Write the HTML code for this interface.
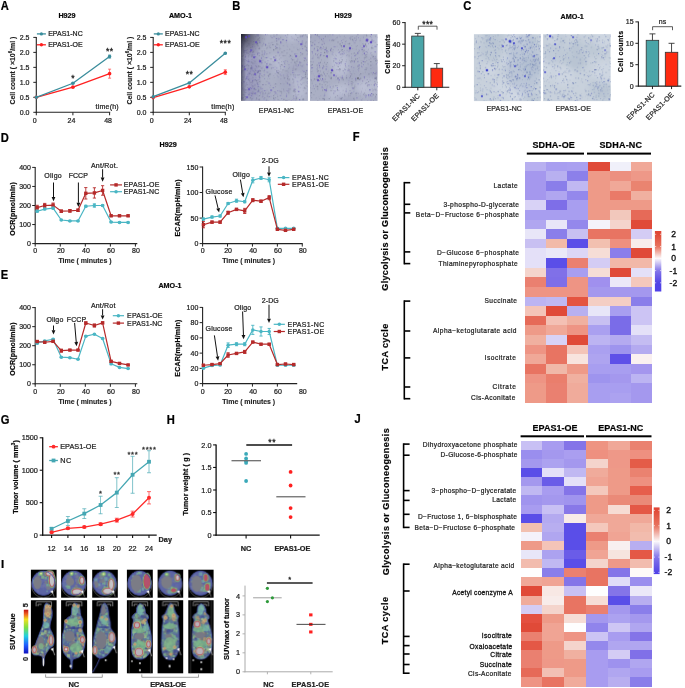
<!DOCTYPE html>
<html><head><meta charset="utf-8"><style>
html,body{margin:0;padding:0;background:#fff;}
body{width:685px;height:688px;overflow:hidden;}
svg{display:block;font-family:"Liberation Sans", sans-serif;will-change:transform;}
</style></head><body>
<svg width="685" height="688" viewBox="0 0 685 688">
<rect width="685" height="688" fill="#fff"/>
<text x="0.80" y="9.80" font-size="12.0" text-anchor="start" font-weight="bold" fill="#000" stroke="#000" stroke-width="0.22" textLength="8.06" lengthAdjust="spacingAndGlyphs">A</text>
<text x="67.00" y="18.20" font-size="7.2" text-anchor="middle" font-weight="bold" stroke="#1a1a1a" stroke-width="0.22">H929</text>
<line x1="36.30" y1="36.90" x2="36.30" y2="112.90" stroke="#222" stroke-width="1.1"/>
<line x1="35.80" y1="112.30" x2="110.20" y2="112.30" stroke="#222" stroke-width="1.1"/>
<line x1="33.30" y1="112.30" x2="36.30" y2="112.30" stroke="#222" stroke-width="1"/>
<text x="29.50" y="114.80" font-size="7" text-anchor="end" fill="#222" stroke="#222" stroke-width="0.22">0.0</text>
<line x1="33.30" y1="97.32" x2="36.30" y2="97.32" stroke="#222" stroke-width="1"/>
<text x="29.50" y="99.82" font-size="7" text-anchor="end" fill="#222" stroke="#222" stroke-width="0.22">0.5</text>
<line x1="33.30" y1="82.34" x2="36.30" y2="82.34" stroke="#222" stroke-width="1"/>
<text x="29.50" y="84.84" font-size="7" text-anchor="end" fill="#222" stroke="#222" stroke-width="0.22">1.0</text>
<line x1="33.30" y1="67.36" x2="36.30" y2="67.36" stroke="#222" stroke-width="1"/>
<text x="29.50" y="69.86" font-size="7" text-anchor="end" fill="#222" stroke="#222" stroke-width="0.22">1.5</text>
<line x1="33.30" y1="52.38" x2="36.30" y2="52.38" stroke="#222" stroke-width="1"/>
<text x="29.50" y="54.88" font-size="7" text-anchor="end" fill="#222" stroke="#222" stroke-width="0.22">2.0</text>
<line x1="33.30" y1="37.40" x2="36.30" y2="37.40" stroke="#222" stroke-width="1"/>
<text x="29.50" y="39.90" font-size="7" text-anchor="end" fill="#222" stroke="#222" stroke-width="0.22">2.5</text>
<line x1="36.30" y1="112.30" x2="36.30" y2="115.30" stroke="#222" stroke-width="1"/>
<text x="34.80" y="123.20" font-size="7" text-anchor="middle" fill="#222" stroke="#222" stroke-width="0.22">0</text>
<line x1="72.90" y1="112.30" x2="72.90" y2="115.30" stroke="#222" stroke-width="1"/>
<text x="71.40" y="123.20" font-size="7" text-anchor="middle" fill="#222" stroke="#222" stroke-width="0.22">24</text>
<line x1="109.60" y1="112.30" x2="109.60" y2="115.30" stroke="#222" stroke-width="1"/>
<text x="108.10" y="123.20" font-size="7" text-anchor="middle" fill="#222" stroke="#222" stroke-width="0.22">48</text>
<text x="118.60" y="108.70" font-size="7" text-anchor="end" fill="#222" stroke="#222" stroke-width="0.22" textLength="23.00" lengthAdjust="spacing">time(h)</text>
<text x="14.90" y="70.60" font-size="7" font-weight="bold" text-anchor="middle" fill="#1a1a1a" stroke="#1a1a1a" stroke-width="0.15" transform="rotate(-90 14.90 70.60)" textLength="68" lengthAdjust="spacing">Cell count ( ×10<tspan dy="-3" font-size="4.5">6</tspan><tspan dy="3">/ml )</tspan></text>
<polyline points="36.30,97.32 72.90,87.13 109.60,73.65" fill="none" stroke="#ff2020" stroke-width="1.3" stroke-linejoin="round"/>
<circle cx="36.30" cy="97.32" r="1.8" fill="#ff2020"/>
<line x1="72.90" y1="87.73" x2="72.90" y2="86.53" stroke="#ff5050" stroke-width="0.8"/>
<line x1="71.40" y1="86.53" x2="74.40" y2="86.53" stroke="#ff5050" stroke-width="0.8"/>
<line x1="71.40" y1="87.73" x2="74.40" y2="87.73" stroke="#ff5050" stroke-width="0.8"/>
<circle cx="72.90" cy="87.13" r="1.8" fill="#ff2020"/>
<line x1="109.60" y1="78.15" x2="109.60" y2="69.16" stroke="#ff5050" stroke-width="0.8"/>
<line x1="108.10" y1="69.16" x2="111.10" y2="69.16" stroke="#ff5050" stroke-width="0.8"/>
<line x1="108.10" y1="78.15" x2="111.10" y2="78.15" stroke="#ff5050" stroke-width="0.8"/>
<circle cx="109.60" cy="73.65" r="1.8" fill="#ff2020"/>
<polyline points="36.30,97.32 72.90,83.24 109.60,56.57" fill="none" stroke="#3a8d9c" stroke-width="1.3" stroke-linejoin="round"/>
<circle cx="36.30" cy="97.32" r="1.7" fill="#3a8d9c"/>
<line x1="72.90" y1="83.84" x2="72.90" y2="82.64" stroke="#3a8d9c" stroke-width="0.8"/>
<line x1="71.40" y1="82.64" x2="74.40" y2="82.64" stroke="#3a8d9c" stroke-width="0.8"/>
<line x1="71.40" y1="83.84" x2="74.40" y2="83.84" stroke="#3a8d9c" stroke-width="0.8"/>
<circle cx="72.90" cy="83.24" r="1.7" fill="#3a8d9c"/>
<line x1="109.60" y1="58.07" x2="109.60" y2="55.08" stroke="#3a8d9c" stroke-width="0.8"/>
<line x1="108.10" y1="55.08" x2="111.10" y2="55.08" stroke="#3a8d9c" stroke-width="0.8"/>
<line x1="108.10" y1="58.07" x2="111.10" y2="58.07" stroke="#3a8d9c" stroke-width="0.8"/>
<circle cx="109.60" cy="56.57" r="1.7" fill="#3a8d9c"/>
<text x="72.90" y="81.22" font-size="8.6" text-anchor="middle" fill="#222" stroke="#222" stroke-width="0.3">*</text>
<text x="107.65" y="53.72" font-size="8.6" text-anchor="middle" fill="#222" stroke="#222" stroke-width="0.3">*</text>
<text x="111.55" y="53.72" font-size="8.6" text-anchor="middle" fill="#222" stroke="#222" stroke-width="0.3">*</text>
<line x1="36.90" y1="33.90" x2="45.90" y2="33.90" stroke="#3a8d9c" stroke-width="1.3"/>
<circle cx="41.40" cy="33.90" r="1.6" fill="#3a8d9c"/>
<text x="48.20" y="36.40" font-size="7" text-anchor="start" fill="#222" stroke="#222" stroke-width="0.22" textLength="34.50" lengthAdjust="spacing">EPAS1-NC</text>
<line x1="36.90" y1="44.80" x2="45.90" y2="44.80" stroke="#ff2020" stroke-width="1.3"/>
<circle cx="41.40" cy="44.80" r="1.7" fill="#ff2020"/>
<text x="48.20" y="47.30" font-size="7" text-anchor="start" fill="#222" stroke="#222" stroke-width="0.22" textLength="34.50" lengthAdjust="spacing">EPAS1-OE</text>
<text x="180.50" y="18.20" font-size="7.2" text-anchor="middle" font-weight="bold" stroke="#1a1a1a" stroke-width="0.22">AMO-1</text>
<line x1="153.20" y1="36.90" x2="153.20" y2="112.90" stroke="#222" stroke-width="1.1"/>
<line x1="152.70" y1="112.30" x2="225.90" y2="112.30" stroke="#222" stroke-width="1.1"/>
<line x1="150.20" y1="112.30" x2="153.20" y2="112.30" stroke="#222" stroke-width="1"/>
<text x="146.40" y="114.80" font-size="7" text-anchor="end" fill="#222" stroke="#222" stroke-width="0.22">0.0</text>
<line x1="150.20" y1="97.32" x2="153.20" y2="97.32" stroke="#222" stroke-width="1"/>
<text x="146.40" y="99.82" font-size="7" text-anchor="end" fill="#222" stroke="#222" stroke-width="0.22">0.5</text>
<line x1="150.20" y1="82.34" x2="153.20" y2="82.34" stroke="#222" stroke-width="1"/>
<text x="146.40" y="84.84" font-size="7" text-anchor="end" fill="#222" stroke="#222" stroke-width="0.22">1.0</text>
<line x1="150.20" y1="67.36" x2="153.20" y2="67.36" stroke="#222" stroke-width="1"/>
<text x="146.40" y="69.86" font-size="7" text-anchor="end" fill="#222" stroke="#222" stroke-width="0.22">1.5</text>
<line x1="150.20" y1="52.38" x2="153.20" y2="52.38" stroke="#222" stroke-width="1"/>
<text x="146.40" y="54.88" font-size="7" text-anchor="end" fill="#222" stroke="#222" stroke-width="0.22">2.0</text>
<line x1="150.20" y1="37.40" x2="153.20" y2="37.40" stroke="#222" stroke-width="1"/>
<text x="146.40" y="39.90" font-size="7" text-anchor="end" fill="#222" stroke="#222" stroke-width="0.22">2.5</text>
<line x1="153.20" y1="112.30" x2="153.20" y2="115.30" stroke="#222" stroke-width="1"/>
<text x="151.70" y="123.20" font-size="7" text-anchor="middle" fill="#222" stroke="#222" stroke-width="0.22">0</text>
<line x1="189.30" y1="112.30" x2="189.30" y2="115.30" stroke="#222" stroke-width="1"/>
<text x="187.80" y="123.20" font-size="7" text-anchor="middle" fill="#222" stroke="#222" stroke-width="0.22">24</text>
<line x1="225.30" y1="112.30" x2="225.30" y2="115.30" stroke="#222" stroke-width="1"/>
<text x="223.80" y="123.20" font-size="7" text-anchor="middle" fill="#222" stroke="#222" stroke-width="0.22">48</text>
<text x="234.30" y="108.70" font-size="7" text-anchor="end" fill="#222" stroke="#222" stroke-width="0.22" textLength="23.00" lengthAdjust="spacing">time(h)</text>
<text x="131.80" y="70.60" font-size="7" font-weight="bold" text-anchor="middle" fill="#1a1a1a" stroke="#1a1a1a" stroke-width="0.15" transform="rotate(-90 131.80 70.60)" textLength="68" lengthAdjust="spacing">Cell count ( ×10<tspan dy="-3" font-size="4.5">6</tspan><tspan dy="3">/ml )</tspan></text>
<polyline points="153.20,97.62 189.30,86.83 225.30,72.15" fill="none" stroke="#ff2020" stroke-width="1.3" stroke-linejoin="round"/>
<circle cx="153.20" cy="97.62" r="1.8" fill="#ff2020"/>
<line x1="189.30" y1="87.43" x2="189.30" y2="86.23" stroke="#ff5050" stroke-width="0.8"/>
<line x1="187.80" y1="86.23" x2="190.80" y2="86.23" stroke="#ff5050" stroke-width="0.8"/>
<line x1="187.80" y1="87.43" x2="190.80" y2="87.43" stroke="#ff5050" stroke-width="0.8"/>
<circle cx="189.30" cy="86.83" r="1.8" fill="#ff2020"/>
<line x1="225.30" y1="74.55" x2="225.30" y2="69.76" stroke="#ff5050" stroke-width="0.8"/>
<line x1="223.80" y1="69.76" x2="226.80" y2="69.76" stroke="#ff5050" stroke-width="0.8"/>
<line x1="223.80" y1="74.55" x2="226.80" y2="74.55" stroke="#ff5050" stroke-width="0.8"/>
<circle cx="225.30" cy="72.15" r="1.8" fill="#ff2020"/>
<polyline points="153.20,96.72 189.30,82.94 225.30,53.28" fill="none" stroke="#3a8d9c" stroke-width="1.3" stroke-linejoin="round"/>
<circle cx="153.20" cy="96.72" r="1.7" fill="#3a8d9c"/>
<line x1="189.30" y1="83.54" x2="189.30" y2="82.34" stroke="#3a8d9c" stroke-width="0.8"/>
<line x1="187.80" y1="82.34" x2="190.80" y2="82.34" stroke="#3a8d9c" stroke-width="0.8"/>
<line x1="187.80" y1="83.54" x2="190.80" y2="83.54" stroke="#3a8d9c" stroke-width="0.8"/>
<circle cx="189.30" cy="82.94" r="1.7" fill="#3a8d9c"/>
<line x1="225.30" y1="53.88" x2="225.30" y2="52.68" stroke="#3a8d9c" stroke-width="0.8"/>
<line x1="223.80" y1="52.68" x2="226.80" y2="52.68" stroke="#3a8d9c" stroke-width="0.8"/>
<line x1="223.80" y1="53.88" x2="226.80" y2="53.88" stroke="#3a8d9c" stroke-width="0.8"/>
<circle cx="225.30" cy="53.28" r="1.7" fill="#3a8d9c"/>
<text x="187.35" y="76.52" font-size="8.6" text-anchor="middle" fill="#222" stroke="#222" stroke-width="0.3">*</text>
<text x="191.25" y="76.52" font-size="8.6" text-anchor="middle" fill="#222" stroke="#222" stroke-width="0.3">*</text>
<text x="221.40" y="46.42" font-size="8.6" text-anchor="middle" fill="#222" stroke="#222" stroke-width="0.3">*</text>
<text x="225.30" y="46.42" font-size="8.6" text-anchor="middle" fill="#222" stroke="#222" stroke-width="0.3">*</text>
<text x="229.20" y="46.42" font-size="8.6" text-anchor="middle" fill="#222" stroke="#222" stroke-width="0.3">*</text>
<line x1="153.80" y1="33.90" x2="162.80" y2="33.90" stroke="#3a8d9c" stroke-width="1.3"/>
<circle cx="158.30" cy="33.90" r="1.6" fill="#3a8d9c"/>
<text x="165.10" y="36.40" font-size="7" text-anchor="start" fill="#222" stroke="#222" stroke-width="0.22" textLength="34.50" lengthAdjust="spacing">EPAS1-NC</text>
<line x1="153.80" y1="44.80" x2="162.80" y2="44.80" stroke="#ff2020" stroke-width="1.3"/>
<circle cx="158.30" cy="44.80" r="1.7" fill="#ff2020"/>
<text x="165.10" y="47.30" font-size="7" text-anchor="start" fill="#222" stroke="#222" stroke-width="0.22" textLength="34.50" lengthAdjust="spacing">EPAS1-OE</text>
<text x="232.20" y="9.80" font-size="12.0" text-anchor="start" font-weight="bold" fill="#000" stroke="#000" stroke-width="0.22" textLength="8.06" lengthAdjust="spacingAndGlyphs">B</text>
<text x="463.30" y="9.80" font-size="12.0" text-anchor="start" font-weight="bold" fill="#000" stroke="#000" stroke-width="0.22" textLength="8.06" lengthAdjust="spacingAndGlyphs">C</text>
<defs><filter id="mb" x="-10%" y="-10%" width="120%" height="120%"><feGaussianBlur stdDeviation="2.5"/></filter></defs>
<g><rect x="241.1" y="34.2" width="66.8" height="66.7" fill="#aaafc4"/><svg x="241.1" y="34.2" width="66.8" height="66.7" overflow="hidden"><g transform="translate(-241.1,-34.2)"><g filter="url(#mb)"><circle cx="250.1" cy="90.7" r="10.1" fill="#9ea2bc" opacity="0.45"/><circle cx="274.2" cy="64.2" r="9.2" fill="#c8cce0" opacity="0.45"/><circle cx="247.4" cy="36.1" r="10.7" fill="#9ea2bc" opacity="0.45"/><circle cx="292.0" cy="34.3" r="7.6" fill="#c8cce0" opacity="0.45"/><circle cx="256.4" cy="97.2" r="11.2" fill="#9ea2bc" opacity="0.45"/><circle cx="242.8" cy="70.3" r="11.5" fill="#9ea2bc" opacity="0.45"/><circle cx="255.6" cy="62.4" r="4.2" fill="#9ea2bc" opacity="0.45"/><circle cx="270.4" cy="67.3" r="5.9" fill="#9ea2bc" opacity="0.45"/><circle cx="255.7" cy="64.9" r="6.3" fill="#9ea2bc" opacity="0.45"/><circle cx="297.1" cy="71.3" r="9.1" fill="#9ea2bc" opacity="0.45"/><circle cx="307.4" cy="91.6" r="5.0" fill="#9ea2bc" opacity="0.45"/><circle cx="289.3" cy="81.6" r="11.5" fill="#9ea2bc" opacity="0.45"/><circle cx="296.5" cy="78.9" r="6.4" fill="#c8cce0" opacity="0.45"/><circle cx="300.0" cy="90.6" r="8.0" fill="#c8cce0" opacity="0.45"/><ellipse cx="250.1" cy="69.7" rx="9.0" ry="30.5" fill="#8a84b4" opacity="0.35"/></g><path d="M243.4,50.4h1.0v1.0h-1.0zM252.7,70.8h0.9v0.9h-0.9zM293.4,88.9h1.0v1.0h-1.0zM300.3,83.6h0.7v0.7h-0.7zM282.0,64.8h0.9v0.9h-0.9zM286.1,39.8h0.9v0.9h-0.9zM248.4,75.9h1.1v1.1h-1.1zM269.2,46.7h1.1v1.1h-1.1zM290.8,62.0h0.9v0.9h-0.9zM260.9,67.5h1.2v1.2h-1.2zM262.8,92.3h0.8v0.8h-0.8zM303.4,57.1h0.7v0.7h-0.7zM293.7,89.5h1.0v1.0h-1.0zM301.8,53.8h1.0v1.0h-1.0zM294.8,94.7h0.6v0.6h-0.6zM270.0,44.7h0.7v0.7h-0.7zM264.8,43.4h0.9v0.9h-0.9zM287.4,90.8h0.8v0.8h-0.8zM306.0,59.7h1.1v1.1h-1.1zM291.9,99.1h0.8v0.8h-0.8zM276.4,34.3h1.1v1.1h-1.1zM270.6,64.2h1.1v1.1h-1.1zM293.4,79.8h0.8v0.8h-0.8zM296.7,66.5h0.8v0.8h-0.8zM272.3,37.2h0.7v0.7h-0.7zM287.1,74.6h1.1v1.1h-1.1zM255.1,48.1h0.9v0.9h-0.9zM288.3,90.5h1.1v1.1h-1.1zM274.2,59.4h0.8v0.8h-0.8zM295.9,65.1h0.8v0.8h-0.8zM288.9,56.2h0.8v0.8h-0.8zM257.9,99.3h1.0v1.0h-1.0zM270.7,42.8h0.7v0.7h-0.7zM267.5,81.4h0.8v0.8h-0.8zM276.1,40.2h1.2v1.2h-1.2zM251.6,58.9h1.0v1.0h-1.0zM244.0,88.6h1.1v1.1h-1.1zM268.0,65.2h0.8v0.8h-0.8zM246.3,39.1h1.0v1.0h-1.0zM260.1,93.6h0.9v0.9h-0.9zM300.9,78.9h1.1v1.1h-1.1zM301.1,95.9h0.7v0.7h-0.7zM242.3,45.7h0.7v0.7h-0.7zM293.0,66.6h1.0v1.0h-1.0zM247.2,42.8h0.7v0.7h-0.7zM242.8,51.1h0.7v0.7h-0.7zM296.8,40.1h0.8v0.8h-0.8zM260.8,68.1h0.9v0.9h-0.9zM266.9,94.6h1.1v1.1h-1.1zM268.9,93.4h0.8v0.8h-0.8zM274.0,93.9h0.9v0.9h-0.9zM286.6,99.9h1.2v1.2h-1.2zM243.2,43.5h1.1v1.1h-1.1zM299.2,61.2h1.2v1.2h-1.2zM277.6,50.9h0.8v0.8h-0.8zM272.7,61.1h0.8v0.8h-0.8zM289.4,79.9h0.7v0.7h-0.7zM275.0,58.0h0.9v0.9h-0.9zM257.5,88.1h0.6v0.6h-0.6zM293.5,65.0h0.8v0.8h-0.8zM292.7,82.4h1.1v1.1h-1.1zM251.5,99.0h0.8v0.8h-0.8zM287.9,80.3h0.6v0.6h-0.6zM249.1,77.1h0.6v0.6h-0.6zM293.2,75.7h1.1v1.1h-1.1zM279.7,71.1h0.8v0.8h-0.8zM274.7,91.2h1.2v1.2h-1.2zM271.4,37.2h1.1v1.1h-1.1zM286.4,37.0h1.0v1.0h-1.0zM307.3,89.9h0.6v0.6h-0.6zM251.8,55.9h0.9v0.9h-0.9zM299.5,99.3h0.9v0.9h-0.9zM296.0,39.2h1.0v1.0h-1.0zM262.2,95.9h1.2v1.2h-1.2zM258.9,47.3h1.1v1.1h-1.1zM257.8,81.7h1.1v1.1h-1.1zM256.8,51.9h1.0v1.0h-1.0zM246.6,69.6h0.8v0.8h-0.8zM241.3,58.2h1.1v1.1h-1.1zM256.4,43.2h1.2v1.2h-1.2zM241.4,50.5h0.6v0.6h-0.6zM245.6,51.1h0.6v0.6h-0.6zM241.4,47.0h0.7v0.7h-0.7zM255.2,77.4h0.7v0.7h-0.7zM243.6,53.1h0.6v0.6h-0.6zM246.7,90.1h0.6v0.6h-0.6zM247.5,79.1h1.1v1.1h-1.1zM245.6,84.4h1.2v1.2h-1.2zM251.4,81.9h1.2v1.2h-1.2zM251.2,69.5h0.9v0.9h-0.9zM241.3,72.9h0.8v0.8h-0.8z" fill="#8a86b0" opacity="0.7"/><path d="M294.4,61.8h1.1v1.1h-1.1zM267.5,72.6h0.7v0.7h-0.7zM288.1,68.1h0.7v0.7h-0.7zM300.0,80.0h0.6v0.6h-0.6zM256.8,82.6h1.1v1.1h-1.1zM246.6,52.0h1.0v1.0h-1.0zM258.0,38.5h0.8v0.8h-0.8zM296.5,60.7h1.0v1.0h-1.0zM273.1,49.2h1.2v1.2h-1.2zM260.1,70.4h1.0v1.0h-1.0zM250.2,67.6h0.6v0.6h-0.6zM282.5,69.6h0.9v0.9h-0.9zM281.6,51.7h0.9v0.9h-0.9zM302.1,35.2h0.8v0.8h-0.8zM247.2,36.0h1.0v1.0h-1.0zM290.0,55.1h1.1v1.1h-1.1zM257.5,71.4h1.2v1.2h-1.2zM303.1,98.9h0.9v0.9h-0.9zM293.5,81.1h0.7v0.7h-0.7zM300.7,62.6h0.7v0.7h-0.7zM287.3,34.6h0.9v0.9h-0.9zM276.2,70.4h1.0v1.0h-1.0zM295.8,97.8h0.8v0.8h-0.8zM273.1,97.7h1.2v1.2h-1.2zM307.2,78.0h1.0v1.0h-1.0zM297.4,49.4h0.8v0.8h-0.8zM259.4,81.3h1.0v1.0h-1.0zM254.1,71.6h0.8v0.8h-0.8zM265.7,65.6h0.8v0.8h-0.8zM246.3,82.6h0.9v0.9h-0.9zM259.1,37.5h0.9v0.9h-0.9zM267.8,96.5h0.6v0.6h-0.6zM275.5,55.7h0.8v0.8h-0.8zM297.4,74.6h0.9v0.9h-0.9zM302.5,77.1h1.1v1.1h-1.1zM241.1,37.0h1.2v1.2h-1.2zM257.1,71.7h0.6v0.6h-0.6zM287.8,76.5h0.8v0.8h-0.8zM277.3,72.3h1.0v1.0h-1.0zM292.3,78.7h1.1v1.1h-1.1zM272.3,44.1h1.2v1.2h-1.2zM245.0,89.5h0.9v0.9h-0.9zM292.1,59.4h1.0v1.0h-1.0zM305.0,73.9h1.1v1.1h-1.1zM294.3,90.4h0.9v0.9h-0.9zM283.2,88.9h0.8v0.8h-0.8zM277.9,72.5h1.1v1.1h-1.1zM258.7,48.2h1.0v1.0h-1.0zM270.6,58.5h1.0v1.0h-1.0zM289.4,48.9h0.8v0.8h-0.8zM258.0,71.0h1.2v1.2h-1.2zM258.2,90.0h0.7v0.7h-0.7zM250.1,68.3h0.8v0.8h-0.8zM252.4,62.6h1.0v1.0h-1.0zM247.5,87.1h0.8v0.8h-0.8zM246.4,64.8h0.8v0.8h-0.8zM250.6,67.3h1.0v1.0h-1.0zM244.7,96.4h0.9v0.9h-0.9zM254.6,84.9h0.7v0.7h-0.7zM246.3,60.2h0.7v0.7h-0.7zM256.8,82.6h0.8v0.8h-0.8zM241.7,55.7h1.2v1.2h-1.2zM256.2,80.1h1.0v1.0h-1.0zM246.8,84.4h0.9v0.9h-0.9zM252.0,93.5h0.9v0.9h-0.9zM251.4,68.5h0.7v0.7h-0.7zM248.6,43.6h0.7v0.7h-0.7zM241.8,70.1h0.8v0.8h-0.8zM256.9,42.8h1.2v1.2h-1.2zM249.3,72.9h1.2v1.2h-1.2z" fill="#656a88" opacity="0.7"/><path d="M288.1,79.2h0.7v0.7h-0.7zM278.6,62.6h1.1v1.1h-1.1zM279.2,47.5h1.0v1.0h-1.0zM264.1,38.8h0.9v0.9h-0.9zM251.8,69.4h1.1v1.1h-1.1zM281.6,88.7h0.6v0.6h-0.6zM286.4,70.5h0.9v0.9h-0.9zM262.6,76.3h0.9v0.9h-0.9zM299.8,36.7h0.8v0.8h-0.8zM270.0,47.1h1.1v1.1h-1.1zM307.0,86.4h0.6v0.6h-0.6zM263.8,48.4h0.6v0.6h-0.6zM296.4,35.0h0.8v0.8h-0.8zM262.0,38.4h0.9v0.9h-0.9zM263.4,70.5h1.1v1.1h-1.1zM293.0,99.9h0.7v0.7h-0.7zM305.5,88.1h0.9v0.9h-0.9zM298.3,94.0h1.0v1.0h-1.0zM286.6,82.0h1.2v1.2h-1.2zM264.3,68.6h0.8v0.8h-0.8zM252.1,82.9h0.7v0.7h-0.7zM295.1,76.1h0.6v0.6h-0.6zM296.5,68.3h0.7v0.7h-0.7zM267.1,62.6h0.7v0.7h-0.7zM275.0,97.3h0.8v0.8h-0.8zM299.0,56.2h0.6v0.6h-0.6zM243.1,94.2h1.1v1.1h-1.1zM280.8,94.9h0.8v0.8h-0.8zM262.4,59.8h1.1v1.1h-1.1zM291.8,44.4h0.8v0.8h-0.8zM283.7,83.9h0.6v0.6h-0.6zM280.5,57.5h1.0v1.0h-1.0zM275.9,40.7h0.9v0.9h-0.9zM287.0,71.7h0.7v0.7h-0.7zM297.9,77.1h0.7v0.7h-0.7zM286.2,70.5h0.9v0.9h-0.9zM289.6,88.5h1.2v1.2h-1.2zM287.3,63.1h0.6v0.6h-0.6zM267.1,78.8h0.7v0.7h-0.7zM254.5,68.9h1.0v1.0h-1.0zM307.4,53.4h0.7v0.7h-0.7zM259.0,70.3h0.9v0.9h-0.9zM254.4,72.1h1.2v1.2h-1.2zM241.4,35.5h1.0v1.0h-1.0zM275.7,35.7h0.7v0.7h-0.7zM257.9,85.6h1.2v1.2h-1.2zM286.6,36.9h0.6v0.6h-0.6zM248.0,55.3h1.1v1.1h-1.1zM286.5,52.5h1.1v1.1h-1.1zM286.5,75.6h0.9v0.9h-0.9zM277.8,37.8h1.1v1.1h-1.1zM248.0,59.1h1.0v1.0h-1.0zM259.2,99.8h0.8v0.8h-0.8zM242.5,94.1h0.7v0.7h-0.7zM305.9,78.0h0.9v0.9h-0.9zM303.0,90.2h0.8v0.8h-0.8zM264.0,50.2h1.0v1.0h-1.0zM280.2,68.4h1.1v1.1h-1.1zM303.6,82.5h0.8v0.8h-0.8zM269.0,45.4h0.8v0.8h-0.8zM267.2,47.3h0.7v0.7h-0.7zM286.7,73.6h0.8v0.8h-0.8zM301.7,53.2h1.0v1.0h-1.0zM267.6,100.4h1.1v1.1h-1.1zM260.0,82.6h0.7v0.7h-0.7zM259.6,66.2h1.0v1.0h-1.0zM249.9,61.9h0.6v0.6h-0.6zM249.0,78.4h0.9v0.9h-0.9zM241.2,85.0h0.7v0.7h-0.7zM245.3,97.9h1.2v1.2h-1.2zM251.4,61.5h1.0v1.0h-1.0zM242.7,69.2h0.9v0.9h-0.9zM247.1,64.0h1.2v1.2h-1.2zM242.8,47.5h1.1v1.1h-1.1zM251.6,68.2h0.6v0.6h-0.6zM242.2,79.4h1.1v1.1h-1.1zM257.6,87.7h0.6v0.6h-0.6zM251.2,84.5h0.8v0.8h-0.8zM244.1,75.1h0.7v0.7h-0.7zM258.9,59.3h1.2v1.2h-1.2z" fill="#656a88" opacity="0.3"/><path d="M266.1,63.5h0.9v0.9h-0.9zM258.0,34.8h0.9v0.9h-0.9zM297.3,58.8h1.0v1.0h-1.0zM246.0,92.0h0.9v0.9h-0.9zM302.9,64.7h0.7v0.7h-0.7zM259.6,86.7h0.9v0.9h-0.9zM261.6,56.0h0.7v0.7h-0.7zM262.3,90.7h0.7v0.7h-0.7zM274.0,91.7h0.7v0.7h-0.7zM287.2,46.1h0.7v0.7h-0.7zM277.8,70.3h0.9v0.9h-0.9zM279.2,38.4h1.0v1.0h-1.0zM259.5,77.3h1.0v1.0h-1.0zM251.8,85.3h1.1v1.1h-1.1zM270.8,95.9h0.7v0.7h-0.7zM249.5,94.8h0.6v0.6h-0.6zM257.7,84.2h1.0v1.0h-1.0zM283.0,74.6h1.0v1.0h-1.0zM296.9,48.0h0.6v0.6h-0.6zM306.1,70.6h0.7v0.7h-0.7zM273.9,91.3h0.8v0.8h-0.8zM290.8,100.1h1.0v1.0h-1.0zM283.2,61.3h1.0v1.0h-1.0zM287.2,61.0h0.9v0.9h-0.9zM256.6,71.6h0.9v0.9h-0.9zM256.0,98.5h0.8v0.8h-0.8zM306.1,63.8h0.9v0.9h-0.9zM288.1,88.6h0.9v0.9h-0.9zM252.4,49.7h1.1v1.1h-1.1zM287.0,90.6h0.8v0.8h-0.8zM244.6,40.3h1.1v1.1h-1.1zM265.8,99.9h1.2v1.2h-1.2zM293.4,98.0h1.1v1.1h-1.1zM307.1,82.2h0.6v0.6h-0.6zM276.9,94.0h0.8v0.8h-0.8zM262.8,84.1h1.1v1.1h-1.1zM291.0,58.3h1.0v1.0h-1.0zM297.7,81.6h0.8v0.8h-0.8zM253.8,54.2h1.0v1.0h-1.0zM300.4,84.0h0.8v0.8h-0.8zM258.5,91.4h0.8v0.8h-0.8zM306.0,82.0h0.8v0.8h-0.8zM301.6,41.9h1.2v1.2h-1.2zM270.5,84.9h0.7v0.7h-0.7zM281.1,98.2h1.1v1.1h-1.1zM263.1,43.5h0.8v0.8h-0.8zM263.5,93.5h0.9v0.9h-0.9zM266.5,71.7h0.9v0.9h-0.9zM301.8,77.9h1.0v1.0h-1.0zM286.1,93.7h1.0v1.0h-1.0zM272.6,67.1h1.2v1.2h-1.2zM248.4,35.9h1.1v1.1h-1.1zM294.8,99.7h1.0v1.0h-1.0zM261.9,52.7h1.1v1.1h-1.1zM267.5,60.2h1.1v1.1h-1.1zM279.0,90.6h1.0v1.0h-1.0zM293.6,38.0h0.7v0.7h-0.7zM247.0,89.4h0.7v0.7h-0.7zM255.1,65.1h0.9v0.9h-0.9zM260.5,88.2h1.2v1.2h-1.2zM258.1,34.4h1.0v1.0h-1.0zM301.8,40.5h1.2v1.2h-1.2zM245.4,94.6h0.7v0.7h-0.7zM259.7,91.9h1.2v1.2h-1.2zM244.8,98.4h1.1v1.1h-1.1zM263.5,98.5h1.1v1.1h-1.1zM241.7,71.4h1.1v1.1h-1.1zM244.9,56.8h0.8v0.8h-0.8zM242.4,64.8h0.8v0.8h-0.8zM246.7,76.1h1.2v1.2h-1.2zM241.4,59.8h0.9v0.9h-0.9zM252.4,54.1h1.0v1.0h-1.0zM248.2,52.0h0.7v0.7h-0.7zM241.1,82.2h1.2v1.2h-1.2zM245.3,52.1h0.9v0.9h-0.9zM243.7,90.0h1.0v1.0h-1.0zM251.7,66.2h0.8v0.8h-0.8zM250.3,60.9h0.6v0.6h-0.6zM247.3,74.3h1.1v1.1h-1.1zM251.3,92.5h1.1v1.1h-1.1zM241.3,53.5h0.7v0.7h-0.7zM244.2,76.8h0.7v0.7h-0.7z" fill="#5a4ab0" opacity="0.3"/><path d="M275.1,86.1h0.8v0.8h-0.8zM305.0,34.6h0.9v0.9h-0.9zM295.2,68.8h1.2v1.2h-1.2zM244.8,92.2h1.0v1.0h-1.0zM255.8,99.3h0.7v0.7h-0.7zM245.0,54.1h0.7v0.7h-0.7zM295.8,98.4h1.1v1.1h-1.1zM266.4,98.9h0.9v0.9h-0.9zM247.8,77.7h0.6v0.6h-0.6zM243.7,34.9h1.2v1.2h-1.2zM302.1,98.9h1.1v1.1h-1.1zM302.5,53.8h0.7v0.7h-0.7zM258.3,35.8h0.7v0.7h-0.7zM305.2,72.3h1.2v1.2h-1.2zM259.0,95.1h1.1v1.1h-1.1zM252.1,55.9h0.9v0.9h-0.9zM266.7,53.1h0.6v0.6h-0.6zM266.3,47.8h1.0v1.0h-1.0zM301.1,84.1h0.8v0.8h-0.8zM283.9,77.5h1.1v1.1h-1.1zM295.6,74.6h0.8v0.8h-0.8zM259.1,74.9h1.0v1.0h-1.0zM252.6,86.9h0.7v0.7h-0.7zM282.7,55.3h1.0v1.0h-1.0zM276.3,43.4h1.2v1.2h-1.2zM289.1,54.6h0.6v0.6h-0.6zM249.0,80.4h1.0v1.0h-1.0zM267.8,92.9h1.0v1.0h-1.0zM296.7,53.6h0.7v0.7h-0.7zM284.6,55.1h0.9v0.9h-0.9zM273.1,95.1h1.0v1.0h-1.0zM250.1,69.1h0.7v0.7h-0.7zM301.7,46.5h0.8v0.8h-0.8zM244.4,40.8h1.1v1.1h-1.1zM305.9,70.4h1.0v1.0h-1.0zM261.7,54.3h1.1v1.1h-1.1zM278.9,58.8h0.8v0.8h-0.8zM272.1,87.3h0.6v0.6h-0.6zM275.4,83.5h0.8v0.8h-0.8zM268.6,42.9h0.8v0.8h-0.8zM246.7,49.2h1.0v1.0h-1.0zM259.2,69.6h0.7v0.7h-0.7zM299.8,48.6h0.6v0.6h-0.6zM300.1,64.9h0.7v0.7h-0.7zM265.0,44.8h1.2v1.2h-1.2zM262.1,92.9h0.9v0.9h-0.9zM295.6,63.6h1.0v1.0h-1.0zM254.0,63.6h0.6v0.6h-0.6zM296.3,97.4h0.9v0.9h-0.9zM249.8,51.1h0.9v0.9h-0.9zM280.7,75.2h0.8v0.8h-0.8zM249.8,71.5h0.7v0.7h-0.7zM265.1,92.7h1.1v1.1h-1.1zM269.6,73.5h1.2v1.2h-1.2zM280.0,66.5h1.0v1.0h-1.0zM295.2,34.4h0.9v0.9h-0.9zM258.8,98.8h1.1v1.1h-1.1zM306.1,47.4h1.0v1.0h-1.0zM303.4,34.8h0.8v0.8h-0.8zM248.2,79.1h1.2v1.2h-1.2zM257.9,65.2h0.6v0.6h-0.6zM252.4,79.7h0.7v0.7h-0.7zM253.3,74.3h1.1v1.1h-1.1zM252.0,55.0h0.8v0.8h-0.8zM243.8,99.6h0.7v0.7h-0.7zM258.9,55.3h0.9v0.9h-0.9zM257.1,53.8h1.0v1.0h-1.0zM251.1,66.8h1.0v1.0h-1.0zM248.1,65.2h1.1v1.1h-1.1zM254.7,61.8h0.7v0.7h-0.7zM245.3,78.5h1.1v1.1h-1.1zM243.3,97.1h0.8v0.8h-0.8zM248.4,61.1h1.2v1.2h-1.2zM257.4,72.3h0.7v0.7h-0.7zM248.9,92.4h0.7v0.7h-0.7zM252.1,80.6h1.0v1.0h-1.0zM252.7,51.2h1.2v1.2h-1.2zM246.8,68.5h0.9v0.9h-0.9zM256.6,40.4h0.9v0.9h-0.9zM257.8,52.5h0.8v0.8h-0.8zM255.9,65.9h1.0v1.0h-1.0zM256.1,97.4h1.0v1.0h-1.0zM243.9,39.6h1.0v1.0h-1.0z" fill="#656a88" opacity="0.5"/><path d="M275.9,60.4h0.9v0.9h-0.9zM244.0,81.1h0.8v0.8h-0.8zM279.7,64.8h1.2v1.2h-1.2zM259.1,70.8h0.9v0.9h-0.9zM291.6,50.8h0.9v0.9h-0.9zM294.4,68.7h0.9v0.9h-0.9zM301.2,35.4h1.0v1.0h-1.0zM254.5,56.1h0.9v0.9h-0.9zM286.2,90.1h1.1v1.1h-1.1zM273.5,99.9h0.8v0.8h-0.8zM293.3,59.4h1.1v1.1h-1.1zM307.1,62.3h0.7v0.7h-0.7zM248.0,94.9h0.8v0.8h-0.8zM258.0,66.0h1.1v1.1h-1.1zM305.9,41.6h1.0v1.0h-1.0zM258.4,70.3h0.6v0.6h-0.6zM257.5,35.6h1.0v1.0h-1.0zM294.2,39.3h0.8v0.8h-0.8zM248.2,68.5h1.1v1.1h-1.1zM297.3,84.0h0.9v0.9h-0.9zM298.0,64.4h0.9v0.9h-0.9zM291.7,37.7h1.1v1.1h-1.1zM285.2,80.9h0.7v0.7h-0.7zM249.0,84.0h0.9v0.9h-0.9zM277.5,98.6h0.7v0.7h-0.7zM296.9,61.5h0.6v0.6h-0.6zM261.5,45.6h1.2v1.2h-1.2zM268.2,91.6h0.9v0.9h-0.9zM274.0,83.9h0.8v0.8h-0.8zM293.6,46.9h0.8v0.8h-0.8zM282.9,45.2h0.9v0.9h-0.9zM250.3,81.9h1.2v1.2h-1.2zM265.2,84.3h0.9v0.9h-0.9zM279.8,48.3h1.0v1.0h-1.0zM250.8,78.5h1.0v1.0h-1.0zM297.2,94.6h0.9v0.9h-0.9zM285.4,60.2h1.0v1.0h-1.0zM295.4,65.5h0.7v0.7h-0.7zM243.4,59.8h0.9v0.9h-0.9zM295.0,91.3h0.8v0.8h-0.8zM263.2,56.8h0.7v0.7h-0.7zM304.0,77.1h1.0v1.0h-1.0zM283.3,69.3h0.7v0.7h-0.7zM307.8,51.3h0.9v0.9h-0.9zM254.6,84.0h1.2v1.2h-1.2zM279.3,71.0h0.7v0.7h-0.7zM276.7,74.8h0.8v0.8h-0.8zM287.2,77.2h1.1v1.1h-1.1zM295.3,93.7h1.1v1.1h-1.1zM263.1,42.7h1.1v1.1h-1.1zM300.2,62.4h0.7v0.7h-0.7zM301.1,76.4h1.0v1.0h-1.0zM297.3,90.8h0.9v0.9h-0.9zM249.0,74.3h0.9v0.9h-0.9zM294.5,74.5h1.2v1.2h-1.2zM268.4,74.6h0.8v0.8h-0.8zM266.2,53.8h0.8v0.8h-0.8zM252.6,77.1h1.2v1.2h-1.2zM266.7,89.8h0.8v0.8h-0.8zM267.0,71.5h0.7v0.7h-0.7zM289.9,56.6h0.6v0.6h-0.6zM250.6,51.2h0.9v0.9h-0.9zM249.7,70.1h1.0v1.0h-1.0zM264.9,90.1h1.1v1.1h-1.1zM256.1,81.5h1.0v1.0h-1.0zM291.5,51.2h1.0v1.0h-1.0zM255.0,68.1h1.1v1.1h-1.1zM266.7,95.8h1.1v1.1h-1.1zM273.3,75.1h0.9v0.9h-0.9zM269.2,52.3h1.2v1.2h-1.2zM306.7,86.0h0.7v0.7h-0.7zM252.9,44.1h0.6v0.6h-0.6zM293.7,85.9h0.8v0.8h-0.8zM283.5,90.7h1.1v1.1h-1.1zM255.4,94.0h0.9v0.9h-0.9zM252.5,96.6h0.8v0.8h-0.8zM298.5,43.1h0.8v0.8h-0.8zM280.4,78.5h1.0v1.0h-1.0zM248.8,42.9h0.7v0.7h-0.7zM242.6,89.0h1.1v1.1h-1.1zM253.8,60.2h0.7v0.7h-0.7zM241.9,67.1h1.2v1.2h-1.2zM249.1,81.9h0.7v0.7h-0.7zM251.7,87.2h0.9v0.9h-0.9zM242.6,46.5h0.6v0.6h-0.6zM252.0,76.9h0.9v0.9h-0.9zM254.5,92.8h1.0v1.0h-1.0zM251.6,57.0h0.6v0.6h-0.6zM250.1,92.3h0.7v0.7h-0.7zM257.7,98.9h0.6v0.6h-0.6zM241.3,52.1h0.6v0.6h-0.6zM245.0,50.0h1.0v1.0h-1.0zM254.5,46.3h0.9v0.9h-0.9zM245.6,65.0h1.0v1.0h-1.0zM247.4,66.9h0.9v0.9h-0.9zM256.9,94.8h0.8v0.8h-0.8zM257.0,71.7h1.1v1.1h-1.1zM257.7,96.0h0.9v0.9h-0.9zM258.8,83.5h0.9v0.9h-0.9zM252.2,98.1h1.0v1.0h-1.0zM244.9,54.3h0.9v0.9h-0.9zM256.4,59.2h0.6v0.6h-0.6zM253.7,39.6h0.7v0.7h-0.7zM247.7,93.5h0.9v0.9h-0.9zM244.0,61.3h1.0v1.0h-1.0zM242.0,61.2h0.8v0.8h-0.8zM251.3,100.0h0.7v0.7h-0.7zM244.3,59.2h0.9v0.9h-0.9zM246.9,60.7h0.9v0.9h-0.9zM248.2,71.1h0.8v0.8h-0.8zM246.6,44.6h1.0v1.0h-1.0zM258.9,99.8h0.7v0.7h-0.7zM252.2,58.0h0.6v0.6h-0.6z" fill="#8a86b0" opacity="0.5"/><path d="M273.8,36.2h0.7v0.7h-0.7zM274.6,99.7h0.6v0.6h-0.6zM292.6,70.2h0.7v0.7h-0.7zM299.1,99.2h0.9v0.9h-0.9zM266.3,57.3h1.0v1.0h-1.0zM302.0,48.4h0.9v0.9h-0.9zM285.9,40.3h0.9v0.9h-0.9zM306.6,70.4h0.7v0.7h-0.7zM246.5,52.9h0.8v0.8h-0.8zM306.8,64.1h0.8v0.8h-0.8zM279.8,74.0h0.8v0.8h-0.8zM277.9,38.9h0.8v0.8h-0.8zM251.4,67.6h1.2v1.2h-1.2zM256.7,34.7h1.0v1.0h-1.0zM257.9,79.8h0.7v0.7h-0.7zM292.5,72.3h0.9v0.9h-0.9zM261.5,60.8h0.6v0.6h-0.6zM265.1,34.4h0.8v0.8h-0.8zM285.0,35.5h0.7v0.7h-0.7zM300.3,52.1h0.9v0.9h-0.9zM246.1,89.6h0.6v0.6h-0.6zM264.0,90.1h0.9v0.9h-0.9zM279.9,95.5h0.7v0.7h-0.7zM244.9,59.5h0.6v0.6h-0.6zM259.4,42.0h1.0v1.0h-1.0zM245.1,96.6h0.8v0.8h-0.8zM276.0,38.3h1.0v1.0h-1.0zM254.4,92.9h1.0v1.0h-1.0zM289.3,84.4h1.1v1.1h-1.1zM298.2,91.0h1.2v1.2h-1.2zM249.8,87.2h1.0v1.0h-1.0zM261.4,62.5h1.0v1.0h-1.0zM296.9,81.0h0.6v0.6h-0.6zM261.0,57.7h1.1v1.1h-1.1zM251.0,95.2h0.6v0.6h-0.6zM277.6,51.9h1.1v1.1h-1.1zM298.0,64.8h0.9v0.9h-0.9zM273.3,56.6h1.0v1.0h-1.0zM258.8,52.8h0.8v0.8h-0.8zM273.1,87.1h0.9v0.9h-0.9zM298.4,86.7h0.8v0.8h-0.8zM298.1,41.3h0.6v0.6h-0.6zM245.0,55.9h1.0v1.0h-1.0zM250.5,51.3h0.7v0.7h-0.7zM263.9,74.3h0.7v0.7h-0.7zM304.5,57.7h1.2v1.2h-1.2zM277.5,90.5h0.7v0.7h-0.7zM266.6,63.5h0.9v0.9h-0.9zM241.6,97.7h1.0v1.0h-1.0zM269.3,96.5h0.7v0.7h-0.7zM244.7,65.6h0.8v0.8h-0.8zM294.7,88.9h1.0v1.0h-1.0zM283.9,66.1h1.0v1.0h-1.0zM277.0,47.4h0.7v0.7h-0.7zM282.9,39.3h0.7v0.7h-0.7zM246.1,50.3h0.6v0.6h-0.6zM264.3,69.9h0.7v0.7h-0.7zM262.2,88.4h0.6v0.6h-0.6zM259.0,76.8h1.0v1.0h-1.0zM286.0,95.7h1.1v1.1h-1.1zM280.3,42.4h1.1v1.1h-1.1zM241.5,45.6h0.8v0.8h-0.8zM253.7,88.3h1.1v1.1h-1.1zM255.4,92.8h0.7v0.7h-0.7zM252.0,46.1h0.9v0.9h-0.9zM257.6,90.7h1.1v1.1h-1.1zM257.3,72.1h0.9v0.9h-0.9zM246.4,77.9h1.1v1.1h-1.1zM242.0,65.5h1.1v1.1h-1.1zM252.1,80.4h0.8v0.8h-0.8zM244.0,66.2h1.0v1.0h-1.0zM252.9,70.3h0.6v0.6h-0.6zM243.3,55.2h0.6v0.6h-0.6zM255.3,56.4h0.8v0.8h-0.8z" fill="#5a4ab0" opacity="0.7"/><path d="M306.8,73.8h1.1v1.1h-1.1zM267.4,45.6h1.1v1.1h-1.1zM242.7,60.0h0.8v0.8h-0.8zM250.9,82.1h0.9v0.9h-0.9zM251.8,81.2h1.1v1.1h-1.1zM256.0,77.5h0.7v0.7h-0.7zM261.8,96.9h0.7v0.7h-0.7zM279.2,45.6h0.8v0.8h-0.8zM304.8,93.4h0.9v0.9h-0.9zM300.6,71.8h0.7v0.7h-0.7zM300.8,54.4h0.7v0.7h-0.7zM262.2,94.4h1.1v1.1h-1.1zM265.9,81.0h1.1v1.1h-1.1zM305.2,43.5h1.0v1.0h-1.0zM305.2,42.1h0.9v0.9h-0.9zM281.1,93.0h0.9v0.9h-0.9zM283.1,76.5h0.6v0.6h-0.6zM277.5,44.3h0.9v0.9h-0.9zM269.3,57.9h0.8v0.8h-0.8zM275.3,83.3h0.9v0.9h-0.9zM252.4,77.8h0.9v0.9h-0.9zM288.8,88.6h1.1v1.1h-1.1zM257.2,82.1h0.8v0.8h-0.8zM249.8,65.1h0.7v0.7h-0.7zM281.5,71.6h1.0v1.0h-1.0zM274.6,69.3h0.9v0.9h-0.9zM279.6,100.4h0.8v0.8h-0.8zM248.2,51.7h0.7v0.7h-0.7zM281.1,91.9h1.1v1.1h-1.1zM252.0,76.7h0.8v0.8h-0.8zM268.0,96.7h0.8v0.8h-0.8zM266.0,84.2h0.8v0.8h-0.8zM271.6,42.0h1.2v1.2h-1.2zM264.8,61.9h1.0v1.0h-1.0zM282.0,100.6h0.8v0.8h-0.8zM277.8,69.9h0.7v0.7h-0.7zM305.9,41.1h0.8v0.8h-0.8zM277.5,48.5h0.9v0.9h-0.9zM287.5,69.9h0.8v0.8h-0.8zM276.9,60.5h0.9v0.9h-0.9zM284.8,70.5h1.1v1.1h-1.1zM307.6,85.7h1.0v1.0h-1.0zM275.8,37.9h1.2v1.2h-1.2zM288.6,99.2h1.0v1.0h-1.0zM251.1,59.3h0.7v0.7h-0.7zM305.2,45.9h1.0v1.0h-1.0zM284.8,70.0h0.7v0.7h-0.7zM262.4,69.9h0.7v0.7h-0.7zM254.5,88.7h1.2v1.2h-1.2zM291.0,59.7h0.8v0.8h-0.8zM250.0,82.0h1.0v1.0h-1.0zM253.8,68.2h0.7v0.7h-0.7zM262.3,44.2h1.2v1.2h-1.2zM293.9,72.6h0.9v0.9h-0.9zM270.9,67.6h1.2v1.2h-1.2zM251.0,41.4h0.6v0.6h-0.6zM296.0,100.6h0.6v0.6h-0.6zM298.0,74.8h1.0v1.0h-1.0zM249.6,40.6h1.1v1.1h-1.1zM253.3,71.2h0.8v0.8h-0.8zM258.9,78.6h1.1v1.1h-1.1zM258.4,76.3h1.1v1.1h-1.1zM247.8,73.0h1.2v1.2h-1.2zM246.8,76.0h1.0v1.0h-1.0zM245.5,89.8h1.1v1.1h-1.1zM248.2,68.0h0.9v0.9h-0.9zM246.7,65.3h1.0v1.0h-1.0zM253.4,43.4h0.8v0.8h-0.8zM244.5,71.8h0.8v0.8h-0.8zM244.5,60.9h0.9v0.9h-0.9zM256.8,91.5h1.2v1.2h-1.2zM253.1,60.1h0.7v0.7h-0.7zM242.0,96.7h1.0v1.0h-1.0zM248.9,43.7h1.0v1.0h-1.0zM248.2,66.6h0.7v0.7h-0.7zM256.1,98.4h1.0v1.0h-1.0zM242.0,83.5h0.8v0.8h-0.8zM258.8,46.5h0.6v0.6h-0.6z" fill="#767a94" opacity="0.3"/><path d="M298.6,49.7h0.8v0.8h-0.8zM277.1,75.8h0.6v0.6h-0.6zM252.9,73.2h0.7v0.7h-0.7zM258.2,90.3h1.2v1.2h-1.2zM242.5,35.4h0.7v0.7h-0.7zM246.8,45.5h1.1v1.1h-1.1zM279.2,49.1h0.7v0.7h-0.7zM248.8,93.2h1.0v1.0h-1.0zM248.8,45.4h0.9v0.9h-0.9zM260.5,87.0h0.9v0.9h-0.9zM284.3,62.0h1.0v1.0h-1.0zM300.1,55.0h0.8v0.8h-0.8zM281.2,61.4h0.8v0.8h-0.8zM249.0,53.9h0.8v0.8h-0.8zM270.4,35.6h1.0v1.0h-1.0zM248.3,88.1h0.8v0.8h-0.8zM274.7,58.0h0.6v0.6h-0.6zM280.1,83.1h1.1v1.1h-1.1zM253.6,37.9h0.6v0.6h-0.6zM307.5,37.3h0.6v0.6h-0.6zM243.5,38.3h1.0v1.0h-1.0zM297.3,37.1h1.1v1.1h-1.1zM245.7,99.5h0.8v0.8h-0.8zM292.6,68.5h1.1v1.1h-1.1zM273.6,61.1h1.0v1.0h-1.0zM280.2,36.9h1.0v1.0h-1.0zM249.1,54.4h0.8v0.8h-0.8zM274.9,73.3h0.7v0.7h-0.7zM307.5,83.3h0.8v0.8h-0.8zM264.3,97.3h1.0v1.0h-1.0zM291.8,56.7h0.7v0.7h-0.7zM251.0,61.8h1.1v1.1h-1.1zM258.9,48.5h0.9v0.9h-0.9zM247.0,70.1h0.9v0.9h-0.9zM261.5,75.2h0.9v0.9h-0.9zM243.1,54.8h1.0v1.0h-1.0zM293.0,95.3h1.2v1.2h-1.2zM246.1,46.4h0.8v0.8h-0.8zM242.4,60.6h0.8v0.8h-0.8zM269.7,87.2h0.7v0.7h-0.7zM306.4,50.2h1.1v1.1h-1.1zM241.9,97.9h0.9v0.9h-0.9zM271.1,67.7h1.0v1.0h-1.0zM285.3,100.0h1.2v1.2h-1.2zM305.7,85.5h0.7v0.7h-0.7zM247.6,89.6h1.0v1.0h-1.0zM277.1,95.9h1.1v1.1h-1.1zM247.1,40.3h0.9v0.9h-0.9zM251.0,54.5h1.2v1.2h-1.2zM257.4,45.2h1.2v1.2h-1.2zM243.8,41.8h0.9v0.9h-0.9zM243.2,51.5h1.2v1.2h-1.2zM258.2,88.7h1.2v1.2h-1.2zM245.6,41.2h1.2v1.2h-1.2zM243.8,67.1h0.8v0.8h-0.8zM242.5,76.5h1.1v1.1h-1.1zM244.2,91.4h1.1v1.1h-1.1zM244.8,85.7h1.0v1.0h-1.0zM251.3,74.3h1.1v1.1h-1.1zM251.3,98.4h1.2v1.2h-1.2zM244.2,69.1h0.8v0.8h-0.8z" fill="#767a94" opacity="0.5"/><path d="M275.4,97.7h0.6v0.6h-0.6zM252.3,52.4h0.9v0.9h-0.9zM288.6,64.5h0.8v0.8h-0.8zM248.4,94.2h1.0v1.0h-1.0zM254.8,79.2h1.1v1.1h-1.1zM248.1,78.6h0.8v0.8h-0.8zM263.8,53.6h1.2v1.2h-1.2zM299.0,74.5h0.7v0.7h-0.7zM250.1,71.0h0.6v0.6h-0.6zM243.8,50.2h1.1v1.1h-1.1zM257.2,83.8h0.9v0.9h-0.9zM306.7,53.9h0.8v0.8h-0.8zM246.1,76.6h1.0v1.0h-1.0zM296.0,55.5h0.6v0.6h-0.6zM301.9,36.3h0.8v0.8h-0.8zM249.5,51.5h1.1v1.1h-1.1zM276.4,67.6h0.9v0.9h-0.9zM284.4,63.4h0.7v0.7h-0.7zM287.0,83.0h1.0v1.0h-1.0zM275.3,92.7h1.1v1.1h-1.1zM243.8,99.6h0.8v0.8h-0.8zM259.4,73.3h1.2v1.2h-1.2zM279.3,55.0h0.7v0.7h-0.7zM264.4,51.8h1.0v1.0h-1.0zM276.0,58.8h0.6v0.6h-0.6zM248.2,60.7h1.0v1.0h-1.0zM255.6,36.5h0.6v0.6h-0.6zM247.5,60.9h1.1v1.1h-1.1zM264.7,61.7h0.8v0.8h-0.8zM251.2,95.5h0.8v0.8h-0.8zM280.1,41.2h1.2v1.2h-1.2zM295.6,95.9h1.1v1.1h-1.1zM268.6,82.8h1.1v1.1h-1.1zM268.4,76.2h0.8v0.8h-0.8zM288.9,67.0h0.8v0.8h-0.8zM305.7,49.5h1.1v1.1h-1.1zM278.0,62.2h0.7v0.7h-0.7zM286.3,40.0h0.7v0.7h-0.7zM253.2,92.9h0.7v0.7h-0.7zM294.8,77.0h0.9v0.9h-0.9zM276.4,71.8h1.0v1.0h-1.0zM275.1,45.9h1.1v1.1h-1.1zM302.1,43.7h1.0v1.0h-1.0zM264.2,78.1h0.8v0.8h-0.8zM273.7,56.9h1.1v1.1h-1.1zM294.4,53.4h1.2v1.2h-1.2zM302.1,70.1h0.7v0.7h-0.7zM267.2,34.6h0.6v0.6h-0.6zM257.7,86.2h1.1v1.1h-1.1zM265.1,44.3h1.0v1.0h-1.0zM269.8,92.4h0.7v0.7h-0.7zM303.5,71.0h1.1v1.1h-1.1zM301.9,66.0h0.8v0.8h-0.8zM248.7,72.5h0.9v0.9h-0.9zM277.9,76.7h0.7v0.7h-0.7zM282.4,39.2h0.9v0.9h-0.9zM299.4,62.5h1.0v1.0h-1.0zM244.6,50.3h1.0v1.0h-1.0zM256.5,66.7h0.7v0.7h-0.7zM251.2,88.3h0.9v0.9h-0.9zM257.2,53.4h1.0v1.0h-1.0zM254.5,57.9h0.6v0.6h-0.6zM243.4,81.3h1.1v1.1h-1.1zM256.7,43.7h1.0v1.0h-1.0zM256.8,70.5h0.8v0.8h-0.8zM242.9,70.6h0.7v0.7h-0.7zM241.3,72.0h0.7v0.7h-0.7zM242.4,87.8h0.9v0.9h-0.9zM251.0,93.3h0.7v0.7h-0.7zM258.4,70.2h1.1v1.1h-1.1zM243.5,51.9h1.1v1.1h-1.1zM258.8,40.3h0.8v0.8h-0.8zM241.8,42.4h0.9v0.9h-0.9zM244.3,94.8h0.7v0.7h-0.7z" fill="#5a4ab0" opacity="0.5"/><path d="M274.8,66.5h0.9v0.9h-0.9zM298.6,87.5h0.9v0.9h-0.9zM294.3,88.7h0.9v0.9h-0.9zM262.6,65.8h1.1v1.1h-1.1zM248.1,36.8h0.9v0.9h-0.9zM263.9,75.2h1.1v1.1h-1.1zM284.7,77.1h1.0v1.0h-1.0zM300.8,43.7h0.9v0.9h-0.9zM267.5,56.8h1.0v1.0h-1.0zM257.0,67.2h0.9v0.9h-0.9zM268.6,71.6h0.9v0.9h-0.9zM301.7,95.4h0.8v0.8h-0.8zM244.3,39.0h0.8v0.8h-0.8zM294.7,63.1h1.0v1.0h-1.0zM241.4,46.9h0.7v0.7h-0.7zM293.9,88.1h1.1v1.1h-1.1zM307.0,65.0h0.6v0.6h-0.6zM303.7,86.4h1.2v1.2h-1.2zM297.6,85.4h1.0v1.0h-1.0zM275.2,83.9h1.2v1.2h-1.2zM269.9,85.0h1.1v1.1h-1.1zM302.1,82.8h1.1v1.1h-1.1zM274.0,40.9h0.8v0.8h-0.8zM281.0,93.5h0.7v0.7h-0.7zM305.5,75.1h0.6v0.6h-0.6zM294.6,39.9h0.8v0.8h-0.8zM284.7,64.1h1.1v1.1h-1.1zM264.2,72.5h0.8v0.8h-0.8zM302.7,87.7h1.2v1.2h-1.2zM306.5,69.7h0.8v0.8h-0.8zM300.1,87.3h1.0v1.0h-1.0zM297.6,59.8h0.7v0.7h-0.7zM280.5,53.4h0.7v0.7h-0.7zM267.8,82.5h1.1v1.1h-1.1zM263.7,74.6h0.6v0.6h-0.6zM262.2,67.1h1.0v1.0h-1.0zM288.1,71.8h1.1v1.1h-1.1zM286.8,49.3h0.9v0.9h-0.9zM283.7,50.3h0.7v0.7h-0.7zM255.5,63.2h1.0v1.0h-1.0zM286.7,44.6h1.0v1.0h-1.0zM251.8,90.8h1.2v1.2h-1.2zM259.1,78.7h1.2v1.2h-1.2zM243.6,81.2h0.7v0.7h-0.7zM252.8,82.0h0.8v0.8h-0.8zM283.4,83.3h1.2v1.2h-1.2zM301.7,78.4h1.2v1.2h-1.2zM292.9,96.6h1.0v1.0h-1.0zM264.4,52.8h0.9v0.9h-0.9zM266.6,53.3h1.0v1.0h-1.0zM248.0,91.2h1.0v1.0h-1.0zM283.4,50.6h1.0v1.0h-1.0zM249.2,94.6h0.7v0.7h-0.7zM288.4,88.8h0.8v0.8h-0.8zM249.2,47.6h0.9v0.9h-0.9zM271.7,89.8h0.8v0.8h-0.8zM284.3,60.5h1.2v1.2h-1.2zM268.8,100.8h0.8v0.8h-0.8zM242.1,94.4h1.1v1.1h-1.1zM263.6,58.8h0.7v0.7h-0.7zM262.3,68.1h1.1v1.1h-1.1zM259.0,39.8h1.1v1.1h-1.1zM290.4,54.3h0.7v0.7h-0.7zM291.0,36.1h1.2v1.2h-1.2zM300.3,36.9h0.7v0.7h-0.7zM241.3,85.8h0.8v0.8h-0.8zM251.2,72.8h0.6v0.6h-0.6zM253.7,50.4h0.8v0.8h-0.8zM242.2,83.8h0.9v0.9h-0.9zM245.1,56.7h1.1v1.1h-1.1zM256.8,79.4h1.1v1.1h-1.1zM252.2,91.9h1.1v1.1h-1.1zM249.3,60.7h0.7v0.7h-0.7zM244.1,73.8h1.1v1.1h-1.1zM252.4,47.4h0.7v0.7h-0.7zM256.7,44.5h0.8v0.8h-0.8zM247.7,73.3h1.1v1.1h-1.1zM243.5,43.4h0.6v0.6h-0.6zM245.6,57.9h1.0v1.0h-1.0zM245.5,83.8h0.7v0.7h-0.7zM258.3,75.3h0.9v0.9h-0.9z" fill="#8a86b0" opacity="0.3"/><path d="M264.9,57.3h0.8v0.8h-0.8zM243.0,49.5h0.9v0.9h-0.9zM242.2,35.2h0.9v0.9h-0.9zM275.2,48.1h1.1v1.1h-1.1zM305.8,92.6h1.1v1.1h-1.1zM261.6,91.5h0.7v0.7h-0.7zM291.8,74.2h0.6v0.6h-0.6zM281.0,64.2h1.1v1.1h-1.1zM255.5,75.4h0.8v0.8h-0.8zM287.1,78.3h1.1v1.1h-1.1zM261.6,50.6h1.2v1.2h-1.2zM303.9,60.2h1.1v1.1h-1.1zM257.4,39.0h1.1v1.1h-1.1zM304.5,45.8h1.1v1.1h-1.1zM288.9,78.7h1.0v1.0h-1.0zM267.9,75.1h1.1v1.1h-1.1zM290.3,73.9h0.7v0.7h-0.7zM252.9,50.9h0.8v0.8h-0.8zM255.6,72.2h0.6v0.6h-0.6zM292.9,90.4h1.2v1.2h-1.2zM274.0,77.4h0.6v0.6h-0.6zM241.4,52.7h0.6v0.6h-0.6zM288.4,92.5h0.9v0.9h-0.9zM294.4,91.4h1.1v1.1h-1.1zM283.3,98.9h1.2v1.2h-1.2zM284.0,50.4h0.8v0.8h-0.8zM269.4,78.4h0.6v0.6h-0.6zM288.8,83.8h1.1v1.1h-1.1zM243.8,69.6h1.0v1.0h-1.0zM300.0,35.8h1.0v1.0h-1.0zM262.8,56.0h0.8v0.8h-0.8zM252.3,44.1h0.9v0.9h-0.9zM252.7,91.7h0.8v0.8h-0.8zM242.6,58.8h1.1v1.1h-1.1zM304.2,87.4h1.2v1.2h-1.2zM277.8,99.3h0.8v0.8h-0.8zM307.7,51.4h1.0v1.0h-1.0zM286.0,42.1h0.7v0.7h-0.7zM273.6,34.8h0.8v0.8h-0.8zM302.9,98.8h1.0v1.0h-1.0zM259.8,80.6h0.7v0.7h-0.7zM293.2,74.1h0.8v0.8h-0.8zM248.5,43.5h1.0v1.0h-1.0zM244.8,63.2h0.6v0.6h-0.6zM247.8,56.6h0.9v0.9h-0.9zM268.9,73.9h1.0v1.0h-1.0zM307.0,81.4h0.7v0.7h-0.7zM254.2,87.7h0.9v0.9h-0.9zM305.0,76.2h1.2v1.2h-1.2zM255.4,89.1h1.0v1.0h-1.0zM269.3,63.7h1.2v1.2h-1.2zM276.0,47.3h1.1v1.1h-1.1zM244.0,67.6h1.0v1.0h-1.0zM301.6,65.6h0.8v0.8h-0.8zM280.5,91.0h1.1v1.1h-1.1zM243.6,38.4h0.7v0.7h-0.7zM262.2,84.2h1.1v1.1h-1.1zM306.7,36.4h1.1v1.1h-1.1zM253.4,57.3h0.8v0.8h-0.8zM258.2,65.6h1.2v1.2h-1.2zM249.6,90.0h0.7v0.7h-0.7zM254.9,70.0h1.1v1.1h-1.1zM253.3,41.1h1.1v1.1h-1.1zM251.0,56.0h0.9v0.9h-0.9zM247.8,53.3h1.0v1.0h-1.0zM250.3,47.1h1.1v1.1h-1.1zM242.3,39.4h0.7v0.7h-0.7zM244.7,57.2h0.6v0.6h-0.6zM252.6,85.7h1.1v1.1h-1.1zM255.4,79.8h0.8v0.8h-0.8zM246.7,70.4h0.9v0.9h-0.9zM249.9,97.2h1.2v1.2h-1.2zM253.5,79.6h1.1v1.1h-1.1zM254.7,61.0h0.8v0.8h-0.8zM251.1,65.3h0.8v0.8h-0.8z" fill="#767a94" opacity="0.7"/><defs><radialGradient id="dc1" cx="241.1" cy="34.2" r="26" gradientUnits="userSpaceOnUse"><stop offset="0" stop-color="#15151f" stop-opacity="0.95"/><stop offset="0.35" stop-color="#30303f" stop-opacity="0.55"/><stop offset="1" stop-color="#606078" stop-opacity="0"/></radialGradient><linearGradient id="dd1" x1="0" y1="0" x2="1" y2="0"><stop offset="0" stop-color="#202030" stop-opacity="0.6"/><stop offset="1" stop-color="#404058" stop-opacity="0"/></linearGradient></defs><rect x="241.1" y="34.2" width="66.8" height="66.7" fill="url(#dc1)"/><rect x="241.1" y="34.2" width="5" height="66.7" fill="url(#dd1)"/><circle cx="246.1" cy="37.2" r="1.2" fill="#5a44c0" opacity="0.9"/><circle cx="249.1" cy="36.2" r="1" fill="#5a44c0" opacity="0.9"/><circle cx="256.1" cy="42.2" r="1.1" fill="#5a44c0" opacity="0.9"/><circle cx="251.1" cy="50.2" r="0.9" fill="#5a44c0" opacity="0.9"/><circle cx="260.1" cy="61.2" r="1.2" fill="#5a44c0" opacity="0.9"/><circle cx="267.1" cy="67.2" r="1.3" fill="#5a44c0" opacity="0.9"/><circle cx="275.1" cy="60.2" r="1.0" fill="#5a44c0" opacity="0.9"/><circle cx="255.1" cy="74.2" r="0.9" fill="#5a44c0" opacity="0.9"/><circle cx="245.1" cy="69.2" r="1.0" fill="#5a44c0" opacity="0.9"/><circle cx="249.1" cy="89.2" r="1.0" fill="#5a44c0" opacity="0.9"/><circle cx="247.1" cy="97.2" r="0.9" fill="#5a44c0" opacity="0.9"/><circle cx="301.1" cy="44.2" r="1.0" fill="#5a44c0" opacity="0.9"/><circle cx="296.1" cy="56.2" r="0.9" fill="#5a44c0" opacity="0.9"/><circle cx="271.1" cy="90.2" r="0.8" fill="#5a44c0" opacity="0.9"/><circle cx="254.1" cy="57.2" r="1.0" fill="#5a44c0" opacity="0.9"/></g></svg></g>
<g><rect x="310.0" y="34.2" width="67.4" height="66.7" fill="#aaafc4"/><svg x="310.0" y="34.2" width="67.4" height="66.7" overflow="hidden"><g transform="translate(-310.0,-34.2)"><g filter="url(#mb)"><circle cx="374.4" cy="97.4" r="4.5" fill="#9ea2bc" opacity="0.45"/><circle cx="366.3" cy="83.3" r="9.4" fill="#9ea2bc" opacity="0.45"/><circle cx="350.8" cy="74.7" r="8.6" fill="#9ea2bc" opacity="0.45"/><circle cx="339.0" cy="60.4" r="9.8" fill="#c8cce0" opacity="0.45"/><circle cx="374.0" cy="70.5" r="7.6" fill="#9ea2bc" opacity="0.45"/><circle cx="312.4" cy="36.0" r="7.7" fill="#9ea2bc" opacity="0.45"/><circle cx="335.6" cy="93.7" r="8.2" fill="#c8cce0" opacity="0.45"/><circle cx="325.9" cy="35.8" r="6.6" fill="#9ea2bc" opacity="0.45"/><circle cx="344.4" cy="100.8" r="9.4" fill="#9ea2bc" opacity="0.45"/><circle cx="370.2" cy="87.3" r="9.9" fill="#c8cce0" opacity="0.45"/><circle cx="361.4" cy="86.9" r="6.8" fill="#c8cce0" opacity="0.45"/><circle cx="374.8" cy="45.0" r="10.0" fill="#c8cce0" opacity="0.45"/><circle cx="341.1" cy="69.6" r="7.9" fill="#c8cce0" opacity="0.45"/><circle cx="343.8" cy="89.7" r="6.8" fill="#c8cce0" opacity="0.45"/></g><path d="M370.6,64.9h0.9v0.9h-0.9zM338.5,82.0h0.7v0.7h-0.7zM376.7,44.3h0.8v0.8h-0.8zM312.1,64.1h0.9v0.9h-0.9zM341.9,49.2h0.9v0.9h-0.9zM330.9,77.0h0.8v0.8h-0.8zM337.7,66.6h0.7v0.7h-0.7zM354.4,86.0h0.7v0.7h-0.7zM319.9,62.0h1.0v1.0h-1.0zM355.2,79.6h1.2v1.2h-1.2zM323.8,98.7h1.2v1.2h-1.2zM340.8,45.3h1.1v1.1h-1.1zM372.7,56.0h1.1v1.1h-1.1zM355.2,58.7h0.9v0.9h-0.9zM322.6,98.3h1.0v1.0h-1.0zM326.9,57.1h0.8v0.8h-0.8zM351.1,60.5h0.8v0.8h-0.8zM317.1,57.6h0.7v0.7h-0.7zM310.9,92.3h1.0v1.0h-1.0zM314.2,78.6h1.0v1.0h-1.0zM357.7,61.0h0.7v0.7h-0.7zM315.8,78.9h0.9v0.9h-0.9zM377.3,81.9h0.8v0.8h-0.8zM370.3,61.1h1.1v1.1h-1.1zM318.6,57.6h0.8v0.8h-0.8zM360.9,62.2h0.8v0.8h-0.8zM344.1,94.1h0.8v0.8h-0.8zM350.3,75.8h0.7v0.7h-0.7zM340.6,98.4h1.0v1.0h-1.0zM350.4,61.0h0.9v0.9h-0.9zM326.3,90.6h0.8v0.8h-0.8zM330.5,72.3h1.2v1.2h-1.2zM332.6,40.2h0.9v0.9h-0.9zM343.9,50.1h0.7v0.7h-0.7zM348.7,55.7h0.7v0.7h-0.7zM364.9,83.2h0.7v0.7h-0.7zM321.0,38.9h1.1v1.1h-1.1zM364.9,43.6h1.2v1.2h-1.2zM355.5,92.9h1.1v1.1h-1.1zM319.1,80.5h0.8v0.8h-0.8zM375.8,77.7h0.8v0.8h-0.8zM316.9,34.7h1.0v1.0h-1.0zM374.4,73.1h1.1v1.1h-1.1zM310.4,41.2h0.8v0.8h-0.8zM358.9,78.7h0.8v0.8h-0.8zM324.1,52.0h1.1v1.1h-1.1zM318.4,46.7h0.6v0.6h-0.6zM364.6,57.0h1.0v1.0h-1.0zM375.4,78.1h1.0v1.0h-1.0z" fill="#656a88" opacity="0.7"/><path d="M348.3,95.6h0.8v0.8h-0.8zM371.2,52.1h0.7v0.7h-0.7zM371.2,47.0h1.1v1.1h-1.1zM311.7,82.9h0.9v0.9h-0.9zM361.6,83.6h0.7v0.7h-0.7zM370.8,84.6h0.7v0.7h-0.7zM368.1,81.2h1.0v1.0h-1.0zM337.5,41.6h1.0v1.0h-1.0zM339.2,68.3h1.2v1.2h-1.2zM311.3,79.9h0.8v0.8h-0.8zM330.0,49.6h1.0v1.0h-1.0zM339.6,69.2h1.0v1.0h-1.0zM317.6,70.3h1.1v1.1h-1.1zM370.3,64.9h0.7v0.7h-0.7zM350.1,93.0h1.1v1.1h-1.1zM357.5,65.7h0.9v0.9h-0.9zM325.2,75.6h0.9v0.9h-0.9zM360.2,73.3h1.1v1.1h-1.1zM375.2,58.6h0.8v0.8h-0.8zM330.8,77.5h1.1v1.1h-1.1zM353.6,87.3h0.9v0.9h-0.9zM354.0,60.4h1.1v1.1h-1.1zM328.7,98.1h1.1v1.1h-1.1zM337.0,89.1h1.0v1.0h-1.0zM362.5,43.1h0.8v0.8h-0.8zM377.2,60.4h1.0v1.0h-1.0zM317.3,100.6h1.0v1.0h-1.0zM355.8,95.2h0.6v0.6h-0.6zM365.5,89.9h0.6v0.6h-0.6zM375.9,94.2h1.1v1.1h-1.1zM341.9,51.2h0.7v0.7h-0.7zM358.8,57.1h0.7v0.7h-0.7zM349.1,43.0h1.1v1.1h-1.1zM320.1,74.7h1.0v1.0h-1.0zM342.0,59.5h0.9v0.9h-0.9zM345.9,88.7h0.7v0.7h-0.7zM375.2,35.9h0.9v0.9h-0.9zM325.7,46.9h1.1v1.1h-1.1zM337.2,95.2h0.8v0.8h-0.8zM341.1,97.7h1.0v1.0h-1.0zM360.3,77.8h0.9v0.9h-0.9zM322.0,89.8h0.9v0.9h-0.9zM323.3,46.5h0.6v0.6h-0.6zM364.3,92.8h0.8v0.8h-0.8zM340.6,98.2h1.0v1.0h-1.0zM311.9,42.1h0.9v0.9h-0.9zM317.0,85.9h1.2v1.2h-1.2zM344.0,95.7h0.6v0.6h-0.6zM362.5,49.5h0.6v0.6h-0.6zM374.4,78.0h1.2v1.2h-1.2zM340.7,61.3h1.1v1.1h-1.1zM372.8,89.6h0.8v0.8h-0.8zM317.0,54.2h0.8v0.8h-0.8zM314.9,34.7h0.6v0.6h-0.6zM344.7,83.4h0.9v0.9h-0.9zM355.8,48.9h0.8v0.8h-0.8zM338.2,49.3h0.6v0.6h-0.6zM323.8,82.3h0.6v0.6h-0.6zM330.9,40.2h0.8v0.8h-0.8zM354.0,99.8h0.6v0.6h-0.6zM328.4,75.7h0.7v0.7h-0.7zM342.8,78.0h0.8v0.8h-0.8zM364.5,61.4h1.1v1.1h-1.1zM333.5,39.8h1.0v1.0h-1.0zM374.4,81.1h0.7v0.7h-0.7z" fill="#767a94" opacity="0.7"/><path d="M358.8,66.7h0.8v0.8h-0.8zM325.0,55.9h0.7v0.7h-0.7zM353.9,73.4h0.8v0.8h-0.8zM349.4,60.4h0.8v0.8h-0.8zM336.4,65.1h0.7v0.7h-0.7zM356.7,35.8h0.7v0.7h-0.7zM322.2,68.2h0.9v0.9h-0.9zM357.9,96.7h0.6v0.6h-0.6zM375.9,76.5h1.0v1.0h-1.0zM355.5,86.7h0.8v0.8h-0.8zM366.7,40.4h1.0v1.0h-1.0zM371.8,93.1h1.2v1.2h-1.2zM329.2,76.7h1.0v1.0h-1.0zM367.3,62.9h0.9v0.9h-0.9zM346.3,99.9h1.1v1.1h-1.1zM340.6,61.7h1.1v1.1h-1.1zM313.4,94.1h1.0v1.0h-1.0zM352.2,83.7h0.8v0.8h-0.8zM351.5,78.1h1.1v1.1h-1.1zM331.5,51.3h1.0v1.0h-1.0zM335.3,38.5h0.9v0.9h-0.9zM344.7,40.9h0.9v0.9h-0.9zM362.7,72.9h0.9v0.9h-0.9zM334.5,97.4h0.9v0.9h-0.9zM346.4,74.9h0.8v0.8h-0.8zM341.0,59.1h0.9v0.9h-0.9zM320.9,73.9h1.2v1.2h-1.2zM324.8,84.3h1.2v1.2h-1.2zM374.2,89.0h1.2v1.2h-1.2zM351.9,36.1h1.2v1.2h-1.2zM374.6,42.0h0.7v0.7h-0.7zM351.5,85.3h0.8v0.8h-0.8zM363.8,57.5h0.9v0.9h-0.9zM316.4,35.4h0.9v0.9h-0.9zM351.3,45.3h0.8v0.8h-0.8zM330.4,89.6h0.7v0.7h-0.7zM337.3,65.7h1.1v1.1h-1.1zM319.0,48.2h0.7v0.7h-0.7zM336.7,90.0h1.1v1.1h-1.1zM323.2,71.1h1.0v1.0h-1.0zM368.0,84.4h0.8v0.8h-0.8zM342.4,53.9h1.2v1.2h-1.2zM312.9,79.9h0.9v0.9h-0.9zM328.1,70.2h0.6v0.6h-0.6zM321.6,44.3h1.0v1.0h-1.0zM335.6,55.1h1.1v1.1h-1.1zM372.5,93.3h1.1v1.1h-1.1zM351.8,60.9h1.0v1.0h-1.0zM373.4,94.7h0.9v0.9h-0.9zM365.2,71.9h0.7v0.7h-0.7zM351.0,57.8h1.1v1.1h-1.1zM332.8,54.8h0.9v0.9h-0.9zM360.1,45.7h0.7v0.7h-0.7zM346.2,52.1h0.6v0.6h-0.6zM355.9,36.2h1.0v1.0h-1.0zM375.4,88.8h1.1v1.1h-1.1zM319.2,76.9h0.7v0.7h-0.7zM327.1,85.2h1.1v1.1h-1.1zM329.4,34.5h1.0v1.0h-1.0zM374.7,97.6h1.0v1.0h-1.0zM359.8,95.6h0.9v0.9h-0.9zM371.8,88.5h0.9v0.9h-0.9zM345.9,76.3h0.6v0.6h-0.6z" fill="#767a94" opacity="0.3"/><path d="M357.2,45.3h0.8v0.8h-0.8zM324.2,92.9h0.8v0.8h-0.8zM315.6,97.9h0.7v0.7h-0.7zM369.0,42.7h0.6v0.6h-0.6zM311.2,71.4h0.7v0.7h-0.7zM312.3,44.9h0.8v0.8h-0.8zM326.9,73.6h0.7v0.7h-0.7zM357.8,51.3h0.8v0.8h-0.8zM325.6,48.7h0.7v0.7h-0.7zM351.1,53.5h1.0v1.0h-1.0zM311.1,64.3h1.1v1.1h-1.1zM323.0,72.3h1.1v1.1h-1.1zM360.8,60.5h0.7v0.7h-0.7zM318.2,42.3h0.8v0.8h-0.8zM345.5,66.1h0.8v0.8h-0.8zM371.9,73.3h0.6v0.6h-0.6zM358.2,51.4h1.1v1.1h-1.1zM342.7,90.0h0.9v0.9h-0.9zM371.7,39.3h1.1v1.1h-1.1zM370.3,95.7h1.1v1.1h-1.1zM374.5,57.8h1.1v1.1h-1.1zM361.3,63.3h0.9v0.9h-0.9zM345.2,90.6h1.2v1.2h-1.2zM363.8,34.8h0.6v0.6h-0.6zM313.6,48.6h1.1v1.1h-1.1zM358.4,68.0h1.1v1.1h-1.1zM371.8,45.1h0.8v0.8h-0.8zM357.1,78.1h1.0v1.0h-1.0zM370.8,72.1h0.8v0.8h-0.8zM340.6,57.3h0.8v0.8h-0.8zM348.6,54.8h0.7v0.7h-0.7zM321.5,74.6h0.9v0.9h-0.9zM368.9,73.6h0.8v0.8h-0.8zM357.3,69.1h0.7v0.7h-0.7zM319.3,75.7h1.0v1.0h-1.0zM341.9,97.2h1.1v1.1h-1.1zM370.4,68.2h1.0v1.0h-1.0zM310.6,79.1h1.1v1.1h-1.1zM326.7,81.7h1.2v1.2h-1.2zM375.2,60.3h0.8v0.8h-0.8zM370.5,98.9h0.9v0.9h-0.9zM376.1,46.3h0.7v0.7h-0.7zM310.7,92.7h0.8v0.8h-0.8zM324.0,62.0h1.1v1.1h-1.1zM311.4,35.4h0.7v0.7h-0.7zM365.3,94.1h1.2v1.2h-1.2zM351.9,81.5h1.1v1.1h-1.1zM332.8,49.3h0.8v0.8h-0.8zM310.1,87.2h0.8v0.8h-0.8zM327.9,51.3h0.8v0.8h-0.8zM346.8,54.4h1.0v1.0h-1.0zM313.2,58.7h0.6v0.6h-0.6zM311.4,58.6h0.7v0.7h-0.7zM367.1,85.5h1.1v1.1h-1.1zM355.8,45.9h1.0v1.0h-1.0zM354.0,53.7h0.6v0.6h-0.6zM335.3,77.7h0.6v0.6h-0.6zM319.3,73.5h0.7v0.7h-0.7zM361.9,54.3h0.7v0.7h-0.7zM367.7,63.7h1.1v1.1h-1.1zM331.5,88.4h1.0v1.0h-1.0zM332.5,86.4h1.2v1.2h-1.2zM341.4,86.6h0.7v0.7h-0.7zM362.1,51.8h0.7v0.7h-0.7zM349.6,71.3h1.1v1.1h-1.1z" fill="#656a88" opacity="0.3"/><path d="M371.4,54.8h1.0v1.0h-1.0zM317.2,69.0h0.8v0.8h-0.8zM364.8,44.7h1.2v1.2h-1.2zM351.5,83.7h1.0v1.0h-1.0zM344.7,43.8h0.8v0.8h-0.8zM360.3,78.1h0.8v0.8h-0.8zM353.8,88.6h0.8v0.8h-0.8zM311.2,97.1h0.9v0.9h-0.9zM359.2,74.6h0.8v0.8h-0.8zM342.7,79.2h1.2v1.2h-1.2zM321.7,84.2h0.9v0.9h-0.9zM346.3,59.7h0.7v0.7h-0.7zM352.7,60.3h0.7v0.7h-0.7zM317.5,88.8h0.8v0.8h-0.8zM363.6,49.8h1.1v1.1h-1.1zM331.4,90.1h0.8v0.8h-0.8zM325.4,81.1h1.0v1.0h-1.0zM350.3,36.7h1.1v1.1h-1.1zM341.3,53.7h0.7v0.7h-0.7zM332.5,70.1h1.1v1.1h-1.1zM322.9,65.5h1.0v1.0h-1.0zM330.7,48.0h1.2v1.2h-1.2zM344.4,68.9h0.7v0.7h-0.7zM330.9,78.3h0.8v0.8h-0.8zM372.2,74.6h0.7v0.7h-0.7zM363.3,45.0h0.7v0.7h-0.7zM326.6,86.8h0.8v0.8h-0.8zM310.4,61.2h1.1v1.1h-1.1zM353.9,37.7h1.1v1.1h-1.1zM330.4,90.2h1.0v1.0h-1.0zM337.3,77.3h1.2v1.2h-1.2zM326.3,88.3h0.8v0.8h-0.8zM368.2,73.4h1.2v1.2h-1.2zM314.2,44.1h1.1v1.1h-1.1zM319.2,83.4h1.2v1.2h-1.2zM314.3,75.9h0.6v0.6h-0.6zM319.4,98.2h0.7v0.7h-0.7zM338.5,80.2h0.6v0.6h-0.6zM375.5,93.5h0.6v0.6h-0.6zM347.9,94.1h0.6v0.6h-0.6zM341.5,46.5h0.7v0.7h-0.7zM375.7,63.8h0.9v0.9h-0.9zM313.2,55.6h0.7v0.7h-0.7zM330.0,78.0h0.9v0.9h-0.9zM351.3,73.5h0.9v0.9h-0.9zM353.5,53.0h1.0v1.0h-1.0zM350.0,76.0h1.0v1.0h-1.0zM316.6,65.0h1.0v1.0h-1.0zM366.0,45.6h1.1v1.1h-1.1zM326.8,73.3h0.8v0.8h-0.8zM324.3,73.9h0.8v0.8h-0.8zM350.8,81.2h1.0v1.0h-1.0zM358.6,79.5h0.8v0.8h-0.8zM343.0,70.9h0.6v0.6h-0.6zM348.2,68.8h0.9v0.9h-0.9zM339.1,60.0h0.9v0.9h-0.9zM365.8,34.8h1.0v1.0h-1.0z" fill="#767a94" opacity="0.5"/><path d="M374.5,81.3h0.7v0.7h-0.7zM312.1,58.4h0.9v0.9h-0.9zM317.6,56.7h1.1v1.1h-1.1zM344.3,99.8h1.0v1.0h-1.0zM358.8,50.3h0.9v0.9h-0.9zM349.2,37.6h1.2v1.2h-1.2zM364.1,58.6h0.9v0.9h-0.9zM324.0,73.5h0.9v0.9h-0.9zM315.2,84.6h0.8v0.8h-0.8zM363.8,52.1h1.1v1.1h-1.1zM342.9,51.5h0.9v0.9h-0.9zM370.4,100.1h1.1v1.1h-1.1zM316.5,68.7h0.9v0.9h-0.9zM339.7,36.2h0.8v0.8h-0.8zM319.3,75.0h0.7v0.7h-0.7zM348.2,65.4h1.1v1.1h-1.1zM332.6,52.0h0.9v0.9h-0.9zM315.4,84.5h0.9v0.9h-0.9zM363.8,76.1h1.2v1.2h-1.2zM360.8,99.5h0.9v0.9h-0.9zM346.6,50.0h1.0v1.0h-1.0zM351.2,56.6h0.7v0.7h-0.7zM314.2,43.8h1.0v1.0h-1.0zM355.1,40.3h0.9v0.9h-0.9zM326.3,66.3h1.0v1.0h-1.0zM318.9,42.0h0.7v0.7h-0.7zM335.4,54.0h0.8v0.8h-0.8zM369.6,79.7h1.0v1.0h-1.0zM357.5,83.2h1.2v1.2h-1.2zM316.9,71.4h0.9v0.9h-0.9zM371.0,36.9h0.8v0.8h-0.8zM375.6,72.3h1.1v1.1h-1.1zM348.4,50.9h1.0v1.0h-1.0zM319.9,78.5h1.1v1.1h-1.1zM373.5,58.4h1.0v1.0h-1.0zM371.9,63.9h0.6v0.6h-0.6zM312.0,67.1h1.1v1.1h-1.1zM348.3,82.6h0.7v0.7h-0.7zM343.9,72.4h1.0v1.0h-1.0zM364.4,69.3h0.8v0.8h-0.8zM318.5,73.3h0.7v0.7h-0.7zM352.8,87.9h0.9v0.9h-0.9zM353.5,90.9h0.9v0.9h-0.9zM375.7,97.7h0.6v0.6h-0.6zM353.1,82.2h0.6v0.6h-0.6zM320.5,54.3h0.8v0.8h-0.8zM372.7,72.3h1.2v1.2h-1.2zM346.2,55.1h0.8v0.8h-0.8zM366.2,46.9h0.6v0.6h-0.6zM320.4,52.1h1.2v1.2h-1.2zM376.3,63.1h0.8v0.8h-0.8zM331.8,53.7h1.0v1.0h-1.0zM374.5,77.3h1.1v1.1h-1.1zM335.8,79.7h0.6v0.6h-0.6zM337.7,50.0h0.6v0.6h-0.6zM329.1,39.8h0.9v0.9h-0.9zM323.9,90.2h0.7v0.7h-0.7zM373.9,84.4h1.1v1.1h-1.1zM371.4,95.5h1.1v1.1h-1.1zM332.4,39.0h0.9v0.9h-0.9zM370.2,52.8h0.8v0.8h-0.8zM338.5,90.5h0.8v0.8h-0.8zM367.4,100.4h0.7v0.7h-0.7zM341.0,62.9h0.9v0.9h-0.9zM360.5,93.2h0.6v0.6h-0.6zM321.1,80.2h0.8v0.8h-0.8zM336.3,63.1h1.2v1.2h-1.2zM359.3,79.3h1.0v1.0h-1.0zM352.3,60.7h1.0v1.0h-1.0zM375.8,73.9h0.9v0.9h-0.9zM362.1,66.6h0.9v0.9h-0.9zM332.3,34.4h1.1v1.1h-1.1zM337.5,62.6h1.0v1.0h-1.0z" fill="#5a4ab0" opacity="0.3"/><path d="M344.0,68.7h0.7v0.7h-0.7zM354.0,52.4h0.8v0.8h-0.8zM336.0,37.1h0.8v0.8h-0.8zM345.1,65.2h0.9v0.9h-0.9zM338.2,69.2h0.8v0.8h-0.8zM345.0,95.7h0.6v0.6h-0.6zM316.8,54.6h1.1v1.1h-1.1zM366.7,79.1h1.0v1.0h-1.0zM315.0,53.2h1.1v1.1h-1.1zM374.3,87.9h0.6v0.6h-0.6zM353.7,42.8h0.7v0.7h-0.7zM361.3,91.0h0.6v0.6h-0.6zM358.0,93.1h0.7v0.7h-0.7zM342.6,70.1h1.1v1.1h-1.1zM330.8,49.7h0.7v0.7h-0.7zM339.8,53.7h1.2v1.2h-1.2zM333.1,92.8h1.2v1.2h-1.2zM368.6,96.6h0.9v0.9h-0.9zM333.6,58.2h0.9v0.9h-0.9zM350.3,73.4h0.8v0.8h-0.8zM317.1,88.7h0.7v0.7h-0.7zM352.3,48.2h0.7v0.7h-0.7zM312.1,71.0h0.7v0.7h-0.7zM349.1,77.2h1.2v1.2h-1.2zM357.4,65.9h1.1v1.1h-1.1zM337.8,61.9h0.8v0.8h-0.8zM336.4,69.2h1.1v1.1h-1.1zM362.0,80.4h1.2v1.2h-1.2zM339.7,62.2h0.9v0.9h-0.9zM323.7,81.1h0.9v0.9h-0.9zM336.4,63.3h0.6v0.6h-0.6zM355.5,37.8h1.1v1.1h-1.1zM332.9,90.1h0.7v0.7h-0.7zM339.4,62.2h0.9v0.9h-0.9zM339.5,97.6h1.0v1.0h-1.0zM343.6,100.1h0.8v0.8h-0.8zM364.5,61.3h0.7v0.7h-0.7zM362.8,94.0h0.6v0.6h-0.6zM350.8,83.1h1.0v1.0h-1.0zM332.2,66.1h1.1v1.1h-1.1zM348.8,49.1h0.7v0.7h-0.7zM358.7,49.2h0.7v0.7h-0.7zM323.4,80.9h1.1v1.1h-1.1zM357.4,34.3h1.0v1.0h-1.0zM341.9,42.3h1.0v1.0h-1.0zM362.8,44.5h0.7v0.7h-0.7zM320.5,95.7h0.6v0.6h-0.6zM374.5,83.1h1.2v1.2h-1.2zM366.2,82.3h1.2v1.2h-1.2zM348.0,84.0h1.2v1.2h-1.2zM364.3,53.8h0.6v0.6h-0.6zM348.9,69.4h1.2v1.2h-1.2zM327.2,52.8h0.6v0.6h-0.6zM327.6,35.9h0.8v0.8h-0.8zM369.8,36.2h1.1v1.1h-1.1zM317.2,78.5h1.0v1.0h-1.0zM358.3,70.5h0.9v0.9h-0.9zM324.6,78.8h1.2v1.2h-1.2zM356.6,92.7h0.8v0.8h-0.8zM323.8,43.0h1.2v1.2h-1.2zM317.1,67.0h1.0v1.0h-1.0zM377.4,37.0h0.7v0.7h-0.7zM350.9,66.2h1.2v1.2h-1.2zM359.6,40.0h0.9v0.9h-0.9zM341.5,77.2h1.0v1.0h-1.0zM349.5,90.3h0.9v0.9h-0.9zM321.3,47.1h0.8v0.8h-0.8zM349.6,49.2h0.6v0.6h-0.6zM324.5,66.4h0.8v0.8h-0.8zM312.6,61.4h1.1v1.1h-1.1zM321.7,75.3h1.2v1.2h-1.2zM319.8,70.6h1.1v1.1h-1.1zM313.7,88.1h1.2v1.2h-1.2zM370.3,57.8h1.1v1.1h-1.1zM317.5,79.2h1.1v1.1h-1.1zM336.6,100.5h0.6v0.6h-0.6zM345.2,41.3h1.0v1.0h-1.0zM367.0,52.0h0.9v0.9h-0.9zM362.4,60.7h1.1v1.1h-1.1z" fill="#8a86b0" opacity="0.7"/><path d="M331.0,48.1h1.0v1.0h-1.0zM367.6,50.5h0.6v0.6h-0.6zM316.9,64.1h1.1v1.1h-1.1zM350.8,62.2h0.8v0.8h-0.8zM374.9,82.8h1.2v1.2h-1.2zM358.8,67.4h0.9v0.9h-0.9zM372.8,90.0h0.7v0.7h-0.7zM348.6,43.9h1.1v1.1h-1.1zM316.8,88.6h0.7v0.7h-0.7zM322.9,87.8h1.0v1.0h-1.0zM354.4,84.5h1.1v1.1h-1.1zM341.3,53.9h1.0v1.0h-1.0zM331.5,39.4h0.9v0.9h-0.9zM372.4,67.7h0.7v0.7h-0.7zM360.0,84.3h0.7v0.7h-0.7zM336.6,45.9h1.0v1.0h-1.0zM342.1,93.8h0.8v0.8h-0.8zM332.8,85.4h1.2v1.2h-1.2zM376.7,90.3h0.8v0.8h-0.8zM318.6,96.7h0.7v0.7h-0.7zM343.8,38.2h0.7v0.7h-0.7zM356.0,92.6h0.7v0.7h-0.7zM323.2,41.4h1.2v1.2h-1.2zM352.9,70.5h1.0v1.0h-1.0zM364.0,95.3h0.9v0.9h-0.9zM316.1,97.3h0.7v0.7h-0.7zM346.2,75.3h0.8v0.8h-0.8zM317.2,86.5h0.7v0.7h-0.7zM313.0,73.8h0.7v0.7h-0.7zM311.6,81.2h0.9v0.9h-0.9zM375.9,76.7h0.8v0.8h-0.8zM348.3,80.0h1.1v1.1h-1.1zM355.2,78.7h1.1v1.1h-1.1zM340.6,41.8h0.7v0.7h-0.7zM369.0,76.8h1.0v1.0h-1.0zM341.4,52.8h0.9v0.9h-0.9zM372.3,90.5h1.1v1.1h-1.1zM351.5,87.0h1.0v1.0h-1.0zM311.8,93.6h0.7v0.7h-0.7zM341.3,47.4h0.9v0.9h-0.9zM325.4,75.5h0.8v0.8h-0.8zM351.4,57.6h0.6v0.6h-0.6zM374.8,41.9h1.1v1.1h-1.1zM372.4,77.8h0.8v0.8h-0.8zM327.5,71.2h1.0v1.0h-1.0zM338.7,34.7h1.0v1.0h-1.0zM376.4,45.8h0.9v0.9h-0.9zM344.2,93.7h0.7v0.7h-0.7zM377.2,82.7h0.7v0.7h-0.7zM371.4,37.6h1.0v1.0h-1.0zM362.8,47.2h1.1v1.1h-1.1zM338.3,89.7h0.9v0.9h-0.9zM311.2,73.3h1.0v1.0h-1.0zM362.2,98.3h0.9v0.9h-0.9zM325.7,75.8h0.9v0.9h-0.9zM339.2,47.6h0.7v0.7h-0.7zM341.7,55.9h1.0v1.0h-1.0zM310.1,95.2h1.2v1.2h-1.2zM312.2,41.7h0.7v0.7h-0.7zM362.1,88.0h0.9v0.9h-0.9zM357.8,92.6h1.1v1.1h-1.1zM328.6,80.9h1.0v1.0h-1.0zM339.2,71.0h1.0v1.0h-1.0zM345.3,66.9h1.1v1.1h-1.1zM345.6,77.6h1.1v1.1h-1.1zM345.7,88.9h0.9v0.9h-0.9zM350.0,62.0h1.2v1.2h-1.2zM328.9,84.8h0.8v0.8h-0.8zM374.5,51.2h0.8v0.8h-0.8zM353.5,48.6h0.8v0.8h-0.8zM373.9,40.3h0.8v0.8h-0.8zM372.0,56.8h1.1v1.1h-1.1zM337.9,64.3h1.0v1.0h-1.0zM369.8,47.7h0.8v0.8h-0.8zM311.8,88.4h0.9v0.9h-0.9z" fill="#8a86b0" opacity="0.3"/><path d="M344.5,96.5h0.8v0.8h-0.8zM365.3,82.6h0.9v0.9h-0.9zM360.2,38.1h0.7v0.7h-0.7zM325.3,92.6h0.6v0.6h-0.6zM321.6,79.1h0.9v0.9h-0.9zM311.4,51.3h1.0v1.0h-1.0zM322.4,80.3h0.6v0.6h-0.6zM312.4,57.2h0.9v0.9h-0.9zM338.5,69.3h1.1v1.1h-1.1zM322.2,40.5h1.2v1.2h-1.2zM376.3,59.0h1.1v1.1h-1.1zM334.1,64.7h1.0v1.0h-1.0zM365.1,40.6h1.0v1.0h-1.0zM334.0,100.7h1.1v1.1h-1.1zM314.5,39.9h1.1v1.1h-1.1zM342.5,61.2h0.6v0.6h-0.6zM310.7,71.4h0.7v0.7h-0.7zM339.8,92.3h0.6v0.6h-0.6zM316.7,50.1h1.1v1.1h-1.1zM322.8,79.5h1.0v1.0h-1.0zM329.7,75.7h0.8v0.8h-0.8zM366.2,60.2h1.0v1.0h-1.0zM345.4,37.3h0.7v0.7h-0.7zM323.5,95.5h1.2v1.2h-1.2zM364.7,71.7h0.7v0.7h-0.7zM323.6,47.2h0.7v0.7h-0.7zM322.6,98.0h0.7v0.7h-0.7zM354.4,42.3h1.2v1.2h-1.2zM366.4,54.2h1.0v1.0h-1.0zM349.6,95.2h1.1v1.1h-1.1zM342.3,42.8h0.7v0.7h-0.7zM352.9,87.9h1.2v1.2h-1.2zM368.1,39.3h0.8v0.8h-0.8zM375.1,89.4h1.2v1.2h-1.2zM339.8,65.2h0.7v0.7h-0.7zM375.6,70.7h1.1v1.1h-1.1zM341.1,78.4h1.0v1.0h-1.0zM371.4,72.2h0.6v0.6h-0.6zM344.4,45.0h0.6v0.6h-0.6zM342.6,39.2h0.9v0.9h-0.9zM312.6,56.7h0.9v0.9h-0.9zM333.7,90.6h0.8v0.8h-0.8zM348.2,92.9h1.0v1.0h-1.0zM346.1,40.2h0.7v0.7h-0.7zM322.6,63.4h0.6v0.6h-0.6zM333.2,46.5h0.8v0.8h-0.8zM364.8,54.8h1.1v1.1h-1.1zM366.8,85.3h0.8v0.8h-0.8zM366.5,67.7h1.1v1.1h-1.1zM320.6,48.8h1.2v1.2h-1.2zM375.2,73.0h1.0v1.0h-1.0zM363.1,50.8h1.1v1.1h-1.1zM374.9,75.8h0.8v0.8h-0.8zM313.1,41.9h0.9v0.9h-0.9zM317.5,71.8h0.6v0.6h-0.6zM365.8,39.6h0.8v0.8h-0.8zM361.1,91.9h0.7v0.7h-0.7zM353.4,91.8h0.6v0.6h-0.6zM313.8,78.2h1.0v1.0h-1.0zM345.6,61.1h1.0v1.0h-1.0zM318.0,53.4h0.7v0.7h-0.7zM351.2,74.8h0.9v0.9h-0.9zM367.2,84.2h1.0v1.0h-1.0zM330.2,96.9h0.8v0.8h-0.8zM365.5,51.3h1.0v1.0h-1.0z" fill="#8a86b0" opacity="0.5"/><path d="M352.0,39.2h1.2v1.2h-1.2zM373.0,100.5h0.9v0.9h-0.9zM325.7,63.9h1.0v1.0h-1.0zM310.3,36.6h1.1v1.1h-1.1zM316.7,46.3h0.9v0.9h-0.9zM335.1,96.6h0.8v0.8h-0.8zM315.4,90.9h0.6v0.6h-0.6zM353.2,98.2h1.2v1.2h-1.2zM337.1,78.7h0.8v0.8h-0.8zM339.3,51.1h1.0v1.0h-1.0zM343.9,36.0h0.8v0.8h-0.8zM321.0,59.7h0.7v0.7h-0.7zM365.6,54.5h0.9v0.9h-0.9zM340.8,49.7h1.1v1.1h-1.1zM339.8,76.9h0.9v0.9h-0.9zM320.1,55.3h0.8v0.8h-0.8zM319.6,47.8h0.9v0.9h-0.9zM326.9,62.2h0.9v0.9h-0.9zM335.1,85.4h0.8v0.8h-0.8zM375.5,77.5h1.2v1.2h-1.2zM347.7,43.4h0.9v0.9h-0.9zM365.4,69.1h1.2v1.2h-1.2zM317.3,48.3h0.7v0.7h-0.7zM361.6,100.0h0.7v0.7h-0.7zM371.4,48.5h0.7v0.7h-0.7zM372.3,47.6h1.1v1.1h-1.1zM368.0,49.0h0.8v0.8h-0.8zM323.3,55.1h1.2v1.2h-1.2zM366.2,35.4h1.0v1.0h-1.0zM375.0,96.0h0.9v0.9h-0.9zM325.8,48.4h1.0v1.0h-1.0zM375.4,60.3h1.1v1.1h-1.1zM324.9,35.9h1.1v1.1h-1.1zM353.6,97.1h0.7v0.7h-0.7zM339.5,43.5h1.2v1.2h-1.2zM355.4,53.9h1.1v1.1h-1.1zM371.3,41.6h1.0v1.0h-1.0zM350.2,38.7h1.1v1.1h-1.1zM337.0,36.9h0.9v0.9h-0.9zM331.9,39.6h0.7v0.7h-0.7zM349.5,50.1h0.7v0.7h-0.7zM315.7,86.1h0.8v0.8h-0.8zM376.1,79.3h0.7v0.7h-0.7zM366.2,56.5h1.0v1.0h-1.0zM333.2,60.5h1.1v1.1h-1.1zM338.1,66.5h0.8v0.8h-0.8zM363.3,94.0h1.0v1.0h-1.0zM365.6,67.7h1.0v1.0h-1.0zM372.7,94.2h1.1v1.1h-1.1zM342.0,78.1h0.8v0.8h-0.8zM346.1,77.3h1.1v1.1h-1.1zM373.1,84.8h0.7v0.7h-0.7zM368.8,59.3h0.6v0.6h-0.6zM352.4,38.7h0.7v0.7h-0.7zM336.5,85.3h0.9v0.9h-0.9zM356.0,39.6h0.8v0.8h-0.8z" fill="#656a88" opacity="0.5"/><path d="M354.5,55.3h0.9v0.9h-0.9zM374.7,51.5h0.9v0.9h-0.9zM338.8,79.5h1.0v1.0h-1.0zM374.8,56.3h0.7v0.7h-0.7zM371.0,93.2h1.1v1.1h-1.1zM314.9,34.4h0.8v0.8h-0.8zM345.8,91.0h0.8v0.8h-0.8zM335.6,58.5h0.9v0.9h-0.9zM356.5,97.5h0.9v0.9h-0.9zM318.6,36.1h0.8v0.8h-0.8zM315.2,54.6h0.6v0.6h-0.6zM319.4,67.0h0.8v0.8h-0.8zM367.9,94.5h1.2v1.2h-1.2zM336.8,87.4h1.0v1.0h-1.0zM341.9,53.2h0.8v0.8h-0.8zM324.1,89.2h1.0v1.0h-1.0zM358.6,64.6h1.1v1.1h-1.1zM357.3,52.4h0.6v0.6h-0.6zM324.5,49.1h1.2v1.2h-1.2zM343.7,52.9h0.9v0.9h-0.9zM344.9,69.4h0.7v0.7h-0.7zM318.5,62.7h0.9v0.9h-0.9zM344.8,63.5h0.9v0.9h-0.9zM358.1,37.6h0.7v0.7h-0.7zM374.6,45.9h1.1v1.1h-1.1zM363.8,53.3h1.0v1.0h-1.0zM337.7,78.0h1.0v1.0h-1.0zM335.5,62.3h0.8v0.8h-0.8zM361.6,49.1h1.0v1.0h-1.0zM371.0,39.9h0.8v0.8h-0.8zM322.0,78.3h1.1v1.1h-1.1zM317.2,49.7h1.2v1.2h-1.2zM325.7,68.7h1.0v1.0h-1.0zM321.7,86.8h0.9v0.9h-0.9zM361.1,66.0h0.8v0.8h-0.8zM369.7,94.5h1.1v1.1h-1.1zM370.8,34.2h1.0v1.0h-1.0zM377.2,62.6h0.7v0.7h-0.7zM320.2,46.9h1.0v1.0h-1.0zM329.8,86.8h0.8v0.8h-0.8zM376.5,84.5h0.8v0.8h-0.8zM369.3,89.3h1.2v1.2h-1.2zM322.3,67.4h1.0v1.0h-1.0zM367.4,41.1h0.7v0.7h-0.7zM331.7,69.6h1.0v1.0h-1.0zM326.6,51.7h0.8v0.8h-0.8zM311.3,67.4h1.0v1.0h-1.0zM366.2,51.7h0.6v0.6h-0.6z" fill="#5a4ab0" opacity="0.7"/><path d="M319.5,38.0h0.7v0.7h-0.7zM316.5,76.6h0.9v0.9h-0.9zM352.1,87.6h1.1v1.1h-1.1zM324.3,94.7h0.9v0.9h-0.9zM330.0,49.7h1.1v1.1h-1.1zM374.0,84.6h1.0v1.0h-1.0zM357.4,61.2h0.8v0.8h-0.8zM377.1,86.4h0.9v0.9h-0.9zM310.8,65.2h0.7v0.7h-0.7zM361.7,47.5h0.9v0.9h-0.9zM362.9,61.2h1.0v1.0h-1.0zM368.2,43.2h0.8v0.8h-0.8zM335.2,58.0h0.7v0.7h-0.7zM364.5,76.4h0.6v0.6h-0.6zM372.4,40.5h1.1v1.1h-1.1zM326.6,50.2h1.0v1.0h-1.0zM341.9,75.5h0.6v0.6h-0.6zM321.7,44.0h0.9v0.9h-0.9zM335.6,75.7h1.1v1.1h-1.1zM339.0,62.7h1.2v1.2h-1.2zM313.2,85.7h0.8v0.8h-0.8zM357.2,52.7h1.2v1.2h-1.2zM363.0,64.1h0.9v0.9h-0.9zM322.9,66.0h0.8v0.8h-0.8zM353.5,67.3h0.7v0.7h-0.7zM320.2,54.2h1.1v1.1h-1.1zM319.6,55.7h0.7v0.7h-0.7zM333.9,56.9h0.6v0.6h-0.6zM363.9,77.4h1.1v1.1h-1.1zM338.5,52.2h1.1v1.1h-1.1zM334.6,90.7h1.0v1.0h-1.0zM347.5,69.9h1.1v1.1h-1.1zM356.9,58.4h0.9v0.9h-0.9zM353.8,61.4h1.1v1.1h-1.1zM334.4,46.2h1.0v1.0h-1.0zM341.0,40.2h0.8v0.8h-0.8zM341.7,76.8h1.2v1.2h-1.2zM363.0,37.0h0.8v0.8h-0.8zM373.0,72.5h0.7v0.7h-0.7zM311.9,51.2h0.8v0.8h-0.8zM355.2,78.0h1.1v1.1h-1.1zM312.2,52.7h0.8v0.8h-0.8zM326.1,50.4h1.0v1.0h-1.0zM322.6,48.4h0.7v0.7h-0.7zM353.5,40.8h0.7v0.7h-0.7zM318.9,65.0h1.1v1.1h-1.1zM358.1,68.8h0.7v0.7h-0.7zM368.6,84.4h1.1v1.1h-1.1zM314.0,48.0h0.9v0.9h-0.9zM365.6,95.1h1.0v1.0h-1.0zM365.3,96.8h1.0v1.0h-1.0zM322.9,38.3h0.9v0.9h-0.9zM351.3,92.4h1.0v1.0h-1.0zM311.2,45.0h1.1v1.1h-1.1z" fill="#5a4ab0" opacity="0.5"/><circle cx="367.0" cy="40.2" r="1.4" fill="#5a44c0" opacity="0.9"/><circle cx="364.0" cy="46.2" r="1.0" fill="#5a44c0" opacity="0.9"/><circle cx="371.0" cy="42.2" r="1.2" fill="#5a44c0" opacity="0.9"/><circle cx="350.0" cy="48.2" r="1.2" fill="#5a44c0" opacity="0.9"/><circle cx="344.0" cy="46.2" r="1.0" fill="#5a44c0" opacity="0.9"/><circle cx="327.0" cy="56.2" r="1.0" fill="#5a44c0" opacity="0.9"/><circle cx="319.0" cy="76.2" r="1.3" fill="#5a44c0" opacity="0.9"/><circle cx="318.0" cy="80.2" r="1.0" fill="#5a44c0" opacity="0.9"/><circle cx="332.0" cy="70.2" r="1.2" fill="#5a44c0" opacity="0.9"/><circle cx="334.0" cy="75.2" r="0.9" fill="#5a44c0" opacity="0.9"/><circle cx="326.0" cy="90.2" r="0.8" fill="#5a44c0" opacity="0.9"/><circle cx="358.0" cy="78.2" r="0.8" fill="#333" opacity="0.9"/></g></svg></g>
<g><rect x="473.9" y="34.2" width="66.9" height="66.9" fill="#c8d1dc"/><svg x="473.9" y="34.2" width="66.9" height="66.9" overflow="hidden"><g transform="translate(-473.9,-34.2)"><g filter="url(#mb)"><circle cx="489.8" cy="70.6" r="7.0" fill="#d4dce6" opacity="0.45"/><circle cx="515.8" cy="38.6" r="4.1" fill="#d4dce6" opacity="0.45"/><circle cx="491.3" cy="49.9" r="12.0" fill="#b2bece" opacity="0.45"/><circle cx="529.9" cy="66.1" r="9.1" fill="#b2bece" opacity="0.45"/><circle cx="516.4" cy="92.3" r="8.2" fill="#d4dce6" opacity="0.45"/><circle cx="518.8" cy="38.5" r="10.1" fill="#d4dce6" opacity="0.45"/><circle cx="494.1" cy="36.3" r="10.9" fill="#b2bece" opacity="0.45"/><circle cx="522.0" cy="93.0" r="9.7" fill="#d4dce6" opacity="0.45"/><circle cx="500.3" cy="87.8" r="7.6" fill="#d4dce6" opacity="0.45"/><circle cx="532.7" cy="40.7" r="5.1" fill="#b2bece" opacity="0.45"/><circle cx="538.5" cy="63.4" r="9.0" fill="#b2bece" opacity="0.45"/><circle cx="507.8" cy="60.0" r="6.8" fill="#d4dce6" opacity="0.45"/><circle cx="513.0" cy="94.7" r="9.5" fill="#d4dce6" opacity="0.45"/><circle cx="531.2" cy="100.5" r="9.4" fill="#b2bece" opacity="0.45"/><ellipse cx="523.4" cy="64.2" rx="17.5" ry="30.0" fill="#a0b0cc" opacity="0.35"/></g><path d="M531.5,98.7h1.2v1.2h-1.2zM531.0,100.4h1.2v1.2h-1.2zM532.3,37.2h1.0v1.0h-1.0zM532.8,99.8h0.6v0.6h-0.6zM494.9,98.3h0.8v0.8h-0.8zM498.2,55.1h1.0v1.0h-1.0zM496.4,77.7h0.8v0.8h-0.8zM533.1,64.4h1.0v1.0h-1.0zM505.8,86.5h1.1v1.1h-1.1zM486.7,56.2h0.8v0.8h-0.8zM511.8,46.4h1.1v1.1h-1.1zM528.5,84.3h1.1v1.1h-1.1zM537.4,59.8h0.7v0.7h-0.7zM477.3,58.3h1.0v1.0h-1.0zM489.5,39.4h1.2v1.2h-1.2zM481.2,37.1h1.0v1.0h-1.0zM475.7,98.8h0.6v0.6h-0.6zM529.8,71.2h0.8v0.8h-0.8zM535.7,58.5h0.9v0.9h-0.9zM533.9,83.2h1.1v1.1h-1.1zM496.2,59.0h1.1v1.1h-1.1zM537.4,66.6h0.8v0.8h-0.8zM493.4,96.7h1.1v1.1h-1.1zM522.2,53.9h1.0v1.0h-1.0zM520.8,99.5h0.9v0.9h-0.9zM490.4,87.9h0.9v0.9h-0.9zM498.7,68.6h1.0v1.0h-1.0zM517.0,47.3h0.9v0.9h-0.9zM509.1,83.9h0.6v0.6h-0.6zM483.4,37.9h0.7v0.7h-0.7zM492.7,43.0h1.1v1.1h-1.1zM504.2,66.2h1.1v1.1h-1.1zM535.0,63.7h0.9v0.9h-0.9zM529.0,74.3h0.6v0.6h-0.6zM529.6,46.5h0.8v0.8h-0.8zM522.7,59.5h0.6v0.6h-0.6zM517.8,40.9h1.2v1.2h-1.2zM530.4,47.1h1.1v1.1h-1.1zM533.4,85.8h0.6v0.6h-0.6zM523.1,68.9h1.1v1.1h-1.1zM531.0,54.5h0.7v0.7h-0.7zM509.7,65.9h1.1v1.1h-1.1zM536.9,66.7h1.1v1.1h-1.1zM506.3,74.9h1.1v1.1h-1.1zM540.4,81.6h1.2v1.2h-1.2zM515.3,64.7h1.2v1.2h-1.2zM531.8,63.3h0.7v0.7h-0.7zM524.2,59.8h1.1v1.1h-1.1zM512.6,39.2h1.2v1.2h-1.2zM528.4,77.9h0.7v0.7h-0.7zM537.4,41.5h0.7v0.7h-0.7zM516.9,60.8h0.7v0.7h-0.7zM506.5,91.2h1.1v1.1h-1.1zM540.1,51.1h0.8v0.8h-0.8z" fill="#7286b0" opacity="0.5"/><path d="M534.4,72.3h0.9v0.9h-0.9zM489.8,54.3h1.1v1.1h-1.1zM529.7,63.5h1.1v1.1h-1.1zM532.8,100.2h1.2v1.2h-1.2zM514.9,57.0h1.2v1.2h-1.2zM490.8,91.8h0.8v0.8h-0.8zM502.2,65.8h0.6v0.6h-0.6zM539.1,91.4h1.0v1.0h-1.0zM479.7,67.8h1.2v1.2h-1.2zM482.2,71.4h1.1v1.1h-1.1zM502.4,93.0h0.7v0.7h-0.7zM526.9,78.9h0.9v0.9h-0.9zM478.0,55.9h1.0v1.0h-1.0zM490.6,75.4h0.7v0.7h-0.7zM487.2,73.4h1.0v1.0h-1.0zM493.7,81.4h1.2v1.2h-1.2zM510.3,42.2h1.0v1.0h-1.0zM513.9,71.3h0.6v0.6h-0.6zM523.4,58.2h1.0v1.0h-1.0zM501.8,83.9h0.8v0.8h-0.8zM509.2,72.2h0.8v0.8h-0.8zM517.1,63.9h1.0v1.0h-1.0zM535.9,82.1h1.0v1.0h-1.0zM502.1,77.6h0.9v0.9h-0.9zM486.0,94.4h0.8v0.8h-0.8zM485.2,67.0h0.9v0.9h-0.9zM505.6,45.2h1.1v1.1h-1.1zM526.6,65.3h0.7v0.7h-0.7zM505.1,84.9h0.7v0.7h-0.7zM479.6,65.3h1.1v1.1h-1.1zM503.7,41.6h1.1v1.1h-1.1zM525.6,61.4h0.9v0.9h-0.9zM508.7,77.0h0.7v0.7h-0.7zM477.3,70.7h1.2v1.2h-1.2zM490.4,43.3h1.1v1.1h-1.1zM507.9,89.8h1.0v1.0h-1.0zM528.4,74.5h1.0v1.0h-1.0zM510.5,61.5h1.2v1.2h-1.2zM487.3,39.5h1.0v1.0h-1.0zM483.6,42.7h0.7v0.7h-0.7zM510.1,63.7h0.7v0.7h-0.7zM498.4,48.6h0.9v0.9h-0.9zM500.6,59.1h0.9v0.9h-0.9zM509.9,95.8h0.8v0.8h-0.8zM493.1,46.9h0.7v0.7h-0.7zM508.1,63.1h1.0v1.0h-1.0zM521.2,40.0h1.2v1.2h-1.2zM513.0,57.7h1.0v1.0h-1.0zM513.3,45.4h0.7v0.7h-0.7zM512.1,79.3h0.7v0.7h-0.7zM513.0,64.5h1.0v1.0h-1.0zM524.9,74.3h0.8v0.8h-0.8zM506.8,35.8h0.7v0.7h-0.7zM507.4,92.0h0.8v0.8h-0.8zM532.8,64.7h1.0v1.0h-1.0zM516.6,78.5h0.9v0.9h-0.9zM510.7,80.8h1.1v1.1h-1.1z" fill="#7286b0" opacity="0.7"/><path d="M521.7,48.3h0.9v0.9h-0.9zM501.4,44.3h1.1v1.1h-1.1zM514.0,36.3h0.9v0.9h-0.9zM515.9,65.4h1.0v1.0h-1.0zM475.4,38.3h0.6v0.6h-0.6zM497.1,62.1h1.1v1.1h-1.1zM534.4,80.6h1.1v1.1h-1.1zM535.7,94.2h1.1v1.1h-1.1zM529.0,34.7h0.9v0.9h-0.9zM477.2,52.4h1.0v1.0h-1.0zM502.0,80.6h1.2v1.2h-1.2zM505.2,49.6h1.0v1.0h-1.0zM491.0,92.1h0.8v0.8h-0.8zM522.7,39.9h1.1v1.1h-1.1zM503.1,66.7h0.8v0.8h-0.8zM497.5,90.9h1.2v1.2h-1.2zM510.0,96.4h0.9v0.9h-0.9zM531.3,74.4h1.0v1.0h-1.0zM479.1,47.6h0.6v0.6h-0.6zM498.7,69.6h0.7v0.7h-0.7zM513.8,49.2h0.9v0.9h-0.9zM503.9,61.5h0.7v0.7h-0.7zM519.6,99.0h0.9v0.9h-0.9zM477.5,78.0h0.9v0.9h-0.9zM506.5,44.5h1.1v1.1h-1.1zM479.3,77.6h1.0v1.0h-1.0zM529.8,74.0h1.0v1.0h-1.0zM536.2,82.8h0.8v0.8h-0.8zM532.4,100.2h1.2v1.2h-1.2zM509.7,62.2h1.1v1.1h-1.1zM539.4,92.8h1.0v1.0h-1.0zM539.4,86.8h1.1v1.1h-1.1zM534.5,65.5h0.8v0.8h-0.8zM519.6,100.6h0.9v0.9h-0.9zM501.5,91.1h0.9v0.9h-0.9zM510.4,37.4h1.0v1.0h-1.0zM486.6,89.2h0.7v0.7h-0.7zM497.0,84.3h0.7v0.7h-0.7zM538.4,90.4h1.1v1.1h-1.1zM531.6,90.1h0.9v0.9h-0.9zM532.8,59.5h1.0v1.0h-1.0zM516.0,78.3h1.0v1.0h-1.0zM517.5,59.3h1.1v1.1h-1.1zM506.8,90.3h0.9v0.9h-0.9zM540.3,73.9h0.9v0.9h-0.9zM537.9,58.0h1.0v1.0h-1.0zM526.8,71.9h1.0v1.0h-1.0zM521.4,37.6h0.6v0.6h-0.6zM529.9,47.5h1.0v1.0h-1.0zM535.7,62.9h0.8v0.8h-0.8zM532.5,67.4h0.8v0.8h-0.8zM514.6,76.1h1.1v1.1h-1.1zM511.9,57.9h0.9v0.9h-0.9zM530.0,59.9h0.9v0.9h-0.9zM510.7,71.7h0.9v0.9h-0.9zM511.9,36.2h1.0v1.0h-1.0zM533.7,64.2h0.8v0.8h-0.8zM509.0,92.1h0.9v0.9h-0.9zM532.0,66.1h0.9v0.9h-0.9zM528.0,39.2h1.2v1.2h-1.2zM508.3,74.8h0.7v0.7h-0.7zM507.9,48.6h0.8v0.8h-0.8zM526.4,70.9h0.8v0.8h-0.8zM509.3,44.9h0.8v0.8h-0.8zM536.8,68.1h0.6v0.6h-0.6zM513.6,47.9h1.1v1.1h-1.1zM522.6,56.9h0.6v0.6h-0.6zM526.7,91.0h1.1v1.1h-1.1zM538.6,79.4h1.1v1.1h-1.1z" fill="#5468a8" opacity="0.5"/><path d="M529.5,72.6h1.1v1.1h-1.1zM504.7,69.0h0.8v0.8h-0.8zM502.7,82.4h1.1v1.1h-1.1zM501.7,73.0h0.6v0.6h-0.6zM521.2,83.6h0.7v0.7h-0.7zM490.7,64.7h0.9v0.9h-0.9zM513.5,55.6h1.1v1.1h-1.1zM534.0,87.1h0.7v0.7h-0.7zM491.4,65.3h1.1v1.1h-1.1zM490.1,46.2h0.6v0.6h-0.6zM523.9,44.9h0.6v0.6h-0.6zM506.3,77.2h0.8v0.8h-0.8zM512.7,79.4h1.0v1.0h-1.0zM488.0,73.3h1.1v1.1h-1.1zM486.8,69.6h0.7v0.7h-0.7zM511.8,98.4h1.2v1.2h-1.2zM524.5,66.6h0.9v0.9h-0.9zM475.7,41.6h1.2v1.2h-1.2zM490.6,52.0h1.1v1.1h-1.1zM537.2,40.1h0.6v0.6h-0.6zM536.0,45.9h0.9v0.9h-0.9zM491.9,45.6h0.9v0.9h-0.9zM524.8,92.5h0.8v0.8h-0.8zM497.1,66.6h0.9v0.9h-0.9zM488.2,57.7h0.8v0.8h-0.8zM540.5,56.6h0.8v0.8h-0.8zM488.5,45.3h0.8v0.8h-0.8zM486.2,40.6h1.0v1.0h-1.0zM476.6,84.1h1.1v1.1h-1.1zM497.0,83.8h0.7v0.7h-0.7zM510.8,52.9h0.8v0.8h-0.8zM529.3,96.5h0.8v0.8h-0.8zM533.8,98.4h0.8v0.8h-0.8zM492.8,43.0h0.7v0.7h-0.7zM519.0,77.5h1.2v1.2h-1.2zM499.5,41.4h0.7v0.7h-0.7zM479.0,47.0h0.9v0.9h-0.9zM532.3,41.9h0.8v0.8h-0.8zM502.7,92.2h1.0v1.0h-1.0zM517.5,92.7h1.0v1.0h-1.0zM507.2,64.1h0.7v0.7h-0.7zM519.9,57.6h1.0v1.0h-1.0zM519.7,66.6h0.9v0.9h-0.9zM532.1,51.7h1.1v1.1h-1.1zM519.8,38.2h1.1v1.1h-1.1zM511.4,93.0h1.1v1.1h-1.1zM527.0,43.9h0.9v0.9h-0.9zM533.9,54.9h1.2v1.2h-1.2zM509.3,53.1h1.1v1.1h-1.1zM516.7,38.0h1.1v1.1h-1.1zM506.1,76.7h0.6v0.6h-0.6z" fill="#5468a8" opacity="0.7"/><path d="M493.0,38.4h0.8v0.8h-0.8zM507.7,101.0h0.9v0.9h-0.9zM533.9,59.5h0.8v0.8h-0.8zM486.4,63.3h0.8v0.8h-0.8zM527.8,57.3h1.1v1.1h-1.1zM535.5,44.6h0.7v0.7h-0.7zM513.3,53.4h0.9v0.9h-0.9zM485.4,54.3h1.1v1.1h-1.1zM497.4,47.4h0.8v0.8h-0.8zM497.4,77.5h0.7v0.7h-0.7zM513.1,58.3h0.6v0.6h-0.6zM504.7,50.6h1.1v1.1h-1.1zM509.7,80.7h0.7v0.7h-0.7zM519.0,90.1h1.1v1.1h-1.1zM520.1,84.8h1.1v1.1h-1.1zM501.5,91.3h0.7v0.7h-0.7zM486.6,51.5h1.0v1.0h-1.0zM480.1,90.0h1.0v1.0h-1.0zM537.8,60.4h0.7v0.7h-0.7zM481.4,93.6h1.1v1.1h-1.1zM536.2,43.7h1.1v1.1h-1.1zM532.3,37.0h1.1v1.1h-1.1zM507.7,50.7h0.6v0.6h-0.6zM525.3,57.9h0.6v0.6h-0.6zM480.6,41.7h0.9v0.9h-0.9zM474.1,85.7h0.9v0.9h-0.9zM518.2,67.1h0.7v0.7h-0.7zM476.4,67.7h0.7v0.7h-0.7zM520.4,43.2h0.9v0.9h-0.9zM527.9,96.5h0.7v0.7h-0.7zM524.5,61.1h0.9v0.9h-0.9zM500.9,60.7h1.2v1.2h-1.2zM522.6,52.6h0.8v0.8h-0.8zM526.0,66.4h0.7v0.7h-0.7zM522.1,74.7h1.0v1.0h-1.0zM516.9,93.0h0.8v0.8h-0.8zM532.3,64.3h0.9v0.9h-0.9zM478.7,60.9h0.7v0.7h-0.7zM537.3,94.6h0.8v0.8h-0.8zM498.0,91.2h0.8v0.8h-0.8zM493.8,50.4h0.9v0.9h-0.9zM486.3,35.1h1.1v1.1h-1.1zM480.2,55.0h1.0v1.0h-1.0zM497.4,64.6h1.1v1.1h-1.1zM538.1,44.6h1.1v1.1h-1.1zM506.5,52.9h0.7v0.7h-0.7zM478.5,52.1h0.9v0.9h-0.9zM538.2,70.0h1.0v1.0h-1.0zM526.2,72.3h1.1v1.1h-1.1zM503.5,70.0h0.7v0.7h-0.7zM513.7,96.6h1.0v1.0h-1.0zM495.5,68.1h0.9v0.9h-0.9zM498.9,55.5h1.1v1.1h-1.1zM509.5,92.7h0.8v0.8h-0.8zM477.9,91.4h1.1v1.1h-1.1zM510.6,66.1h0.7v0.7h-0.7zM532.8,88.8h0.8v0.8h-0.8zM538.7,41.4h0.7v0.7h-0.7zM535.1,37.6h0.8v0.8h-0.8zM521.5,63.8h1.0v1.0h-1.0zM522.7,68.2h0.7v0.7h-0.7zM539.6,45.4h1.2v1.2h-1.2zM532.2,47.7h0.7v0.7h-0.7zM511.7,74.2h0.6v0.6h-0.6zM524.0,53.9h1.0v1.0h-1.0zM529.3,53.8h0.9v0.9h-0.9zM513.9,59.2h1.0v1.0h-1.0zM526.8,51.6h1.0v1.0h-1.0zM510.2,64.2h1.1v1.1h-1.1zM538.3,59.1h0.6v0.6h-0.6zM507.6,74.7h1.1v1.1h-1.1zM539.4,62.8h0.8v0.8h-0.8zM513.0,54.4h1.1v1.1h-1.1zM507.3,78.2h0.9v0.9h-0.9zM512.8,70.6h1.2v1.2h-1.2zM537.6,60.3h0.9v0.9h-0.9zM519.8,64.6h1.0v1.0h-1.0z" fill="#8898b8" opacity="0.7"/><path d="M479.8,87.8h1.0v1.0h-1.0zM522.0,56.3h1.0v1.0h-1.0zM539.3,69.1h0.6v0.6h-0.6zM498.6,74.0h1.0v1.0h-1.0zM494.6,49.1h0.9v0.9h-0.9zM495.4,56.5h1.1v1.1h-1.1zM531.1,45.5h0.8v0.8h-0.8zM486.2,52.8h1.2v1.2h-1.2zM535.9,49.1h1.0v1.0h-1.0zM518.3,68.9h1.0v1.0h-1.0zM493.2,57.0h0.7v0.7h-0.7zM482.2,38.8h1.0v1.0h-1.0zM527.5,75.9h0.8v0.8h-0.8zM536.6,59.2h0.7v0.7h-0.7zM518.2,93.6h1.0v1.0h-1.0zM482.0,90.7h1.1v1.1h-1.1zM524.0,96.7h1.1v1.1h-1.1zM511.6,89.6h0.6v0.6h-0.6zM531.2,61.0h1.1v1.1h-1.1zM496.2,61.2h0.8v0.8h-0.8zM516.3,99.6h0.9v0.9h-0.9zM495.5,92.4h0.9v0.9h-0.9zM520.7,70.2h1.1v1.1h-1.1zM522.0,58.7h1.1v1.1h-1.1zM504.7,47.3h0.7v0.7h-0.7zM477.9,35.7h1.0v1.0h-1.0zM534.1,47.6h0.9v0.9h-0.9zM539.1,66.1h0.6v0.6h-0.6zM496.3,79.7h0.9v0.9h-0.9zM537.8,41.2h1.1v1.1h-1.1zM502.0,86.5h0.9v0.9h-0.9zM487.2,94.0h1.1v1.1h-1.1zM502.7,39.8h1.2v1.2h-1.2zM480.8,54.2h0.7v0.7h-0.7zM477.3,47.8h1.2v1.2h-1.2zM495.0,69.1h1.0v1.0h-1.0zM530.0,76.4h1.2v1.2h-1.2zM506.2,52.1h0.9v0.9h-0.9zM494.9,35.6h0.8v0.8h-0.8zM519.8,69.3h0.8v0.8h-0.8zM539.5,96.8h1.1v1.1h-1.1zM493.1,99.5h0.9v0.9h-0.9zM492.8,36.2h1.0v1.0h-1.0zM479.6,36.1h0.7v0.7h-0.7zM532.3,93.7h0.6v0.6h-0.6zM535.9,78.5h0.9v0.9h-0.9zM518.0,93.9h0.9v0.9h-0.9zM526.3,83.6h0.8v0.8h-0.8zM540.5,84.4h0.8v0.8h-0.8zM526.1,40.6h1.0v1.0h-1.0zM524.7,89.6h1.0v1.0h-1.0zM515.6,53.1h1.1v1.1h-1.1zM521.9,92.7h0.8v0.8h-0.8zM518.9,36.8h0.8v0.8h-0.8zM534.0,57.5h0.7v0.7h-0.7zM536.3,88.5h0.7v0.7h-0.7zM538.3,59.5h0.8v0.8h-0.8zM517.8,60.1h0.9v0.9h-0.9zM512.9,57.9h0.9v0.9h-0.9zM538.4,49.4h1.0v1.0h-1.0zM517.0,57.3h0.7v0.7h-0.7zM534.6,38.4h1.1v1.1h-1.1z" fill="#8898b8" opacity="0.5"/><path d="M493.6,85.6h0.8v0.8h-0.8zM517.0,74.0h0.9v0.9h-0.9zM527.7,50.2h0.9v0.9h-0.9zM527.9,77.1h1.0v1.0h-1.0zM482.6,53.7h0.7v0.7h-0.7zM502.0,61.6h0.7v0.7h-0.7zM503.0,97.8h0.9v0.9h-0.9zM489.1,38.8h0.9v0.9h-0.9zM518.2,69.3h0.9v0.9h-0.9zM491.9,69.5h1.1v1.1h-1.1zM502.8,59.1h0.9v0.9h-0.9zM478.7,62.6h1.1v1.1h-1.1zM480.8,73.5h0.8v0.8h-0.8zM525.2,68.4h0.7v0.7h-0.7zM533.9,44.2h1.0v1.0h-1.0zM486.4,81.3h0.6v0.6h-0.6zM531.3,94.4h1.1v1.1h-1.1zM474.4,56.6h0.9v0.9h-0.9zM493.7,79.4h1.1v1.1h-1.1zM517.7,88.1h0.9v0.9h-0.9zM491.7,84.7h0.8v0.8h-0.8zM506.9,57.8h0.9v0.9h-0.9zM485.9,93.7h0.9v0.9h-0.9zM526.0,82.9h0.8v0.8h-0.8zM487.4,50.9h0.6v0.6h-0.6zM527.6,93.8h1.1v1.1h-1.1zM487.9,45.6h0.6v0.6h-0.6zM521.0,37.6h0.9v0.9h-0.9zM536.3,54.3h0.9v0.9h-0.9zM528.4,76.3h0.8v0.8h-0.8zM493.5,91.1h0.9v0.9h-0.9zM481.6,60.3h1.0v1.0h-1.0zM519.2,40.7h1.1v1.1h-1.1zM490.0,37.5h1.1v1.1h-1.1zM514.3,87.0h1.2v1.2h-1.2zM478.7,71.2h1.1v1.1h-1.1zM517.3,74.7h0.9v0.9h-0.9zM514.9,96.5h0.7v0.7h-0.7zM492.4,63.1h1.0v1.0h-1.0zM527.9,34.9h1.0v1.0h-1.0zM539.4,36.5h1.0v1.0h-1.0zM534.9,88.3h1.1v1.1h-1.1zM527.6,64.5h0.8v0.8h-0.8zM535.5,46.3h0.7v0.7h-0.7zM537.4,97.3h0.7v0.7h-0.7zM532.4,37.5h1.0v1.0h-1.0zM497.6,97.8h0.7v0.7h-0.7zM497.9,74.4h1.0v1.0h-1.0zM507.4,83.2h1.1v1.1h-1.1zM503.4,75.5h1.1v1.1h-1.1zM530.6,86.2h1.0v1.0h-1.0zM494.0,68.0h1.2v1.2h-1.2zM513.0,44.0h0.7v0.7h-0.7zM479.4,55.7h0.6v0.6h-0.6zM529.3,90.2h0.9v0.9h-0.9zM526.3,87.2h1.0v1.0h-1.0zM524.8,51.3h1.1v1.1h-1.1zM524.4,46.3h1.2v1.2h-1.2zM515.1,75.8h1.0v1.0h-1.0zM513.6,60.7h1.2v1.2h-1.2zM525.7,48.9h0.9v0.9h-0.9zM517.1,77.7h1.0v1.0h-1.0zM521.1,49.9h0.8v0.8h-0.8zM524.9,69.3h0.9v0.9h-0.9zM521.9,93.8h1.0v1.0h-1.0zM517.8,46.0h0.7v0.7h-0.7zM509.4,89.8h1.1v1.1h-1.1zM518.7,94.2h0.6v0.6h-0.6zM522.7,49.1h0.9v0.9h-0.9zM506.3,62.6h0.8v0.8h-0.8zM510.5,71.7h0.7v0.7h-0.7zM530.8,67.8h0.7v0.7h-0.7zM527.0,35.9h1.0v1.0h-1.0zM514.4,45.1h0.9v0.9h-0.9zM509.5,80.2h0.9v0.9h-0.9zM530.9,93.0h0.9v0.9h-0.9zM516.2,85.5h0.6v0.6h-0.6zM511.0,47.1h0.7v0.7h-0.7z" fill="#4858b0" opacity="0.7"/><path d="M515.0,37.2h0.7v0.7h-0.7zM514.7,44.6h0.8v0.8h-0.8zM510.6,35.0h1.1v1.1h-1.1zM519.3,57.8h1.1v1.1h-1.1zM494.0,59.4h1.0v1.0h-1.0zM525.6,36.0h1.1v1.1h-1.1zM523.8,90.2h0.8v0.8h-0.8zM501.6,97.0h1.1v1.1h-1.1zM526.3,59.6h1.1v1.1h-1.1zM521.7,41.3h1.0v1.0h-1.0zM524.3,60.5h0.8v0.8h-0.8zM498.5,60.7h0.8v0.8h-0.8zM503.5,82.3h1.0v1.0h-1.0zM506.0,74.3h0.9v0.9h-0.9zM489.6,82.2h1.2v1.2h-1.2zM536.9,59.2h0.7v0.7h-0.7zM496.1,82.4h1.0v1.0h-1.0zM510.1,85.8h0.8v0.8h-0.8zM481.4,52.3h0.7v0.7h-0.7zM513.5,44.0h0.6v0.6h-0.6zM500.6,47.2h1.1v1.1h-1.1zM519.8,54.2h0.9v0.9h-0.9zM514.1,82.8h0.9v0.9h-0.9zM508.9,65.0h0.7v0.7h-0.7zM474.1,48.2h0.9v0.9h-0.9zM500.9,45.5h1.0v1.0h-1.0zM488.5,40.5h0.7v0.7h-0.7zM475.9,40.3h0.9v0.9h-0.9zM523.4,83.3h1.0v1.0h-1.0zM488.6,71.8h0.7v0.7h-0.7zM485.8,39.5h0.8v0.8h-0.8zM522.6,39.4h1.0v1.0h-1.0zM523.1,62.5h1.0v1.0h-1.0zM540.6,95.8h0.9v0.9h-0.9zM498.8,45.0h0.8v0.8h-0.8zM494.8,65.2h0.9v0.9h-0.9zM509.7,45.3h0.7v0.7h-0.7zM502.8,56.8h1.1v1.1h-1.1zM515.9,79.4h1.0v1.0h-1.0zM485.2,35.3h0.8v0.8h-0.8zM518.4,96.3h0.6v0.6h-0.6zM485.3,46.4h0.8v0.8h-0.8zM490.6,99.8h1.2v1.2h-1.2zM492.8,98.5h1.1v1.1h-1.1zM483.5,94.8h0.7v0.7h-0.7zM483.7,74.4h1.2v1.2h-1.2zM491.9,42.4h1.0v1.0h-1.0zM496.7,77.4h0.7v0.7h-0.7zM509.6,83.5h0.7v0.7h-0.7zM508.2,34.8h1.1v1.1h-1.1zM509.0,72.7h1.0v1.0h-1.0zM524.2,68.6h1.0v1.0h-1.0zM513.0,37.8h0.7v0.7h-0.7zM513.5,83.6h1.1v1.1h-1.1zM512.1,49.2h0.8v0.8h-0.8zM512.8,58.7h1.1v1.1h-1.1zM519.5,37.0h1.1v1.1h-1.1zM525.4,78.9h0.6v0.6h-0.6zM506.1,39.2h1.1v1.1h-1.1zM526.3,71.6h1.1v1.1h-1.1zM529.5,64.9h0.8v0.8h-0.8zM519.6,62.1h1.1v1.1h-1.1zM523.4,49.5h0.9v0.9h-0.9zM508.9,87.5h1.1v1.1h-1.1z" fill="#5468a8" opacity="0.3"/><path d="M494.6,39.3h0.9v0.9h-0.9zM476.7,92.3h0.8v0.8h-0.8zM516.2,38.2h1.0v1.0h-1.0zM489.0,42.3h1.2v1.2h-1.2zM509.7,88.8h1.0v1.0h-1.0zM495.0,55.2h1.0v1.0h-1.0zM479.2,46.1h1.2v1.2h-1.2zM535.2,68.8h0.8v0.8h-0.8zM523.0,98.4h0.6v0.6h-0.6zM492.3,78.7h1.2v1.2h-1.2zM525.6,84.9h1.0v1.0h-1.0zM521.9,79.6h0.7v0.7h-0.7zM517.7,42.4h0.6v0.6h-0.6zM517.2,64.8h0.9v0.9h-0.9zM494.8,46.0h1.1v1.1h-1.1zM524.4,70.5h0.7v0.7h-0.7zM526.3,43.8h0.8v0.8h-0.8zM513.5,34.4h0.8v0.8h-0.8zM527.7,95.6h1.1v1.1h-1.1zM501.6,49.5h0.8v0.8h-0.8zM489.8,90.6h1.1v1.1h-1.1zM484.1,77.3h0.8v0.8h-0.8zM513.1,35.0h0.6v0.6h-0.6zM529.1,41.7h1.2v1.2h-1.2zM497.1,74.5h1.0v1.0h-1.0zM528.4,48.0h0.7v0.7h-0.7zM523.9,53.4h1.0v1.0h-1.0zM484.1,85.2h0.7v0.7h-0.7zM493.0,65.2h1.0v1.0h-1.0zM495.1,52.3h1.1v1.1h-1.1zM528.6,34.6h1.2v1.2h-1.2zM489.7,98.3h1.1v1.1h-1.1zM500.0,100.3h1.1v1.1h-1.1zM536.7,100.9h1.0v1.0h-1.0zM504.9,70.2h0.9v0.9h-0.9zM529.6,47.6h1.0v1.0h-1.0zM525.1,40.4h0.9v0.9h-0.9zM510.6,93.3h0.7v0.7h-0.7zM522.3,85.6h1.0v1.0h-1.0zM516.3,88.2h0.6v0.6h-0.6zM524.8,86.0h0.6v0.6h-0.6zM507.8,63.1h0.7v0.7h-0.7zM511.8,40.2h0.7v0.7h-0.7zM539.1,62.8h0.8v0.8h-0.8zM509.3,76.4h0.9v0.9h-0.9zM532.0,64.4h0.8v0.8h-0.8zM534.1,60.9h1.1v1.1h-1.1zM525.8,50.1h1.1v1.1h-1.1zM516.4,52.5h1.0v1.0h-1.0zM532.2,56.0h1.0v1.0h-1.0zM523.5,60.2h0.8v0.8h-0.8zM528.5,77.1h0.8v0.8h-0.8zM534.9,59.5h1.1v1.1h-1.1zM514.4,47.5h1.1v1.1h-1.1zM538.7,48.0h1.1v1.1h-1.1z" fill="#4858b0" opacity="0.5"/><path d="M487.1,61.5h0.9v0.9h-0.9zM511.3,75.7h1.0v1.0h-1.0zM475.2,75.4h0.7v0.7h-0.7zM512.0,83.4h1.0v1.0h-1.0zM509.3,47.0h1.2v1.2h-1.2zM485.4,87.2h0.9v0.9h-0.9zM535.6,88.1h1.2v1.2h-1.2zM525.8,34.3h1.2v1.2h-1.2zM521.8,59.6h1.1v1.1h-1.1zM498.9,74.6h0.7v0.7h-0.7zM507.1,81.2h1.0v1.0h-1.0zM482.1,88.6h1.2v1.2h-1.2zM525.7,37.2h0.7v0.7h-0.7zM532.8,46.2h0.9v0.9h-0.9zM475.5,90.5h1.0v1.0h-1.0zM537.6,72.9h0.9v0.9h-0.9zM497.3,62.2h1.1v1.1h-1.1zM539.0,61.8h0.7v0.7h-0.7zM495.0,49.7h1.1v1.1h-1.1zM513.0,52.1h0.8v0.8h-0.8zM488.5,35.7h0.9v0.9h-0.9zM483.5,100.5h1.0v1.0h-1.0zM528.9,71.5h1.1v1.1h-1.1zM493.4,58.1h0.8v0.8h-0.8zM517.1,76.4h1.1v1.1h-1.1zM486.3,46.9h0.8v0.8h-0.8zM523.4,57.2h0.9v0.9h-0.9zM515.5,57.4h0.9v0.9h-0.9zM482.2,37.7h0.7v0.7h-0.7zM494.3,74.8h0.9v0.9h-0.9zM521.4,60.1h0.7v0.7h-0.7zM512.0,41.6h0.6v0.6h-0.6zM475.5,98.9h1.0v1.0h-1.0zM510.0,65.3h1.1v1.1h-1.1zM501.4,39.4h1.0v1.0h-1.0zM509.1,70.5h0.8v0.8h-0.8zM533.2,88.2h0.8v0.8h-0.8zM524.6,87.0h0.6v0.6h-0.6zM501.6,68.9h1.2v1.2h-1.2zM521.4,95.2h1.2v1.2h-1.2zM499.5,89.6h0.9v0.9h-0.9zM479.2,49.6h0.7v0.7h-0.7zM524.7,46.0h1.1v1.1h-1.1zM497.5,95.4h0.9v0.9h-0.9zM485.1,52.0h0.7v0.7h-0.7zM519.6,42.3h1.0v1.0h-1.0zM540.2,75.7h1.0v1.0h-1.0zM508.8,60.7h1.1v1.1h-1.1zM521.0,52.9h0.6v0.6h-0.6zM522.8,44.9h1.0v1.0h-1.0zM531.5,69.2h1.0v1.0h-1.0zM513.0,39.8h0.9v0.9h-0.9zM538.9,41.2h0.7v0.7h-0.7zM512.9,47.6h1.0v1.0h-1.0zM538.1,46.4h0.7v0.7h-0.7zM530.4,34.3h0.8v0.8h-0.8zM515.8,76.1h1.0v1.0h-1.0zM539.6,34.6h0.6v0.6h-0.6zM537.1,82.2h0.9v0.9h-0.9z" fill="#4858b0" opacity="0.3"/><path d="M536.8,68.1h1.2v1.2h-1.2zM520.6,41.0h0.9v0.9h-0.9zM528.1,37.2h0.7v0.7h-0.7zM534.1,72.8h0.9v0.9h-0.9zM474.2,43.8h1.0v1.0h-1.0zM527.3,36.6h1.0v1.0h-1.0zM519.0,68.8h0.9v0.9h-0.9zM480.3,84.3h0.7v0.7h-0.7zM520.1,98.0h1.1v1.1h-1.1zM506.0,59.8h0.8v0.8h-0.8zM485.4,58.3h1.0v1.0h-1.0zM505.2,90.0h0.6v0.6h-0.6zM506.1,82.4h0.8v0.8h-0.8zM534.7,40.7h1.0v1.0h-1.0zM478.5,82.1h0.8v0.8h-0.8zM526.2,36.2h0.8v0.8h-0.8zM533.6,43.3h0.8v0.8h-0.8zM494.3,65.3h0.8v0.8h-0.8zM521.4,35.7h1.1v1.1h-1.1zM488.8,89.7h0.9v0.9h-0.9zM515.1,77.1h1.2v1.2h-1.2zM514.9,36.2h0.8v0.8h-0.8zM512.3,71.0h0.7v0.7h-0.7zM485.8,100.6h0.8v0.8h-0.8zM539.5,50.7h1.2v1.2h-1.2zM506.4,81.3h0.8v0.8h-0.8zM487.4,37.7h1.0v1.0h-1.0zM474.8,92.4h1.2v1.2h-1.2zM527.0,100.5h1.1v1.1h-1.1zM499.6,99.8h1.0v1.0h-1.0zM515.0,43.5h0.6v0.6h-0.6zM505.7,93.8h0.8v0.8h-0.8zM497.4,34.7h1.2v1.2h-1.2zM492.2,60.2h1.0v1.0h-1.0zM527.6,55.5h1.2v1.2h-1.2zM512.7,86.5h0.7v0.7h-0.7zM519.4,85.3h0.7v0.7h-0.7zM529.4,70.8h0.7v0.7h-0.7zM515.3,88.1h0.9v0.9h-0.9zM525.6,57.3h1.2v1.2h-1.2zM509.7,67.4h1.0v1.0h-1.0zM536.3,65.1h0.8v0.8h-0.8zM531.6,88.4h0.6v0.6h-0.6zM517.3,79.9h0.9v0.9h-0.9zM534.0,49.6h0.9v0.9h-0.9zM523.6,91.4h0.9v0.9h-0.9zM536.9,42.5h0.8v0.8h-0.8zM533.4,57.6h0.6v0.6h-0.6zM513.8,61.3h0.7v0.7h-0.7zM525.9,66.9h0.7v0.7h-0.7zM521.3,41.8h0.9v0.9h-0.9zM514.9,62.6h0.7v0.7h-0.7zM514.9,55.7h0.6v0.6h-0.6zM528.7,78.8h1.1v1.1h-1.1zM537.9,45.9h1.0v1.0h-1.0zM537.4,54.2h1.1v1.1h-1.1zM516.3,84.5h1.1v1.1h-1.1zM514.7,46.4h1.2v1.2h-1.2z" fill="#7286b0" opacity="0.3"/><path d="M519.1,98.6h1.1v1.1h-1.1zM527.9,90.3h1.0v1.0h-1.0zM527.0,52.3h1.1v1.1h-1.1zM474.2,97.3h1.2v1.2h-1.2zM474.8,84.1h0.7v0.7h-0.7zM516.0,91.9h0.6v0.6h-0.6zM477.6,42.7h0.9v0.9h-0.9zM523.0,71.9h1.1v1.1h-1.1zM480.0,40.8h1.2v1.2h-1.2zM479.5,67.7h0.8v0.8h-0.8zM486.4,52.1h1.0v1.0h-1.0zM495.4,86.0h0.7v0.7h-0.7zM519.1,98.3h0.6v0.6h-0.6zM531.0,50.4h0.6v0.6h-0.6zM494.9,62.5h1.0v1.0h-1.0zM538.2,79.2h1.0v1.0h-1.0zM509.8,41.8h0.6v0.6h-0.6zM491.7,59.8h1.0v1.0h-1.0zM510.9,73.2h1.1v1.1h-1.1zM531.4,66.6h0.8v0.8h-0.8zM526.9,75.9h0.6v0.6h-0.6zM531.5,63.4h0.9v0.9h-0.9zM484.7,67.5h1.1v1.1h-1.1zM497.0,40.5h0.8v0.8h-0.8zM485.3,36.6h1.1v1.1h-1.1zM536.8,36.5h1.1v1.1h-1.1zM489.3,98.9h1.1v1.1h-1.1zM509.7,46.8h1.1v1.1h-1.1zM482.7,69.7h0.6v0.6h-0.6zM525.4,65.4h0.9v0.9h-0.9zM501.9,51.6h1.1v1.1h-1.1zM476.8,62.9h0.9v0.9h-0.9zM516.9,94.2h0.9v0.9h-0.9zM480.8,78.9h0.9v0.9h-0.9zM495.1,60.5h1.2v1.2h-1.2zM530.7,46.2h1.0v1.0h-1.0zM539.4,61.6h1.1v1.1h-1.1zM492.8,98.9h0.7v0.7h-0.7zM539.9,69.6h0.8v0.8h-0.8zM478.5,62.7h0.9v0.9h-0.9zM521.5,58.4h1.0v1.0h-1.0zM488.6,59.0h1.1v1.1h-1.1zM537.2,83.8h1.0v1.0h-1.0zM508.9,48.1h1.0v1.0h-1.0zM534.5,93.4h0.9v0.9h-0.9zM516.5,87.7h1.1v1.1h-1.1zM531.6,55.2h0.9v0.9h-0.9zM525.9,64.8h0.7v0.7h-0.7zM518.9,86.4h1.0v1.0h-1.0zM511.8,72.6h1.1v1.1h-1.1zM513.3,79.7h1.0v1.0h-1.0zM535.6,77.8h0.9v0.9h-0.9zM531.7,43.2h0.6v0.6h-0.6zM527.3,50.0h0.8v0.8h-0.8zM539.9,40.3h0.7v0.7h-0.7zM532.6,70.3h0.9v0.9h-0.9zM529.1,78.3h1.1v1.1h-1.1zM540.9,44.3h1.1v1.1h-1.1zM516.6,62.6h0.8v0.8h-0.8zM531.3,50.5h1.1v1.1h-1.1zM516.5,47.1h1.1v1.1h-1.1zM524.9,67.8h1.0v1.0h-1.0z" fill="#8898b8" opacity="0.3"/><circle cx="509.9" cy="41.2" r="1.5" fill="#2a30c8" opacity="0.9"/><circle cx="513.9" cy="43.2" r="1.1" fill="#2a30c8" opacity="0.9"/><circle cx="521.9" cy="48.2" r="1.0" fill="#2a30c8" opacity="0.9"/><circle cx="505.9" cy="39.2" r="0.8" fill="#2a30c8" opacity="0.9"/><circle cx="502.9" cy="46.2" r="0.9" fill="#2a30c8" opacity="0.9"/><circle cx="486.9" cy="70.2" r="1.3" fill="#2a30c8" opacity="0.9"/><circle cx="514.9" cy="66.2" r="0.9" fill="#2a30c8" opacity="0.9"/><circle cx="524.9" cy="76.2" r="0.9" fill="#2a30c8" opacity="0.9"/><circle cx="481.9" cy="96.2" r="1.0" fill="#2a30c8" opacity="0.9"/><circle cx="499.9" cy="95.2" r="0.8" fill="#2a30c8" opacity="0.9"/><circle cx="533.9" cy="56.2" r="0.8" fill="#2a30c8" opacity="0.9"/></g></svg></g>
<g><rect x="543.1" y="34.2" width="67.4" height="66.9" fill="#c8d1dc"/><svg x="543.1" y="34.2" width="67.4" height="66.9" overflow="hidden"><g transform="translate(-543.1,-34.2)"><g filter="url(#mb)"><circle cx="559.0" cy="41.1" r="7.2" fill="#b2bece" opacity="0.45"/><circle cx="547.6" cy="61.1" r="11.3" fill="#d4dce6" opacity="0.45"/><circle cx="594.7" cy="49.0" r="8.3" fill="#b2bece" opacity="0.45"/><circle cx="554.7" cy="41.3" r="5.7" fill="#d4dce6" opacity="0.45"/><circle cx="599.0" cy="88.2" r="10.4" fill="#b2bece" opacity="0.45"/><circle cx="564.0" cy="76.1" r="9.9" fill="#d4dce6" opacity="0.45"/><circle cx="602.4" cy="40.0" r="8.8" fill="#d4dce6" opacity="0.45"/><circle cx="577.2" cy="46.1" r="7.8" fill="#b2bece" opacity="0.45"/><circle cx="606.1" cy="92.1" r="8.4" fill="#b2bece" opacity="0.45"/><circle cx="604.4" cy="72.5" r="11.1" fill="#d4dce6" opacity="0.45"/><circle cx="577.4" cy="61.9" r="8.8" fill="#b2bece" opacity="0.45"/><circle cx="554.0" cy="54.6" r="10.5" fill="#b2bece" opacity="0.45"/><circle cx="546.2" cy="76.1" r="6.2" fill="#d4dce6" opacity="0.45"/><circle cx="574.9" cy="57.1" r="12.0" fill="#b2bece" opacity="0.45"/></g><path d="M570.9,47.8h1.1v1.1h-1.1zM547.3,49.5h1.2v1.2h-1.2zM546.0,80.8h0.8v0.8h-0.8zM562.9,47.0h1.1v1.1h-1.1zM545.6,62.4h1.0v1.0h-1.0zM603.7,96.1h1.0v1.0h-1.0zM581.9,57.6h0.7v0.7h-0.7zM570.1,61.0h1.2v1.2h-1.2zM589.0,70.8h1.2v1.2h-1.2zM547.7,45.4h1.0v1.0h-1.0zM558.7,71.2h0.8v0.8h-0.8zM550.3,75.6h0.9v0.9h-0.9zM583.9,69.5h0.9v0.9h-0.9zM548.6,81.9h0.9v0.9h-0.9zM596.3,81.3h1.1v1.1h-1.1zM587.6,94.9h1.0v1.0h-1.0zM545.4,55.9h0.9v0.9h-0.9zM567.5,84.0h1.1v1.1h-1.1zM585.2,57.2h1.2v1.2h-1.2zM592.4,97.0h0.9v0.9h-0.9zM563.7,82.3h1.0v1.0h-1.0zM602.0,39.6h1.2v1.2h-1.2zM551.1,77.1h1.0v1.0h-1.0zM610.1,63.2h1.1v1.1h-1.1zM594.6,65.6h0.6v0.6h-0.6zM546.1,89.0h0.6v0.6h-0.6zM598.2,90.3h1.0v1.0h-1.0zM560.0,40.6h0.7v0.7h-0.7zM569.2,38.9h0.9v0.9h-0.9zM597.8,44.7h1.0v1.0h-1.0zM563.7,39.6h0.8v0.8h-0.8zM551.7,45.7h0.8v0.8h-0.8zM597.4,66.6h0.7v0.7h-0.7zM603.9,95.7h0.9v0.9h-0.9zM608.1,39.9h1.0v1.0h-1.0zM555.2,55.6h1.0v1.0h-1.0zM551.6,37.6h1.1v1.1h-1.1zM592.6,82.1h1.0v1.0h-1.0zM577.8,53.3h1.0v1.0h-1.0zM566.7,52.8h1.0v1.0h-1.0zM566.5,48.9h0.6v0.6h-0.6z" fill="#8898b8" opacity="0.5"/><path d="M585.7,52.7h0.8v0.8h-0.8zM604.1,41.0h0.7v0.7h-0.7zM555.1,64.9h0.6v0.6h-0.6zM544.3,53.5h0.8v0.8h-0.8zM608.2,86.1h0.9v0.9h-0.9zM545.9,67.0h1.1v1.1h-1.1zM545.2,51.2h0.8v0.8h-0.8zM605.6,72.0h1.0v1.0h-1.0zM602.3,71.0h0.8v0.8h-0.8zM591.0,34.6h0.9v0.9h-0.9zM610.3,94.3h0.9v0.9h-0.9zM567.7,97.8h1.2v1.2h-1.2zM609.7,95.7h0.9v0.9h-0.9zM600.0,66.6h0.7v0.7h-0.7zM544.4,98.4h0.7v0.7h-0.7zM599.3,93.8h0.6v0.6h-0.6zM609.7,57.8h1.0v1.0h-1.0zM575.3,43.9h0.8v0.8h-0.8zM570.9,99.4h0.7v0.7h-0.7zM548.9,100.2h1.2v1.2h-1.2zM559.6,90.6h1.2v1.2h-1.2zM550.8,99.2h1.1v1.1h-1.1zM567.6,81.6h0.8v0.8h-0.8zM595.9,83.2h0.7v0.7h-0.7zM608.7,69.5h0.9v0.9h-0.9zM572.4,55.2h0.6v0.6h-0.6zM579.8,58.7h1.0v1.0h-1.0zM591.0,74.1h0.7v0.7h-0.7zM598.3,47.7h1.2v1.2h-1.2zM543.3,53.7h0.6v0.6h-0.6zM550.1,85.2h0.9v0.9h-0.9zM565.2,90.0h0.9v0.9h-0.9zM545.5,92.9h1.0v1.0h-1.0zM551.5,92.1h0.8v0.8h-0.8zM608.9,85.9h1.1v1.1h-1.1zM600.4,77.0h1.2v1.2h-1.2zM590.5,62.8h0.9v0.9h-0.9zM586.2,52.3h0.6v0.6h-0.6zM595.6,96.8h1.1v1.1h-1.1zM574.2,40.5h0.9v0.9h-0.9zM578.8,52.8h1.0v1.0h-1.0zM554.1,67.1h0.7v0.7h-0.7zM565.2,95.3h1.0v1.0h-1.0zM554.4,65.6h0.8v0.8h-0.8zM576.3,51.4h1.1v1.1h-1.1zM549.9,72.6h0.9v0.9h-0.9zM585.7,63.7h1.0v1.0h-1.0z" fill="#8898b8" opacity="0.7"/><path d="M567.1,84.2h1.0v1.0h-1.0zM573.0,43.3h1.2v1.2h-1.2zM595.9,58.5h0.6v0.6h-0.6zM562.7,40.7h1.1v1.1h-1.1zM559.9,100.9h0.6v0.6h-0.6zM595.3,61.6h1.2v1.2h-1.2zM576.4,40.4h1.0v1.0h-1.0zM597.0,77.2h0.9v0.9h-0.9zM608.4,78.8h1.1v1.1h-1.1zM601.4,74.9h1.2v1.2h-1.2zM608.2,40.6h0.7v0.7h-0.7zM579.6,94.7h1.2v1.2h-1.2zM559.6,90.9h1.0v1.0h-1.0zM564.2,95.3h0.8v0.8h-0.8zM597.6,46.1h1.0v1.0h-1.0zM584.9,40.5h1.0v1.0h-1.0zM583.8,55.1h1.0v1.0h-1.0zM547.2,100.6h0.6v0.6h-0.6zM562.6,93.8h0.9v0.9h-0.9zM545.0,92.8h0.9v0.9h-0.9zM600.3,89.3h1.0v1.0h-1.0zM583.4,50.9h0.7v0.7h-0.7zM556.6,39.0h1.1v1.1h-1.1zM595.8,95.0h0.8v0.8h-0.8zM585.4,90.5h1.1v1.1h-1.1zM545.1,51.8h1.0v1.0h-1.0zM557.4,96.6h0.8v0.8h-0.8zM588.2,93.8h1.1v1.1h-1.1zM576.7,41.8h1.1v1.1h-1.1zM566.0,64.7h0.8v0.8h-0.8zM544.9,85.5h1.0v1.0h-1.0zM575.1,92.1h0.6v0.6h-0.6zM548.5,62.6h1.2v1.2h-1.2zM561.8,73.5h1.1v1.1h-1.1zM592.0,98.1h1.2v1.2h-1.2zM592.8,71.5h0.6v0.6h-0.6zM544.9,53.3h0.9v0.9h-0.9zM592.8,84.9h1.1v1.1h-1.1zM602.6,55.5h0.7v0.7h-0.7zM602.5,99.8h0.8v0.8h-0.8zM586.7,46.0h0.8v0.8h-0.8zM596.7,48.9h1.2v1.2h-1.2zM566.6,72.6h0.6v0.6h-0.6zM598.3,95.6h1.0v1.0h-1.0zM601.4,69.4h0.9v0.9h-0.9zM604.5,34.6h0.7v0.7h-0.7zM590.9,46.9h0.7v0.7h-0.7zM560.6,41.7h0.8v0.8h-0.8zM598.7,36.5h1.0v1.0h-1.0zM592.3,62.2h1.0v1.0h-1.0zM589.2,52.9h0.9v0.9h-0.9zM571.9,51.9h0.7v0.7h-0.7zM563.0,78.7h0.9v0.9h-0.9z" fill="#7286b0" opacity="0.7"/><path d="M564.7,71.6h1.1v1.1h-1.1zM594.7,75.4h0.7v0.7h-0.7zM557.1,38.2h1.0v1.0h-1.0zM557.3,92.7h0.9v0.9h-0.9zM588.1,37.2h0.9v0.9h-0.9zM602.3,47.7h0.7v0.7h-0.7zM603.2,86.0h0.8v0.8h-0.8zM574.9,69.4h0.9v0.9h-0.9zM572.3,91.6h0.8v0.8h-0.8zM567.1,85.5h0.8v0.8h-0.8zM588.7,75.0h0.7v0.7h-0.7zM574.6,95.2h1.0v1.0h-1.0zM548.7,43.8h1.0v1.0h-1.0zM555.2,78.0h0.8v0.8h-0.8zM597.1,88.2h1.2v1.2h-1.2zM607.4,44.8h0.9v0.9h-0.9zM565.1,76.1h1.2v1.2h-1.2zM553.4,44.7h0.6v0.6h-0.6zM590.1,42.0h0.7v0.7h-0.7zM564.7,75.7h0.7v0.7h-0.7zM609.1,38.0h0.6v0.6h-0.6zM557.4,36.0h1.1v1.1h-1.1zM571.3,41.9h0.8v0.8h-0.8zM555.3,75.3h1.2v1.2h-1.2zM591.9,35.7h1.1v1.1h-1.1zM555.4,53.3h0.8v0.8h-0.8zM547.8,98.1h1.0v1.0h-1.0zM573.5,56.5h0.9v0.9h-0.9zM562.8,58.9h1.2v1.2h-1.2zM608.8,57.2h0.7v0.7h-0.7zM575.4,92.9h1.1v1.1h-1.1zM567.0,62.4h0.8v0.8h-0.8zM593.1,53.0h0.8v0.8h-0.8zM605.7,83.8h1.2v1.2h-1.2zM566.5,68.2h0.9v0.9h-0.9zM544.3,98.1h0.8v0.8h-0.8zM584.5,45.8h0.7v0.7h-0.7zM543.5,47.2h0.9v0.9h-0.9zM592.0,89.3h0.9v0.9h-0.9zM569.4,70.6h1.0v1.0h-1.0zM603.1,47.0h1.1v1.1h-1.1zM547.3,79.1h0.9v0.9h-0.9zM598.8,36.8h1.0v1.0h-1.0zM552.3,61.5h1.0v1.0h-1.0zM605.6,45.6h1.0v1.0h-1.0z" fill="#7286b0" opacity="0.5"/><path d="M559.1,56.3h0.7v0.7h-0.7zM570.8,97.3h0.9v0.9h-0.9zM568.8,98.5h1.1v1.1h-1.1zM558.7,92.4h0.8v0.8h-0.8zM609.9,61.2h0.6v0.6h-0.6zM597.7,86.6h1.1v1.1h-1.1zM594.8,69.2h1.1v1.1h-1.1zM575.7,39.3h0.8v0.8h-0.8zM570.2,96.8h0.6v0.6h-0.6zM565.1,54.3h0.7v0.7h-0.7zM582.5,67.3h0.8v0.8h-0.8zM588.6,84.1h0.8v0.8h-0.8zM563.5,96.3h1.2v1.2h-1.2zM603.5,81.3h0.9v0.9h-0.9zM598.2,53.2h0.9v0.9h-0.9zM570.8,35.1h1.2v1.2h-1.2zM549.3,51.5h0.8v0.8h-0.8zM600.9,78.5h0.9v0.9h-0.9zM544.3,93.5h0.8v0.8h-0.8zM594.0,61.4h0.9v0.9h-0.9zM576.6,37.0h0.8v0.8h-0.8zM566.4,79.4h0.8v0.8h-0.8zM579.8,98.3h0.8v0.8h-0.8zM609.7,43.8h0.7v0.7h-0.7zM607.8,93.6h0.6v0.6h-0.6zM600.6,90.7h0.7v0.7h-0.7zM579.3,50.8h0.6v0.6h-0.6zM575.6,77.8h0.7v0.7h-0.7zM607.6,79.9h1.2v1.2h-1.2zM543.5,92.2h1.1v1.1h-1.1zM546.8,34.5h1.0v1.0h-1.0zM559.1,46.5h1.1v1.1h-1.1zM571.3,90.7h1.1v1.1h-1.1zM561.0,82.2h0.6v0.6h-0.6zM603.8,83.9h0.7v0.7h-0.7zM601.7,54.6h0.6v0.6h-0.6zM591.0,92.9h1.0v1.0h-1.0zM569.0,48.0h0.9v0.9h-0.9zM555.7,88.5h1.1v1.1h-1.1zM608.8,98.7h1.2v1.2h-1.2zM569.3,42.8h1.0v1.0h-1.0zM574.9,100.3h0.9v0.9h-0.9zM576.8,99.8h0.8v0.8h-0.8zM580.6,95.8h0.7v0.7h-0.7zM585.9,51.5h0.8v0.8h-0.8zM549.8,91.8h1.0v1.0h-1.0zM573.3,93.1h0.8v0.8h-0.8z" fill="#4858b0" opacity="0.7"/><path d="M603.5,98.1h1.0v1.0h-1.0zM565.4,34.8h0.7v0.7h-0.7zM559.4,61.7h1.0v1.0h-1.0zM603.7,42.7h0.9v0.9h-0.9zM547.2,45.4h0.8v0.8h-0.8zM598.9,39.9h1.2v1.2h-1.2zM596.2,55.0h0.7v0.7h-0.7zM609.5,76.1h0.8v0.8h-0.8zM595.1,58.4h1.1v1.1h-1.1zM551.0,77.8h0.8v0.8h-0.8zM558.1,96.3h1.1v1.1h-1.1zM603.3,86.2h1.1v1.1h-1.1zM549.6,36.3h0.9v0.9h-0.9zM602.1,51.3h0.9v0.9h-0.9zM601.2,56.2h1.1v1.1h-1.1zM605.2,96.9h0.6v0.6h-0.6zM583.5,36.7h1.1v1.1h-1.1zM585.2,56.9h0.8v0.8h-0.8zM587.5,80.9h0.8v0.8h-0.8zM577.4,34.3h1.1v1.1h-1.1zM585.0,35.4h1.0v1.0h-1.0zM563.2,80.4h1.1v1.1h-1.1zM555.2,82.3h1.0v1.0h-1.0zM609.8,45.7h1.0v1.0h-1.0zM566.6,99.9h1.1v1.1h-1.1zM583.5,74.3h1.0v1.0h-1.0zM572.6,87.7h1.0v1.0h-1.0zM585.9,45.6h1.0v1.0h-1.0zM560.8,38.0h1.1v1.1h-1.1zM563.6,55.4h0.7v0.7h-0.7zM587.8,55.3h1.0v1.0h-1.0zM566.7,79.8h1.0v1.0h-1.0zM569.2,48.3h0.9v0.9h-0.9zM543.9,81.0h1.0v1.0h-1.0zM594.0,86.8h1.1v1.1h-1.1zM585.0,46.7h0.7v0.7h-0.7zM579.5,39.0h1.0v1.0h-1.0zM587.4,84.3h0.7v0.7h-0.7zM583.7,75.1h1.0v1.0h-1.0zM553.8,68.2h0.9v0.9h-0.9zM567.8,72.8h0.8v0.8h-0.8zM577.7,85.8h0.6v0.6h-0.6zM544.6,57.0h1.1v1.1h-1.1zM547.1,75.0h0.7v0.7h-0.7zM561.8,94.3h1.1v1.1h-1.1zM565.1,75.7h1.2v1.2h-1.2zM568.3,90.9h0.8v0.8h-0.8z" fill="#7286b0" opacity="0.3"/><path d="M592.6,98.4h0.8v0.8h-0.8zM593.4,96.2h0.8v0.8h-0.8zM602.8,68.5h0.8v0.8h-0.8zM554.4,92.7h0.9v0.9h-0.9zM555.0,44.2h0.9v0.9h-0.9zM572.9,43.6h0.6v0.6h-0.6zM570.5,74.3h1.1v1.1h-1.1zM564.4,42.3h0.8v0.8h-0.8zM577.0,44.5h1.1v1.1h-1.1zM568.7,90.9h1.1v1.1h-1.1zM599.3,73.5h1.2v1.2h-1.2zM604.6,54.6h0.8v0.8h-0.8zM586.7,94.2h0.7v0.7h-0.7zM592.5,36.5h0.8v0.8h-0.8zM567.4,93.8h1.1v1.1h-1.1zM554.3,40.4h0.9v0.9h-0.9zM557.6,98.2h1.1v1.1h-1.1zM607.2,80.0h0.7v0.7h-0.7zM581.8,47.2h0.6v0.6h-0.6zM583.8,70.6h0.8v0.8h-0.8zM572.5,43.3h0.6v0.6h-0.6zM579.8,62.6h1.1v1.1h-1.1zM594.3,72.5h1.0v1.0h-1.0zM576.1,96.9h1.2v1.2h-1.2zM588.2,93.7h0.9v0.9h-0.9zM596.5,99.1h0.9v0.9h-0.9zM596.9,38.4h1.2v1.2h-1.2zM604.8,56.8h0.7v0.7h-0.7zM559.8,66.9h1.0v1.0h-1.0zM574.5,69.6h1.0v1.0h-1.0zM598.4,64.3h0.8v0.8h-0.8zM568.4,70.7h0.9v0.9h-0.9zM588.3,54.4h0.8v0.8h-0.8zM561.4,63.4h0.8v0.8h-0.8zM605.4,36.1h1.0v1.0h-1.0zM560.3,60.1h0.8v0.8h-0.8zM578.0,77.6h1.1v1.1h-1.1zM594.1,56.6h0.8v0.8h-0.8zM584.2,74.2h0.9v0.9h-0.9z" fill="#5468a8" opacity="0.5"/><path d="M584.9,88.9h0.7v0.7h-0.7zM546.1,45.5h1.0v1.0h-1.0zM561.2,95.9h0.7v0.7h-0.7zM605.3,35.1h0.6v0.6h-0.6zM588.4,56.3h1.0v1.0h-1.0zM583.2,66.9h0.9v0.9h-0.9zM595.4,38.7h0.8v0.8h-0.8zM563.7,92.2h0.7v0.7h-0.7zM587.7,43.1h1.0v1.0h-1.0zM603.9,59.1h0.9v0.9h-0.9zM594.3,99.0h1.0v1.0h-1.0zM564.0,49.6h1.2v1.2h-1.2zM555.5,70.3h1.0v1.0h-1.0zM607.8,51.8h0.7v0.7h-0.7zM555.6,89.4h1.1v1.1h-1.1zM563.8,94.1h0.9v0.9h-0.9zM603.3,93.3h1.1v1.1h-1.1zM600.0,75.9h1.1v1.1h-1.1zM583.9,36.5h1.0v1.0h-1.0zM572.6,45.9h1.0v1.0h-1.0zM548.2,90.9h0.9v0.9h-0.9zM555.3,48.0h1.2v1.2h-1.2zM556.0,89.4h0.7v0.7h-0.7zM552.4,37.1h0.9v0.9h-0.9zM606.2,51.5h1.1v1.1h-1.1zM610.2,36.4h0.9v0.9h-0.9zM569.6,50.4h0.9v0.9h-0.9zM543.1,58.5h0.7v0.7h-0.7zM599.1,81.8h1.1v1.1h-1.1zM562.4,96.2h1.1v1.1h-1.1zM598.9,85.6h0.8v0.8h-0.8zM557.3,83.0h1.1v1.1h-1.1zM589.6,84.8h0.9v0.9h-0.9zM590.0,36.6h0.9v0.9h-0.9zM594.8,82.3h1.2v1.2h-1.2zM597.3,87.0h0.8v0.8h-0.8z" fill="#4858b0" opacity="0.3"/><path d="M609.3,62.6h0.9v0.9h-0.9zM588.7,44.2h0.9v0.9h-0.9zM551.3,69.6h0.6v0.6h-0.6zM559.4,48.1h0.9v0.9h-0.9zM565.8,78.1h1.2v1.2h-1.2zM598.0,69.5h1.1v1.1h-1.1zM585.9,72.3h0.8v0.8h-0.8zM544.9,36.5h1.2v1.2h-1.2zM558.9,66.8h0.6v0.6h-0.6zM571.6,87.6h0.7v0.7h-0.7zM564.1,70.7h0.9v0.9h-0.9zM607.1,89.7h1.1v1.1h-1.1zM581.8,96.9h0.9v0.9h-0.9zM584.7,89.8h0.6v0.6h-0.6zM585.1,44.6h0.9v0.9h-0.9zM563.3,97.6h1.1v1.1h-1.1zM587.3,97.9h0.9v0.9h-0.9zM580.8,80.6h0.9v0.9h-0.9zM569.5,79.8h1.1v1.1h-1.1zM609.1,89.5h0.7v0.7h-0.7zM563.2,60.2h0.9v0.9h-0.9zM565.2,100.0h1.0v1.0h-1.0zM579.9,70.4h0.7v0.7h-0.7zM545.7,44.4h1.2v1.2h-1.2zM569.6,43.5h0.9v0.9h-0.9zM568.4,65.2h0.7v0.7h-0.7zM567.1,64.1h1.1v1.1h-1.1zM563.0,71.5h0.6v0.6h-0.6zM565.7,70.2h0.9v0.9h-0.9zM605.0,95.9h0.7v0.7h-0.7zM589.6,38.5h1.0v1.0h-1.0zM585.2,45.6h1.1v1.1h-1.1zM559.6,98.9h0.6v0.6h-0.6zM572.3,83.1h0.6v0.6h-0.6zM569.5,40.0h0.7v0.7h-0.7zM585.0,96.0h0.6v0.6h-0.6zM581.1,78.4h1.2v1.2h-1.2zM581.8,52.5h0.7v0.7h-0.7zM572.8,82.5h0.9v0.9h-0.9zM550.3,43.9h0.8v0.8h-0.8zM581.2,50.7h0.8v0.8h-0.8zM581.1,93.1h0.6v0.6h-0.6zM555.8,93.4h1.0v1.0h-1.0zM570.0,74.3h0.9v0.9h-0.9zM567.7,68.6h0.9v0.9h-0.9z" fill="#8898b8" opacity="0.3"/><path d="M546.8,45.5h0.8v0.8h-0.8zM609.7,66.2h0.9v0.9h-0.9zM579.7,59.7h0.9v0.9h-0.9zM602.5,47.3h0.7v0.7h-0.7zM575.9,82.1h0.6v0.6h-0.6zM596.1,75.2h0.7v0.7h-0.7zM544.7,35.5h1.1v1.1h-1.1zM589.8,75.3h0.9v0.9h-0.9zM578.4,44.7h0.7v0.7h-0.7zM593.5,88.8h1.1v1.1h-1.1zM605.9,52.7h0.9v0.9h-0.9zM560.4,68.4h1.1v1.1h-1.1zM584.0,58.6h1.0v1.0h-1.0zM604.0,81.3h1.0v1.0h-1.0zM588.1,90.6h1.1v1.1h-1.1zM603.4,66.4h0.6v0.6h-0.6zM601.2,47.4h1.2v1.2h-1.2zM606.6,86.7h0.7v0.7h-0.7zM562.5,62.1h1.0v1.0h-1.0zM600.1,98.1h1.0v1.0h-1.0zM578.0,62.6h1.0v1.0h-1.0zM549.3,77.0h1.0v1.0h-1.0zM577.5,70.9h0.8v0.8h-0.8zM565.0,56.9h0.9v0.9h-0.9zM553.7,85.6h1.0v1.0h-1.0zM557.2,66.6h0.8v0.8h-0.8zM555.0,40.6h0.6v0.6h-0.6zM551.6,64.7h0.8v0.8h-0.8zM569.8,95.3h0.7v0.7h-0.7zM562.3,56.6h0.9v0.9h-0.9zM552.6,58.3h0.7v0.7h-0.7zM588.2,51.2h1.1v1.1h-1.1zM586.1,49.2h0.7v0.7h-0.7zM582.0,81.6h1.0v1.0h-1.0zM600.7,58.7h0.7v0.7h-0.7zM565.6,36.3h0.8v0.8h-0.8zM555.0,59.9h0.7v0.7h-0.7zM605.6,63.9h1.1v1.1h-1.1zM550.0,85.5h1.1v1.1h-1.1zM593.3,99.7h0.6v0.6h-0.6zM601.0,80.9h0.9v0.9h-0.9zM569.1,69.8h0.7v0.7h-0.7z" fill="#5468a8" opacity="0.3"/><path d="M559.9,93.7h0.7v0.7h-0.7zM603.8,78.0h0.9v0.9h-0.9zM596.4,84.0h0.9v0.9h-0.9zM587.2,80.1h1.0v1.0h-1.0zM557.8,34.4h0.9v0.9h-0.9zM602.2,42.0h1.0v1.0h-1.0zM550.8,75.7h1.2v1.2h-1.2zM563.5,90.2h1.1v1.1h-1.1zM576.4,56.9h0.9v0.9h-0.9zM591.9,71.2h1.0v1.0h-1.0zM585.7,51.3h0.6v0.6h-0.6zM593.9,91.9h0.9v0.9h-0.9zM562.5,95.4h0.7v0.7h-0.7zM552.0,84.9h0.9v0.9h-0.9zM550.1,47.6h1.0v1.0h-1.0zM552.4,66.2h1.0v1.0h-1.0zM557.9,50.1h0.9v0.9h-0.9zM606.7,47.0h0.8v0.8h-0.8zM552.3,36.2h0.9v0.9h-0.9zM574.9,42.2h0.9v0.9h-0.9zM602.6,74.1h0.7v0.7h-0.7zM543.3,69.6h1.1v1.1h-1.1zM548.0,63.2h0.6v0.6h-0.6zM610.4,34.9h0.9v0.9h-0.9zM579.8,73.0h1.1v1.1h-1.1zM601.3,87.6h1.0v1.0h-1.0zM543.3,78.0h0.8v0.8h-0.8zM580.6,49.1h1.2v1.2h-1.2zM602.3,72.7h0.7v0.7h-0.7zM585.5,79.2h0.8v0.8h-0.8zM595.1,44.6h0.8v0.8h-0.8zM546.9,38.4h1.2v1.2h-1.2zM585.9,42.1h0.9v0.9h-0.9zM601.2,56.8h0.9v0.9h-0.9zM543.6,60.8h1.0v1.0h-1.0zM607.9,80.5h1.0v1.0h-1.0zM587.0,75.2h0.7v0.7h-0.7zM582.3,52.3h1.0v1.0h-1.0zM577.0,66.9h0.7v0.7h-0.7zM595.4,85.8h1.2v1.2h-1.2zM568.2,57.5h0.9v0.9h-0.9zM567.5,87.2h1.0v1.0h-1.0zM553.1,75.9h0.7v0.7h-0.7zM543.3,61.4h0.8v0.8h-0.8zM551.5,60.3h0.7v0.7h-0.7zM589.8,95.0h1.1v1.1h-1.1z" fill="#4858b0" opacity="0.5"/><path d="M599.1,67.6h0.8v0.8h-0.8zM552.7,37.6h0.8v0.8h-0.8zM607.6,39.2h1.0v1.0h-1.0zM608.6,98.5h0.9v0.9h-0.9zM552.5,58.5h1.0v1.0h-1.0zM543.8,90.2h1.0v1.0h-1.0zM547.7,99.3h1.1v1.1h-1.1zM553.1,50.1h1.0v1.0h-1.0zM554.1,87.1h0.8v0.8h-0.8zM590.4,83.1h0.6v0.6h-0.6zM602.3,82.3h0.7v0.7h-0.7zM569.2,62.5h1.0v1.0h-1.0zM575.2,82.3h0.7v0.7h-0.7zM610.3,81.5h0.7v0.7h-0.7zM576.7,70.7h1.0v1.0h-1.0zM609.8,45.3h1.1v1.1h-1.1zM563.1,72.1h0.7v0.7h-0.7zM599.6,84.9h0.8v0.8h-0.8zM546.6,89.1h1.2v1.2h-1.2zM557.2,65.8h1.0v1.0h-1.0zM562.1,80.4h0.9v0.9h-0.9zM604.6,53.2h1.0v1.0h-1.0zM588.1,76.4h0.9v0.9h-0.9zM563.6,58.2h0.8v0.8h-0.8zM594.2,69.3h1.1v1.1h-1.1zM581.5,47.2h0.8v0.8h-0.8zM563.3,55.3h0.6v0.6h-0.6zM572.9,83.2h1.0v1.0h-1.0zM562.7,40.2h1.0v1.0h-1.0zM596.4,40.6h1.2v1.2h-1.2zM550.0,95.8h0.8v0.8h-0.8zM572.4,82.2h1.1v1.1h-1.1zM544.0,66.5h0.7v0.7h-0.7zM601.9,90.8h0.7v0.7h-0.7zM554.5,64.7h0.6v0.6h-0.6zM602.7,57.2h1.2v1.2h-1.2zM554.2,85.4h1.0v1.0h-1.0zM585.4,60.9h1.2v1.2h-1.2zM588.5,37.9h0.9v0.9h-0.9zM598.4,92.9h0.9v0.9h-0.9zM595.6,69.1h1.0v1.0h-1.0zM554.2,91.1h0.6v0.6h-0.6z" fill="#5468a8" opacity="0.7"/><circle cx="550.1" cy="36.2" r="1.2" fill="#2a30c8" opacity="0.9"/><circle cx="555.1" cy="44.2" r="0.9" fill="#2a30c8" opacity="0.9"/><circle cx="573.1" cy="37.2" r="0.9" fill="#2a30c8" opacity="0.9"/><circle cx="591.1" cy="40.2" r="0.8" fill="#2a30c8" opacity="0.9"/><circle cx="554.1" cy="58.2" r="1.0" fill="#2a30c8" opacity="0.9"/><circle cx="545.1" cy="72.2" r="0.9" fill="#2a30c8" opacity="0.9"/><circle cx="559.1" cy="74.2" r="0.8" fill="#2a30c8" opacity="0.9"/><circle cx="605.1" cy="50.2" r="0.8" fill="#2a30c8" opacity="0.9"/></g></svg></g>
<text x="276.50" y="112.60" font-size="7" text-anchor="middle" fill="#222" stroke="#222" stroke-width="0.22" textLength="35.30" lengthAdjust="spacing">EPAS1-NC</text>
<text x="345.40" y="112.60" font-size="7" text-anchor="middle" fill="#222" stroke="#222" stroke-width="0.22" textLength="35.30" lengthAdjust="spacing">EPAS1-OE</text>
<text x="504.20" y="111.30" font-size="7" text-anchor="middle" fill="#222" stroke="#222" stroke-width="0.22" textLength="35.40" lengthAdjust="spacing">EPAS1-NC</text>
<text x="573.10" y="111.30" font-size="7" text-anchor="middle" fill="#222" stroke="#222" stroke-width="0.22" textLength="35.40" lengthAdjust="spacing">EPAS1-OE</text>
<text x="343.20" y="18.00" font-size="7.2" text-anchor="middle" font-weight="bold" stroke="#1a1a1a" stroke-width="0.22">H929</text>
<text x="572.20" y="18.50" font-size="7.2" text-anchor="middle" font-weight="bold" stroke="#1a1a1a" stroke-width="0.22">AMO-1</text>
<line x1="405.10" y1="22.10" x2="405.10" y2="87.80" stroke="#222" stroke-width="1.1"/>
<line x1="404.60" y1="87.30" x2="449.30" y2="87.30" stroke="#222" stroke-width="1.1"/>
<line x1="402.10" y1="87.30" x2="405.10" y2="87.30" stroke="#222" stroke-width="1"/>
<text x="400.30" y="89.80" font-size="7" text-anchor="end" fill="#222" stroke="#222" stroke-width="0.22">0</text>
<line x1="402.10" y1="65.73" x2="405.10" y2="65.73" stroke="#222" stroke-width="1"/>
<text x="400.30" y="68.23" font-size="7" text-anchor="end" fill="#222" stroke="#222" stroke-width="0.22">20</text>
<line x1="402.10" y1="44.17" x2="405.10" y2="44.17" stroke="#222" stroke-width="1"/>
<text x="400.30" y="46.67" font-size="7" text-anchor="end" fill="#222" stroke="#222" stroke-width="0.22">40</text>
<line x1="402.10" y1="22.60" x2="405.10" y2="22.60" stroke="#222" stroke-width="1"/>
<text x="400.30" y="25.10" font-size="7" text-anchor="end" fill="#222" stroke="#222" stroke-width="0.22">60</text>
<rect x="411.70" y="36.08" width="12.20" height="51.22" fill="#4aa5a8" stroke="#333" stroke-width="0.8"/>
<line x1="417.80" y1="36.08" x2="417.80" y2="33.38" stroke="#333" stroke-width="0.9"/>
<line x1="414.80" y1="33.38" x2="420.80" y2="33.38" stroke="#333" stroke-width="0.9"/>
<line x1="417.80" y1="87.30" x2="417.80" y2="90.30" stroke="#222" stroke-width="1"/>
<rect x="430.90" y="68.21" width="11.80" height="19.09" fill="#ff2a10" stroke="#333" stroke-width="0.8"/>
<line x1="436.80" y1="68.21" x2="436.80" y2="63.58" stroke="#333" stroke-width="0.9"/>
<line x1="433.80" y1="63.58" x2="439.80" y2="63.58" stroke="#333" stroke-width="0.9"/>
<line x1="436.80" y1="87.30" x2="436.80" y2="90.30" stroke="#222" stroke-width="1"/>
<line x1="418.30" y1="29.70" x2="418.30" y2="26.20" stroke="#333" stroke-width="0.8"/>
<line x1="418.30" y1="26.20" x2="437.00" y2="26.20" stroke="#333" stroke-width="0.8"/>
<line x1="437.00" y1="26.20" x2="437.00" y2="29.70" stroke="#333" stroke-width="0.8"/>
<text x="424.05" y="27.42" font-size="8.6" text-anchor="middle" fill="#222" stroke="#222" stroke-width="0.3">*</text>
<text x="427.65" y="27.42" font-size="8.6" text-anchor="middle" fill="#222" stroke="#222" stroke-width="0.3">*</text>
<text x="431.25" y="27.42" font-size="8.6" text-anchor="middle" fill="#222" stroke="#222" stroke-width="0.3">*</text>
<text x="389.80" y="54.00" font-size="7" text-anchor="middle" font-weight="bold" stroke="#1a1a1a" stroke-width="0.22" transform="rotate(-90 389.80 54.00)" textLength="39.50" lengthAdjust="spacing">Cell counts</text>
<text x="420.40" y="96.30" font-size="7" text-anchor="end" fill="#222" stroke="#222" stroke-width="0.22" transform="rotate(-45 420.40 96.30)" textLength="36.00" lengthAdjust="spacing">EPAS1-NC</text>
<text x="439.40" y="96.30" font-size="7" text-anchor="end" fill="#222" stroke="#222" stroke-width="0.22" transform="rotate(-45 439.40 96.30)" textLength="36.00" lengthAdjust="spacing">EPAS1-OE</text>
<line x1="638.40" y1="21.40" x2="638.40" y2="86.60" stroke="#222" stroke-width="1.1"/>
<line x1="637.90" y1="86.10" x2="681.30" y2="86.10" stroke="#222" stroke-width="1.1"/>
<line x1="635.40" y1="86.10" x2="638.40" y2="86.10" stroke="#222" stroke-width="1"/>
<text x="633.60" y="88.60" font-size="7" text-anchor="end" fill="#222" stroke="#222" stroke-width="0.22">0</text>
<line x1="635.40" y1="64.70" x2="638.40" y2="64.70" stroke="#222" stroke-width="1"/>
<text x="633.60" y="67.20" font-size="7" text-anchor="end" fill="#222" stroke="#222" stroke-width="0.22">5</text>
<line x1="635.40" y1="43.30" x2="638.40" y2="43.30" stroke="#222" stroke-width="1"/>
<text x="633.60" y="45.80" font-size="7" text-anchor="end" fill="#222" stroke="#222" stroke-width="0.22">10</text>
<line x1="635.40" y1="21.90" x2="638.40" y2="21.90" stroke="#222" stroke-width="1"/>
<text x="633.60" y="24.40" font-size="7" text-anchor="end" fill="#222" stroke="#222" stroke-width="0.22">15</text>
<rect x="646.20" y="40.30" width="12.50" height="45.80" fill="#4aa5a8" stroke="#333" stroke-width="0.8"/>
<line x1="652.45" y1="40.30" x2="652.45" y2="33.88" stroke="#333" stroke-width="0.9"/>
<line x1="649.45" y1="33.88" x2="655.45" y2="33.88" stroke="#333" stroke-width="0.9"/>
<line x1="652.45" y1="86.10" x2="652.45" y2="89.10" stroke="#222" stroke-width="1"/>
<rect x="665.30" y="52.29" width="12.50" height="33.81" fill="#ff2a10" stroke="#333" stroke-width="0.8"/>
<line x1="671.55" y1="52.29" x2="671.55" y2="43.30" stroke="#333" stroke-width="0.9"/>
<line x1="668.55" y1="43.30" x2="674.55" y2="43.30" stroke="#333" stroke-width="0.9"/>
<line x1="671.55" y1="86.10" x2="671.55" y2="89.10" stroke="#222" stroke-width="1"/>
<line x1="652.60" y1="30.20" x2="652.60" y2="26.70" stroke="#333" stroke-width="0.8"/>
<line x1="652.60" y1="26.70" x2="672.50" y2="26.70" stroke="#333" stroke-width="0.8"/>
<line x1="672.50" y1="26.70" x2="672.50" y2="30.20" stroke="#333" stroke-width="0.8"/>
<text x="662.55" y="24.10" font-size="7" text-anchor="middle" fill="#222" stroke="#222" stroke-width="0.22">ns</text>
<text x="622.80" y="51.50" font-size="7" text-anchor="middle" font-weight="bold" stroke="#1a1a1a" stroke-width="0.22" transform="rotate(-90 622.80 51.50)" textLength="41.50" lengthAdjust="spacing">Cell counts</text>
<text x="655.05" y="95.10" font-size="7" text-anchor="end" fill="#222" stroke="#222" stroke-width="0.22" transform="rotate(-45 655.05 95.10)" textLength="36.00" lengthAdjust="spacing">EPAS1-NC</text>
<text x="674.15" y="95.10" font-size="7" text-anchor="end" fill="#222" stroke="#222" stroke-width="0.22" transform="rotate(-45 674.15 95.10)" textLength="36.00" lengthAdjust="spacing">EPAS1-OE</text>
<text x="0.80" y="141.50" font-size="12.0" text-anchor="start" font-weight="bold" fill="#000" stroke="#000" stroke-width="0.22" textLength="8.06" lengthAdjust="spacingAndGlyphs">D</text>
<text x="0.80" y="278.80" font-size="12.0" text-anchor="start" font-weight="bold" fill="#000" stroke="#000" stroke-width="0.22" textLength="7.44" lengthAdjust="spacingAndGlyphs">E</text>
<text x="168.10" y="146.50" font-size="7.2" text-anchor="middle" font-weight="bold" stroke="#1a1a1a" stroke-width="0.22">H929</text>
<text x="170.00" y="288.40" font-size="7.2" text-anchor="middle" font-weight="bold" stroke="#1a1a1a" stroke-width="0.22">AMO-1</text>
<line x1="35.20" y1="166.90" x2="35.20" y2="244.10" stroke="#222" stroke-width="1.1"/>
<line x1="34.70" y1="243.60" x2="137.30" y2="243.60" stroke="#222" stroke-width="1.1"/>
<line x1="32.20" y1="243.60" x2="35.20" y2="243.60" stroke="#222" stroke-width="1"/>
<text x="30.90" y="246.10" font-size="7" text-anchor="end" fill="#222" stroke="#222" stroke-width="0.22">0</text>
<line x1="32.20" y1="224.55" x2="35.20" y2="224.55" stroke="#222" stroke-width="1"/>
<text x="30.90" y="227.05" font-size="7" text-anchor="end" fill="#222" stroke="#222" stroke-width="0.22">100</text>
<line x1="32.20" y1="205.50" x2="35.20" y2="205.50" stroke="#222" stroke-width="1"/>
<text x="30.90" y="208.00" font-size="7" text-anchor="end" fill="#222" stroke="#222" stroke-width="0.22">200</text>
<line x1="32.20" y1="186.45" x2="35.20" y2="186.45" stroke="#222" stroke-width="1"/>
<text x="30.90" y="188.95" font-size="7" text-anchor="end" fill="#222" stroke="#222" stroke-width="0.22">300</text>
<line x1="32.20" y1="167.40" x2="35.20" y2="167.40" stroke="#222" stroke-width="1"/>
<text x="30.90" y="169.90" font-size="7" text-anchor="end" fill="#222" stroke="#222" stroke-width="0.22">400</text>
<line x1="35.20" y1="243.60" x2="35.20" y2="246.60" stroke="#222" stroke-width="1"/>
<text x="35.20" y="252.90" font-size="7" text-anchor="middle" fill="#222" stroke="#222" stroke-width="0.22">0</text>
<line x1="60.25" y1="243.60" x2="60.25" y2="246.60" stroke="#222" stroke-width="1"/>
<text x="60.85" y="252.90" font-size="7" text-anchor="middle" fill="#222" stroke="#222" stroke-width="0.22">20</text>
<line x1="85.30" y1="243.60" x2="85.30" y2="246.60" stroke="#222" stroke-width="1"/>
<text x="85.90" y="252.90" font-size="7" text-anchor="middle" fill="#222" stroke="#222" stroke-width="0.22">40</text>
<line x1="110.35" y1="243.60" x2="110.35" y2="246.60" stroke="#222" stroke-width="1"/>
<text x="110.95" y="252.90" font-size="7" text-anchor="middle" fill="#222" stroke="#222" stroke-width="0.22">60</text>
<line x1="135.40" y1="243.60" x2="135.40" y2="246.60" stroke="#222" stroke-width="1"/>
<text x="136.00" y="252.90" font-size="7" text-anchor="middle" fill="#222" stroke="#222" stroke-width="0.22">80</text>
<text x="85.00" y="262.80" font-size="7" text-anchor="middle" font-weight="bold" fill="#222" stroke="#222" stroke-width="0.1" textLength="53.00" lengthAdjust="spacing">Time ( minutes )</text>
<text x="14.60" y="208.90" font-size="7" text-anchor="middle" font-weight="bold" stroke="#1a1a1a" stroke-width="0.22" transform="rotate(-90 14.60 208.90)" textLength="53.50" lengthAdjust="spacing">OCR(pmol/min)</text>
<polyline points="37.20,207.60 44.70,205.50 53.10,205.12 61.30,211.22 69.90,210.83 78.00,210.26 85.80,193.31 94.40,192.93 102.60,190.45 111.10,215.79 119.50,215.79 128.10,215.79" fill="none" stroke="#b52a2a" stroke-width="1.2" stroke-linejoin="round"/>
<line x1="37.20" y1="209.88" x2="37.20" y2="205.31" stroke="#b52a2a" stroke-width="0.9"/>
<line x1="35.60" y1="205.31" x2="38.80" y2="205.31" stroke="#b52a2a" stroke-width="0.9"/>
<line x1="35.60" y1="209.88" x2="38.80" y2="209.88" stroke="#b52a2a" stroke-width="0.9"/>
<rect x="35.50" y="205.90" width="3.40" height="3.40" fill="#b52a2a"/>
<line x1="44.70" y1="207.60" x2="44.70" y2="203.40" stroke="#b52a2a" stroke-width="0.9"/>
<line x1="43.10" y1="203.40" x2="46.30" y2="203.40" stroke="#b52a2a" stroke-width="0.9"/>
<line x1="43.10" y1="207.60" x2="46.30" y2="207.60" stroke="#b52a2a" stroke-width="0.9"/>
<rect x="43.00" y="203.80" width="3.40" height="3.40" fill="#b52a2a"/>
<line x1="53.10" y1="207.21" x2="53.10" y2="203.02" stroke="#b52a2a" stroke-width="0.9"/>
<line x1="51.50" y1="203.02" x2="54.70" y2="203.02" stroke="#b52a2a" stroke-width="0.9"/>
<line x1="51.50" y1="207.21" x2="54.70" y2="207.21" stroke="#b52a2a" stroke-width="0.9"/>
<rect x="51.40" y="203.42" width="3.40" height="3.40" fill="#b52a2a"/>
<line x1="61.30" y1="212.36" x2="61.30" y2="210.07" stroke="#b52a2a" stroke-width="0.9"/>
<line x1="59.70" y1="210.07" x2="62.90" y2="210.07" stroke="#b52a2a" stroke-width="0.9"/>
<line x1="59.70" y1="212.36" x2="62.90" y2="212.36" stroke="#b52a2a" stroke-width="0.9"/>
<rect x="59.60" y="209.52" width="3.40" height="3.40" fill="#b52a2a"/>
<line x1="69.90" y1="212.17" x2="69.90" y2="209.50" stroke="#b52a2a" stroke-width="0.9"/>
<line x1="68.30" y1="209.50" x2="71.50" y2="209.50" stroke="#b52a2a" stroke-width="0.9"/>
<line x1="68.30" y1="212.17" x2="71.50" y2="212.17" stroke="#b52a2a" stroke-width="0.9"/>
<rect x="68.20" y="209.13" width="3.40" height="3.40" fill="#b52a2a"/>
<line x1="78.00" y1="211.41" x2="78.00" y2="209.12" stroke="#b52a2a" stroke-width="0.9"/>
<line x1="76.40" y1="209.12" x2="79.60" y2="209.12" stroke="#b52a2a" stroke-width="0.9"/>
<line x1="76.40" y1="211.41" x2="79.60" y2="211.41" stroke="#b52a2a" stroke-width="0.9"/>
<rect x="76.30" y="208.56" width="3.40" height="3.40" fill="#b52a2a"/>
<line x1="85.80" y1="199.02" x2="85.80" y2="187.59" stroke="#b52a2a" stroke-width="0.9"/>
<line x1="84.20" y1="187.59" x2="87.40" y2="187.59" stroke="#b52a2a" stroke-width="0.9"/>
<line x1="84.20" y1="199.02" x2="87.40" y2="199.02" stroke="#b52a2a" stroke-width="0.9"/>
<rect x="84.10" y="191.61" width="3.40" height="3.40" fill="#b52a2a"/>
<line x1="94.40" y1="198.07" x2="94.40" y2="187.78" stroke="#b52a2a" stroke-width="0.9"/>
<line x1="92.80" y1="187.78" x2="96.00" y2="187.78" stroke="#b52a2a" stroke-width="0.9"/>
<line x1="92.80" y1="198.07" x2="96.00" y2="198.07" stroke="#b52a2a" stroke-width="0.9"/>
<rect x="92.70" y="191.23" width="3.40" height="3.40" fill="#b52a2a"/>
<line x1="102.60" y1="195.21" x2="102.60" y2="185.69" stroke="#b52a2a" stroke-width="0.9"/>
<line x1="101.00" y1="185.69" x2="104.20" y2="185.69" stroke="#b52a2a" stroke-width="0.9"/>
<line x1="101.00" y1="195.21" x2="104.20" y2="195.21" stroke="#b52a2a" stroke-width="0.9"/>
<rect x="100.90" y="188.75" width="3.40" height="3.40" fill="#b52a2a"/>
<line x1="111.10" y1="216.55" x2="111.10" y2="215.03" stroke="#b52a2a" stroke-width="0.9"/>
<line x1="109.50" y1="215.03" x2="112.70" y2="215.03" stroke="#b52a2a" stroke-width="0.9"/>
<line x1="109.50" y1="216.55" x2="112.70" y2="216.55" stroke="#b52a2a" stroke-width="0.9"/>
<rect x="109.40" y="214.09" width="3.40" height="3.40" fill="#b52a2a"/>
<line x1="119.50" y1="216.55" x2="119.50" y2="215.03" stroke="#b52a2a" stroke-width="0.9"/>
<line x1="117.90" y1="215.03" x2="121.10" y2="215.03" stroke="#b52a2a" stroke-width="0.9"/>
<line x1="117.90" y1="216.55" x2="121.10" y2="216.55" stroke="#b52a2a" stroke-width="0.9"/>
<rect x="117.80" y="214.09" width="3.40" height="3.40" fill="#b52a2a"/>
<line x1="128.10" y1="216.55" x2="128.10" y2="215.03" stroke="#b52a2a" stroke-width="0.9"/>
<line x1="126.50" y1="215.03" x2="129.70" y2="215.03" stroke="#b52a2a" stroke-width="0.9"/>
<line x1="126.50" y1="216.55" x2="129.70" y2="216.55" stroke="#b52a2a" stroke-width="0.9"/>
<rect x="126.40" y="214.09" width="3.40" height="3.40" fill="#b52a2a"/>
<polyline points="37.20,211.22 44.70,209.12 53.10,208.17 61.30,219.98 69.90,220.93 78.00,220.93 85.80,206.26 94.40,205.50 102.60,205.50 111.10,222.07 119.50,222.45 128.10,222.45" fill="none" stroke="#4ab6c4" stroke-width="1.2" stroke-linejoin="round"/>
<line x1="37.20" y1="212.17" x2="37.20" y2="210.26" stroke="#4ab6c4" stroke-width="0.9"/>
<line x1="35.60" y1="210.26" x2="38.80" y2="210.26" stroke="#4ab6c4" stroke-width="0.9"/>
<line x1="35.60" y1="212.17" x2="38.80" y2="212.17" stroke="#4ab6c4" stroke-width="0.9"/>
<circle cx="37.20" cy="211.22" r="1.75" fill="#4ab6c4"/>
<line x1="44.70" y1="209.88" x2="44.70" y2="208.36" stroke="#4ab6c4" stroke-width="0.9"/>
<line x1="43.10" y1="208.36" x2="46.30" y2="208.36" stroke="#4ab6c4" stroke-width="0.9"/>
<line x1="43.10" y1="209.88" x2="46.30" y2="209.88" stroke="#4ab6c4" stroke-width="0.9"/>
<circle cx="44.70" cy="209.12" r="1.75" fill="#4ab6c4"/>
<line x1="53.10" y1="209.12" x2="53.10" y2="207.21" stroke="#4ab6c4" stroke-width="0.9"/>
<line x1="51.50" y1="207.21" x2="54.70" y2="207.21" stroke="#4ab6c4" stroke-width="0.9"/>
<line x1="51.50" y1="209.12" x2="54.70" y2="209.12" stroke="#4ab6c4" stroke-width="0.9"/>
<circle cx="53.10" cy="208.17" r="1.75" fill="#4ab6c4"/>
<line x1="61.30" y1="220.55" x2="61.30" y2="219.41" stroke="#4ab6c4" stroke-width="0.9"/>
<line x1="59.70" y1="219.41" x2="62.90" y2="219.41" stroke="#4ab6c4" stroke-width="0.9"/>
<line x1="59.70" y1="220.55" x2="62.90" y2="220.55" stroke="#4ab6c4" stroke-width="0.9"/>
<circle cx="61.30" cy="219.98" r="1.75" fill="#4ab6c4"/>
<line x1="69.90" y1="221.50" x2="69.90" y2="220.36" stroke="#4ab6c4" stroke-width="0.9"/>
<line x1="68.30" y1="220.36" x2="71.50" y2="220.36" stroke="#4ab6c4" stroke-width="0.9"/>
<line x1="68.30" y1="221.50" x2="71.50" y2="221.50" stroke="#4ab6c4" stroke-width="0.9"/>
<circle cx="69.90" cy="220.93" r="1.75" fill="#4ab6c4"/>
<line x1="78.00" y1="221.50" x2="78.00" y2="220.36" stroke="#4ab6c4" stroke-width="0.9"/>
<line x1="76.40" y1="220.36" x2="79.60" y2="220.36" stroke="#4ab6c4" stroke-width="0.9"/>
<line x1="76.40" y1="221.50" x2="79.60" y2="221.50" stroke="#4ab6c4" stroke-width="0.9"/>
<circle cx="78.00" cy="220.93" r="1.75" fill="#4ab6c4"/>
<line x1="85.80" y1="207.21" x2="85.80" y2="205.31" stroke="#4ab6c4" stroke-width="0.9"/>
<line x1="84.20" y1="205.31" x2="87.40" y2="205.31" stroke="#4ab6c4" stroke-width="0.9"/>
<line x1="84.20" y1="207.21" x2="87.40" y2="207.21" stroke="#4ab6c4" stroke-width="0.9"/>
<circle cx="85.80" cy="206.26" r="1.75" fill="#4ab6c4"/>
<line x1="94.40" y1="207.21" x2="94.40" y2="203.79" stroke="#4ab6c4" stroke-width="0.9"/>
<line x1="92.80" y1="203.79" x2="96.00" y2="203.79" stroke="#4ab6c4" stroke-width="0.9"/>
<line x1="92.80" y1="207.21" x2="96.00" y2="207.21" stroke="#4ab6c4" stroke-width="0.9"/>
<circle cx="94.40" cy="205.50" r="1.75" fill="#4ab6c4"/>
<line x1="102.60" y1="206.26" x2="102.60" y2="204.74" stroke="#4ab6c4" stroke-width="0.9"/>
<line x1="101.00" y1="204.74" x2="104.20" y2="204.74" stroke="#4ab6c4" stroke-width="0.9"/>
<line x1="101.00" y1="206.26" x2="104.20" y2="206.26" stroke="#4ab6c4" stroke-width="0.9"/>
<circle cx="102.60" cy="205.50" r="1.75" fill="#4ab6c4"/>
<line x1="111.10" y1="222.65" x2="111.10" y2="221.50" stroke="#4ab6c4" stroke-width="0.9"/>
<line x1="109.50" y1="221.50" x2="112.70" y2="221.50" stroke="#4ab6c4" stroke-width="0.9"/>
<line x1="109.50" y1="222.65" x2="112.70" y2="222.65" stroke="#4ab6c4" stroke-width="0.9"/>
<circle cx="111.10" cy="222.07" r="1.75" fill="#4ab6c4"/>
<line x1="119.50" y1="223.03" x2="119.50" y2="221.88" stroke="#4ab6c4" stroke-width="0.9"/>
<line x1="117.90" y1="221.88" x2="121.10" y2="221.88" stroke="#4ab6c4" stroke-width="0.9"/>
<line x1="117.90" y1="223.03" x2="121.10" y2="223.03" stroke="#4ab6c4" stroke-width="0.9"/>
<circle cx="119.50" cy="222.45" r="1.75" fill="#4ab6c4"/>
<line x1="128.10" y1="223.03" x2="128.10" y2="221.88" stroke="#4ab6c4" stroke-width="0.9"/>
<line x1="126.50" y1="221.88" x2="129.70" y2="221.88" stroke="#4ab6c4" stroke-width="0.9"/>
<line x1="126.50" y1="223.03" x2="129.70" y2="223.03" stroke="#4ab6c4" stroke-width="0.9"/>
<circle cx="128.10" cy="222.45" r="1.75" fill="#4ab6c4"/>
<line x1="110.10" y1="184.90" x2="122.00" y2="184.90" stroke="#b52a2a" stroke-width="1.2"/>
<rect x="114.35" y="183.20" width="3.40" height="3.40" fill="#b52a2a"/>
<text x="123.80" y="187.40" font-size="7" text-anchor="start" fill="#222" stroke="#222" stroke-width="0.22" textLength="35.50" lengthAdjust="spacing">EPAS1-OE</text>
<line x1="110.10" y1="191.70" x2="122.00" y2="191.70" stroke="#4ab6c4" stroke-width="1.2"/>
<circle cx="116.05" cy="191.70" r="1.75" fill="#4ab6c4"/>
<text x="123.80" y="194.20" font-size="7" text-anchor="start" fill="#222" stroke="#222" stroke-width="0.22" textLength="35.50" lengthAdjust="spacing">EPAS1-NC</text>
<text x="53.00" y="178.40" font-size="7" text-anchor="middle" fill="#222" stroke="#222" stroke-width="0.22" textLength="17.40" lengthAdjust="spacing">Oligo</text>
<line x1="53.50" y1="182.50" x2="53.50" y2="197.10" stroke="#111" stroke-width="1.0"/>
<polygon points="53.50,201.30 51.60,197.10 55.40,197.10" fill="#111"/>
<text x="78.30" y="178.40" font-size="7" text-anchor="middle" fill="#222" stroke="#222" stroke-width="0.22" textLength="19.00" lengthAdjust="spacing">FCCP</text>
<line x1="78.40" y1="182.50" x2="78.40" y2="202.80" stroke="#111" stroke-width="1.0"/>
<polygon points="78.40,207.00 76.50,202.80 80.30,202.80" fill="#111"/>
<text x="104.40" y="168.20" font-size="7" text-anchor="middle" fill="#222" stroke="#222" stroke-width="0.22" textLength="27.00" lengthAdjust="spacing">Ant/Rot.</text>
<line x1="102.60" y1="169.20" x2="102.60" y2="177.60" stroke="#111" stroke-width="1.0"/>
<polygon points="102.60,181.80 100.70,177.60 104.50,177.60" fill="#111"/>
<line x1="202.60" y1="166.50" x2="202.60" y2="244.10" stroke="#222" stroke-width="1.1"/>
<line x1="202.10" y1="243.60" x2="302.70" y2="243.60" stroke="#222" stroke-width="1.1"/>
<line x1="199.60" y1="243.60" x2="202.60" y2="243.60" stroke="#222" stroke-width="1"/>
<text x="198.30" y="246.10" font-size="7" text-anchor="end" fill="#222" stroke="#222" stroke-width="0.22">0</text>
<line x1="199.60" y1="218.07" x2="202.60" y2="218.07" stroke="#222" stroke-width="1"/>
<text x="198.30" y="220.57" font-size="7" text-anchor="end" fill="#222" stroke="#222" stroke-width="0.22">50</text>
<line x1="199.60" y1="192.53" x2="202.60" y2="192.53" stroke="#222" stroke-width="1"/>
<text x="198.30" y="195.03" font-size="7" text-anchor="end" fill="#222" stroke="#222" stroke-width="0.22">100</text>
<line x1="199.60" y1="167.00" x2="202.60" y2="167.00" stroke="#222" stroke-width="1"/>
<text x="198.30" y="169.50" font-size="7" text-anchor="end" fill="#222" stroke="#222" stroke-width="0.22">150</text>
<line x1="202.60" y1="243.60" x2="202.60" y2="246.60" stroke="#222" stroke-width="1"/>
<text x="202.60" y="252.90" font-size="7" text-anchor="middle" fill="#222" stroke="#222" stroke-width="0.22">0</text>
<line x1="227.52" y1="243.60" x2="227.52" y2="246.60" stroke="#222" stroke-width="1"/>
<text x="228.12" y="252.90" font-size="7" text-anchor="middle" fill="#222" stroke="#222" stroke-width="0.22">20</text>
<line x1="252.44" y1="243.60" x2="252.44" y2="246.60" stroke="#222" stroke-width="1"/>
<text x="253.04" y="252.90" font-size="7" text-anchor="middle" fill="#222" stroke="#222" stroke-width="0.22">40</text>
<line x1="277.36" y1="243.60" x2="277.36" y2="246.60" stroke="#222" stroke-width="1"/>
<text x="277.96" y="252.90" font-size="7" text-anchor="middle" fill="#222" stroke="#222" stroke-width="0.22">60</text>
<line x1="302.28" y1="243.60" x2="302.28" y2="246.60" stroke="#222" stroke-width="1"/>
<text x="302.88" y="252.90" font-size="7" text-anchor="middle" fill="#222" stroke="#222" stroke-width="0.22">80</text>
<text x="248.70" y="262.80" font-size="7" text-anchor="middle" font-weight="bold" fill="#222" stroke="#222" stroke-width="0.1" textLength="53.00" lengthAdjust="spacing">Time ( minutes )</text>
<text x="179.80" y="208.00" font-size="7" text-anchor="middle" font-weight="bold" stroke="#1a1a1a" stroke-width="0.22" transform="rotate(-90 179.80 208.00)" textLength="57.00" lengthAdjust="spacing">ECAR(mpH/min)</text>
<polyline points="203.40,219.09 212.00,217.05 220.10,216.02 228.10,203.51 236.50,200.70 244.70,201.73 252.80,180.28 261.00,177.98 269.20,179.77 277.40,228.28 285.50,228.28 293.70,228.28" fill="none" stroke="#4ab6c4" stroke-width="1.2" stroke-linejoin="round"/>
<line x1="203.40" y1="220.11" x2="203.40" y2="218.07" stroke="#4ab6c4" stroke-width="0.9"/>
<line x1="201.80" y1="218.07" x2="205.00" y2="218.07" stroke="#4ab6c4" stroke-width="0.9"/>
<line x1="201.80" y1="220.11" x2="205.00" y2="220.11" stroke="#4ab6c4" stroke-width="0.9"/>
<circle cx="203.40" cy="219.09" r="1.75" fill="#4ab6c4"/>
<line x1="212.00" y1="218.07" x2="212.00" y2="216.02" stroke="#4ab6c4" stroke-width="0.9"/>
<line x1="210.40" y1="216.02" x2="213.60" y2="216.02" stroke="#4ab6c4" stroke-width="0.9"/>
<line x1="210.40" y1="218.07" x2="213.60" y2="218.07" stroke="#4ab6c4" stroke-width="0.9"/>
<circle cx="212.00" cy="217.05" r="1.75" fill="#4ab6c4"/>
<line x1="220.10" y1="217.05" x2="220.10" y2="215.00" stroke="#4ab6c4" stroke-width="0.9"/>
<line x1="218.50" y1="215.00" x2="221.70" y2="215.00" stroke="#4ab6c4" stroke-width="0.9"/>
<line x1="218.50" y1="217.05" x2="221.70" y2="217.05" stroke="#4ab6c4" stroke-width="0.9"/>
<circle cx="220.10" cy="216.02" r="1.75" fill="#4ab6c4"/>
<line x1="228.10" y1="204.53" x2="228.10" y2="202.49" stroke="#4ab6c4" stroke-width="0.9"/>
<line x1="226.50" y1="202.49" x2="229.70" y2="202.49" stroke="#4ab6c4" stroke-width="0.9"/>
<line x1="226.50" y1="204.53" x2="229.70" y2="204.53" stroke="#4ab6c4" stroke-width="0.9"/>
<circle cx="228.10" cy="203.51" r="1.75" fill="#4ab6c4"/>
<line x1="236.50" y1="202.24" x2="236.50" y2="199.17" stroke="#4ab6c4" stroke-width="0.9"/>
<line x1="234.90" y1="199.17" x2="238.10" y2="199.17" stroke="#4ab6c4" stroke-width="0.9"/>
<line x1="234.90" y1="202.24" x2="238.10" y2="202.24" stroke="#4ab6c4" stroke-width="0.9"/>
<circle cx="236.50" cy="200.70" r="1.75" fill="#4ab6c4"/>
<line x1="244.70" y1="202.75" x2="244.70" y2="200.70" stroke="#4ab6c4" stroke-width="0.9"/>
<line x1="243.10" y1="200.70" x2="246.30" y2="200.70" stroke="#4ab6c4" stroke-width="0.9"/>
<line x1="243.10" y1="202.75" x2="246.30" y2="202.75" stroke="#4ab6c4" stroke-width="0.9"/>
<circle cx="244.70" cy="201.73" r="1.75" fill="#4ab6c4"/>
<line x1="252.80" y1="182.83" x2="252.80" y2="177.72" stroke="#4ab6c4" stroke-width="0.9"/>
<line x1="251.20" y1="177.72" x2="254.40" y2="177.72" stroke="#4ab6c4" stroke-width="0.9"/>
<line x1="251.20" y1="182.83" x2="254.40" y2="182.83" stroke="#4ab6c4" stroke-width="0.9"/>
<circle cx="252.80" cy="180.28" r="1.75" fill="#4ab6c4"/>
<line x1="261.00" y1="179.51" x2="261.00" y2="176.45" stroke="#4ab6c4" stroke-width="0.9"/>
<line x1="259.40" y1="176.45" x2="262.60" y2="176.45" stroke="#4ab6c4" stroke-width="0.9"/>
<line x1="259.40" y1="179.51" x2="262.60" y2="179.51" stroke="#4ab6c4" stroke-width="0.9"/>
<circle cx="261.00" cy="177.98" r="1.75" fill="#4ab6c4"/>
<line x1="269.20" y1="181.81" x2="269.20" y2="177.72" stroke="#4ab6c4" stroke-width="0.9"/>
<line x1="267.60" y1="177.72" x2="270.80" y2="177.72" stroke="#4ab6c4" stroke-width="0.9"/>
<line x1="267.60" y1="181.81" x2="270.80" y2="181.81" stroke="#4ab6c4" stroke-width="0.9"/>
<circle cx="269.20" cy="179.77" r="1.75" fill="#4ab6c4"/>
<line x1="277.40" y1="228.79" x2="277.40" y2="227.77" stroke="#4ab6c4" stroke-width="0.9"/>
<line x1="275.80" y1="227.77" x2="279.00" y2="227.77" stroke="#4ab6c4" stroke-width="0.9"/>
<line x1="275.80" y1="228.79" x2="279.00" y2="228.79" stroke="#4ab6c4" stroke-width="0.9"/>
<circle cx="277.40" cy="228.28" r="1.75" fill="#4ab6c4"/>
<line x1="285.50" y1="228.79" x2="285.50" y2="227.77" stroke="#4ab6c4" stroke-width="0.9"/>
<line x1="283.90" y1="227.77" x2="287.10" y2="227.77" stroke="#4ab6c4" stroke-width="0.9"/>
<line x1="283.90" y1="228.79" x2="287.10" y2="228.79" stroke="#4ab6c4" stroke-width="0.9"/>
<circle cx="285.50" cy="228.28" r="1.75" fill="#4ab6c4"/>
<line x1="293.70" y1="228.79" x2="293.70" y2="227.77" stroke="#4ab6c4" stroke-width="0.9"/>
<line x1="292.10" y1="227.77" x2="295.30" y2="227.77" stroke="#4ab6c4" stroke-width="0.9"/>
<line x1="292.10" y1="228.79" x2="295.30" y2="228.79" stroke="#4ab6c4" stroke-width="0.9"/>
<circle cx="293.70" cy="228.28" r="1.75" fill="#4ab6c4"/>
<polyline points="203.40,224.71 212.00,222.15 220.10,222.15 228.10,212.70 236.50,209.39 244.70,210.92 252.80,200.19 261.00,201.21 269.20,197.64 277.40,229.30 285.50,230.32 293.70,229.30" fill="none" stroke="#b52a2a" stroke-width="1.2" stroke-linejoin="round"/>
<line x1="203.40" y1="227.77" x2="203.40" y2="221.64" stroke="#b52a2a" stroke-width="0.9"/>
<line x1="201.80" y1="221.64" x2="205.00" y2="221.64" stroke="#b52a2a" stroke-width="0.9"/>
<line x1="201.80" y1="227.77" x2="205.00" y2="227.77" stroke="#b52a2a" stroke-width="0.9"/>
<rect x="201.70" y="223.01" width="3.40" height="3.40" fill="#b52a2a"/>
<line x1="212.00" y1="223.17" x2="212.00" y2="221.13" stroke="#b52a2a" stroke-width="0.9"/>
<line x1="210.40" y1="221.13" x2="213.60" y2="221.13" stroke="#b52a2a" stroke-width="0.9"/>
<line x1="210.40" y1="223.17" x2="213.60" y2="223.17" stroke="#b52a2a" stroke-width="0.9"/>
<rect x="210.30" y="220.45" width="3.40" height="3.40" fill="#b52a2a"/>
<line x1="220.10" y1="223.17" x2="220.10" y2="221.13" stroke="#b52a2a" stroke-width="0.9"/>
<line x1="218.50" y1="221.13" x2="221.70" y2="221.13" stroke="#b52a2a" stroke-width="0.9"/>
<line x1="218.50" y1="223.17" x2="221.70" y2="223.17" stroke="#b52a2a" stroke-width="0.9"/>
<rect x="218.40" y="220.45" width="3.40" height="3.40" fill="#b52a2a"/>
<line x1="228.10" y1="214.24" x2="228.10" y2="211.17" stroke="#b52a2a" stroke-width="0.9"/>
<line x1="226.50" y1="211.17" x2="229.70" y2="211.17" stroke="#b52a2a" stroke-width="0.9"/>
<line x1="226.50" y1="214.24" x2="229.70" y2="214.24" stroke="#b52a2a" stroke-width="0.9"/>
<rect x="226.40" y="211.00" width="3.40" height="3.40" fill="#b52a2a"/>
<line x1="236.50" y1="210.41" x2="236.50" y2="208.36" stroke="#b52a2a" stroke-width="0.9"/>
<line x1="234.90" y1="208.36" x2="238.10" y2="208.36" stroke="#b52a2a" stroke-width="0.9"/>
<line x1="234.90" y1="210.41" x2="238.10" y2="210.41" stroke="#b52a2a" stroke-width="0.9"/>
<rect x="234.80" y="207.69" width="3.40" height="3.40" fill="#b52a2a"/>
<line x1="244.70" y1="213.47" x2="244.70" y2="208.36" stroke="#b52a2a" stroke-width="0.9"/>
<line x1="243.10" y1="208.36" x2="246.30" y2="208.36" stroke="#b52a2a" stroke-width="0.9"/>
<line x1="243.10" y1="213.47" x2="246.30" y2="213.47" stroke="#b52a2a" stroke-width="0.9"/>
<rect x="243.00" y="209.22" width="3.40" height="3.40" fill="#b52a2a"/>
<line x1="252.80" y1="201.73" x2="252.80" y2="198.66" stroke="#b52a2a" stroke-width="0.9"/>
<line x1="251.20" y1="198.66" x2="254.40" y2="198.66" stroke="#b52a2a" stroke-width="0.9"/>
<line x1="251.20" y1="201.73" x2="254.40" y2="201.73" stroke="#b52a2a" stroke-width="0.9"/>
<rect x="251.10" y="198.49" width="3.40" height="3.40" fill="#b52a2a"/>
<line x1="261.00" y1="202.24" x2="261.00" y2="200.19" stroke="#b52a2a" stroke-width="0.9"/>
<line x1="259.40" y1="200.19" x2="262.60" y2="200.19" stroke="#b52a2a" stroke-width="0.9"/>
<line x1="259.40" y1="202.24" x2="262.60" y2="202.24" stroke="#b52a2a" stroke-width="0.9"/>
<rect x="259.30" y="199.51" width="3.40" height="3.40" fill="#b52a2a"/>
<line x1="269.20" y1="199.68" x2="269.20" y2="195.60" stroke="#b52a2a" stroke-width="0.9"/>
<line x1="267.60" y1="195.60" x2="270.80" y2="195.60" stroke="#b52a2a" stroke-width="0.9"/>
<line x1="267.60" y1="199.68" x2="270.80" y2="199.68" stroke="#b52a2a" stroke-width="0.9"/>
<rect x="267.50" y="195.94" width="3.40" height="3.40" fill="#b52a2a"/>
<line x1="277.40" y1="229.81" x2="277.40" y2="228.79" stroke="#b52a2a" stroke-width="0.9"/>
<line x1="275.80" y1="228.79" x2="279.00" y2="228.79" stroke="#b52a2a" stroke-width="0.9"/>
<line x1="275.80" y1="229.81" x2="279.00" y2="229.81" stroke="#b52a2a" stroke-width="0.9"/>
<rect x="275.70" y="227.60" width="3.40" height="3.40" fill="#b52a2a"/>
<line x1="285.50" y1="230.83" x2="285.50" y2="229.81" stroke="#b52a2a" stroke-width="0.9"/>
<line x1="283.90" y1="229.81" x2="287.10" y2="229.81" stroke="#b52a2a" stroke-width="0.9"/>
<line x1="283.90" y1="230.83" x2="287.10" y2="230.83" stroke="#b52a2a" stroke-width="0.9"/>
<rect x="283.80" y="228.62" width="3.40" height="3.40" fill="#b52a2a"/>
<line x1="293.70" y1="229.81" x2="293.70" y2="228.79" stroke="#b52a2a" stroke-width="0.9"/>
<line x1="292.10" y1="228.79" x2="295.30" y2="228.79" stroke="#b52a2a" stroke-width="0.9"/>
<line x1="292.10" y1="229.81" x2="295.30" y2="229.81" stroke="#b52a2a" stroke-width="0.9"/>
<rect x="292.00" y="227.60" width="3.40" height="3.40" fill="#b52a2a"/>
<line x1="277.80" y1="177.60" x2="289.40" y2="177.60" stroke="#4ab6c4" stroke-width="1.2"/>
<circle cx="283.60" cy="177.60" r="1.75" fill="#4ab6c4"/>
<text x="292.10" y="180.10" font-size="7" text-anchor="start" fill="#222" stroke="#222" stroke-width="0.22" textLength="36.80" lengthAdjust="spacing">EPAS1-NC</text>
<line x1="277.80" y1="184.30" x2="289.40" y2="184.30" stroke="#b52a2a" stroke-width="1.2"/>
<rect x="281.90" y="182.60" width="3.40" height="3.40" fill="#b52a2a"/>
<text x="292.10" y="186.80" font-size="7" text-anchor="start" fill="#222" stroke="#222" stroke-width="0.22" textLength="36.80" lengthAdjust="spacing">EPAS1-OE</text>
<text x="219.00" y="194.00" font-size="7" text-anchor="middle" fill="#222" stroke="#222" stroke-width="0.22" textLength="26.80" lengthAdjust="spacing">Glucose</text>
<line x1="215.00" y1="195.40" x2="218.12" y2="208.42" stroke="#111" stroke-width="1.0"/>
<polygon points="219.10,212.50 216.27,208.86 219.97,207.97" fill="#111"/>
<text x="241.10" y="177.00" font-size="7" text-anchor="middle" fill="#222" stroke="#222" stroke-width="0.22" textLength="17.40" lengthAdjust="spacing">Oligo</text>
<line x1="240.40" y1="179.60" x2="242.69" y2="193.06" stroke="#111" stroke-width="1.0"/>
<polygon points="243.40,197.20 240.82,193.38 244.57,192.74" fill="#111"/>
<text x="270.30" y="163.10" font-size="7" text-anchor="middle" fill="#222" stroke="#222" stroke-width="0.22" textLength="17.00" lengthAdjust="spacing">2-DG</text>
<line x1="269.00" y1="166.30" x2="269.00" y2="172.60" stroke="#111" stroke-width="1.0"/>
<polygon points="269.00,176.80 267.10,172.60 270.90,172.60" fill="#111"/>
<line x1="35.20" y1="307.10" x2="35.20" y2="384.30" stroke="#222" stroke-width="1.1"/>
<line x1="34.70" y1="383.80" x2="137.30" y2="383.80" stroke="#222" stroke-width="1.1"/>
<line x1="32.20" y1="383.80" x2="35.20" y2="383.80" stroke="#222" stroke-width="1"/>
<text x="30.90" y="386.30" font-size="7" text-anchor="end" fill="#222" stroke="#222" stroke-width="0.22">0</text>
<line x1="32.20" y1="364.75" x2="35.20" y2="364.75" stroke="#222" stroke-width="1"/>
<text x="30.90" y="367.25" font-size="7" text-anchor="end" fill="#222" stroke="#222" stroke-width="0.22">100</text>
<line x1="32.20" y1="345.70" x2="35.20" y2="345.70" stroke="#222" stroke-width="1"/>
<text x="30.90" y="348.20" font-size="7" text-anchor="end" fill="#222" stroke="#222" stroke-width="0.22">200</text>
<line x1="32.20" y1="326.65" x2="35.20" y2="326.65" stroke="#222" stroke-width="1"/>
<text x="30.90" y="329.15" font-size="7" text-anchor="end" fill="#222" stroke="#222" stroke-width="0.22">300</text>
<line x1="32.20" y1="307.60" x2="35.20" y2="307.60" stroke="#222" stroke-width="1"/>
<text x="30.90" y="310.10" font-size="7" text-anchor="end" fill="#222" stroke="#222" stroke-width="0.22">400</text>
<line x1="35.20" y1="383.80" x2="35.20" y2="386.80" stroke="#222" stroke-width="1"/>
<text x="35.20" y="393.90" font-size="7" text-anchor="middle" fill="#222" stroke="#222" stroke-width="0.22">0</text>
<line x1="60.25" y1="383.80" x2="60.25" y2="386.80" stroke="#222" stroke-width="1"/>
<text x="60.85" y="393.90" font-size="7" text-anchor="middle" fill="#222" stroke="#222" stroke-width="0.22">20</text>
<line x1="85.30" y1="383.80" x2="85.30" y2="386.80" stroke="#222" stroke-width="1"/>
<text x="85.90" y="393.90" font-size="7" text-anchor="middle" fill="#222" stroke="#222" stroke-width="0.22">40</text>
<line x1="110.35" y1="383.80" x2="110.35" y2="386.80" stroke="#222" stroke-width="1"/>
<text x="110.95" y="393.90" font-size="7" text-anchor="middle" fill="#222" stroke="#222" stroke-width="0.22">60</text>
<line x1="135.40" y1="383.80" x2="135.40" y2="386.80" stroke="#222" stroke-width="1"/>
<text x="136.00" y="393.90" font-size="7" text-anchor="middle" fill="#222" stroke="#222" stroke-width="0.22">80</text>
<text x="85.00" y="403.80" font-size="7" text-anchor="middle" font-weight="bold" fill="#222" stroke="#222" stroke-width="0.1" textLength="53.00" lengthAdjust="spacing">Time ( minutes )</text>
<text x="14.60" y="349.10" font-size="7" text-anchor="middle" font-weight="bold" stroke="#1a1a1a" stroke-width="0.22" transform="rotate(-90 14.60 349.10)" textLength="53.50" lengthAdjust="spacing">OCR(pmol/min)</text>
<polyline points="37.20,343.22 44.70,340.94 53.10,339.22 61.30,357.13 69.90,357.70 78.00,359.23 85.80,336.18 94.40,334.27 102.60,338.46 111.10,363.80 119.50,367.42 128.10,368.56" fill="none" stroke="#4ab6c4" stroke-width="1.2" stroke-linejoin="round"/>
<line x1="37.20" y1="343.99" x2="37.20" y2="342.46" stroke="#4ab6c4" stroke-width="0.9"/>
<line x1="35.60" y1="342.46" x2="38.80" y2="342.46" stroke="#4ab6c4" stroke-width="0.9"/>
<line x1="35.60" y1="343.99" x2="38.80" y2="343.99" stroke="#4ab6c4" stroke-width="0.9"/>
<circle cx="37.20" cy="343.22" r="1.75" fill="#4ab6c4"/>
<line x1="44.70" y1="341.51" x2="44.70" y2="340.37" stroke="#4ab6c4" stroke-width="0.9"/>
<line x1="43.10" y1="340.37" x2="46.30" y2="340.37" stroke="#4ab6c4" stroke-width="0.9"/>
<line x1="43.10" y1="341.51" x2="46.30" y2="341.51" stroke="#4ab6c4" stroke-width="0.9"/>
<circle cx="44.70" cy="340.94" r="1.75" fill="#4ab6c4"/>
<line x1="53.10" y1="339.99" x2="53.10" y2="338.46" stroke="#4ab6c4" stroke-width="0.9"/>
<line x1="51.50" y1="338.46" x2="54.70" y2="338.46" stroke="#4ab6c4" stroke-width="0.9"/>
<line x1="51.50" y1="339.99" x2="54.70" y2="339.99" stroke="#4ab6c4" stroke-width="0.9"/>
<circle cx="53.10" cy="339.22" r="1.75" fill="#4ab6c4"/>
<line x1="61.30" y1="357.70" x2="61.30" y2="356.56" stroke="#4ab6c4" stroke-width="0.9"/>
<line x1="59.70" y1="356.56" x2="62.90" y2="356.56" stroke="#4ab6c4" stroke-width="0.9"/>
<line x1="59.70" y1="357.70" x2="62.90" y2="357.70" stroke="#4ab6c4" stroke-width="0.9"/>
<circle cx="61.30" cy="357.13" r="1.75" fill="#4ab6c4"/>
<line x1="69.90" y1="358.08" x2="69.90" y2="357.32" stroke="#4ab6c4" stroke-width="0.9"/>
<line x1="68.30" y1="357.32" x2="71.50" y2="357.32" stroke="#4ab6c4" stroke-width="0.9"/>
<line x1="68.30" y1="358.08" x2="71.50" y2="358.08" stroke="#4ab6c4" stroke-width="0.9"/>
<circle cx="69.90" cy="357.70" r="1.75" fill="#4ab6c4"/>
<line x1="78.00" y1="359.61" x2="78.00" y2="358.84" stroke="#4ab6c4" stroke-width="0.9"/>
<line x1="76.40" y1="358.84" x2="79.60" y2="358.84" stroke="#4ab6c4" stroke-width="0.9"/>
<line x1="76.40" y1="359.61" x2="79.60" y2="359.61" stroke="#4ab6c4" stroke-width="0.9"/>
<circle cx="78.00" cy="359.23" r="1.75" fill="#4ab6c4"/>
<line x1="85.80" y1="336.75" x2="85.80" y2="335.60" stroke="#4ab6c4" stroke-width="0.9"/>
<line x1="84.20" y1="335.60" x2="87.40" y2="335.60" stroke="#4ab6c4" stroke-width="0.9"/>
<line x1="84.20" y1="336.75" x2="87.40" y2="336.75" stroke="#4ab6c4" stroke-width="0.9"/>
<circle cx="85.80" cy="336.18" r="1.75" fill="#4ab6c4"/>
<line x1="94.40" y1="334.65" x2="94.40" y2="333.89" stroke="#4ab6c4" stroke-width="0.9"/>
<line x1="92.80" y1="333.89" x2="96.00" y2="333.89" stroke="#4ab6c4" stroke-width="0.9"/>
<line x1="92.80" y1="334.65" x2="96.00" y2="334.65" stroke="#4ab6c4" stroke-width="0.9"/>
<circle cx="94.40" cy="334.27" r="1.75" fill="#4ab6c4"/>
<line x1="102.60" y1="339.03" x2="102.60" y2="337.89" stroke="#4ab6c4" stroke-width="0.9"/>
<line x1="101.00" y1="337.89" x2="104.20" y2="337.89" stroke="#4ab6c4" stroke-width="0.9"/>
<line x1="101.00" y1="339.03" x2="104.20" y2="339.03" stroke="#4ab6c4" stroke-width="0.9"/>
<circle cx="102.60" cy="338.46" r="1.75" fill="#4ab6c4"/>
<line x1="111.10" y1="364.75" x2="111.10" y2="362.85" stroke="#4ab6c4" stroke-width="0.9"/>
<line x1="109.50" y1="362.85" x2="112.70" y2="362.85" stroke="#4ab6c4" stroke-width="0.9"/>
<line x1="109.50" y1="364.75" x2="112.70" y2="364.75" stroke="#4ab6c4" stroke-width="0.9"/>
<circle cx="111.10" cy="363.80" r="1.75" fill="#4ab6c4"/>
<line x1="119.50" y1="367.80" x2="119.50" y2="367.04" stroke="#4ab6c4" stroke-width="0.9"/>
<line x1="117.90" y1="367.04" x2="121.10" y2="367.04" stroke="#4ab6c4" stroke-width="0.9"/>
<line x1="117.90" y1="367.80" x2="121.10" y2="367.80" stroke="#4ab6c4" stroke-width="0.9"/>
<circle cx="119.50" cy="367.42" r="1.75" fill="#4ab6c4"/>
<line x1="128.10" y1="368.94" x2="128.10" y2="368.18" stroke="#4ab6c4" stroke-width="0.9"/>
<line x1="126.50" y1="368.18" x2="129.70" y2="368.18" stroke="#4ab6c4" stroke-width="0.9"/>
<line x1="126.50" y1="368.94" x2="129.70" y2="368.94" stroke="#4ab6c4" stroke-width="0.9"/>
<circle cx="128.10" cy="368.56" r="1.75" fill="#4ab6c4"/>
<polyline points="37.20,341.51 44.70,342.27 53.10,341.32 61.30,350.65 69.90,350.08 78.00,350.08 85.80,323.03 94.40,325.51 102.60,322.84 111.10,361.32 119.50,363.42 128.10,364.94" fill="none" stroke="#b52a2a" stroke-width="1.2" stroke-linejoin="round"/>
<line x1="37.20" y1="342.46" x2="37.20" y2="340.56" stroke="#b52a2a" stroke-width="0.9"/>
<line x1="35.60" y1="340.56" x2="38.80" y2="340.56" stroke="#b52a2a" stroke-width="0.9"/>
<line x1="35.60" y1="342.46" x2="38.80" y2="342.46" stroke="#b52a2a" stroke-width="0.9"/>
<rect x="35.50" y="339.81" width="3.40" height="3.40" fill="#b52a2a"/>
<line x1="44.70" y1="343.03" x2="44.70" y2="341.51" stroke="#b52a2a" stroke-width="0.9"/>
<line x1="43.10" y1="341.51" x2="46.30" y2="341.51" stroke="#b52a2a" stroke-width="0.9"/>
<line x1="43.10" y1="343.03" x2="46.30" y2="343.03" stroke="#b52a2a" stroke-width="0.9"/>
<rect x="43.00" y="340.57" width="3.40" height="3.40" fill="#b52a2a"/>
<line x1="53.10" y1="342.08" x2="53.10" y2="340.56" stroke="#b52a2a" stroke-width="0.9"/>
<line x1="51.50" y1="340.56" x2="54.70" y2="340.56" stroke="#b52a2a" stroke-width="0.9"/>
<line x1="51.50" y1="342.08" x2="54.70" y2="342.08" stroke="#b52a2a" stroke-width="0.9"/>
<rect x="51.40" y="339.62" width="3.40" height="3.40" fill="#b52a2a"/>
<line x1="61.30" y1="352.18" x2="61.30" y2="349.13" stroke="#b52a2a" stroke-width="0.9"/>
<line x1="59.70" y1="349.13" x2="62.90" y2="349.13" stroke="#b52a2a" stroke-width="0.9"/>
<line x1="59.70" y1="352.18" x2="62.90" y2="352.18" stroke="#b52a2a" stroke-width="0.9"/>
<rect x="59.60" y="348.95" width="3.40" height="3.40" fill="#b52a2a"/>
<line x1="69.90" y1="350.65" x2="69.90" y2="349.51" stroke="#b52a2a" stroke-width="0.9"/>
<line x1="68.30" y1="349.51" x2="71.50" y2="349.51" stroke="#b52a2a" stroke-width="0.9"/>
<line x1="68.30" y1="350.65" x2="71.50" y2="350.65" stroke="#b52a2a" stroke-width="0.9"/>
<rect x="68.20" y="348.38" width="3.40" height="3.40" fill="#b52a2a"/>
<line x1="78.00" y1="350.65" x2="78.00" y2="349.51" stroke="#b52a2a" stroke-width="0.9"/>
<line x1="76.40" y1="349.51" x2="79.60" y2="349.51" stroke="#b52a2a" stroke-width="0.9"/>
<line x1="76.40" y1="350.65" x2="79.60" y2="350.65" stroke="#b52a2a" stroke-width="0.9"/>
<rect x="76.30" y="348.38" width="3.40" height="3.40" fill="#b52a2a"/>
<line x1="85.80" y1="324.17" x2="85.80" y2="321.89" stroke="#b52a2a" stroke-width="0.9"/>
<line x1="84.20" y1="321.89" x2="87.40" y2="321.89" stroke="#b52a2a" stroke-width="0.9"/>
<line x1="84.20" y1="324.17" x2="87.40" y2="324.17" stroke="#b52a2a" stroke-width="0.9"/>
<rect x="84.10" y="321.33" width="3.40" height="3.40" fill="#b52a2a"/>
<line x1="94.40" y1="327.03" x2="94.40" y2="323.98" stroke="#b52a2a" stroke-width="0.9"/>
<line x1="92.80" y1="323.98" x2="96.00" y2="323.98" stroke="#b52a2a" stroke-width="0.9"/>
<line x1="92.80" y1="327.03" x2="96.00" y2="327.03" stroke="#b52a2a" stroke-width="0.9"/>
<rect x="92.70" y="323.81" width="3.40" height="3.40" fill="#b52a2a"/>
<line x1="102.60" y1="323.79" x2="102.60" y2="321.89" stroke="#b52a2a" stroke-width="0.9"/>
<line x1="101.00" y1="321.89" x2="104.20" y2="321.89" stroke="#b52a2a" stroke-width="0.9"/>
<line x1="101.00" y1="323.79" x2="104.20" y2="323.79" stroke="#b52a2a" stroke-width="0.9"/>
<rect x="100.90" y="321.14" width="3.40" height="3.40" fill="#b52a2a"/>
<line x1="111.10" y1="362.08" x2="111.10" y2="360.56" stroke="#b52a2a" stroke-width="0.9"/>
<line x1="109.50" y1="360.56" x2="112.70" y2="360.56" stroke="#b52a2a" stroke-width="0.9"/>
<line x1="109.50" y1="362.08" x2="112.70" y2="362.08" stroke="#b52a2a" stroke-width="0.9"/>
<rect x="109.40" y="359.62" width="3.40" height="3.40" fill="#b52a2a"/>
<line x1="119.50" y1="363.99" x2="119.50" y2="362.85" stroke="#b52a2a" stroke-width="0.9"/>
<line x1="117.90" y1="362.85" x2="121.10" y2="362.85" stroke="#b52a2a" stroke-width="0.9"/>
<line x1="117.90" y1="363.99" x2="121.10" y2="363.99" stroke="#b52a2a" stroke-width="0.9"/>
<rect x="117.80" y="361.72" width="3.40" height="3.40" fill="#b52a2a"/>
<line x1="128.10" y1="365.51" x2="128.10" y2="364.37" stroke="#b52a2a" stroke-width="0.9"/>
<line x1="126.50" y1="364.37" x2="129.70" y2="364.37" stroke="#b52a2a" stroke-width="0.9"/>
<line x1="126.50" y1="365.51" x2="129.70" y2="365.51" stroke="#b52a2a" stroke-width="0.9"/>
<rect x="126.40" y="363.24" width="3.40" height="3.40" fill="#b52a2a"/>
<line x1="112.80" y1="315.70" x2="124.00" y2="315.70" stroke="#4ab6c4" stroke-width="1.2"/>
<circle cx="118.40" cy="315.70" r="1.75" fill="#4ab6c4"/>
<text x="127.10" y="318.20" font-size="7" text-anchor="start" fill="#222" stroke="#222" stroke-width="0.22" textLength="35.30" lengthAdjust="spacing">EPAS1-OE</text>
<line x1="112.80" y1="323.10" x2="124.00" y2="323.10" stroke="#b52a2a" stroke-width="1.2"/>
<rect x="116.70" y="321.40" width="3.40" height="3.40" fill="#b52a2a"/>
<text x="127.10" y="325.60" font-size="7" text-anchor="start" fill="#222" stroke="#222" stroke-width="0.22" textLength="35.30" lengthAdjust="spacing">EPAS1-NC</text>
<text x="54.85" y="322.30" font-size="7" text-anchor="middle" fill="#222" stroke="#222" stroke-width="0.22" textLength="16.90" lengthAdjust="spacing">Oligo</text>
<line x1="53.50" y1="325.50" x2="53.50" y2="330.30" stroke="#111" stroke-width="1.0"/>
<polygon points="53.50,334.50 51.60,330.30 55.40,330.30" fill="#111"/>
<text x="76.50" y="322.30" font-size="7" text-anchor="middle" fill="#222" stroke="#222" stroke-width="0.22" textLength="19.40" lengthAdjust="spacing">FCCP</text>
<line x1="74.60" y1="322.90" x2="76.24" y2="342.02" stroke="#111" stroke-width="1.0"/>
<polygon points="76.60,346.20 74.35,342.18 78.13,341.85" fill="#111"/>
<text x="103.15" y="308.20" font-size="7" text-anchor="middle" fill="#222" stroke="#222" stroke-width="0.22" textLength="24.50" lengthAdjust="spacing">Ant/Rot</text>
<line x1="102.60" y1="309.20" x2="102.60" y2="315.40" stroke="#111" stroke-width="1.0"/>
<polygon points="102.60,319.60 100.70,315.40 104.50,315.40" fill="#111"/>
<line x1="202.60" y1="306.90" x2="202.60" y2="384.10" stroke="#222" stroke-width="1.1"/>
<line x1="202.10" y1="383.60" x2="297.20" y2="383.60" stroke="#222" stroke-width="1.1"/>
<line x1="199.60" y1="383.60" x2="202.60" y2="383.60" stroke="#222" stroke-width="1"/>
<text x="198.30" y="386.10" font-size="7" text-anchor="end" fill="#222" stroke="#222" stroke-width="0.22">0</text>
<line x1="199.60" y1="368.36" x2="202.60" y2="368.36" stroke="#222" stroke-width="1"/>
<text x="198.30" y="370.86" font-size="7" text-anchor="end" fill="#222" stroke="#222" stroke-width="0.22">20</text>
<line x1="199.60" y1="353.12" x2="202.60" y2="353.12" stroke="#222" stroke-width="1"/>
<text x="198.30" y="355.62" font-size="7" text-anchor="end" fill="#222" stroke="#222" stroke-width="0.22">40</text>
<line x1="199.60" y1="337.88" x2="202.60" y2="337.88" stroke="#222" stroke-width="1"/>
<text x="198.30" y="340.38" font-size="7" text-anchor="end" fill="#222" stroke="#222" stroke-width="0.22">60</text>
<line x1="199.60" y1="322.64" x2="202.60" y2="322.64" stroke="#222" stroke-width="1"/>
<text x="198.30" y="325.14" font-size="7" text-anchor="end" fill="#222" stroke="#222" stroke-width="0.22">80</text>
<line x1="199.60" y1="307.40" x2="202.60" y2="307.40" stroke="#222" stroke-width="1"/>
<text x="198.30" y="309.90" font-size="7" text-anchor="end" fill="#222" stroke="#222" stroke-width="0.22">100</text>
<line x1="202.60" y1="383.60" x2="202.60" y2="386.60" stroke="#222" stroke-width="1"/>
<text x="202.60" y="393.60" font-size="7" text-anchor="middle" fill="#222" stroke="#222" stroke-width="0.22">0</text>
<line x1="227.52" y1="383.60" x2="227.52" y2="386.60" stroke="#222" stroke-width="1"/>
<text x="228.12" y="393.60" font-size="7" text-anchor="middle" fill="#222" stroke="#222" stroke-width="0.22">20</text>
<line x1="252.44" y1="383.60" x2="252.44" y2="386.60" stroke="#222" stroke-width="1"/>
<text x="253.04" y="393.60" font-size="7" text-anchor="middle" fill="#222" stroke="#222" stroke-width="0.22">40</text>
<line x1="277.36" y1="383.60" x2="277.36" y2="386.60" stroke="#222" stroke-width="1"/>
<text x="277.96" y="393.60" font-size="7" text-anchor="middle" fill="#222" stroke="#222" stroke-width="0.22">60</text>
<text x="302.88" y="393.60" font-size="7" text-anchor="middle" fill="#222" stroke="#222" stroke-width="0.22">80</text>
<text x="248.70" y="403.80" font-size="7" text-anchor="middle" font-weight="bold" fill="#222" stroke="#222" stroke-width="0.1" textLength="53.00" lengthAdjust="spacing">Time ( minutes )</text>
<text x="179.80" y="348.20" font-size="7" text-anchor="middle" font-weight="bold" stroke="#1a1a1a" stroke-width="0.22" transform="rotate(-90 179.80 348.20)" textLength="57.00" lengthAdjust="spacing">ECAR(mpH/min)</text>
<polyline points="203.40,368.13 212.00,365.62 220.10,365.01 228.10,345.20 236.50,344.20 244.70,344.20 252.80,329.88 261.00,331.48 269.20,331.48 277.40,365.24 285.50,365.24 293.70,365.24" fill="none" stroke="#4ab6c4" stroke-width="1.2" stroke-linejoin="round"/>
<line x1="203.40" y1="368.89" x2="203.40" y2="367.37" stroke="#4ab6c4" stroke-width="0.9"/>
<line x1="201.80" y1="367.37" x2="205.00" y2="367.37" stroke="#4ab6c4" stroke-width="0.9"/>
<line x1="201.80" y1="368.89" x2="205.00" y2="368.89" stroke="#4ab6c4" stroke-width="0.9"/>
<circle cx="203.40" cy="368.13" r="1.75" fill="#4ab6c4"/>
<line x1="212.00" y1="366.38" x2="212.00" y2="364.85" stroke="#4ab6c4" stroke-width="0.9"/>
<line x1="210.40" y1="364.85" x2="213.60" y2="364.85" stroke="#4ab6c4" stroke-width="0.9"/>
<line x1="210.40" y1="366.38" x2="213.60" y2="366.38" stroke="#4ab6c4" stroke-width="0.9"/>
<circle cx="212.00" cy="365.62" r="1.75" fill="#4ab6c4"/>
<line x1="220.10" y1="365.77" x2="220.10" y2="364.25" stroke="#4ab6c4" stroke-width="0.9"/>
<line x1="218.50" y1="364.25" x2="221.70" y2="364.25" stroke="#4ab6c4" stroke-width="0.9"/>
<line x1="218.50" y1="365.77" x2="221.70" y2="365.77" stroke="#4ab6c4" stroke-width="0.9"/>
<circle cx="220.10" cy="365.01" r="1.75" fill="#4ab6c4"/>
<line x1="228.10" y1="347.48" x2="228.10" y2="342.91" stroke="#4ab6c4" stroke-width="0.9"/>
<line x1="226.50" y1="342.91" x2="229.70" y2="342.91" stroke="#4ab6c4" stroke-width="0.9"/>
<line x1="226.50" y1="347.48" x2="229.70" y2="347.48" stroke="#4ab6c4" stroke-width="0.9"/>
<circle cx="228.10" cy="345.20" r="1.75" fill="#4ab6c4"/>
<line x1="236.50" y1="345.73" x2="236.50" y2="342.68" stroke="#4ab6c4" stroke-width="0.9"/>
<line x1="234.90" y1="342.68" x2="238.10" y2="342.68" stroke="#4ab6c4" stroke-width="0.9"/>
<line x1="234.90" y1="345.73" x2="238.10" y2="345.73" stroke="#4ab6c4" stroke-width="0.9"/>
<circle cx="236.50" cy="344.20" r="1.75" fill="#4ab6c4"/>
<line x1="244.70" y1="345.73" x2="244.70" y2="342.68" stroke="#4ab6c4" stroke-width="0.9"/>
<line x1="243.10" y1="342.68" x2="246.30" y2="342.68" stroke="#4ab6c4" stroke-width="0.9"/>
<line x1="243.10" y1="345.73" x2="246.30" y2="345.73" stroke="#4ab6c4" stroke-width="0.9"/>
<circle cx="244.70" cy="344.20" r="1.75" fill="#4ab6c4"/>
<line x1="252.80" y1="334.45" x2="252.80" y2="325.31" stroke="#4ab6c4" stroke-width="0.9"/>
<line x1="251.20" y1="325.31" x2="254.40" y2="325.31" stroke="#4ab6c4" stroke-width="0.9"/>
<line x1="251.20" y1="334.45" x2="254.40" y2="334.45" stroke="#4ab6c4" stroke-width="0.9"/>
<circle cx="252.80" cy="329.88" r="1.75" fill="#4ab6c4"/>
<line x1="261.00" y1="336.05" x2="261.00" y2="326.91" stroke="#4ab6c4" stroke-width="0.9"/>
<line x1="259.40" y1="326.91" x2="262.60" y2="326.91" stroke="#4ab6c4" stroke-width="0.9"/>
<line x1="259.40" y1="336.05" x2="262.60" y2="336.05" stroke="#4ab6c4" stroke-width="0.9"/>
<circle cx="261.00" cy="331.48" r="1.75" fill="#4ab6c4"/>
<line x1="269.20" y1="334.53" x2="269.20" y2="328.43" stroke="#4ab6c4" stroke-width="0.9"/>
<line x1="267.60" y1="328.43" x2="270.80" y2="328.43" stroke="#4ab6c4" stroke-width="0.9"/>
<line x1="267.60" y1="334.53" x2="270.80" y2="334.53" stroke="#4ab6c4" stroke-width="0.9"/>
<circle cx="269.20" cy="331.48" r="1.75" fill="#4ab6c4"/>
<line x1="277.40" y1="366.00" x2="277.40" y2="364.47" stroke="#4ab6c4" stroke-width="0.9"/>
<line x1="275.80" y1="364.47" x2="279.00" y2="364.47" stroke="#4ab6c4" stroke-width="0.9"/>
<line x1="275.80" y1="366.00" x2="279.00" y2="366.00" stroke="#4ab6c4" stroke-width="0.9"/>
<circle cx="277.40" cy="365.24" r="1.75" fill="#4ab6c4"/>
<line x1="285.50" y1="366.00" x2="285.50" y2="364.47" stroke="#4ab6c4" stroke-width="0.9"/>
<line x1="283.90" y1="364.47" x2="287.10" y2="364.47" stroke="#4ab6c4" stroke-width="0.9"/>
<line x1="283.90" y1="366.00" x2="287.10" y2="366.00" stroke="#4ab6c4" stroke-width="0.9"/>
<circle cx="285.50" cy="365.24" r="1.75" fill="#4ab6c4"/>
<line x1="293.70" y1="366.00" x2="293.70" y2="364.47" stroke="#4ab6c4" stroke-width="0.9"/>
<line x1="292.10" y1="364.47" x2="295.30" y2="364.47" stroke="#4ab6c4" stroke-width="0.9"/>
<line x1="292.10" y1="366.00" x2="295.30" y2="366.00" stroke="#4ab6c4" stroke-width="0.9"/>
<circle cx="293.70" cy="365.24" r="1.75" fill="#4ab6c4"/>
<polyline points="203.40,365.24 212.00,364.55 220.10,363.64 228.10,355.02 236.50,353.42 244.70,351.90 252.80,342.07 261.00,344.20 269.20,344.20 277.40,364.55 285.50,364.02 293.70,364.55" fill="none" stroke="#b52a2a" stroke-width="1.2" stroke-linejoin="round"/>
<line x1="203.40" y1="366.00" x2="203.40" y2="364.47" stroke="#b52a2a" stroke-width="0.9"/>
<line x1="201.80" y1="364.47" x2="205.00" y2="364.47" stroke="#b52a2a" stroke-width="0.9"/>
<line x1="201.80" y1="366.00" x2="205.00" y2="366.00" stroke="#b52a2a" stroke-width="0.9"/>
<rect x="201.70" y="363.54" width="3.40" height="3.40" fill="#b52a2a"/>
<line x1="212.00" y1="365.31" x2="212.00" y2="363.79" stroke="#b52a2a" stroke-width="0.9"/>
<line x1="210.40" y1="363.79" x2="213.60" y2="363.79" stroke="#b52a2a" stroke-width="0.9"/>
<line x1="210.40" y1="365.31" x2="213.60" y2="365.31" stroke="#b52a2a" stroke-width="0.9"/>
<rect x="210.30" y="362.85" width="3.40" height="3.40" fill="#b52a2a"/>
<line x1="220.10" y1="364.40" x2="220.10" y2="362.87" stroke="#b52a2a" stroke-width="0.9"/>
<line x1="218.50" y1="362.87" x2="221.70" y2="362.87" stroke="#b52a2a" stroke-width="0.9"/>
<line x1="218.50" y1="364.40" x2="221.70" y2="364.40" stroke="#b52a2a" stroke-width="0.9"/>
<rect x="218.40" y="361.94" width="3.40" height="3.40" fill="#b52a2a"/>
<line x1="228.10" y1="357.31" x2="228.10" y2="352.74" stroke="#b52a2a" stroke-width="0.9"/>
<line x1="226.50" y1="352.74" x2="229.70" y2="352.74" stroke="#b52a2a" stroke-width="0.9"/>
<line x1="226.50" y1="357.31" x2="229.70" y2="357.31" stroke="#b52a2a" stroke-width="0.9"/>
<rect x="226.40" y="353.32" width="3.40" height="3.40" fill="#b52a2a"/>
<line x1="236.50" y1="354.19" x2="236.50" y2="352.66" stroke="#b52a2a" stroke-width="0.9"/>
<line x1="234.90" y1="352.66" x2="238.10" y2="352.66" stroke="#b52a2a" stroke-width="0.9"/>
<line x1="234.90" y1="354.19" x2="238.10" y2="354.19" stroke="#b52a2a" stroke-width="0.9"/>
<rect x="234.80" y="351.72" width="3.40" height="3.40" fill="#b52a2a"/>
<line x1="244.70" y1="353.42" x2="244.70" y2="350.38" stroke="#b52a2a" stroke-width="0.9"/>
<line x1="243.10" y1="350.38" x2="246.30" y2="350.38" stroke="#b52a2a" stroke-width="0.9"/>
<line x1="243.10" y1="353.42" x2="246.30" y2="353.42" stroke="#b52a2a" stroke-width="0.9"/>
<rect x="243.00" y="350.20" width="3.40" height="3.40" fill="#b52a2a"/>
<line x1="252.80" y1="342.83" x2="252.80" y2="341.31" stroke="#b52a2a" stroke-width="0.9"/>
<line x1="251.20" y1="341.31" x2="254.40" y2="341.31" stroke="#b52a2a" stroke-width="0.9"/>
<line x1="251.20" y1="342.83" x2="254.40" y2="342.83" stroke="#b52a2a" stroke-width="0.9"/>
<rect x="251.10" y="340.37" width="3.40" height="3.40" fill="#b52a2a"/>
<line x1="261.00" y1="344.97" x2="261.00" y2="343.44" stroke="#b52a2a" stroke-width="0.9"/>
<line x1="259.40" y1="343.44" x2="262.60" y2="343.44" stroke="#b52a2a" stroke-width="0.9"/>
<line x1="259.40" y1="344.97" x2="262.60" y2="344.97" stroke="#b52a2a" stroke-width="0.9"/>
<rect x="259.30" y="342.50" width="3.40" height="3.40" fill="#b52a2a"/>
<line x1="269.20" y1="344.97" x2="269.20" y2="343.44" stroke="#b52a2a" stroke-width="0.9"/>
<line x1="267.60" y1="343.44" x2="270.80" y2="343.44" stroke="#b52a2a" stroke-width="0.9"/>
<line x1="267.60" y1="344.97" x2="270.80" y2="344.97" stroke="#b52a2a" stroke-width="0.9"/>
<rect x="267.50" y="342.50" width="3.40" height="3.40" fill="#b52a2a"/>
<line x1="277.40" y1="365.31" x2="277.40" y2="363.79" stroke="#b52a2a" stroke-width="0.9"/>
<line x1="275.80" y1="363.79" x2="279.00" y2="363.79" stroke="#b52a2a" stroke-width="0.9"/>
<line x1="275.80" y1="365.31" x2="279.00" y2="365.31" stroke="#b52a2a" stroke-width="0.9"/>
<rect x="275.70" y="362.85" width="3.40" height="3.40" fill="#b52a2a"/>
<line x1="285.50" y1="364.78" x2="285.50" y2="363.25" stroke="#b52a2a" stroke-width="0.9"/>
<line x1="283.90" y1="363.25" x2="287.10" y2="363.25" stroke="#b52a2a" stroke-width="0.9"/>
<line x1="283.90" y1="364.78" x2="287.10" y2="364.78" stroke="#b52a2a" stroke-width="0.9"/>
<rect x="283.80" y="362.32" width="3.40" height="3.40" fill="#b52a2a"/>
<line x1="293.70" y1="365.31" x2="293.70" y2="363.79" stroke="#b52a2a" stroke-width="0.9"/>
<line x1="292.10" y1="363.79" x2="295.30" y2="363.79" stroke="#b52a2a" stroke-width="0.9"/>
<line x1="292.10" y1="365.31" x2="295.30" y2="365.31" stroke="#b52a2a" stroke-width="0.9"/>
<rect x="292.00" y="362.85" width="3.40" height="3.40" fill="#b52a2a"/>
<line x1="273.70" y1="324.30" x2="284.90" y2="324.30" stroke="#4ab6c4" stroke-width="1.2"/>
<circle cx="279.30" cy="324.30" r="1.75" fill="#4ab6c4"/>
<text x="287.40" y="326.80" font-size="7" text-anchor="start" fill="#222" stroke="#222" stroke-width="0.22" textLength="36.80" lengthAdjust="spacing">EPAS1-NC</text>
<line x1="273.70" y1="331.50" x2="284.90" y2="331.50" stroke="#b52a2a" stroke-width="1.2"/>
<rect x="277.60" y="329.80" width="3.40" height="3.40" fill="#b52a2a"/>
<text x="287.40" y="334.00" font-size="7" text-anchor="start" fill="#222" stroke="#222" stroke-width="0.22" textLength="36.80" lengthAdjust="spacing">EPAS1-OE</text>
<text x="219.00" y="331.30" font-size="7" text-anchor="middle" fill="#222" stroke="#222" stroke-width="0.22" textLength="26.80" lengthAdjust="spacing">Glucose</text>
<line x1="214.40" y1="335.40" x2="217.49" y2="356.54" stroke="#111" stroke-width="1.0"/>
<polygon points="218.10,360.70 215.61,356.82 219.37,356.27" fill="#111"/>
<text x="242.70" y="309.90" font-size="7" text-anchor="middle" fill="#222" stroke="#222" stroke-width="0.22" textLength="17.00" lengthAdjust="spacing">Oligo</text>
<line x1="242.60" y1="311.50" x2="243.45" y2="335.00" stroke="#111" stroke-width="1.0"/>
<polygon points="243.60,339.20 241.55,335.07 245.35,334.93" fill="#111"/>
<text x="270.30" y="302.70" font-size="7" text-anchor="middle" fill="#222" stroke="#222" stroke-width="0.22" textLength="17.00" lengthAdjust="spacing">2-DG</text>
<line x1="269.00" y1="304.70" x2="269.00" y2="318.70" stroke="#111" stroke-width="1.0"/>
<polygon points="269.00,322.90 267.10,318.70 270.90,318.70" fill="#111"/>
<text x="352.80" y="141.20" font-size="12.0" text-anchor="start" font-weight="bold" fill="#000" stroke="#000" stroke-width="0.22" textLength="6.82" lengthAdjust="spacingAndGlyphs">F</text>
<g shape-rendering="crispEdges"><rect x="524.50" y="161.80" width="21.55" height="9.93" fill="#b8b0f0"/><rect x="545.75" y="161.80" width="21.55" height="9.93" fill="#a89ef0"/><rect x="567.00" y="161.80" width="21.55" height="9.93" fill="#aaa0f0"/><rect x="588.25" y="161.80" width="21.55" height="9.93" fill="#e04a38"/><rect x="609.50" y="161.80" width="21.55" height="9.93" fill="#f0f0fa"/><rect x="630.75" y="161.80" width="21.55" height="9.93" fill="#f0a898"/><rect x="524.50" y="171.43" width="21.55" height="9.93" fill="#a598ee"/><rect x="545.75" y="171.43" width="21.55" height="9.93" fill="#b8b0f0"/><rect x="567.00" y="171.43" width="21.55" height="9.93" fill="#8c80ea"/><rect x="588.25" y="171.43" width="21.55" height="9.93" fill="#ee9a88"/><rect x="609.50" y="171.43" width="21.55" height="9.93" fill="#ec9080"/><rect x="630.75" y="171.43" width="21.55" height="9.93" fill="#ee9888"/><rect x="524.50" y="181.06" width="21.55" height="9.93" fill="#a598ee"/><rect x="545.75" y="181.06" width="21.55" height="9.93" fill="#8a7eea"/><rect x="567.00" y="181.06" width="21.55" height="9.93" fill="#c0b8f2"/><rect x="588.25" y="181.06" width="21.55" height="9.93" fill="#ee9a88"/><rect x="609.50" y="181.06" width="21.55" height="9.93" fill="#f0a898"/><rect x="630.75" y="181.06" width="21.55" height="9.93" fill="#ea8470"/><rect x="524.50" y="190.68" width="21.55" height="9.93" fill="#a598ee"/><rect x="545.75" y="190.68" width="21.55" height="9.93" fill="#b0a6f0"/><rect x="567.00" y="190.68" width="21.55" height="9.93" fill="#9488ec"/><rect x="588.25" y="190.68" width="21.55" height="9.93" fill="#ee9a88"/><rect x="609.50" y="190.68" width="21.55" height="9.93" fill="#ea7a68"/><rect x="630.75" y="190.68" width="21.55" height="9.93" fill="#f0b0a0"/><rect x="524.50" y="200.31" width="21.55" height="9.93" fill="#d8d2f6"/><rect x="545.75" y="200.31" width="21.55" height="9.93" fill="#7e6ee8"/><rect x="567.00" y="200.31" width="21.55" height="9.93" fill="#a89ef0"/><rect x="588.25" y="200.31" width="21.55" height="9.93" fill="#ee9a88"/><rect x="609.50" y="200.31" width="21.55" height="9.93" fill="#ee9a88"/><rect x="630.75" y="200.31" width="21.55" height="9.93" fill="#ee9a88"/><rect x="524.50" y="209.94" width="21.55" height="9.93" fill="#a89ef0"/><rect x="545.75" y="209.94" width="21.55" height="9.93" fill="#a89ef0"/><rect x="567.00" y="209.94" width="21.55" height="9.93" fill="#a89ef0"/><rect x="588.25" y="209.94" width="21.55" height="9.93" fill="#ee9a88"/><rect x="609.50" y="209.94" width="21.55" height="9.93" fill="#f2c8bc"/><rect x="630.75" y="209.94" width="21.55" height="9.93" fill="#e66a58"/><rect x="524.50" y="219.57" width="21.55" height="9.93" fill="#b0a6f0"/><rect x="545.75" y="219.57" width="21.55" height="9.93" fill="#e8e6f8"/><rect x="567.00" y="219.57" width="21.55" height="9.93" fill="#9488ec"/><rect x="588.25" y="219.57" width="21.55" height="9.93" fill="#f4f2fa"/><rect x="609.50" y="219.57" width="21.55" height="9.93" fill="#f4d4cc"/><rect x="630.75" y="219.57" width="21.55" height="9.93" fill="#e04a38"/><rect x="524.50" y="229.20" width="21.55" height="9.93" fill="#e8e6f8"/><rect x="545.75" y="229.20" width="21.55" height="9.93" fill="#8a7eea"/><rect x="567.00" y="229.20" width="21.55" height="9.93" fill="#c8c0f2"/><rect x="588.25" y="229.20" width="21.55" height="9.93" fill="#e87462"/><rect x="609.50" y="229.20" width="21.55" height="9.93" fill="#e87462"/><rect x="630.75" y="229.20" width="21.55" height="9.93" fill="#d4ccf4"/><rect x="524.50" y="238.82" width="21.55" height="9.93" fill="#c8c0f2"/><rect x="545.75" y="238.82" width="21.55" height="9.93" fill="#f2baa8"/><rect x="567.00" y="238.82" width="21.55" height="9.93" fill="#5a4ee8"/><rect x="588.25" y="238.82" width="21.55" height="9.93" fill="#f2c0b0"/><rect x="609.50" y="238.82" width="21.55" height="9.93" fill="#ee9080"/><rect x="630.75" y="238.82" width="21.55" height="9.93" fill="#f8ecec"/><rect x="524.50" y="248.45" width="21.55" height="9.93" fill="#e4e0f8"/><rect x="545.75" y="248.45" width="21.55" height="9.93" fill="#eae8f8"/><rect x="567.00" y="248.45" width="21.55" height="9.93" fill="#dcd6f6"/><rect x="588.25" y="248.45" width="21.55" height="9.93" fill="#f6ddd6"/><rect x="609.50" y="248.45" width="21.55" height="9.93" fill="#8a7eea"/><rect x="630.75" y="248.45" width="21.55" height="9.93" fill="#e04a38"/><rect x="524.50" y="258.08" width="21.55" height="9.93" fill="#e4e0f8"/><rect x="545.75" y="258.08" width="21.55" height="9.93" fill="#5a4ee8"/><rect x="567.00" y="258.08" width="21.55" height="9.93" fill="#ea8070"/><rect x="588.25" y="258.08" width="21.55" height="9.93" fill="#d4ccf4"/><rect x="609.50" y="258.08" width="21.55" height="9.93" fill="#f2b8a8"/><rect x="630.75" y="258.08" width="21.55" height="9.93" fill="#f2b8a8"/><rect x="524.50" y="267.71" width="21.55" height="9.93" fill="#f4d4cc"/><rect x="545.75" y="267.71" width="21.55" height="9.93" fill="#8070e8"/><rect x="567.00" y="267.71" width="21.55" height="9.93" fill="#a89ef0"/><rect x="588.25" y="267.71" width="21.55" height="9.93" fill="#f6ddd6"/><rect x="609.50" y="267.71" width="21.55" height="9.93" fill="#e04a38"/><rect x="630.75" y="267.71" width="21.55" height="9.93" fill="#e4e0f8"/><rect x="524.50" y="277.34" width="21.55" height="9.93" fill="#ea8070"/><rect x="545.75" y="277.34" width="21.55" height="9.93" fill="#7e6ee8"/><rect x="567.00" y="277.34" width="21.55" height="9.93" fill="#ee9484"/><rect x="588.25" y="277.34" width="21.55" height="9.93" fill="#a090ee"/><rect x="609.50" y="277.34" width="21.55" height="9.93" fill="#ebe8f8"/><rect x="630.75" y="277.34" width="21.55" height="9.93" fill="#f4c8bc"/><rect x="524.50" y="286.96" width="21.55" height="9.93" fill="#ee9484"/><rect x="545.75" y="286.96" width="21.55" height="9.93" fill="#ee9484"/><rect x="567.00" y="286.96" width="21.55" height="9.93" fill="#ee9484"/><rect x="588.25" y="286.96" width="21.55" height="9.93" fill="#a498ee"/><rect x="609.50" y="286.96" width="21.55" height="9.93" fill="#a498ee"/><rect x="630.75" y="286.96" width="21.55" height="9.93" fill="#a498ee"/><rect x="524.50" y="296.59" width="21.55" height="9.93" fill="#bcb4f2"/><rect x="545.75" y="296.59" width="21.55" height="9.93" fill="#c0b8f2"/><rect x="567.00" y="296.59" width="21.55" height="9.93" fill="#e45440"/><rect x="588.25" y="296.59" width="21.55" height="9.93" fill="#f4cec4"/><rect x="609.50" y="296.59" width="21.55" height="9.93" fill="#f4cec4"/><rect x="630.75" y="296.59" width="21.55" height="9.93" fill="#8a7eea"/><rect x="524.50" y="306.22" width="21.55" height="9.93" fill="#f4c4b8"/><rect x="545.75" y="306.22" width="21.55" height="9.93" fill="#e04a38"/><rect x="567.00" y="306.22" width="21.55" height="9.93" fill="#b8b0f0"/><rect x="588.25" y="306.22" width="21.55" height="9.93" fill="#e8e6f8"/><rect x="609.50" y="306.22" width="21.55" height="9.93" fill="#a89ef0"/><rect x="630.75" y="306.22" width="21.55" height="9.93" fill="#ccc4f4"/><rect x="524.50" y="315.85" width="21.55" height="9.93" fill="#e66a58"/><rect x="545.75" y="315.85" width="21.55" height="9.93" fill="#f4c0b4"/><rect x="567.00" y="315.85" width="21.55" height="9.93" fill="#f0b0a0"/><rect x="588.25" y="315.85" width="21.55" height="9.93" fill="#c8c0f2"/><rect x="609.50" y="315.85" width="21.55" height="9.93" fill="#7a6ce8"/><rect x="630.75" y="315.85" width="21.55" height="9.93" fill="#ccc4f4"/><rect x="524.50" y="325.48" width="21.55" height="9.93" fill="#ee9a88"/><rect x="545.75" y="325.48" width="21.55" height="9.93" fill="#f0a898"/><rect x="567.00" y="325.48" width="21.55" height="9.93" fill="#ee9484"/><rect x="588.25" y="325.48" width="21.55" height="9.93" fill="#aaa0f0"/><rect x="609.50" y="325.48" width="21.55" height="9.93" fill="#7a6ce8"/><rect x="630.75" y="325.48" width="21.55" height="9.93" fill="#e4e0f8"/><rect x="524.50" y="335.10" width="21.55" height="9.93" fill="#f0b0a0"/><rect x="545.75" y="335.10" width="21.55" height="9.93" fill="#d8d2f6"/><rect x="567.00" y="335.10" width="21.55" height="9.93" fill="#e04a38"/><rect x="588.25" y="335.10" width="21.55" height="9.93" fill="#bcb4f2"/><rect x="609.50" y="335.10" width="21.55" height="9.93" fill="#b4aaf0"/><rect x="630.75" y="335.10" width="21.55" height="9.93" fill="#c4bcf2"/><rect x="524.50" y="344.73" width="21.55" height="9.93" fill="#ee9484"/><rect x="545.75" y="344.73" width="21.55" height="9.93" fill="#e87462"/><rect x="567.00" y="344.73" width="21.55" height="9.93" fill="#f4c4b8"/><rect x="588.25" y="344.73" width="21.55" height="9.93" fill="#aaa0f0"/><rect x="609.50" y="344.73" width="21.55" height="9.93" fill="#9e94ee"/><rect x="630.75" y="344.73" width="21.55" height="9.93" fill="#b4aaf0"/><rect x="524.50" y="354.36" width="21.55" height="9.93" fill="#f0a898"/><rect x="545.75" y="354.36" width="21.55" height="9.93" fill="#e87462"/><rect x="567.00" y="354.36" width="21.55" height="9.93" fill="#f8e4de"/><rect x="588.25" y="354.36" width="21.55" height="9.93" fill="#aea4f0"/><rect x="609.50" y="354.36" width="21.55" height="9.93" fill="#5e50e8"/><rect x="630.75" y="354.36" width="21.55" height="9.93" fill="#faf0f0"/><rect x="524.50" y="363.99" width="21.55" height="9.93" fill="#e87462"/><rect x="545.75" y="363.99" width="21.55" height="9.93" fill="#f0b8a8"/><rect x="567.00" y="363.99" width="21.55" height="9.93" fill="#ee9a88"/><rect x="588.25" y="363.99" width="21.55" height="9.93" fill="#a89ef0"/><rect x="609.50" y="363.99" width="21.55" height="9.93" fill="#a89ef0"/><rect x="630.75" y="363.99" width="21.55" height="9.93" fill="#a496ee"/><rect x="524.50" y="373.62" width="21.55" height="9.93" fill="#ee9484"/><rect x="545.75" y="373.62" width="21.55" height="9.93" fill="#ea7e6c"/><rect x="567.00" y="373.62" width="21.55" height="9.93" fill="#f0b0a0"/><rect x="588.25" y="373.62" width="21.55" height="9.93" fill="#9e94ee"/><rect x="609.50" y="373.62" width="21.55" height="9.93" fill="#a498ee"/><rect x="630.75" y="373.62" width="21.55" height="9.93" fill="#bcb4f2"/><rect x="524.50" y="383.24" width="21.55" height="9.93" fill="#ee9a88"/><rect x="545.75" y="383.24" width="21.55" height="9.93" fill="#ea8070"/><rect x="567.00" y="383.24" width="21.55" height="9.93" fill="#f0ab9b"/><rect x="588.25" y="383.24" width="21.55" height="9.93" fill="#a89ef0"/><rect x="609.50" y="383.24" width="21.55" height="9.93" fill="#a89ef0"/><rect x="630.75" y="383.24" width="21.55" height="9.93" fill="#a498ee"/><rect x="524.50" y="392.87" width="21.55" height="9.93" fill="#ee9a88"/><rect x="545.75" y="392.87" width="21.55" height="9.93" fill="#ea8070"/><rect x="567.00" y="392.87" width="21.55" height="9.93" fill="#f0ab9b"/><rect x="588.25" y="392.87" width="21.55" height="9.93" fill="#a89ef0"/><rect x="609.50" y="392.87" width="21.55" height="9.93" fill="#aca2f0"/><rect x="630.75" y="392.87" width="21.55" height="9.93" fill="#a498ee"/></g>
<text x="553.60" y="148.40" font-size="9" text-anchor="middle" font-weight="bold" stroke="#1a1a1a" stroke-width="0.22" textLength="42.40" lengthAdjust="spacing">SDHA-OE</text>
<text x="620.70" y="148.40" font-size="9" text-anchor="middle" font-weight="bold" stroke="#1a1a1a" stroke-width="0.22" textLength="42.60" lengthAdjust="spacing">SDHA-NC</text>
<rect x="526.80" y="152.60" width="57.20" height="2.00" fill="#000"/>
<rect x="587.00" y="152.60" width="64.00" height="2.00" fill="#000"/>
<defs><linearGradient id="cbF" x1="0" y1="0" x2="0" y2="1"><stop offset="0" stop-color="#e04535"/><stop offset="0.055" stop-color="#e04a38"/><stop offset="0.256" stop-color="#e8735f"/><stop offset="0.453" stop-color="#fbf8fa"/><stop offset="0.655" stop-color="#8476ea"/><stop offset="0.856" stop-color="#5244e6"/><stop offset="1" stop-color="#5040e8"/></linearGradient></defs>
<rect x="654.9" y="231.0" width="6.40" height="60.50" fill="url(#cbF)"/>
<line x1="654.90" y1="234.30" x2="656.20" y2="234.30" stroke="#fff" stroke-width="0.6"/>
<line x1="660.00" y1="234.30" x2="661.30" y2="234.30" stroke="#fff" stroke-width="0.6"/>
<text x="671.20" y="237.30" font-size="8.6" text-anchor="start" fill="#111" stroke="#111" stroke-width="0.35">2</text>
<line x1="654.90" y1="246.50" x2="656.20" y2="246.50" stroke="#fff" stroke-width="0.6"/>
<line x1="660.00" y1="246.50" x2="661.30" y2="246.50" stroke="#fff" stroke-width="0.6"/>
<text x="671.20" y="249.50" font-size="8.6" text-anchor="start" fill="#111" stroke="#111" stroke-width="0.35">1</text>
<line x1="654.90" y1="258.40" x2="656.20" y2="258.40" stroke="#fff" stroke-width="0.6"/>
<line x1="660.00" y1="258.40" x2="661.30" y2="258.40" stroke="#fff" stroke-width="0.6"/>
<text x="671.20" y="261.40" font-size="8.6" text-anchor="start" fill="#111" stroke="#111" stroke-width="0.35">0</text>
<line x1="654.90" y1="270.60" x2="656.20" y2="270.60" stroke="#fff" stroke-width="0.6"/>
<line x1="660.00" y1="270.60" x2="661.30" y2="270.60" stroke="#fff" stroke-width="0.6"/>
<text x="669.60" y="273.60" font-size="8.6" text-anchor="start" fill="#111" stroke="#111" stroke-width="0.35">-1</text>
<line x1="654.90" y1="282.80" x2="656.20" y2="282.80" stroke="#fff" stroke-width="0.6"/>
<line x1="660.00" y1="282.80" x2="661.30" y2="282.80" stroke="#fff" stroke-width="0.6"/>
<text x="669.60" y="285.80" font-size="8.6" text-anchor="start" fill="#111" stroke="#111" stroke-width="0.35">-2</text>
<text x="388.40" y="218.90" font-size="9" text-anchor="middle" font-weight="bold" stroke="#1a1a1a" stroke-width="0.22" transform="rotate(-90 388.40 218.90)" textLength="143.50" lengthAdjust="spacing">Glycolysis or Gluconeogenesis</text>
<text x="388.20" y="347.10" font-size="9" text-anchor="middle" font-weight="bold" stroke="#1a1a1a" stroke-width="0.22" transform="rotate(-90 388.20 347.10)" textLength="46.60" lengthAdjust="spacing">TCA cycle</text>
<line x1="404.30" y1="181.90" x2="404.30" y2="264.40" stroke="#000" stroke-width="1.6"/>
<line x1="404.30" y1="182.70" x2="410.30" y2="182.70" stroke="#000" stroke-width="1.6"/>
<line x1="404.30" y1="204.30" x2="410.30" y2="204.30" stroke="#000" stroke-width="1.6"/>
<line x1="404.30" y1="212.90" x2="410.30" y2="212.90" stroke="#000" stroke-width="1.6"/>
<line x1="404.30" y1="251.90" x2="410.30" y2="251.90" stroke="#000" stroke-width="1.6"/>
<line x1="404.30" y1="263.60" x2="410.30" y2="263.60" stroke="#000" stroke-width="1.6"/>
<line x1="404.30" y1="300.30" x2="404.30" y2="399.50" stroke="#000" stroke-width="1.6"/>
<line x1="404.30" y1="301.10" x2="410.30" y2="301.10" stroke="#000" stroke-width="1.6"/>
<line x1="404.30" y1="331.00" x2="410.30" y2="331.00" stroke="#000" stroke-width="1.6"/>
<line x1="404.30" y1="357.90" x2="410.30" y2="357.90" stroke="#000" stroke-width="1.6"/>
<line x1="404.30" y1="387.00" x2="410.30" y2="387.00" stroke="#000" stroke-width="1.6"/>
<line x1="404.30" y1="398.70" x2="410.30" y2="398.70" stroke="#000" stroke-width="1.6"/>
<text x="517.60" y="187.60" font-size="6.6" text-anchor="end" fill="#222" stroke="#222" stroke-width="0.22" textLength="24.10" lengthAdjust="spacing">Lactate</text>
<text x="519.00" y="207.00" font-size="6.6" text-anchor="end" fill="#222" stroke="#222" stroke-width="0.22" textLength="75.60" lengthAdjust="spacing">3-phospho-D-glycerate</text>
<text x="519.00" y="216.90" font-size="6.6" text-anchor="end" fill="#222" stroke="#222" stroke-width="0.22" textLength="103.20" lengthAdjust="spacing">Beta−D−Fructose 6−phosphate</text>
<text x="519.00" y="255.10" font-size="6.6" text-anchor="end" fill="#222" stroke="#222" stroke-width="0.22" textLength="82.10" lengthAdjust="spacing">D−Glucose 6−phosphate</text>
<text x="517.60" y="265.90" font-size="6.6" text-anchor="end" fill="#222" stroke="#222" stroke-width="0.22" textLength="79.10" lengthAdjust="spacing">Thiaminepyrophosphate</text>
<text x="517.00" y="303.40" font-size="6.6" text-anchor="end" fill="#222" stroke="#222" stroke-width="0.22" textLength="32.50" lengthAdjust="spacing">Succinate</text>
<text x="516.50" y="333.00" font-size="6.6" text-anchor="end" fill="#222" stroke="#222" stroke-width="0.22" textLength="83.50" lengthAdjust="spacing">Alpha−ketoglutarate acid</text>
<text x="515.80" y="360.20" font-size="6.6" text-anchor="end" fill="#222" stroke="#222" stroke-width="0.22" textLength="31.20" lengthAdjust="spacing">Isocitrate</text>
<text x="515.80" y="389.30" font-size="6.6" text-anchor="end" fill="#222" stroke="#222" stroke-width="0.22" textLength="23.20" lengthAdjust="spacing">Citrate</text>
<text x="515.30" y="399.90" font-size="6.6" text-anchor="end" fill="#222" stroke="#222" stroke-width="0.22" textLength="44.30" lengthAdjust="spacing">Cis-Aconitate</text>
<text x="354.60" y="423.30" font-size="12.0" text-anchor="start" font-weight="bold" fill="#000" stroke="#000" stroke-width="0.22" textLength="6.21" lengthAdjust="spacingAndGlyphs">J</text>
<g shape-rendering="crispEdges"><rect x="520.60" y="440.80" width="22.15" height="9.40" fill="#c8c0f4"/><rect x="542.45" y="440.80" width="22.15" height="9.40" fill="#a89cf0"/><rect x="564.30" y="440.80" width="22.15" height="9.40" fill="#8474e8"/><rect x="586.15" y="440.80" width="22.15" height="9.40" fill="#ee9482"/><rect x="608.00" y="440.80" width="22.15" height="9.40" fill="#f0a898"/><rect x="629.85" y="440.80" width="22.15" height="9.40" fill="#ea8270"/><rect x="520.60" y="449.90" width="22.15" height="9.40" fill="#9a8eee"/><rect x="542.45" y="449.90" width="22.15" height="9.40" fill="#a498ee"/><rect x="564.30" y="449.90" width="22.15" height="9.40" fill="#aa9ef0"/><rect x="586.15" y="449.90" width="22.15" height="9.40" fill="#ee9080"/><rect x="608.00" y="449.90" width="22.15" height="9.40" fill="#ee9888"/><rect x="629.85" y="449.90" width="22.15" height="9.40" fill="#ee9080"/><rect x="520.60" y="459.00" width="22.15" height="9.40" fill="#a498ee"/><rect x="542.45" y="459.00" width="22.15" height="9.40" fill="#aca2f0"/><rect x="564.30" y="459.00" width="22.15" height="9.40" fill="#a498ee"/><rect x="586.15" y="459.00" width="22.15" height="9.40" fill="#f4d4cc"/><rect x="608.00" y="459.00" width="22.15" height="9.40" fill="#ee9888"/><rect x="629.85" y="459.00" width="22.15" height="9.40" fill="#e45c48"/><rect x="520.60" y="468.10" width="22.15" height="9.40" fill="#5a4ee8"/><rect x="542.45" y="468.10" width="22.15" height="9.40" fill="#e4e0f8"/><rect x="564.30" y="468.10" width="22.15" height="9.40" fill="#c0b8f2"/><rect x="586.15" y="468.10" width="22.15" height="9.40" fill="#f0ab9b"/><rect x="608.00" y="468.10" width="22.15" height="9.40" fill="#ee9a88"/><rect x="629.85" y="468.10" width="22.15" height="9.40" fill="#ea8270"/><rect x="520.60" y="477.20" width="22.15" height="9.40" fill="#a498ee"/><rect x="542.45" y="477.20" width="22.15" height="9.40" fill="#6a5ce8"/><rect x="564.30" y="477.20" width="22.15" height="9.40" fill="#e4e0f8"/><rect x="586.15" y="477.20" width="22.15" height="9.40" fill="#f0a494"/><rect x="608.00" y="477.20" width="22.15" height="9.40" fill="#ee9a88"/><rect x="629.85" y="477.20" width="22.15" height="9.40" fill="#ee9080"/><rect x="520.60" y="486.30" width="22.15" height="9.40" fill="#c0b8f2"/><rect x="542.45" y="486.30" width="22.15" height="9.40" fill="#a89cf0"/><rect x="564.30" y="486.30" width="22.15" height="9.40" fill="#8474e8"/><rect x="586.15" y="486.30" width="22.15" height="9.40" fill="#f4c8bc"/><rect x="608.00" y="486.30" width="22.15" height="9.40" fill="#ee9a88"/><rect x="629.85" y="486.30" width="22.15" height="9.40" fill="#e65e4c"/><rect x="520.60" y="495.40" width="22.15" height="9.40" fill="#a094ee"/><rect x="542.45" y="495.40" width="22.15" height="9.40" fill="#a498ee"/><rect x="564.30" y="495.40" width="22.15" height="9.40" fill="#a094ee"/><rect x="586.15" y="495.40" width="22.15" height="9.40" fill="#ee9a88"/><rect x="608.00" y="495.40" width="22.15" height="9.40" fill="#ea8a78"/><rect x="629.85" y="495.40" width="22.15" height="9.40" fill="#ea8a78"/><rect x="520.60" y="504.50" width="22.15" height="9.40" fill="#a89cf0"/><rect x="542.45" y="504.50" width="22.15" height="9.40" fill="#c8c0f4"/><rect x="564.30" y="504.50" width="22.15" height="9.40" fill="#8878e8"/><rect x="586.15" y="504.50" width="22.15" height="9.40" fill="#ee9a88"/><rect x="608.00" y="504.50" width="22.15" height="9.40" fill="#f6dcd4"/><rect x="629.85" y="504.50" width="22.15" height="9.40" fill="#e45846"/><rect x="520.60" y="513.60" width="22.15" height="9.40" fill="#5a4ee8"/><rect x="542.45" y="513.60" width="22.15" height="9.40" fill="#b4aaf0"/><rect x="564.30" y="513.60" width="22.15" height="9.40" fill="#f8ece8"/><rect x="586.15" y="513.60" width="22.15" height="9.40" fill="#f0a898"/><rect x="608.00" y="513.60" width="22.15" height="9.40" fill="#f0a898"/><rect x="629.85" y="513.60" width="22.15" height="9.40" fill="#f0a898"/><rect x="520.60" y="522.70" width="22.15" height="9.40" fill="#f2c0b0"/><rect x="542.45" y="522.70" width="22.15" height="9.40" fill="#b8aef0"/><rect x="564.30" y="522.70" width="22.15" height="9.40" fill="#5a4ee8"/><rect x="586.15" y="522.70" width="22.15" height="9.40" fill="#f4c8bc"/><rect x="608.00" y="522.70" width="22.15" height="9.40" fill="#f0a898"/><rect x="629.85" y="522.70" width="22.15" height="9.40" fill="#f2b8a8"/><rect x="520.60" y="531.80" width="22.15" height="9.40" fill="#f4f2fa"/><rect x="542.45" y="531.80" width="22.15" height="9.40" fill="#b0a6f0"/><rect x="564.30" y="531.80" width="22.15" height="9.40" fill="#5a4ee8"/><rect x="586.15" y="531.80" width="22.15" height="9.40" fill="#ea8070"/><rect x="608.00" y="531.80" width="22.15" height="9.40" fill="#f0a494"/><rect x="629.85" y="531.80" width="22.15" height="9.40" fill="#f2bcae"/><rect x="520.60" y="540.90" width="22.15" height="9.40" fill="#ee9a88"/><rect x="542.45" y="540.90" width="22.15" height="9.40" fill="#f4c4b8"/><rect x="564.30" y="540.90" width="22.15" height="9.40" fill="#5a4ee8"/><rect x="586.15" y="540.90" width="22.15" height="9.40" fill="#ee9a88"/><rect x="608.00" y="540.90" width="22.15" height="9.40" fill="#f8f0f0"/><rect x="629.85" y="540.90" width="22.15" height="9.40" fill="#b8aef0"/><rect x="520.60" y="550.00" width="22.15" height="9.40" fill="#e8e6f8"/><rect x="542.45" y="550.00" width="22.15" height="9.40" fill="#aca2f0"/><rect x="564.30" y="550.00" width="22.15" height="9.40" fill="#6a5ce8"/><rect x="586.15" y="550.00" width="22.15" height="9.40" fill="#f0a494"/><rect x="608.00" y="550.00" width="22.15" height="9.40" fill="#f6e4de"/><rect x="629.85" y="550.00" width="22.15" height="9.40" fill="#e45846"/><rect x="520.60" y="559.10" width="22.15" height="9.40" fill="#f2bcae"/><rect x="542.45" y="559.10" width="22.15" height="9.40" fill="#c0b8f2"/><rect x="564.30" y="559.10" width="22.15" height="9.40" fill="#5a4ee8"/><rect x="586.15" y="559.10" width="22.15" height="9.40" fill="#f4d4cc"/><rect x="608.00" y="559.10" width="22.15" height="9.40" fill="#ee9888"/><rect x="629.85" y="559.10" width="22.15" height="9.40" fill="#f2bcae"/><rect x="520.60" y="568.20" width="22.15" height="9.40" fill="#fefefe"/><rect x="542.45" y="568.20" width="22.15" height="9.40" fill="#8a7eea"/><rect x="564.30" y="568.20" width="22.15" height="9.40" fill="#ea8070"/><rect x="586.15" y="568.20" width="22.15" height="9.40" fill="#e87462"/><rect x="608.00" y="568.20" width="22.15" height="9.40" fill="#8474e8"/><rect x="629.85" y="568.20" width="22.15" height="9.40" fill="#fefaf8"/><rect x="520.60" y="577.30" width="22.15" height="9.40" fill="#f0a898"/><rect x="542.45" y="577.30" width="22.15" height="9.40" fill="#f0a494"/><rect x="564.30" y="577.30" width="22.15" height="9.40" fill="#8474e8"/><rect x="586.15" y="577.30" width="22.15" height="9.40" fill="#e87462"/><rect x="608.00" y="577.30" width="22.15" height="9.40" fill="#e0dcf8"/><rect x="629.85" y="577.30" width="22.15" height="9.40" fill="#9a8eee"/><rect x="520.60" y="586.40" width="22.15" height="9.40" fill="#e04a38"/><rect x="542.45" y="586.40" width="22.15" height="9.40" fill="#f8e8e4"/><rect x="564.30" y="586.40" width="22.15" height="9.40" fill="#c8c0f4"/><rect x="586.15" y="586.40" width="22.15" height="9.40" fill="#fefefe"/><rect x="608.00" y="586.40" width="22.15" height="9.40" fill="#8474e8"/><rect x="629.85" y="586.40" width="22.15" height="9.40" fill="#ebe8f8"/><rect x="520.60" y="595.50" width="22.15" height="9.40" fill="#f0ab9b"/><rect x="542.45" y="595.50" width="22.15" height="9.40" fill="#f8ecea"/><rect x="564.30" y="595.50" width="22.15" height="9.40" fill="#e87462"/><rect x="586.15" y="595.50" width="22.15" height="9.40" fill="#f6ddd6"/><rect x="608.00" y="595.50" width="22.15" height="9.40" fill="#5a4ee8"/><rect x="629.85" y="595.50" width="22.15" height="9.40" fill="#b8aef0"/><rect x="520.60" y="604.60" width="22.15" height="9.40" fill="#d4ccf4"/><rect x="542.45" y="604.60" width="22.15" height="9.40" fill="#f4d4cc"/><rect x="564.30" y="604.60" width="22.15" height="9.40" fill="#e87462"/><rect x="586.15" y="604.60" width="22.15" height="9.40" fill="#ea8070"/><rect x="608.00" y="604.60" width="22.15" height="9.40" fill="#a498ee"/><rect x="629.85" y="604.60" width="22.15" height="9.40" fill="#8a7eea"/><rect x="520.60" y="613.70" width="22.15" height="9.40" fill="#e45040"/><rect x="542.45" y="613.70" width="22.15" height="9.40" fill="#ee9a88"/><rect x="564.30" y="613.70" width="22.15" height="9.40" fill="#f6ddd6"/><rect x="586.15" y="613.70" width="22.15" height="9.40" fill="#a498ee"/><rect x="608.00" y="613.70" width="22.15" height="9.40" fill="#aca2f0"/><rect x="629.85" y="613.70" width="22.15" height="9.40" fill="#a498ee"/><rect x="520.60" y="622.80" width="22.15" height="9.40" fill="#e04a38"/><rect x="542.45" y="622.80" width="22.15" height="9.40" fill="#f0a494"/><rect x="564.30" y="622.80" width="22.15" height="9.40" fill="#fefefe"/><rect x="586.15" y="622.80" width="22.15" height="9.40" fill="#9084ec"/><rect x="608.00" y="622.80" width="22.15" height="9.40" fill="#cec6f4"/><rect x="629.85" y="622.80" width="22.15" height="9.40" fill="#b0a6f0"/><rect x="520.60" y="631.90" width="22.15" height="9.40" fill="#ea8070"/><rect x="542.45" y="631.90" width="22.15" height="9.40" fill="#f0a494"/><rect x="564.30" y="631.90" width="22.15" height="9.40" fill="#ee9484"/><rect x="586.15" y="631.90" width="22.15" height="9.40" fill="#ccc4f4"/><rect x="608.00" y="631.90" width="22.15" height="9.40" fill="#a89cf0"/><rect x="629.85" y="631.90" width="22.15" height="9.40" fill="#8474e8"/><rect x="520.60" y="641.00" width="22.15" height="9.40" fill="#e45846"/><rect x="542.45" y="641.00" width="22.15" height="9.40" fill="#ee9a88"/><rect x="564.30" y="641.00" width="22.15" height="9.40" fill="#f4d4cc"/><rect x="586.15" y="641.00" width="22.15" height="9.40" fill="#9488ec"/><rect x="608.00" y="641.00" width="22.15" height="9.40" fill="#b0a6f0"/><rect x="629.85" y="641.00" width="22.15" height="9.40" fill="#b0a6f0"/><rect x="520.60" y="650.10" width="22.15" height="9.40" fill="#ea8070"/><rect x="542.45" y="650.10" width="22.15" height="9.40" fill="#ee9a88"/><rect x="564.30" y="650.10" width="22.15" height="9.40" fill="#f0b0a0"/><rect x="586.15" y="650.10" width="22.15" height="9.40" fill="#a89cf0"/><rect x="608.00" y="650.10" width="22.15" height="9.40" fill="#d4ccf4"/><rect x="629.85" y="650.10" width="22.15" height="9.40" fill="#8070e8"/><rect x="520.60" y="659.20" width="22.15" height="9.40" fill="#ea8070"/><rect x="542.45" y="659.20" width="22.15" height="9.40" fill="#ee9888"/><rect x="564.30" y="659.20" width="22.15" height="9.40" fill="#ee9a88"/><rect x="586.15" y="659.20" width="22.15" height="9.40" fill="#a89cf0"/><rect x="608.00" y="659.20" width="22.15" height="9.40" fill="#9e92ee"/><rect x="629.85" y="659.20" width="22.15" height="9.40" fill="#b0a6f0"/><rect x="520.60" y="668.30" width="22.15" height="9.40" fill="#e66a58"/><rect x="542.45" y="668.30" width="22.15" height="9.40" fill="#f2c0b4"/><rect x="564.30" y="668.30" width="22.15" height="9.40" fill="#ee9a88"/><rect x="586.15" y="668.30" width="22.15" height="9.40" fill="#a89cf0"/><rect x="608.00" y="668.30" width="22.15" height="9.40" fill="#b0a6f0"/><rect x="629.85" y="668.30" width="22.15" height="9.40" fill="#a89cf0"/><rect x="520.60" y="677.40" width="22.15" height="9.40" fill="#ee9484"/><rect x="542.45" y="677.40" width="22.15" height="9.40" fill="#e87462"/><rect x="564.30" y="677.40" width="22.15" height="9.40" fill="#f0ab9b"/><rect x="586.15" y="677.40" width="22.15" height="9.40" fill="#a89cf0"/><rect x="608.00" y="677.40" width="22.15" height="9.40" fill="#b8aef0"/><rect x="629.85" y="677.40" width="22.15" height="9.40" fill="#8a7eea"/></g>
<text x="555.00" y="431.30" font-size="9" text-anchor="middle" font-weight="bold" stroke="#1a1a1a" stroke-width="0.22" textLength="44.90" lengthAdjust="spacing">EPAS1-OE</text>
<text x="620.80" y="431.30" font-size="9" text-anchor="middle" font-weight="bold" stroke="#1a1a1a" stroke-width="0.22" textLength="45.00" lengthAdjust="spacing">EPAS1-NC</text>
<rect x="520.60" y="435.30" width="63.40" height="2.00" fill="#000"/>
<rect x="586.00" y="435.30" width="65.50" height="2.00" fill="#000"/>
<defs><linearGradient id="cbJ" x1="0" y1="0" x2="0" y2="1"><stop offset="0" stop-color="#e04535"/><stop offset="0.045" stop-color="#e04a38"/><stop offset="0.274" stop-color="#e8735f"/><stop offset="0.510" stop-color="#fbf8fa"/><stop offset="0.745" stop-color="#8476ea"/><stop offset="0.975" stop-color="#5244e6"/><stop offset="1" stop-color="#5040e8"/></linearGradient></defs>
<rect x="653.7" y="507.4" width="5.90" height="66.70" fill="url(#cbJ)"/>
<line x1="653.70" y1="510.40" x2="655.00" y2="510.40" stroke="#fff" stroke-width="0.6"/>
<line x1="658.30" y1="510.40" x2="659.60" y2="510.40" stroke="#fff" stroke-width="0.6"/>
<text x="666.20" y="513.40" font-size="8.6" text-anchor="start" fill="#111" stroke="#111" stroke-width="0.35">2</text>
<line x1="653.70" y1="525.70" x2="655.00" y2="525.70" stroke="#fff" stroke-width="0.6"/>
<line x1="658.30" y1="525.70" x2="659.60" y2="525.70" stroke="#fff" stroke-width="0.6"/>
<text x="666.20" y="528.70" font-size="8.6" text-anchor="start" fill="#111" stroke="#111" stroke-width="0.35">1</text>
<line x1="653.70" y1="541.40" x2="655.00" y2="541.40" stroke="#fff" stroke-width="0.6"/>
<line x1="658.30" y1="541.40" x2="659.60" y2="541.40" stroke="#fff" stroke-width="0.6"/>
<text x="666.20" y="544.40" font-size="8.6" text-anchor="start" fill="#111" stroke="#111" stroke-width="0.35">0</text>
<line x1="653.70" y1="557.10" x2="655.00" y2="557.10" stroke="#fff" stroke-width="0.6"/>
<line x1="658.30" y1="557.10" x2="659.60" y2="557.10" stroke="#fff" stroke-width="0.6"/>
<text x="664.60" y="560.10" font-size="8.6" text-anchor="start" fill="#111" stroke="#111" stroke-width="0.35">-1</text>
<line x1="653.70" y1="572.40" x2="655.00" y2="572.40" stroke="#fff" stroke-width="0.6"/>
<line x1="658.30" y1="572.40" x2="659.60" y2="572.40" stroke="#fff" stroke-width="0.6"/>
<text x="664.60" y="575.40" font-size="8.6" text-anchor="start" fill="#111" stroke="#111" stroke-width="0.35">-2</text>
<text x="388.70" y="501.80" font-size="9" text-anchor="middle" font-weight="bold" stroke="#1a1a1a" stroke-width="0.22" transform="rotate(-90 388.70 501.80)" textLength="147.00" lengthAdjust="spacing">Glycolysis or Gluconeogenesis</text>
<text x="388.20" y="620.70" font-size="9" text-anchor="middle" font-weight="bold" stroke="#1a1a1a" stroke-width="0.22" transform="rotate(-90 388.20 620.70)" textLength="47.30" lengthAdjust="spacing">TCA cycle</text>
<line x1="403.60" y1="443.30" x2="403.60" y2="528.20" stroke="#000" stroke-width="1.6"/>
<line x1="403.60" y1="444.10" x2="409.60" y2="444.10" stroke="#000" stroke-width="1.6"/>
<line x1="403.60" y1="455.20" x2="409.60" y2="455.20" stroke="#000" stroke-width="1.6"/>
<line x1="403.60" y1="490.60" x2="409.60" y2="490.60" stroke="#000" stroke-width="1.6"/>
<line x1="403.60" y1="500.40" x2="409.60" y2="500.40" stroke="#000" stroke-width="1.6"/>
<line x1="403.60" y1="514.30" x2="409.60" y2="514.30" stroke="#000" stroke-width="1.6"/>
<line x1="403.60" y1="527.40" x2="409.60" y2="527.40" stroke="#000" stroke-width="1.6"/>
<line x1="403.60" y1="563.40" x2="403.60" y2="674.00" stroke="#000" stroke-width="1.6"/>
<line x1="403.60" y1="564.20" x2="409.60" y2="564.20" stroke="#000" stroke-width="1.6"/>
<line x1="403.60" y1="591.00" x2="409.60" y2="591.00" stroke="#000" stroke-width="1.6"/>
<line x1="403.60" y1="636.40" x2="409.60" y2="636.40" stroke="#000" stroke-width="1.6"/>
<line x1="403.60" y1="645.60" x2="409.60" y2="645.60" stroke="#000" stroke-width="1.6"/>
<line x1="403.60" y1="654.00" x2="409.60" y2="654.00" stroke="#000" stroke-width="1.6"/>
<line x1="403.60" y1="664.50" x2="409.60" y2="664.50" stroke="#000" stroke-width="1.6"/>
<line x1="403.60" y1="673.20" x2="409.60" y2="673.20" stroke="#000" stroke-width="1.6"/>
<text x="517.30" y="446.80" font-size="6.6" text-anchor="end" fill="#222" stroke="#222" stroke-width="0.22" textLength="94.50" lengthAdjust="spacing">Dihydroxyacetone phosphate</text>
<text x="517.30" y="457.00" font-size="6.6" text-anchor="end" fill="#222" stroke="#222" stroke-width="0.22" textLength="76.80" lengthAdjust="spacing">D-Glucose-6-phosphate</text>
<text x="516.20" y="493.00" font-size="6.6" text-anchor="end" fill="#222" stroke="#222" stroke-width="0.22" textLength="84.60" lengthAdjust="spacing">3−phospho−D−glyceratate</text>
<text x="516.20" y="502.10" font-size="6.6" text-anchor="end" fill="#222" stroke="#222" stroke-width="0.22" textLength="24.00" lengthAdjust="spacing">Lactate</text>
<text x="516.80" y="519.10" font-size="6.6" text-anchor="end" fill="#222" stroke="#222" stroke-width="0.22" textLength="98.90" lengthAdjust="spacing">D−Fructose 1, 6−bisphosphate</text>
<text x="515.00" y="529.50" font-size="6.6" text-anchor="end" fill="#222" stroke="#222" stroke-width="0.22" textLength="100.40" lengthAdjust="spacing">Beta−D−Fructose 6−phosphate</text>
<text x="514.20" y="567.70" font-size="6.6" text-anchor="end" fill="#222" stroke="#222" stroke-width="0.22" textLength="80.60" lengthAdjust="spacing">Alpha−ketoglutarate acid</text>
<text x="512.70" y="595.10" font-size="6.7" text-anchor="end" stroke="#1a1a1a" stroke-width="0.3" textLength="60.40" lengthAdjust="spacing">Acetyl coenzyme A</text>
<text x="511.80" y="638.10" font-size="6.7" text-anchor="end" stroke="#1a1a1a" stroke-width="0.3" textLength="30.00" lengthAdjust="spacing">Isocitrate</text>
<text x="512.30" y="648.50" font-size="6.7" text-anchor="end" stroke="#1a1a1a" stroke-width="0.3" textLength="42.80" lengthAdjust="spacing">Oxaloacetate</text>
<text x="511.80" y="656.80" font-size="6.7" text-anchor="end" stroke="#1a1a1a" stroke-width="0.3" textLength="21.50" lengthAdjust="spacing">Citrate</text>
<text x="511.80" y="667.20" font-size="6.7" text-anchor="end" stroke="#1a1a1a" stroke-width="0.3" textLength="32.10" lengthAdjust="spacing">Succinate</text>
<text x="511.40" y="675.90" font-size="6.6" text-anchor="end" fill="#222" stroke="#222" stroke-width="0.22" textLength="43.40" lengthAdjust="spacing">Cis-Aconitate</text>
<text x="0.80" y="424.20" font-size="12.0" text-anchor="start" font-weight="bold" fill="#000" stroke="#000" stroke-width="0.22" textLength="8.68" lengthAdjust="spacingAndGlyphs">G</text>
<line x1="42.70" y1="437.30" x2="42.70" y2="535.70" stroke="#111" stroke-width="1.3"/>
<line x1="42.10" y1="535.10" x2="156.70" y2="535.10" stroke="#111" stroke-width="1.3"/>
<line x1="39.70" y1="535.10" x2="42.70" y2="535.10" stroke="#111" stroke-width="1.1"/>
<text x="37.90" y="537.70" font-size="7.3" text-anchor="end" fill="#222" stroke="#222" stroke-width="0.22">0</text>
<line x1="39.70" y1="502.67" x2="42.70" y2="502.67" stroke="#111" stroke-width="1.1"/>
<text x="37.90" y="505.27" font-size="7.3" text-anchor="end" fill="#222" stroke="#222" stroke-width="0.22">500</text>
<line x1="39.70" y1="470.23" x2="42.70" y2="470.23" stroke="#111" stroke-width="1.1"/>
<text x="37.90" y="472.83" font-size="7.3" text-anchor="end" fill="#222" stroke="#222" stroke-width="0.22">1000</text>
<line x1="39.70" y1="437.80" x2="42.70" y2="437.80" stroke="#111" stroke-width="1.1"/>
<text x="37.90" y="440.40" font-size="7.3" text-anchor="end" fill="#222" stroke="#222" stroke-width="0.22">1500</text>
<line x1="51.60" y1="535.10" x2="51.60" y2="538.10" stroke="#111" stroke-width="1.1"/>
<text x="51.60" y="551.00" font-size="7.3" text-anchor="middle" fill="#222" stroke="#222" stroke-width="0.22">12</text>
<line x1="67.90" y1="535.10" x2="67.90" y2="538.10" stroke="#111" stroke-width="1.1"/>
<text x="67.90" y="551.00" font-size="7.3" text-anchor="middle" fill="#222" stroke="#222" stroke-width="0.22">14</text>
<line x1="84.30" y1="535.10" x2="84.30" y2="538.10" stroke="#111" stroke-width="1.1"/>
<text x="84.30" y="551.00" font-size="7.3" text-anchor="middle" fill="#222" stroke="#222" stroke-width="0.22">16</text>
<line x1="100.60" y1="535.10" x2="100.60" y2="538.10" stroke="#111" stroke-width="1.1"/>
<text x="100.60" y="551.00" font-size="7.3" text-anchor="middle" fill="#222" stroke="#222" stroke-width="0.22">18</text>
<line x1="116.80" y1="535.10" x2="116.80" y2="538.10" stroke="#111" stroke-width="1.1"/>
<text x="116.80" y="551.00" font-size="7.3" text-anchor="middle" fill="#222" stroke="#222" stroke-width="0.22">20</text>
<line x1="132.60" y1="535.10" x2="132.60" y2="538.10" stroke="#111" stroke-width="1.1"/>
<text x="132.60" y="551.00" font-size="7.3" text-anchor="middle" fill="#222" stroke="#222" stroke-width="0.22">22</text>
<line x1="149.00" y1="535.10" x2="149.00" y2="538.10" stroke="#111" stroke-width="1.1"/>
<text x="149.00" y="551.00" font-size="7.3" text-anchor="middle" fill="#222" stroke="#222" stroke-width="0.22">24</text>
<text x="158.60" y="541.50" font-size="7.3" text-anchor="start" font-weight="bold" fill="#222" stroke="#222" stroke-width="0.22">Day</text>
<text x="17.50" y="477.00" font-size="7.2" text-anchor="middle" font-weight="bold" stroke="#1a1a1a" stroke-width="0.22" transform="rotate(-90 17.50 477.00)" textLength="73.60" lengthAdjust="spacing">Tumor volume ( mm<tspan dy="-2.5" font-size="4.5">3</tspan><tspan dy="2.5">)</tspan></text>
<line x1="51.60" y1="530.04" x2="51.60" y2="527.45" stroke="#45a7b3" stroke-width="0.8" opacity="0.85"/>
<line x1="49.60" y1="527.45" x2="53.60" y2="527.45" stroke="#45a7b3" stroke-width="0.8" opacity="0.85"/>
<line x1="49.60" y1="530.04" x2="53.60" y2="530.04" stroke="#45a7b3" stroke-width="0.8" opacity="0.85"/>
<line x1="67.90" y1="525.56" x2="67.90" y2="516.48" stroke="#45a7b3" stroke-width="0.8" opacity="0.85"/>
<line x1="65.90" y1="516.48" x2="69.90" y2="516.48" stroke="#45a7b3" stroke-width="0.8" opacity="0.85"/>
<line x1="65.90" y1="525.56" x2="69.90" y2="525.56" stroke="#45a7b3" stroke-width="0.8" opacity="0.85"/>
<line x1="84.30" y1="518.49" x2="84.30" y2="508.76" stroke="#45a7b3" stroke-width="0.8" opacity="0.85"/>
<line x1="82.30" y1="508.76" x2="86.30" y2="508.76" stroke="#45a7b3" stroke-width="0.8" opacity="0.85"/>
<line x1="82.30" y1="518.49" x2="86.30" y2="518.49" stroke="#45a7b3" stroke-width="0.8" opacity="0.85"/>
<line x1="100.60" y1="513.76" x2="100.60" y2="496.24" stroke="#45a7b3" stroke-width="0.8" opacity="0.85"/>
<line x1="98.60" y1="496.24" x2="102.60" y2="496.24" stroke="#45a7b3" stroke-width="0.8" opacity="0.85"/>
<line x1="98.60" y1="513.76" x2="102.60" y2="513.76" stroke="#45a7b3" stroke-width="0.8" opacity="0.85"/>
<line x1="116.80" y1="507.53" x2="116.80" y2="477.69" stroke="#45a7b3" stroke-width="0.8" opacity="0.85"/>
<line x1="114.80" y1="477.69" x2="118.80" y2="477.69" stroke="#45a7b3" stroke-width="0.8" opacity="0.85"/>
<line x1="114.80" y1="507.53" x2="118.80" y2="507.53" stroke="#45a7b3" stroke-width="0.8" opacity="0.85"/>
<line x1="132.60" y1="493.26" x2="132.60" y2="456.29" stroke="#45a7b3" stroke-width="0.8" opacity="0.85"/>
<line x1="130.60" y1="456.29" x2="134.60" y2="456.29" stroke="#45a7b3" stroke-width="0.8" opacity="0.85"/>
<line x1="130.60" y1="493.26" x2="134.60" y2="493.26" stroke="#45a7b3" stroke-width="0.8" opacity="0.85"/>
<line x1="149.00" y1="472.76" x2="149.00" y2="450.71" stroke="#45a7b3" stroke-width="0.8" opacity="0.85"/>
<line x1="147.00" y1="450.71" x2="151.00" y2="450.71" stroke="#45a7b3" stroke-width="0.8" opacity="0.85"/>
<line x1="147.00" y1="472.76" x2="151.00" y2="472.76" stroke="#45a7b3" stroke-width="0.8" opacity="0.85"/>
<polyline points="51.60,528.74 67.90,521.02 84.30,513.63 100.60,505.00 116.80,492.61 132.60,474.77 149.00,461.74" fill="none" stroke="#45a7b3" stroke-width="1.3" stroke-linejoin="round"/>
<rect x="49.70" y="526.84" width="3.80" height="3.80" fill="#45a7b3"/>
<rect x="66.00" y="519.12" width="3.80" height="3.80" fill="#45a7b3"/>
<rect x="82.40" y="511.73" width="3.80" height="3.80" fill="#45a7b3"/>
<rect x="98.70" y="503.10" width="3.80" height="3.80" fill="#45a7b3"/>
<rect x="114.90" y="490.71" width="3.80" height="3.80" fill="#45a7b3"/>
<rect x="130.70" y="472.87" width="3.80" height="3.80" fill="#45a7b3"/>
<rect x="147.10" y="459.84" width="3.80" height="3.80" fill="#45a7b3"/>
<line x1="51.60" y1="533.09" x2="51.60" y2="531.53" stroke="#ff2a2a" stroke-width="0.8" opacity="0.85"/>
<line x1="49.60" y1="531.53" x2="53.60" y2="531.53" stroke="#ff2a2a" stroke-width="0.8" opacity="0.85"/>
<line x1="49.60" y1="533.09" x2="53.60" y2="533.09" stroke="#ff2a2a" stroke-width="0.8" opacity="0.85"/>
<line x1="67.90" y1="529.33" x2="67.90" y2="527.38" stroke="#ff2a2a" stroke-width="0.8" opacity="0.85"/>
<line x1="65.90" y1="527.38" x2="69.90" y2="527.38" stroke="#ff2a2a" stroke-width="0.8" opacity="0.85"/>
<line x1="65.90" y1="529.33" x2="69.90" y2="529.33" stroke="#ff2a2a" stroke-width="0.8" opacity="0.85"/>
<line x1="84.30" y1="528.09" x2="84.30" y2="526.15" stroke="#ff2a2a" stroke-width="0.8" opacity="0.85"/>
<line x1="82.30" y1="526.15" x2="86.30" y2="526.15" stroke="#ff2a2a" stroke-width="0.8" opacity="0.85"/>
<line x1="82.30" y1="528.09" x2="86.30" y2="528.09" stroke="#ff2a2a" stroke-width="0.8" opacity="0.85"/>
<line x1="100.60" y1="525.43" x2="100.60" y2="522.84" stroke="#ff2a2a" stroke-width="0.8" opacity="0.85"/>
<line x1="98.60" y1="522.84" x2="102.60" y2="522.84" stroke="#ff2a2a" stroke-width="0.8" opacity="0.85"/>
<line x1="98.60" y1="525.43" x2="102.60" y2="525.43" stroke="#ff2a2a" stroke-width="0.8" opacity="0.85"/>
<line x1="116.80" y1="522.13" x2="116.80" y2="518.23" stroke="#ff2a2a" stroke-width="0.8" opacity="0.85"/>
<line x1="114.80" y1="518.23" x2="118.80" y2="518.23" stroke="#ff2a2a" stroke-width="0.8" opacity="0.85"/>
<line x1="114.80" y1="522.13" x2="118.80" y2="522.13" stroke="#ff2a2a" stroke-width="0.8" opacity="0.85"/>
<line x1="132.60" y1="517.00" x2="132.60" y2="511.16" stroke="#ff2a2a" stroke-width="0.8" opacity="0.85"/>
<line x1="130.60" y1="511.16" x2="134.60" y2="511.16" stroke="#ff2a2a" stroke-width="0.8" opacity="0.85"/>
<line x1="130.60" y1="517.00" x2="134.60" y2="517.00" stroke="#ff2a2a" stroke-width="0.8" opacity="0.85"/>
<line x1="149.00" y1="503.96" x2="149.00" y2="491.64" stroke="#ff2a2a" stroke-width="0.8" opacity="0.85"/>
<line x1="147.00" y1="491.64" x2="151.00" y2="491.64" stroke="#ff2a2a" stroke-width="0.8" opacity="0.85"/>
<line x1="147.00" y1="503.96" x2="151.00" y2="503.96" stroke="#ff2a2a" stroke-width="0.8" opacity="0.85"/>
<polyline points="51.60,532.31 67.90,528.35 84.30,527.12 100.60,524.14 116.80,520.18 132.60,514.08 149.00,497.80" fill="none" stroke="#ff2a2a" stroke-width="1.3" stroke-linejoin="round"/>
<circle cx="51.60" cy="532.31" r="2.0" fill="#ff2a2a"/>
<circle cx="67.90" cy="528.35" r="2.0" fill="#ff2a2a"/>
<circle cx="84.30" cy="527.12" r="2.0" fill="#ff2a2a"/>
<circle cx="100.60" cy="524.14" r="2.0" fill="#ff2a2a"/>
<circle cx="116.80" cy="520.18" r="2.0" fill="#ff2a2a"/>
<circle cx="132.60" cy="514.08" r="2.0" fill="#ff2a2a"/>
<circle cx="149.00" cy="497.80" r="2.0" fill="#ff2a2a"/>
<text x="100.60" y="495.86" font-size="7.6" text-anchor="middle" fill="#333" stroke="#333" stroke-width="0.3">*</text>
<text x="115.00" y="477.16" font-size="7.6" text-anchor="middle" fill="#333" stroke="#333" stroke-width="0.3">*</text>
<text x="118.60" y="477.16" font-size="7.6" text-anchor="middle" fill="#333" stroke="#333" stroke-width="0.3">*</text>
<text x="129.00" y="456.86" font-size="7.6" text-anchor="middle" fill="#333" stroke="#333" stroke-width="0.3">*</text>
<text x="132.60" y="456.86" font-size="7.6" text-anchor="middle" fill="#333" stroke="#333" stroke-width="0.3">*</text>
<text x="136.20" y="456.86" font-size="7.6" text-anchor="middle" fill="#333" stroke="#333" stroke-width="0.3">*</text>
<text x="143.60" y="451.96" font-size="7.6" text-anchor="middle" fill="#333" stroke="#333" stroke-width="0.3">*</text>
<text x="147.20" y="451.96" font-size="7.6" text-anchor="middle" fill="#333" stroke="#333" stroke-width="0.3">*</text>
<text x="150.80" y="451.96" font-size="7.6" text-anchor="middle" fill="#333" stroke="#333" stroke-width="0.3">*</text>
<text x="154.40" y="451.96" font-size="7.6" text-anchor="middle" fill="#333" stroke="#333" stroke-width="0.3">*</text>
<line x1="49.20" y1="446.70" x2="57.90" y2="446.70" stroke="#ff2a2a" stroke-width="1.3"/>
<circle cx="53.55" cy="446.70" r="1.9" fill="#ff2a2a"/>
<text x="60.20" y="449.30" font-size="7.3" text-anchor="start" fill="#222" stroke="#222" stroke-width="0.22" textLength="36.20" lengthAdjust="spacing">EPAS1-OE</text>
<line x1="49.20" y1="460.50" x2="57.90" y2="460.50" stroke="#45a7b3" stroke-width="1.3"/>
<rect x="51.65" y="458.60" width="3.80" height="3.80" fill="#45a7b3"/>
<text x="60.20" y="463.10" font-size="7.3" text-anchor="start" fill="#222" stroke="#222" stroke-width="0.22" textLength="11.00" lengthAdjust="spacing">NC</text>
<text x="166.80" y="424.20" font-size="12.0" text-anchor="start" font-weight="bold" fill="#000" stroke="#000" stroke-width="0.22" textLength="8.06" lengthAdjust="spacingAndGlyphs">H</text>
<line x1="216.10" y1="444.40" x2="216.10" y2="535.70" stroke="#111" stroke-width="1.3"/>
<line x1="215.50" y1="535.10" x2="319.70" y2="535.10" stroke="#111" stroke-width="1.3"/>
<line x1="213.10" y1="535.10" x2="216.10" y2="535.10" stroke="#111" stroke-width="1.1"/>
<text x="211.50" y="537.70" font-size="7.3" text-anchor="end" fill="#222" stroke="#222" stroke-width="0.22">0</text>
<line x1="213.10" y1="512.55" x2="216.10" y2="512.55" stroke="#111" stroke-width="1.1"/>
<text x="211.50" y="515.15" font-size="7.3" text-anchor="end" fill="#222" stroke="#222" stroke-width="0.22">0.5</text>
<line x1="213.10" y1="490.00" x2="216.10" y2="490.00" stroke="#111" stroke-width="1.1"/>
<text x="211.50" y="492.60" font-size="7.3" text-anchor="end" fill="#222" stroke="#222" stroke-width="0.22">1.0</text>
<line x1="213.10" y1="467.45" x2="216.10" y2="467.45" stroke="#111" stroke-width="1.1"/>
<text x="211.50" y="470.05" font-size="7.3" text-anchor="end" fill="#222" stroke="#222" stroke-width="0.22">1.5</text>
<line x1="213.10" y1="444.90" x2="216.10" y2="444.90" stroke="#111" stroke-width="1.1"/>
<text x="211.50" y="447.50" font-size="7.3" text-anchor="end" fill="#222" stroke="#222" stroke-width="0.22">2.0</text>
<line x1="246.10" y1="535.10" x2="246.10" y2="538.60" stroke="#111" stroke-width="1.1"/>
<line x1="290.60" y1="535.10" x2="290.60" y2="538.60" stroke="#111" stroke-width="1.1"/>
<text x="246.10" y="550.80" font-size="7.3" text-anchor="middle" font-weight="bold" fill="#222" stroke="#222" stroke-width="0.22">NC</text>
<text x="292.40" y="550.80" font-size="7.3" text-anchor="middle" font-weight="bold" fill="#222" stroke="#222" stroke-width="0.22" textLength="35.70" lengthAdjust="spacing">EPAS1-OE</text>
<text x="188.40" y="484.20" font-size="7" text-anchor="middle" font-weight="bold" stroke="#1a1a1a" stroke-width="0.22" transform="rotate(-90 188.40 484.20)" textLength="62.40" lengthAdjust="spacing">Tumor weight ( g )</text>
<circle cx="246.10" cy="453.92" r="1.9" fill="#3aa9b9"/>
<circle cx="246.10" cy="458.43" r="1.9" fill="#3aa9b9"/>
<circle cx="246.10" cy="461.14" r="1.9" fill="#3aa9b9"/>
<circle cx="246.10" cy="462.94" r="1.9" fill="#3aa9b9"/>
<circle cx="246.10" cy="480.98" r="1.9" fill="#3aa9b9"/>
<circle cx="290.60" cy="471.96" r="1.9" fill="#ff2020"/>
<circle cx="290.60" cy="485.49" r="1.9" fill="#ff2020"/>
<circle cx="290.60" cy="508.04" r="1.9" fill="#ff2020"/>
<circle cx="290.60" cy="517.06" r="1.9" fill="#ff2020"/>
<line x1="231.50" y1="460.69" x2="261.00" y2="460.69" stroke="#6e6e6e" stroke-width="1.3"/>
<line x1="276.30" y1="496.76" x2="305.50" y2="496.76" stroke="#6e6e6e" stroke-width="1.3"/>
<line x1="246.30" y1="444.90" x2="292.10" y2="444.90" stroke="#111" stroke-width="1.5"/>
<text x="270.00" y="444.72" font-size="8.6" text-anchor="middle" fill="#222" stroke="#222" stroke-width="0.3">*</text>
<text x="274.00" y="444.72" font-size="8.6" text-anchor="middle" fill="#222" stroke="#222" stroke-width="0.3">*</text>
<text x="1.00" y="568.30" font-size="11.5" text-anchor="start" font-weight="bold" fill="#000" stroke="#000" stroke-width="0.22">I</text>
<defs><filter id="bl" x="-20%" y="-20%" width="140%" height="140%"><feGaussianBlur stdDeviation="0.55"/><feColorMatrix type="saturate" values="0.62"/></filter><filter id="bl2" x="-20%" y="-20%" width="140%" height="140%"><feGaussianBlur stdDeviation="1.1"/></filter><linearGradient id="jet" x1="0" y1="1" x2="0" y2="0"><stop offset="0" stop-color="#1010c0"/><stop offset="0.2" stop-color="#2060ff"/><stop offset="0.4" stop-color="#20d0e0"/><stop offset="0.6" stop-color="#80e040"/><stop offset="0.78" stop-color="#f0e020"/><stop offset="0.9" stop-color="#f06020"/><stop offset="1" stop-color="#c01010"/></linearGradient></defs>
<g><rect x="30.90" y="569.70" width="25.70" height="28.00" fill="#000"/><svg x="30.90" y="569.70" width="25.70" height="28.00" overflow="hidden"><g transform="translate(-30.90,-569.70)"><ellipse cx="43.45" cy="585.30" rx="12.08" ry="12.32" fill="none" stroke="#9a9a9a" stroke-width="0.5"/><g filter="url(#bl)"><ellipse cx="43.45" cy="583.10" rx="11.56" ry="12.04" fill="#5462bc"/><path d="M40.0,584.9h3.1v3.1h-3.1zM46.9,584.7h3.5v3.5h-3.5zM49.2,578.8h2.9v2.9h-2.9zM35.8,577.9h3.9v3.9h-3.9zM48.3,586.7h1.9v1.9h-1.9zM42.1,577.6h2.7v2.7h-2.7zM33.8,582.4h1.6v1.6h-1.6zM48.1,579.0h3.1v3.1h-3.1zM44.0,584.4h2.4v2.4h-2.4zM42.1,587.8h2.4v2.4h-2.4z" fill="#5868c0" opacity="0.8"/><path d="M43.1,578.7h2.9v2.9h-2.9zM38.7,580.4h2.5v2.5h-2.5zM45.6,577.3h3.2v3.2h-3.2zM36.7,589.9h2.3v2.3h-2.3zM48.5,582.0h2.4v2.4h-2.4zM40.0,584.4h3.6v3.6h-3.6zM48.4,587.2h1.7v1.7h-1.7zM41.3,574.3h3.2v3.2h-3.2z" fill="#6070c0" opacity="0.8"/><path d="M42.7,584.6h2.5v2.5h-2.5zM45.5,585.0h3.5v3.5h-3.5zM40.2,581.5h1.6v1.6h-1.6zM39.9,579.8h2.7v2.7h-2.7zM43.3,582.9h3.4v3.4h-3.4zM47.6,584.9h2.8v2.8h-2.8zM50.2,581.0h2.4v2.4h-2.4zM44.7,585.5h2.0v2.0h-2.0zM44.7,583.0h2.0v2.0h-2.0zM51.4,583.0h2.8v2.8h-2.8z" fill="#6a74b8" opacity="0.8"/><path d="M34.4,581.4h3.4v3.4h-3.4zM36.5,578.4h2.2v2.2h-2.2zM44.5,580.8h2.8v2.8h-2.8zM40.9,574.6h3.8v3.8h-3.8zM46.1,573.3h2.1v2.1h-2.1zM37.3,574.4h2.6v2.6h-2.6zM43.3,571.8h3.5v3.5h-3.5zM37.0,585.5h2.7v2.7h-2.7zM46.4,585.7h3.9v3.9h-3.9z" fill="#7a7c8c" opacity="0.8"/><path d="M46.2,590.4h1.6v1.6h-1.6zM32.5,579.8h3.3v3.3h-3.3zM51.3,582.8h1.9v1.9h-1.9zM39.6,582.5h1.7v1.7h-1.7zM38.1,572.1h3.4v3.4h-3.4z" fill="#50a8b0" opacity="0.8"/><path d="M41.2,575.8h2.9v2.9h-2.9zM44.4,576.8h2.4v2.4h-2.4zM46.2,583.8h2.4v2.4h-2.4z" fill="#58b880" opacity="0.8"/><ellipse cx="37.40" cy="582.70" rx="4" ry="6.5" fill="#7a7c8c"/><circle cx="40.90" cy="573.50" r="2.20" fill="#50c050"/><circle cx="40.90" cy="573.50" r="1.00" fill="#e8e040"/><ellipse cx="49.40" cy="573.50" rx="4.90" ry="3.50" fill="#60c050"/><ellipse cx="51.90" cy="580.20" rx="3.90" ry="7.70" fill="#60c050"/><ellipse cx="49.40" cy="573.50" rx="4.00" ry="2.60" fill="#e0284a"/><ellipse cx="51.90" cy="580.20" rx="3.00" ry="6.80" fill="#e0284a"/><ellipse cx="49.40" cy="573.50" rx="3.20" ry="1.80" fill="#c4c4c8"/><ellipse cx="51.90" cy="580.20" rx="2.20" ry="6.00" fill="#c4c4c8"/><ellipse cx="43.45" cy="583.10" rx="11.56" ry="12.04" fill="none" stroke="#4050c0" stroke-width="1.0"/></g><polygon points="49.96,591.54 53.06,590.14 52.76,593.34" fill="#fff"/><line x1="52.36" y1="592.14" x2="54.06" y2="596.54" stroke="#ddd" stroke-width="0.5"/></g></svg></g>
<g><rect x="61.10" y="569.70" width="26.00" height="28.00" fill="#000"/><svg x="61.10" y="569.70" width="26.00" height="28.00" overflow="hidden"><g transform="translate(-61.10,-569.70)"><ellipse cx="73.80" cy="585.30" rx="12.22" ry="12.32" fill="none" stroke="#9a9a9a" stroke-width="0.5"/><g filter="url(#bl)"><ellipse cx="73.80" cy="583.10" rx="11.70" ry="12.04" fill="#5462bc"/><path d="M81.2,580.0h3.2v3.2h-3.2zM78.1,579.1h3.8v3.8h-3.8zM62.5,582.7h3.2v3.2h-3.2zM69.6,576.1h2.0v2.0h-2.0zM75.7,587.3h2.7v2.7h-2.7zM67.6,585.1h1.7v1.7h-1.7z" fill="#50a8b0" opacity="0.8"/><path d="M63.1,580.7h2.3v2.3h-2.3zM63.9,580.0h2.3v2.3h-2.3zM65.3,575.3h3.4v3.4h-3.4zM75.1,572.6h3.3v3.3h-3.3zM78.5,580.3h2.0v2.0h-2.0zM74.1,572.9h2.6v2.6h-2.6zM66.0,577.0h3.8v3.8h-3.8zM68.9,577.1h2.1v2.1h-2.1zM75.1,578.6h3.1v3.1h-3.1z" fill="#6a74b8" opacity="0.8"/><path d="M74.1,588.1h3.3v3.3h-3.3zM76.2,580.7h3.6v3.6h-3.6zM68.5,587.8h3.5v3.5h-3.5zM74.3,584.5h3.0v3.0h-3.0zM63.1,582.1h3.7v3.7h-3.7zM70.2,581.6h3.7v3.7h-3.7zM74.6,584.4h2.6v2.6h-2.6zM79.7,582.6h2.5v2.5h-2.5z" fill="#5868c0" opacity="0.8"/><path d="M74.4,575.2h1.9v1.9h-1.9zM66.6,582.7h2.7v2.7h-2.7zM78.3,590.8h1.5v1.5h-1.5zM72.6,587.5h2.0v2.0h-2.0zM77.4,578.4h2.6v2.6h-2.6zM74.7,574.4h3.5v3.5h-3.5zM66.9,579.5h2.7v2.7h-2.7zM72.0,586.6h3.4v3.4h-3.4zM65.0,584.4h2.7v2.7h-2.7z" fill="#6070c0" opacity="0.8"/><path d="M75.8,575.4h3.1v3.1h-3.1zM67.2,574.8h1.7v1.7h-1.7zM80.2,576.9h1.8v1.8h-1.8zM67.4,575.0h3.8v3.8h-3.8zM74.9,584.5h2.7v2.7h-2.7zM69.0,583.9h1.4v1.4h-1.4zM73.9,586.7h2.7v2.7h-2.7zM81.0,577.5h2.0v2.0h-2.0zM76.2,580.0h3.8v3.8h-3.8z" fill="#7a7c8c" opacity="0.8"/><path d="M65.6,585.5h1.7v1.7h-1.7zM66.7,584.9h3.8v3.8h-3.8zM69.5,581.2h1.5v1.5h-1.5zM74.8,572.6h1.8v1.8h-1.8z" fill="#58b880" opacity="0.8"/><ellipse cx="70.10" cy="581.70" rx="4" ry="4" fill="#7a7c8c"/><circle cx="71.60" cy="573.50" r="2.20" fill="#50c050"/><circle cx="71.60" cy="573.50" r="1.00" fill="#e8e040"/><ellipse cx="77.10" cy="591.70" rx="6.20" ry="4.30" fill="#60c050"/><ellipse cx="81.90" cy="580.50" rx="3.30" ry="4.70" fill="#60c050"/><ellipse cx="77.10" cy="591.70" rx="5.30" ry="3.40" fill="#e0284a"/><ellipse cx="81.90" cy="580.50" rx="2.40" ry="3.80" fill="#e0284a"/><ellipse cx="77.10" cy="591.70" rx="4.50" ry="2.60" fill="#c4c4c8"/><ellipse cx="81.90" cy="580.50" rx="1.60" ry="3.00" fill="#c4c4c8"/><ellipse cx="73.80" cy="583.10" rx="11.70" ry="12.04" fill="none" stroke="#4050c0" stroke-width="1.0"/></g><polygon points="80.40,591.54 83.50,590.14 83.20,593.34" fill="#fff"/><line x1="82.80" y1="592.14" x2="84.50" y2="596.54" stroke="#ddd" stroke-width="0.5"/></g></svg></g>
<g><rect x="92.20" y="569.70" width="25.60" height="28.00" fill="#000"/><svg x="92.20" y="569.70" width="25.60" height="28.00" overflow="hidden"><g transform="translate(-92.20,-569.70)"><ellipse cx="104.70" cy="585.30" rx="12.03" ry="12.32" fill="none" stroke="#9a9a9a" stroke-width="0.5"/><g filter="url(#bl)"><ellipse cx="104.70" cy="583.10" rx="11.52" ry="12.04" fill="#5462bc"/><path d="M98.2,586.8h2.2v2.2h-2.2zM110.7,588.4h2.0v2.0h-2.0zM96.4,578.5h1.7v1.7h-1.7zM110.0,578.1h3.5v3.5h-3.5zM99.9,578.9h2.1v2.1h-2.1zM101.4,579.8h3.2v3.2h-3.2zM99.3,581.8h2.3v2.3h-2.3zM103.4,576.9h1.9v1.9h-1.9zM104.3,586.1h2.3v2.3h-2.3zM111.2,585.5h2.1v2.1h-2.1z" fill="#5868c0" opacity="0.8"/><path d="M107.0,583.7h3.7v3.7h-3.7zM97.2,577.3h1.6v1.6h-1.6zM103.2,578.1h3.5v3.5h-3.5zM98.2,584.7h3.9v3.9h-3.9zM104.4,582.0h2.8v2.8h-2.8zM105.5,577.2h3.3v3.3h-3.3z" fill="#6a74b8" opacity="0.8"/><path d="M102.9,585.4h2.5v2.5h-2.5zM112.8,581.2h1.5v1.5h-1.5zM107.7,573.1h3.0v3.0h-3.0zM99.5,572.9h3.2v3.2h-3.2zM102.1,579.9h1.5v1.5h-1.5zM102.2,581.2h3.5v3.5h-3.5z" fill="#58b880" opacity="0.8"/><path d="M105.8,577.4h1.8v1.8h-1.8zM105.8,582.2h1.5v1.5h-1.5zM96.8,583.2h1.9v1.9h-1.9zM102.9,573.0h3.2v3.2h-3.2zM100.7,583.7h3.5v3.5h-3.5zM112.2,578.2h1.7v1.7h-1.7z" fill="#6070c0" opacity="0.8"/><path d="M103.9,576.9h3.7v3.7h-3.7zM97.7,583.2h2.8v2.8h-2.8zM108.6,581.0h1.9v1.9h-1.9zM93.7,578.2h3.9v3.9h-3.9zM109.9,576.2h1.8v1.8h-1.8zM100.1,576.2h2.7v2.7h-2.7zM107.1,587.6h2.1v2.1h-2.1zM110.7,580.7h2.1v2.1h-2.1zM102.3,583.5h1.5v1.5h-1.5z" fill="#50a8b0" opacity="0.8"/><path d="M98.7,576.6h2.0v2.0h-2.0zM99.2,580.2h2.6v2.6h-2.6zM110.3,587.4h2.5v2.5h-2.5zM99.7,572.4h2.3v2.3h-2.3zM100.6,578.8h3.9v3.9h-3.9zM102.1,590.0h1.8v1.8h-1.8zM100.5,574.1h3.7v3.7h-3.7zM93.8,580.9h3.5v3.5h-3.5z" fill="#7a7c8c" opacity="0.8"/><ellipse cx="96.70" cy="584.70" rx="1.8" ry="3.0" fill="#7a7c8c"/><circle cx="103.60" cy="574.00" r="2.30" fill="#50c050"/><circle cx="103.60" cy="574.00" r="1.10" fill="#e8e040"/><ellipse cx="111.20" cy="584.20" rx="3.70" ry="6.50" fill="#60c050"/><ellipse cx="107.70" cy="591.00" rx="6.00" ry="4.30" fill="#60c050"/><ellipse cx="111.20" cy="584.20" rx="2.80" ry="5.60" fill="#e0284a"/><ellipse cx="107.70" cy="591.00" rx="5.10" ry="3.40" fill="#e0284a"/><ellipse cx="111.20" cy="584.20" rx="2.00" ry="4.80" fill="#c4c4c8"/><ellipse cx="107.70" cy="591.00" rx="4.30" ry="2.60" fill="#c4c4c8"/><ellipse cx="104.70" cy="583.10" rx="11.52" ry="12.04" fill="none" stroke="#4050c0" stroke-width="1.0"/></g><polygon points="111.18,591.54 114.28,590.14 113.98,593.34" fill="#fff"/><line x1="113.58" y1="592.14" x2="115.28" y2="596.54" stroke="#ddd" stroke-width="0.5"/></g></svg></g>
<g><rect x="126.90" y="569.70" width="25.90" height="28.00" fill="#000"/><svg x="126.90" y="569.70" width="25.90" height="28.00" overflow="hidden"><g transform="translate(-126.90,-569.70)"><ellipse cx="139.55" cy="585.30" rx="12.17" ry="12.32" fill="none" stroke="#9a9a9a" stroke-width="0.5"/><g filter="url(#bl)"><ellipse cx="139.55" cy="583.10" rx="11.65" ry="12.04" fill="#5462bc"/><path d="M137.4,571.5h2.7v2.7h-2.7zM141.5,581.4h2.0v2.0h-2.0zM136.3,588.8h2.6v2.6h-2.6zM148.2,580.9h1.5v1.5h-1.5zM136.1,576.3h3.7v3.7h-3.7zM134.2,589.4h3.4v3.4h-3.4zM132.0,586.4h1.8v1.8h-1.8zM140.4,585.6h2.0v2.0h-2.0zM132.8,581.1h3.7v3.7h-3.7zM142.7,577.6h3.1v3.1h-3.1zM142.2,586.0h3.4v3.4h-3.4zM131.3,583.6h1.4v1.4h-1.4zM146.7,577.4h2.8v2.8h-2.8z" fill="#7a7c8c" opacity="0.8"/><path d="M146.7,586.4h2.2v2.2h-2.2zM130.3,587.4h3.8v3.8h-3.8zM144.1,588.4h2.7v2.7h-2.7zM143.2,583.6h3.6v3.6h-3.6zM134.2,587.1h2.1v2.1h-2.1zM138.3,588.5h3.1v3.1h-3.1zM135.0,583.2h1.9v1.9h-1.9zM146.3,578.4h3.6v3.6h-3.6z" fill="#5868c0" opacity="0.8"/><path d="M132.7,576.7h1.6v1.6h-1.6zM138.6,572.8h1.7v1.7h-1.7zM137.0,583.2h3.8v3.8h-3.8zM141.9,576.7h3.3v3.3h-3.3z" fill="#6a74b8" opacity="0.8"/><path d="M133.8,588.5h3.2v3.2h-3.2zM142.9,579.9h2.1v2.1h-2.1zM144.5,575.3h3.0v3.0h-3.0zM132.5,578.6h3.2v3.2h-3.2z" fill="#6070c0" opacity="0.8"/><path d="M137.7,581.7h1.6v1.6h-1.6zM139.0,571.4h2.8v2.8h-2.8zM143.6,584.3h3.9v3.9h-3.9zM134.8,579.7h2.8v2.8h-2.8zM133.4,583.8h1.8v1.8h-1.8zM135.8,584.3h2.3v2.3h-2.3zM136.2,572.4h2.2v2.2h-2.2zM141.4,587.7h2.2v2.2h-2.2zM141.7,588.6h2.2v2.2h-2.2zM134.5,586.4h1.6v1.6h-1.6zM132.1,575.1h2.0v2.0h-2.0z" fill="#50a8b0" opacity="0.8"/><path d="M134.3,583.5h3.8v3.8h-3.8zM137.4,583.7h3.1v3.1h-3.1zM130.7,579.6h1.6v1.6h-1.6zM137.7,571.8h2.1v2.1h-2.1zM137.1,588.8h3.7v3.7h-3.7z" fill="#58b880" opacity="0.8"/><ellipse cx="136.40" cy="583.20" rx="5.5" ry="8.5" fill="#7a7c8c"/><ellipse cx="146.90" cy="581.20" rx="4.30" ry="8.50" fill="#60c050"/><ellipse cx="146.90" cy="581.20" rx="3.40" ry="7.60" fill="#e0284a"/><ellipse cx="146.90" cy="581.20" rx="2.60" ry="6.80" fill="#d0306a"/><ellipse cx="139.55" cy="583.10" rx="11.65" ry="12.04" fill="none" stroke="#4050c0" stroke-width="1.0"/></g><polygon points="146.12,591.54 149.22,590.14 148.92,593.34" fill="#fff"/><line x1="148.52" y1="592.14" x2="150.22" y2="596.54" stroke="#ddd" stroke-width="0.5"/></g></svg></g>
<g><rect x="157.60" y="569.70" width="25.60" height="28.00" fill="#000"/><svg x="157.60" y="569.70" width="25.60" height="28.00" overflow="hidden"><g transform="translate(-157.60,-569.70)"><ellipse cx="170.10" cy="585.30" rx="12.03" ry="12.32" fill="none" stroke="#9a9a9a" stroke-width="0.5"/><g filter="url(#bl)"><ellipse cx="170.10" cy="583.10" rx="11.52" ry="12.04" fill="#5462bc"/><path d="M174.0,581.3h1.7v1.7h-1.7zM176.7,586.9h1.4v1.4h-1.4zM167.1,586.8h3.6v3.6h-3.6zM175.1,576.7h1.6v1.6h-1.6zM174.1,575.1h4.0v4.0h-4.0zM162.9,574.9h1.5v1.5h-1.5zM166.4,590.1h1.8v1.8h-1.8zM163.0,577.6h2.4v2.4h-2.4z" fill="#6a74b8" opacity="0.8"/><path d="M174.7,590.4h1.7v1.7h-1.7zM166.8,573.1h3.4v3.4h-3.4zM176.1,579.7h2.8v2.8h-2.8zM173.0,580.4h2.1v2.1h-2.1zM168.1,581.3h2.2v2.2h-2.2zM164.3,582.7h2.1v2.1h-2.1zM167.7,576.8h1.5v1.5h-1.5zM166.0,573.6h2.4v2.4h-2.4zM175.3,585.0h1.9v1.9h-1.9zM171.0,577.5h2.0v2.0h-2.0zM162.9,582.4h3.3v3.3h-3.3zM160.9,578.4h2.4v2.4h-2.4zM167.3,577.2h2.8v2.8h-2.8zM165.1,577.7h3.0v3.0h-3.0zM166.0,589.8h2.9v2.9h-2.9zM175.1,587.1h2.6v2.6h-2.6zM165.0,585.1h2.5v2.5h-2.5zM166.2,586.9h2.4v2.4h-2.4z" fill="#7a7c8c" opacity="0.8"/><path d="M169.4,591.2h3.1v3.1h-3.1zM167.7,589.9h3.7v3.7h-3.7zM168.2,590.5h2.2v2.2h-2.2z" fill="#50a8b0" opacity="0.8"/><path d="M168.2,579.0h1.6v1.6h-1.6zM171.1,589.9h3.3v3.3h-3.3zM170.9,579.3h3.0v3.0h-3.0z" fill="#6070c0" opacity="0.8"/><path d="M164.3,573.4h2.0v2.0h-2.0zM175.1,583.7h3.8v3.8h-3.8zM171.3,591.9h1.8v1.8h-1.8zM165.1,586.3h1.9v1.9h-1.9zM171.2,583.1h2.5v2.5h-2.5zM172.6,573.3h2.5v2.5h-2.5zM170.1,586.8h3.7v3.7h-3.7zM171.0,582.7h1.6v1.6h-1.6zM164.3,585.5h3.8v3.8h-3.8z" fill="#5868c0" opacity="0.8"/><path d="M170.5,586.2h2.5v2.5h-2.5zM167.6,577.4h2.6v2.6h-2.6zM166.0,584.9h3.8v3.8h-3.8zM173.9,587.6h1.5v1.5h-1.5z" fill="#58b880" opacity="0.8"/><ellipse cx="166.60" cy="582.20" rx="5.5" ry="6.5" fill="#7a7c8c"/><circle cx="166.60" cy="574.20" r="2.00" fill="#50c050"/><circle cx="166.60" cy="574.20" r="0.80" fill="#e8e040"/><ellipse cx="177.40" cy="577.50" rx="3.20" ry="4.30" fill="#60c050"/><ellipse cx="173.60" cy="590.20" rx="3.50" ry="3.00" fill="#60c050"/><ellipse cx="177.40" cy="577.50" rx="2.30" ry="3.40" fill="#e0284a"/><ellipse cx="173.60" cy="590.20" rx="2.60" ry="2.10" fill="#e0284a"/><ellipse cx="177.40" cy="577.50" rx="1.50" ry="2.60" fill="#c4c4c8"/><ellipse cx="173.60" cy="590.20" rx="1.80" ry="1.30" fill="#d0306a"/><ellipse cx="170.10" cy="583.10" rx="11.52" ry="12.04" fill="none" stroke="#4050c0" stroke-width="1.0"/></g><polygon points="176.58,591.54 179.68,590.14 179.38,593.34" fill="#fff"/><line x1="178.98" y1="592.14" x2="180.68" y2="596.54" stroke="#ddd" stroke-width="0.5"/></g></svg></g>
<g><rect x="188.30" y="569.70" width="25.30" height="28.00" fill="#000"/><svg x="188.30" y="569.70" width="25.30" height="28.00" overflow="hidden"><g transform="translate(-188.30,-569.70)"><ellipse cx="200.65" cy="585.30" rx="11.89" ry="12.32" fill="none" stroke="#9a9a9a" stroke-width="0.5"/><g filter="url(#bl)"><ellipse cx="200.65" cy="583.10" rx="11.38" ry="12.04" fill="#5462bc"/><path d="M199.8,584.9h1.5v1.5h-1.5zM205.9,588.4h2.2v2.2h-2.2zM199.7,587.2h1.8v1.8h-1.8zM202.0,580.4h2.9v2.9h-2.9zM193.3,574.1h3.0v3.0h-3.0z" fill="#6070c0" opacity="0.8"/><path d="M195.5,580.6h2.5v2.5h-2.5zM204.7,581.8h1.7v1.7h-1.7zM198.3,583.4h2.3v2.3h-2.3zM195.1,584.8h2.2v2.2h-2.2zM202.3,590.3h2.0v2.0h-2.0zM196.2,583.8h1.7v1.7h-1.7zM196.0,588.7h3.0v3.0h-3.0zM205.8,583.2h3.3v3.3h-3.3z" fill="#5868c0" opacity="0.8"/><path d="M190.0,585.8h3.9v3.9h-3.9zM200.4,584.4h2.1v2.1h-2.1zM197.6,577.9h2.2v2.2h-2.2zM191.6,587.0h2.6v2.6h-2.6zM199.0,577.6h2.3v2.3h-2.3zM205.0,576.6h3.5v3.5h-3.5zM204.6,574.4h1.9v1.9h-1.9zM202.3,584.8h3.3v3.3h-3.3z" fill="#6a74b8" opacity="0.8"/><path d="M199.6,588.0h3.0v3.0h-3.0zM194.1,580.9h3.5v3.5h-3.5zM202.1,588.4h3.4v3.4h-3.4zM200.4,586.4h3.0v3.0h-3.0zM204.0,585.4h2.8v2.8h-2.8zM207.1,582.2h3.5v3.5h-3.5z" fill="#58b880" opacity="0.8"/><path d="M199.4,588.7h3.4v3.4h-3.4zM198.9,587.1h2.1v2.1h-2.1zM198.0,582.7h1.5v1.5h-1.5zM199.2,583.7h3.0v3.0h-3.0zM191.2,576.9h2.4v2.4h-2.4zM206.2,576.4h3.5v3.5h-3.5zM205.9,583.0h2.7v2.7h-2.7zM196.6,588.9h2.3v2.3h-2.3zM201.2,583.8h1.8v1.8h-1.8zM190.5,580.8h1.7v1.7h-1.7zM205.1,588.0h3.9v3.9h-3.9zM196.6,576.7h2.4v2.4h-2.4zM192.1,579.4h2.2v2.2h-2.2z" fill="#7a7c8c" opacity="0.8"/><path d="M200.1,588.6h2.4v2.4h-2.4zM191.7,580.0h2.4v2.4h-2.4zM201.4,579.8h3.0v3.0h-3.0zM198.9,572.1h3.5v3.5h-3.5zM208.7,584.6h1.8v1.8h-1.8z" fill="#50a8b0" opacity="0.8"/><ellipse cx="196.80" cy="583.70" rx="5" ry="8" fill="#7a7c8c"/><ellipse cx="205.80" cy="577.70" rx="2.80" ry="4.30" fill="#60c050"/><ellipse cx="207.30" cy="587.20" rx="3.00" ry="4.50" fill="#60c050"/><ellipse cx="205.80" cy="577.70" rx="1.90" ry="3.40" fill="#e0284a"/><ellipse cx="207.30" cy="587.20" rx="2.10" ry="3.60" fill="#e0284a"/><ellipse cx="205.80" cy="577.70" rx="1.10" ry="2.60" fill="#d0306a"/><ellipse cx="207.30" cy="587.20" rx="1.30" ry="2.80" fill="#d0306a"/><ellipse cx="200.65" cy="583.10" rx="11.38" ry="12.04" fill="none" stroke="#4050c0" stroke-width="1.0"/></g><polygon points="207.04,591.54 210.14,590.14 209.84,593.34" fill="#fff"/><line x1="209.44" y1="592.14" x2="211.14" y2="596.54" stroke="#ddd" stroke-width="0.5"/></g></svg></g>
<g><rect x="30.90" y="600.20" width="25.70" height="73.10" fill="#000"/><svg x="30.90" y="600.20" width="25.70" height="73.10" overflow="hidden"><g transform="translate(-30.90,-600.20)"><defs><clipPath id="pc7"><path d="M45.90,603.20 C46.82,602.70 48.40,604.03 49.40,605.20 C50.40,606.37 51.48,608.20 51.90,610.20 C52.32,612.20 52.15,615.20 51.90,617.20 C51.65,619.20 50.73,620.37 50.40,622.20 C50.07,624.03 49.65,626.53 49.90,628.20 C50.15,629.87 51.23,630.53 51.90,632.20 C52.57,633.87 53.65,636.03 53.90,638.20 C54.15,640.37 54.07,643.53 53.40,645.20 C52.73,646.87 50.98,647.03 49.90,648.20 C48.82,649.37 47.82,650.70 46.90,652.20 C45.98,653.70 44.98,654.87 44.40,657.20 C43.82,659.53 43.73,666.20 43.40,666.20 C43.07,666.20 43.15,659.03 42.40,657.20 C41.65,655.37 39.98,655.53 38.90,655.20 C37.82,654.87 36.90,655.37 35.90,655.20 C34.90,655.03 33.60,655.20 32.90,654.20 C32.20,653.20 31.37,650.70 31.70,649.20 C32.03,647.70 34.03,646.70 34.90,645.20 C35.77,643.70 36.07,642.37 36.90,640.20 C37.73,638.03 38.90,634.87 39.90,632.20 C40.90,629.53 42.32,626.87 42.90,624.20 C43.48,621.53 43.23,618.87 43.40,616.20 C43.57,613.53 43.48,610.37 43.90,608.20 C44.32,606.03 44.98,603.70 45.90,603.20 Z"/></clipPath></defs><path d="M36.04,606.30 V601.80 H51.46 V606.30 M38.04,606.30 V604.30 H41.54 M49.46,606.30 V604.30 H45.96" fill="none" stroke="#8a8a8a" stroke-width="0.9"/><g filter="url(#bl)"><g clip-path="url(#pc7)"><rect x="30.9" y="600.2" width="25.7" height="73.1" fill="#4a7aa8"/><path d="M40.4,647.3h2.0v2.0h-2.0zM40.0,637.0h1.9v1.9h-1.9zM49.7,643.8h2.2v2.2h-2.2zM46.6,634.5h2.9v2.9h-2.9zM50.5,615.3h2.7v2.7h-2.7zM38.6,606.5h1.7v1.7h-1.7zM34.3,647.1h1.8v1.8h-1.8zM42.1,655.6h2.8v2.8h-2.8zM41.3,664.4h2.3v2.3h-2.3zM42.0,628.4h1.3v1.3h-1.3zM45.2,630.0h2.7v2.7h-2.7zM41.5,615.2h2.9v2.9h-2.9zM46.0,648.4h1.8v1.8h-1.8zM30.8,637.4h2.5v2.5h-2.5zM38.3,622.2h3.0v3.0h-3.0zM47.1,634.1h2.4v2.4h-2.4zM47.5,641.6h1.5v1.5h-1.5zM44.8,628.6h2.6v2.6h-2.6zM38.6,630.7h2.1v2.1h-2.1zM45.4,658.8h3.0v3.0h-3.0zM48.3,615.6h2.3v2.3h-2.3zM45.7,642.9h1.7v1.7h-1.7zM48.8,634.0h2.6v2.6h-2.6zM40.5,608.7h2.4v2.4h-2.4zM33.2,643.1h2.4v2.4h-2.4zM45.7,649.6h2.4v2.4h-2.4zM33.9,614.2h2.9v2.9h-2.9zM53.1,637.7h2.4v2.4h-2.4zM31.2,621.6h1.8v1.8h-1.8zM51.8,655.6h1.4v1.4h-1.4zM46.2,611.2h2.6v2.6h-2.6zM43.2,621.8h1.6v1.6h-1.6zM38.5,636.4h2.9v2.9h-2.9zM39.9,602.6h1.6v1.6h-1.6zM38.9,651.4h2.4v2.4h-2.4zM31.6,617.6h2.1v2.1h-2.1zM31.6,640.1h2.9v2.9h-2.9zM48.0,624.6h3.0v3.0h-3.0zM53.8,623.9h2.4v2.4h-2.4zM41.6,644.4h2.9v2.9h-2.9zM44.3,644.8h2.5v2.5h-2.5zM36.9,648.5h1.4v1.4h-1.4zM36.3,620.8h2.2v2.2h-2.2zM50.9,631.7h1.3v1.3h-1.3zM36.7,631.0h2.8v2.8h-2.8zM55.3,625.2h1.7v1.7h-1.7zM39.5,605.8h3.0v3.0h-3.0zM48.2,610.1h2.1v2.1h-2.1zM40.2,646.6h1.5v1.5h-1.5zM53.2,633.6h2.2v2.2h-2.2zM46.7,614.9h1.6v1.6h-1.6zM34.8,617.7h1.3v1.3h-1.3zM44.1,613.3h1.7v1.7h-1.7zM40.0,602.3h2.3v2.3h-2.3zM50.2,641.0h2.2v2.2h-2.2zM34.4,609.5h2.9v2.9h-2.9zM35.0,613.3h2.7v2.7h-2.7zM43.2,638.8h1.5v1.5h-1.5zM35.7,649.2h1.3v1.3h-1.3zM49.3,659.4h1.8v1.8h-1.8zM35.6,640.1h1.7v1.7h-1.7zM36.9,658.6h2.8v2.8h-2.8zM44.5,652.1h2.9v2.9h-2.9zM32.6,640.9h3.1v3.1h-3.1zM39.0,605.8h1.4v1.4h-1.4zM47.4,655.9h1.8v1.8h-1.8zM40.9,626.9h2.0v2.0h-2.0zM39.8,638.6h1.3v1.3h-1.3z" fill="#58b870" opacity="0.8"/><path d="M35.0,639.5h1.3v1.3h-1.3zM51.3,630.0h2.1v2.1h-2.1zM37.8,621.5h1.8v1.8h-1.8zM51.1,626.7h2.3v2.3h-2.3zM41.0,640.4h1.7v1.7h-1.7zM40.7,637.3h2.1v2.1h-2.1zM34.3,619.5h1.6v1.6h-1.6zM35.3,617.0h2.4v2.4h-2.4zM44.4,611.8h2.3v2.3h-2.3zM39.4,605.6h1.4v1.4h-1.4zM43.4,654.1h2.2v2.2h-2.2zM46.4,650.7h2.7v2.7h-2.7zM35.7,630.8h2.6v2.6h-2.6zM41.9,600.7h2.0v2.0h-2.0zM40.2,601.2h2.7v2.7h-2.7zM42.6,653.3h2.1v2.1h-2.1zM51.2,618.5h2.5v2.5h-2.5zM43.5,618.5h2.9v2.9h-2.9zM40.9,616.7h1.6v1.6h-1.6zM34.9,646.5h2.0v2.0h-2.0zM45.4,601.3h2.4v2.4h-2.4zM44.0,632.0h2.4v2.4h-2.4zM40.5,657.2h2.4v2.4h-2.4zM41.0,643.5h2.9v2.9h-2.9zM47.0,639.8h2.8v2.8h-2.8zM31.1,646.0h2.6v2.6h-2.6zM37.5,640.4h1.3v1.3h-1.3zM36.8,630.1h1.6v1.6h-1.6zM49.8,652.1h1.7v1.7h-1.7zM44.3,633.5h2.3v2.3h-2.3zM34.3,619.5h3.0v3.0h-3.0zM49.8,656.6h1.8v1.8h-1.8zM34.7,644.3h2.4v2.4h-2.4zM46.7,652.4h2.7v2.7h-2.7z" fill="#c89048" opacity="0.8"/><path d="M44.5,610.3h1.6v1.6h-1.6zM42.5,624.3h2.8v2.8h-2.8zM54.1,632.9h2.6v2.6h-2.6zM39.3,609.9h2.4v2.4h-2.4zM48.8,610.1h2.4v2.4h-2.4zM48.8,620.8h1.3v1.3h-1.3zM54.7,625.6h3.0v3.0h-3.0zM36.2,652.8h1.8v1.8h-1.8zM42.9,629.5h2.8v2.8h-2.8zM39.7,610.2h1.8v1.8h-1.8zM48.1,618.4h1.6v1.6h-1.6zM48.5,657.2h2.1v2.1h-2.1zM46.8,644.4h1.4v1.4h-1.4zM46.8,616.1h1.6v1.6h-1.6zM45.8,636.4h2.4v2.4h-2.4zM49.0,615.0h1.3v1.3h-1.3zM32.1,618.2h1.9v1.9h-1.9zM41.6,661.8h2.4v2.4h-2.4zM42.4,625.4h1.5v1.5h-1.5zM43.9,653.1h2.0v2.0h-2.0zM39.0,619.7h2.5v2.5h-2.5zM52.0,648.6h2.9v2.9h-2.9zM36.4,619.3h2.1v2.1h-2.1zM35.2,625.1h1.8v1.8h-1.8zM39.8,633.2h2.5v2.5h-2.5z" fill="#3848a8" opacity="0.8"/><path d="M44.6,609.2h1.4v1.4h-1.4zM41.1,661.6h1.5v1.5h-1.5zM48.6,652.8h2.0v2.0h-2.0zM34.4,617.8h2.3v2.3h-2.3zM53.6,642.8h1.3v1.3h-1.3zM39.5,619.8h2.0v2.0h-2.0zM53.5,630.9h2.1v2.1h-2.1zM34.9,607.0h1.7v1.7h-1.7zM53.4,616.2h2.8v2.8h-2.8zM42.5,616.8h3.0v3.0h-3.0zM36.5,624.0h2.0v2.0h-2.0zM51.8,626.2h3.0v3.0h-3.0zM43.0,608.5h3.0v3.0h-3.0zM48.1,656.1h3.0v3.0h-3.0zM41.7,647.2h2.6v2.6h-2.6zM46.0,630.1h2.9v2.9h-2.9zM51.4,647.0h1.9v1.9h-1.9zM34.3,653.5h2.7v2.7h-2.7zM49.9,657.5h2.7v2.7h-2.7zM43.2,656.4h2.9v2.9h-2.9zM54.6,620.9h1.4v1.4h-1.4zM52.7,615.4h1.3v1.3h-1.3zM48.9,652.7h2.1v2.1h-2.1zM40.4,642.8h1.3v1.3h-1.3zM51.2,625.3h2.2v2.2h-2.2zM47.7,604.6h1.4v1.4h-1.4zM39.8,622.7h2.3v2.3h-2.3zM36.4,623.6h2.6v2.6h-2.6zM50.1,635.9h1.6v1.6h-1.6zM46.2,614.7h2.6v2.6h-2.6zM33.4,611.3h2.7v2.7h-2.7zM39.1,637.5h2.0v2.0h-2.0zM40.9,651.0h1.9v1.9h-1.9zM37.0,661.2h2.7v2.7h-2.7z" fill="#60b0a0" opacity="0.8"/><path d="M50.3,606.0h2.6v2.6h-2.6zM46.4,623.4h2.7v2.7h-2.7zM33.0,623.0h2.8v2.8h-2.8zM52.0,645.1h1.6v1.6h-1.6zM47.2,625.7h1.3v1.3h-1.3zM53.9,621.8h2.6v2.6h-2.6zM47.4,608.8h1.8v1.8h-1.8zM36.4,627.9h2.8v2.8h-2.8zM48.0,631.0h2.2v2.2h-2.2zM46.7,646.8h2.0v2.0h-2.0zM31.7,626.5h2.0v2.0h-2.0zM36.2,646.5h3.0v3.0h-3.0zM51.4,629.3h2.0v2.0h-2.0zM43.3,631.9h2.5v2.5h-2.5zM54.7,629.6h1.7v1.7h-1.7zM43.8,604.1h2.8v2.8h-2.8zM37.8,603.2h1.9v1.9h-1.9zM38.6,634.0h2.7v2.7h-2.7zM42.8,663.5h2.1v2.1h-2.1zM31.4,621.1h2.1v2.1h-2.1zM48.8,611.5h2.9v2.9h-2.9zM48.6,643.7h1.7v1.7h-1.7zM43.8,619.1h2.8v2.8h-2.8zM50.8,620.4h2.8v2.8h-2.8zM32.0,617.7h1.8v1.8h-1.8zM44.4,620.8h1.7v1.7h-1.7zM32.3,628.3h1.4v1.4h-1.4zM33.3,617.5h1.5v1.5h-1.5zM52.5,623.2h2.2v2.2h-2.2zM33.9,629.7h1.3v1.3h-1.3z" fill="#50b0a8" opacity="0.8"/><path d="M47.0,662.5h2.1v2.1h-2.1zM35.8,631.7h1.3v1.3h-1.3zM51.0,614.5h2.6v2.6h-2.6zM45.5,620.8h1.3v1.3h-1.3zM40.7,611.0h1.4v1.4h-1.4zM44.8,634.2h1.6v1.6h-1.6zM49.3,633.8h1.7v1.7h-1.7zM40.1,640.0h2.5v2.5h-2.5zM41.9,664.0h1.8v1.8h-1.8zM38.1,616.6h1.8v1.8h-1.8zM43.3,650.6h2.4v2.4h-2.4zM36.8,620.5h1.7v1.7h-1.7zM41.4,663.5h3.1v3.1h-3.1zM46.6,629.6h2.0v2.0h-2.0zM45.7,604.9h2.0v2.0h-2.0zM42.7,652.5h2.5v2.5h-2.5zM48.2,613.3h2.4v2.4h-2.4zM46.3,626.3h1.7v1.7h-1.7zM35.7,656.6h2.1v2.1h-2.1zM33.9,628.6h3.0v3.0h-3.0zM45.9,656.4h2.6v2.6h-2.6zM35.7,635.4h2.2v2.2h-2.2zM43.9,609.5h2.7v2.7h-2.7zM48.0,604.0h2.7v2.7h-2.7zM34.6,615.8h2.8v2.8h-2.8zM45.6,602.9h1.6v1.6h-1.6zM36.6,626.4h1.7v1.7h-1.7zM33.1,636.0h2.1v2.1h-2.1zM44.0,622.5h2.1v2.1h-2.1zM49.7,637.9h1.3v1.3h-1.3zM43.5,634.9h2.6v2.6h-2.6zM48.6,640.5h2.6v2.6h-2.6zM37.1,653.7h3.0v3.0h-3.0zM36.9,621.1h2.0v2.0h-2.0zM34.9,650.8h2.3v2.3h-2.3zM34.0,626.3h1.9v1.9h-1.9zM41.5,639.3h2.0v2.0h-2.0zM38.9,653.3h1.6v1.6h-1.6zM35.5,622.4h2.7v2.7h-2.7zM49.3,628.6h1.3v1.3h-1.3zM48.9,643.4h1.3v1.3h-1.3zM37.0,646.3h2.1v2.1h-2.1zM53.0,616.0h2.1v2.1h-2.1zM53.1,619.2h2.9v2.9h-2.9zM49.3,646.0h2.1v2.1h-2.1zM44.8,656.6h1.5v1.5h-1.5zM39.4,603.2h2.3v2.3h-2.3zM46.1,630.3h1.9v1.9h-1.9zM31.2,621.4h1.3v1.3h-1.3zM38.5,638.6h2.3v2.3h-2.3zM48.2,651.5h2.6v2.6h-2.6zM42.2,629.3h1.5v1.5h-1.5zM45.5,626.3h2.3v2.3h-2.3zM40.4,653.3h2.5v2.5h-2.5zM44.3,663.5h2.6v2.6h-2.6zM33.8,645.7h1.5v1.5h-1.5zM41.2,657.7h2.4v2.4h-2.4zM37.4,644.1h2.2v2.2h-2.2zM35.9,614.1h2.7v2.7h-2.7zM50.9,609.3h2.2v2.2h-2.2zM35.6,622.8h1.5v1.5h-1.5z" fill="#4a5ab8" opacity="0.8"/><path d="M42.1,624.4h2.7v2.7h-2.7zM50.5,610.9h2.0v2.0h-2.0zM42.2,658.6h1.5v1.5h-1.5zM37.2,602.5h3.0v3.0h-3.0zM32.4,642.6h2.3v2.3h-2.3zM50.1,653.4h2.4v2.4h-2.4zM39.5,651.8h1.3v1.3h-1.3zM43.8,606.6h2.1v2.1h-2.1zM44.4,628.8h1.6v1.6h-1.6zM41.1,606.2h2.4v2.4h-2.4zM38.4,611.0h2.7v2.7h-2.7zM54.9,634.1h2.4v2.4h-2.4zM33.8,643.0h2.7v2.7h-2.7zM37.2,650.3h1.9v1.9h-1.9zM44.7,613.8h1.8v1.8h-1.8zM53.2,621.9h2.3v2.3h-2.3zM45.5,616.0h1.3v1.3h-1.3zM33.1,634.3h1.7v1.7h-1.7zM37.6,627.4h2.8v2.8h-2.8zM42.4,646.8h1.9v1.9h-1.9zM55.3,631.9h1.4v1.4h-1.4zM37.8,638.3h2.8v2.8h-2.8zM43.9,646.1h1.4v1.4h-1.4zM48.1,620.5h2.1v2.1h-2.1zM35.2,632.4h3.0v3.0h-3.0zM48.6,634.2h2.9v2.9h-2.9zM39.3,658.0h1.3v1.3h-1.3zM45.5,653.8h2.3v2.3h-2.3z" fill="#707480" opacity="0.8"/><path d="M37.5,661.6h2.8v2.8h-2.8zM39.2,645.7h2.9v2.9h-2.9zM48.6,626.2h1.6v1.6h-1.6zM34.3,642.8h1.6v1.6h-1.6zM33.4,617.7h2.8v2.8h-2.8zM43.4,643.1h2.7v2.7h-2.7zM35.1,628.1h2.3v2.3h-2.3zM48.7,653.3h2.5v2.5h-2.5zM44.6,635.0h2.4v2.4h-2.4zM37.8,608.5h3.0v3.0h-3.0zM49.8,642.8h2.9v2.9h-2.9zM40.0,655.6h2.2v2.2h-2.2zM36.1,650.4h2.0v2.0h-2.0zM49.3,660.3h1.5v1.5h-1.5zM42.0,656.4h2.4v2.4h-2.4zM39.3,615.7h2.3v2.3h-2.3zM45.2,630.4h2.9v2.9h-2.9zM43.3,618.5h1.5v1.5h-1.5zM35.2,629.9h1.8v1.8h-1.8zM52.8,637.8h1.7v1.7h-1.7zM37.3,631.8h1.6v1.6h-1.6zM38.6,627.6h2.3v2.3h-2.3z" fill="#6a6e80" opacity="0.8"/><path d="M39.4,654.3h2.2v2.2h-2.2zM40.9,615.4h2.3v2.3h-2.3zM53.2,622.4h1.8v1.8h-1.8zM44.7,626.2h2.8v2.8h-2.8zM41.0,628.1h2.0v2.0h-2.0zM45.0,606.7h1.9v1.9h-1.9zM53.2,618.2h2.6v2.6h-2.6zM52.3,652.0h1.8v1.8h-1.8zM40.8,632.4h2.8v2.8h-2.8zM36.4,638.6h2.5v2.5h-2.5zM41.8,652.9h1.3v1.3h-1.3zM36.0,652.5h2.7v2.7h-2.7zM41.9,652.2h1.7v1.7h-1.7zM44.1,613.1h1.5v1.5h-1.5zM32.9,631.9h2.7v2.7h-2.7zM51.8,621.1h1.3v1.3h-1.3zM44.3,599.8h2.9v2.9h-2.9zM41.3,651.6h1.3v1.3h-1.3zM47.6,604.1h1.8v1.8h-1.8zM44.1,630.3h2.4v2.4h-2.4zM49.1,653.6h1.9v1.9h-1.9zM37.9,620.5h2.2v2.2h-2.2zM33.6,640.2h2.9v2.9h-2.9zM48.9,616.5h1.4v1.4h-1.4zM52.4,618.0h2.2v2.2h-2.2zM33.2,629.1h2.5v2.5h-2.5zM45.8,643.7h2.0v2.0h-2.0zM47.6,601.9h2.9v2.9h-2.9z" fill="#98c860" opacity="0.8"/><ellipse cx="39.90" cy="642.20" rx="4" ry="6" fill="#76788a"/><ellipse cx="37.90" cy="650.20" rx="2.5" ry="2.5" fill="#76788a"/><ellipse cx="42.90" cy="656.20" rx="1.5" ry="3" fill="#76788a"/><ellipse cx="47.90" cy="611.20" rx="3.6" ry="6.5" fill="#d8903e" opacity="0.75"/><ellipse cx="45.90" cy="625.20" rx="3" ry="3" fill="#38c0b0" opacity="0.75"/><ellipse cx="40.90" cy="646.20" rx="2.5" ry="3" fill="#60c070" opacity="0.75"/><ellipse cx="46.90" cy="629.20" rx="2.5" ry="1.0" fill="#2838a8" opacity="0.75"/></g><path d="M45.90,603.20 C46.82,602.70 48.40,604.03 49.40,605.20 C50.40,606.37 51.48,608.20 51.90,610.20 C52.32,612.20 52.15,615.20 51.90,617.20 C51.65,619.20 50.73,620.37 50.40,622.20 C50.07,624.03 49.65,626.53 49.90,628.20 C50.15,629.87 51.23,630.53 51.90,632.20 C52.57,633.87 53.65,636.03 53.90,638.20 C54.15,640.37 54.07,643.53 53.40,645.20 C52.73,646.87 50.98,647.03 49.90,648.20 C48.82,649.37 47.82,650.70 46.90,652.20 C45.98,653.70 44.98,654.87 44.40,657.20 C43.82,659.53 43.73,666.20 43.40,666.20 C43.07,666.20 43.15,659.03 42.40,657.20 C41.65,655.37 39.98,655.53 38.90,655.20 C37.82,654.87 36.90,655.37 35.90,655.20 C34.90,655.03 33.60,655.20 32.90,654.20 C32.20,653.20 31.37,650.70 31.70,649.20 C32.03,647.70 34.03,646.70 34.90,645.20 C35.77,643.70 36.07,642.37 36.90,640.20 C37.73,638.03 38.90,634.87 39.90,632.20 C40.90,629.53 42.32,626.87 42.90,624.20 C43.48,621.53 43.23,618.87 43.40,616.20 C43.57,613.53 43.48,610.37 43.90,608.20 C44.32,606.03 44.98,603.70 45.90,603.20 Z" fill="none" stroke="#3444c4" stroke-width="0.8"/><circle cx="46.90" cy="606.20" r="1.70" fill="#d8c040" opacity="0.85"/><circle cx="46.90" cy="606.20" r="0.72" fill="#e05038"/><circle cx="49.90" cy="606.70" r="1.70" fill="#d8c040" opacity="0.85"/><circle cx="49.90" cy="606.70" r="0.72" fill="#e05038"/><circle cx="47.90" cy="614.20" r="1.80" fill="#d8c040" opacity="0.85"/><circle cx="47.90" cy="614.20" r="0.80" fill="#e05038"/><circle cx="44.90" cy="620.20" r="1.60" fill="#d8c040" opacity="0.85"/><circle cx="44.90" cy="620.20" r="0.64" fill="#e05038"/><ellipse cx="50.90" cy="640.20" rx="2.90" ry="5.40" fill="#b0c848"/><ellipse cx="50.90" cy="640.20" rx="2.30" ry="4.80" fill="#d83050"/><ellipse cx="50.90" cy="640.20" rx="1.50" ry="4.00" fill="#bcb0bc"/><ellipse cx="34.40" cy="649.70" rx="2.80" ry="4.00" fill="#b0c848"/><ellipse cx="34.40" cy="649.70" rx="2.20" ry="3.40" fill="#d83050"/><ellipse cx="34.40" cy="649.70" rx="1.40" ry="2.60" fill="#bcb0bc"/><ellipse cx="43.40" cy="662.20" rx="0.8" ry="4" fill="#eeeeee"/></g><polygon points="50.40,649.20 53.60,647.70 53.20,651.10" fill="#fff"/><line x1="52.80" y1="649.80" x2="54.70" y2="655.20" stroke="#ddd" stroke-width="0.6"/></g></svg></g>
<g><rect x="61.10" y="600.20" width="26.00" height="73.10" fill="#000"/><svg x="61.10" y="600.20" width="26.00" height="73.10" overflow="hidden"><g transform="translate(-61.10,-600.20)"><defs><clipPath id="pc8"><path d="M75.10,603.20 C76.02,603.37 77.77,604.03 78.60,605.20 C79.43,606.37 79.77,608.53 80.10,610.20 C80.43,611.87 80.18,613.70 80.60,615.20 C81.02,616.70 82.18,617.53 82.60,619.20 C83.02,620.87 83.18,623.53 83.10,625.20 C83.02,626.87 81.85,627.37 82.10,629.20 C82.35,631.03 84.10,634.03 84.60,636.20 C85.10,638.37 85.27,639.87 85.10,642.20 C84.93,644.53 84.43,647.87 83.60,650.20 C82.77,652.53 81.35,654.87 80.10,656.20 C78.85,657.53 77.35,657.53 76.10,658.20 C74.85,658.87 73.27,658.53 72.60,660.20 C71.93,661.87 72.35,666.87 72.10,668.20 C71.85,669.53 71.35,669.53 71.10,668.20 C70.85,666.87 71.27,662.03 70.60,660.20 C69.93,658.37 68.27,658.53 67.10,657.20 C65.93,655.87 64.40,654.37 63.60,652.20 C62.80,650.03 62.47,647.03 62.30,644.20 C62.13,641.37 62.30,637.70 62.60,635.20 C62.90,632.70 63.77,631.37 64.10,629.20 C64.43,627.03 64.10,624.03 64.60,622.20 C65.10,620.37 66.02,619.37 67.10,618.20 C68.18,617.03 70.35,616.70 71.10,615.20 C71.85,613.70 71.27,611.03 71.60,609.20 C71.93,607.37 72.52,605.20 73.10,604.20 C73.68,603.20 74.18,603.03 75.10,603.20 Z"/></clipPath></defs><path d="M66.30,606.30 V601.80 H81.90 V606.30 M68.30,606.30 V604.30 H71.80 M79.90,606.30 V604.30 H76.40" fill="none" stroke="#8a8a8a" stroke-width="0.9"/><g filter="url(#bl)"><g clip-path="url(#pc8)"><rect x="61.1" y="600.2" width="26.0" height="73.1" fill="#4a7aa8"/><path d="M62.2,644.2h2.4v2.4h-2.4zM68.1,630.9h2.6v2.6h-2.6zM78.1,626.7h1.9v1.9h-1.9zM73.2,662.3h1.9v1.9h-1.9zM71.2,636.5h1.8v1.8h-1.8zM71.6,615.7h2.0v2.0h-2.0zM62.1,617.8h1.5v1.5h-1.5zM65.8,638.7h2.2v2.2h-2.2zM71.8,655.7h3.0v3.0h-3.0zM66.1,610.9h2.9v2.9h-2.9zM76.6,655.7h2.8v2.8h-2.8zM73.0,638.5h2.3v2.3h-2.3zM64.8,612.1h1.4v1.4h-1.4zM72.6,616.1h2.8v2.8h-2.8zM78.6,656.8h1.9v1.9h-1.9zM73.9,621.0h2.9v2.9h-2.9zM71.1,613.1h2.5v2.5h-2.5zM74.4,649.9h2.6v2.6h-2.6zM81.2,639.8h1.3v1.3h-1.3zM68.2,647.5h1.9v1.9h-1.9zM82.0,650.0h1.4v1.4h-1.4zM64.8,623.2h2.9v2.9h-2.9zM75.5,631.4h1.7v1.7h-1.7zM62.3,614.2h1.7v1.7h-1.7zM65.4,646.6h2.4v2.4h-2.4zM74.2,623.8h2.7v2.7h-2.7zM78.1,660.3h2.8v2.8h-2.8zM66.1,648.3h2.2v2.2h-2.2zM78.6,648.5h1.4v1.4h-1.4zM67.9,659.2h1.5v1.5h-1.5zM79.9,627.5h3.0v3.0h-3.0zM82.4,637.3h1.4v1.4h-1.4zM71.4,624.0h1.3v1.3h-1.3z" fill="#6a6e80" opacity="0.8"/><path d="M73.6,613.1h2.5v2.5h-2.5zM78.0,637.3h2.4v2.4h-2.4zM84.4,642.3h2.3v2.3h-2.3zM63.6,641.7h1.7v1.7h-1.7zM78.6,653.4h1.6v1.6h-1.6zM65.7,642.4h2.5v2.5h-2.5zM74.9,616.6h1.6v1.6h-1.6zM84.1,637.3h1.5v1.5h-1.5zM72.3,604.7h1.3v1.3h-1.3zM68.4,601.1h2.5v2.5h-2.5zM76.5,623.6h2.3v2.3h-2.3zM75.3,622.4h1.8v1.8h-1.8zM70.0,607.1h1.4v1.4h-1.4zM81.3,635.5h1.5v1.5h-1.5zM70.0,644.1h2.7v2.7h-2.7zM84.4,616.3h2.0v2.0h-2.0zM75.4,635.1h2.5v2.5h-2.5zM78.9,637.7h1.9v1.9h-1.9zM79.1,631.2h1.5v1.5h-1.5zM71.7,599.7h2.6v2.6h-2.6zM76.2,614.2h1.9v1.9h-1.9zM73.1,651.3h2.5v2.5h-2.5zM78.5,611.0h1.5v1.5h-1.5zM64.4,634.2h1.3v1.3h-1.3zM70.9,628.6h1.6v1.6h-1.6zM71.9,613.2h2.1v2.1h-2.1zM81.2,634.3h3.0v3.0h-3.0zM64.4,621.0h1.5v1.5h-1.5zM74.3,605.9h2.4v2.4h-2.4zM69.6,615.2h2.6v2.6h-2.6zM67.2,661.2h2.1v2.1h-2.1zM71.1,607.3h2.9v2.9h-2.9zM76.7,654.0h3.0v3.0h-3.0zM72.1,628.9h1.8v1.8h-1.8zM73.0,654.8h1.3v1.3h-1.3zM70.3,603.1h1.5v1.5h-1.5zM62.2,635.7h2.7v2.7h-2.7zM81.9,629.2h2.4v2.4h-2.4zM79.8,620.2h1.6v1.6h-1.6zM71.4,616.4h1.9v1.9h-1.9zM62.5,617.4h1.6v1.6h-1.6zM81.6,607.3h1.8v1.8h-1.8zM66.0,658.3h2.5v2.5h-2.5zM63.0,619.2h2.6v2.6h-2.6zM85.2,623.3h2.2v2.2h-2.2zM71.7,664.3h1.6v1.6h-1.6zM64.9,645.4h1.9v1.9h-1.9zM78.8,607.2h2.9v2.9h-2.9zM65.5,625.8h3.0v3.0h-3.0zM62.6,636.3h2.1v2.1h-2.1zM69.4,643.4h1.6v1.6h-1.6zM73.0,619.0h2.5v2.5h-2.5zM77.5,646.9h2.2v2.2h-2.2zM81.8,620.4h1.4v1.4h-1.4zM75.8,631.9h3.0v3.0h-3.0zM80.8,639.4h2.4v2.4h-2.4zM70.6,610.9h2.0v2.0h-2.0zM71.1,647.1h2.3v2.3h-2.3zM74.8,644.2h1.6v1.6h-1.6zM77.0,640.6h2.0v2.0h-2.0zM64.6,613.1h2.7v2.7h-2.7zM69.0,620.7h2.4v2.4h-2.4zM73.6,621.9h2.6v2.6h-2.6zM80.3,653.9h2.9v2.9h-2.9z" fill="#58b870" opacity="0.8"/><path d="M72.4,637.7h2.4v2.4h-2.4zM82.5,614.5h1.8v1.8h-1.8zM66.4,621.7h1.7v1.7h-1.7zM78.9,642.4h1.7v1.7h-1.7zM71.9,638.2h2.8v2.8h-2.8zM62.7,645.5h3.1v3.1h-3.1zM81.9,645.4h3.0v3.0h-3.0zM78.2,657.0h2.8v2.8h-2.8zM74.9,652.0h1.3v1.3h-1.3zM82.6,614.8h3.0v3.0h-3.0zM62.7,621.1h1.5v1.5h-1.5zM70.3,610.8h2.9v2.9h-2.9zM81.9,643.5h2.4v2.4h-2.4zM71.8,655.1h1.7v1.7h-1.7zM77.6,637.9h2.9v2.9h-2.9zM76.1,658.0h3.0v3.0h-3.0zM75.9,634.3h2.7v2.7h-2.7zM61.5,619.5h1.4v1.4h-1.4zM64.5,618.8h2.4v2.4h-2.4zM63.5,631.9h1.6v1.6h-1.6zM77.6,616.7h2.3v2.3h-2.3zM78.9,613.1h2.6v2.6h-2.6zM65.5,605.8h2.4v2.4h-2.4zM85.5,634.9h2.1v2.1h-2.1zM81.7,644.8h1.7v1.7h-1.7zM66.0,629.3h1.4v1.4h-1.4zM72.2,601.6h2.7v2.7h-2.7z" fill="#c89048" opacity="0.8"/><path d="M72.3,662.4h3.0v3.0h-3.0zM74.0,616.9h2.9v2.9h-2.9zM76.5,658.0h2.1v2.1h-2.1zM76.9,654.9h1.3v1.3h-1.3zM74.1,653.9h2.2v2.2h-2.2zM62.2,623.0h2.6v2.6h-2.6zM69.2,601.2h2.1v2.1h-2.1zM63.3,650.9h2.4v2.4h-2.4zM83.3,626.6h2.6v2.6h-2.6zM78.3,621.0h2.2v2.2h-2.2zM75.4,642.0h2.6v2.6h-2.6zM79.0,653.2h2.0v2.0h-2.0zM77.7,628.7h1.8v1.8h-1.8zM77.0,624.9h2.6v2.6h-2.6zM79.8,630.4h2.8v2.8h-2.8zM84.5,630.0h2.5v2.5h-2.5zM76.2,602.4h1.9v1.9h-1.9zM76.8,641.2h1.7v1.7h-1.7zM84.7,627.6h2.3v2.3h-2.3zM69.0,649.9h2.1v2.1h-2.1zM73.2,640.6h2.7v2.7h-2.7zM76.6,654.1h2.2v2.2h-2.2zM64.4,629.9h1.6v1.6h-1.6zM76.7,646.5h2.4v2.4h-2.4zM70.7,621.5h2.8v2.8h-2.8zM79.5,612.7h2.2v2.2h-2.2zM66.6,623.3h2.3v2.3h-2.3zM69.8,611.5h2.8v2.8h-2.8zM79.6,616.0h1.5v1.5h-1.5zM71.8,608.4h1.7v1.7h-1.7zM69.8,624.2h2.3v2.3h-2.3zM76.3,662.0h2.5v2.5h-2.5z" fill="#50b0a8" opacity="0.8"/><path d="M73.0,652.2h2.6v2.6h-2.6zM76.7,614.8h1.7v1.7h-1.7zM69.3,615.7h1.5v1.5h-1.5zM78.2,641.0h2.8v2.8h-2.8zM64.2,624.0h2.7v2.7h-2.7zM66.8,631.5h2.1v2.1h-2.1zM70.3,638.4h1.6v1.6h-1.6zM82.6,616.4h2.6v2.6h-2.6zM79.8,639.6h1.7v1.7h-1.7zM74.4,601.0h2.8v2.8h-2.8zM66.0,618.0h2.6v2.6h-2.6zM66.2,615.0h2.5v2.5h-2.5zM64.1,641.7h2.9v2.9h-2.9zM73.0,648.1h3.0v3.0h-3.0zM79.7,651.2h2.5v2.5h-2.5zM69.9,623.8h2.0v2.0h-2.0zM81.5,624.1h2.2v2.2h-2.2zM82.9,631.1h2.4v2.4h-2.4zM75.2,635.5h2.1v2.1h-2.1zM73.6,632.6h3.0v3.0h-3.0zM79.0,613.8h2.4v2.4h-2.4zM74.6,659.6h2.5v2.5h-2.5zM77.2,614.2h1.6v1.6h-1.6zM69.6,632.8h1.7v1.7h-1.7zM74.5,630.8h1.9v1.9h-1.9zM67.0,650.4h1.8v1.8h-1.8zM70.0,649.4h2.1v2.1h-2.1zM83.9,616.4h1.4v1.4h-1.4zM76.2,603.9h1.7v1.7h-1.7zM81.6,613.1h3.1v3.1h-3.1zM65.9,643.3h2.7v2.7h-2.7zM61.9,623.5h2.4v2.4h-2.4zM71.3,617.3h2.0v2.0h-2.0zM62.5,633.8h2.7v2.7h-2.7zM69.9,641.7h1.6v1.6h-1.6zM82.2,618.1h1.9v1.9h-1.9zM68.1,651.5h2.9v2.9h-2.9zM68.1,654.7h3.0v3.0h-3.0zM74.2,619.4h2.9v2.9h-2.9zM72.0,625.9h2.2v2.2h-2.2zM75.9,629.0h3.0v3.0h-3.0zM67.1,643.0h2.0v2.0h-2.0zM66.9,645.3h2.0v2.0h-2.0zM70.0,611.2h2.1v2.1h-2.1zM69.1,649.5h1.3v1.3h-1.3zM71.7,615.2h1.8v1.8h-1.8zM63.9,642.9h1.7v1.7h-1.7zM65.0,648.0h2.9v2.9h-2.9zM74.5,639.5h2.0v2.0h-2.0zM61.0,629.5h2.5v2.5h-2.5zM78.9,635.3h2.1v2.1h-2.1zM64.0,647.8h1.6v1.6h-1.6zM78.1,660.4h2.3v2.3h-2.3zM76.3,609.5h1.5v1.5h-1.5zM75.3,653.1h2.6v2.6h-2.6zM65.8,651.2h1.6v1.6h-1.6zM68.6,629.4h2.1v2.1h-2.1zM70.7,629.3h1.7v1.7h-1.7zM70.4,655.4h3.0v3.0h-3.0zM76.0,659.8h1.4v1.4h-1.4zM74.0,608.3h2.7v2.7h-2.7zM80.1,640.8h1.4v1.4h-1.4zM82.6,646.2h2.3v2.3h-2.3zM70.9,620.5h1.9v1.9h-1.9z" fill="#4a5ab8" opacity="0.8"/><path d="M71.7,633.5h2.8v2.8h-2.8zM68.8,627.7h2.2v2.2h-2.2zM67.0,654.2h3.0v3.0h-3.0zM76.8,648.1h2.6v2.6h-2.6zM63.6,630.1h1.7v1.7h-1.7zM76.6,617.0h1.4v1.4h-1.4zM70.2,619.8h3.0v3.0h-3.0zM71.0,619.6h2.1v2.1h-2.1zM67.7,655.1h2.3v2.3h-2.3zM68.6,614.8h2.3v2.3h-2.3zM71.7,600.6h2.3v2.3h-2.3zM66.1,625.8h2.5v2.5h-2.5zM65.7,611.7h1.5v1.5h-1.5zM63.7,612.5h3.0v3.0h-3.0zM83.9,640.2h2.1v2.1h-2.1zM73.1,609.6h2.0v2.0h-2.0zM78.7,624.4h2.4v2.4h-2.4zM74.8,627.0h1.9v1.9h-1.9zM70.8,636.4h2.6v2.6h-2.6zM81.4,629.8h1.3v1.3h-1.3zM77.2,646.3h1.3v1.3h-1.3zM85.6,634.1h2.0v2.0h-2.0z" fill="#98c860" opacity="0.8"/><path d="M65.5,635.9h2.0v2.0h-2.0zM68.0,648.6h1.6v1.6h-1.6zM69.8,632.1h2.9v2.9h-2.9zM77.4,650.5h2.3v2.3h-2.3zM73.1,643.5h2.9v2.9h-2.9zM80.1,608.9h2.0v2.0h-2.0zM81.4,625.1h2.4v2.4h-2.4zM68.9,644.4h2.1v2.1h-2.1zM78.3,610.5h1.7v1.7h-1.7zM68.5,625.2h2.6v2.6h-2.6zM77.1,616.4h1.6v1.6h-1.6zM68.9,621.0h1.7v1.7h-1.7zM75.3,656.5h1.5v1.5h-1.5zM72.4,615.1h1.6v1.6h-1.6zM71.7,637.9h2.1v2.1h-2.1zM62.1,623.2h3.0v3.0h-3.0zM65.9,652.0h2.2v2.2h-2.2zM79.4,631.9h2.3v2.3h-2.3zM76.7,620.5h2.0v2.0h-2.0zM63.1,650.7h2.5v2.5h-2.5zM62.1,632.0h2.5v2.5h-2.5zM80.7,625.3h2.4v2.4h-2.4zM70.1,605.2h1.8v1.8h-1.8zM82.7,612.1h1.6v1.6h-1.6zM73.4,660.6h1.6v1.6h-1.6zM78.2,642.2h1.5v1.5h-1.5z" fill="#707480" opacity="0.8"/><path d="M66.3,613.9h1.8v1.8h-1.8zM84.9,620.1h2.3v2.3h-2.3zM76.4,613.1h1.9v1.9h-1.9zM68.9,603.3h1.3v1.3h-1.3zM82.3,623.3h1.7v1.7h-1.7zM79.9,652.6h2.1v2.1h-2.1zM73.4,648.0h2.2v2.2h-2.2zM75.1,640.1h1.3v1.3h-1.3zM71.5,657.8h3.0v3.0h-3.0zM77.4,624.5h1.8v1.8h-1.8zM76.4,606.3h2.3v2.3h-2.3zM81.0,645.6h1.7v1.7h-1.7zM64.0,608.9h2.2v2.2h-2.2zM66.2,646.4h1.5v1.5h-1.5zM73.3,633.6h2.8v2.8h-2.8zM67.2,624.6h2.4v2.4h-2.4zM65.1,628.2h2.5v2.5h-2.5zM73.7,605.8h1.8v1.8h-1.8zM68.7,632.0h1.9v1.9h-1.9zM64.7,645.4h2.5v2.5h-2.5zM74.8,657.5h1.7v1.7h-1.7zM73.0,645.2h2.7v2.7h-2.7zM69.3,634.9h2.0v2.0h-2.0zM72.0,653.5h2.2v2.2h-2.2zM67.5,618.8h1.3v1.3h-1.3zM69.6,616.0h1.4v1.4h-1.4zM72.9,626.5h2.3v2.3h-2.3zM83.0,621.0h2.0v2.0h-2.0zM61.2,632.8h1.6v1.6h-1.6zM82.8,640.9h2.5v2.5h-2.5zM81.0,656.7h1.9v1.9h-1.9zM70.0,603.2h2.3v2.3h-2.3zM80.5,655.0h2.7v2.7h-2.7zM77.5,626.7h1.5v1.5h-1.5zM66.1,629.1h1.9v1.9h-1.9zM71.4,645.0h1.9v1.9h-1.9zM84.5,631.4h2.1v2.1h-2.1zM62.8,617.2h2.1v2.1h-2.1z" fill="#3848a8" opacity="0.8"/><path d="M68.7,656.4h1.5v1.5h-1.5zM66.8,632.4h3.0v3.0h-3.0zM79.3,641.5h2.1v2.1h-2.1zM76.7,640.7h2.9v2.9h-2.9zM68.3,605.7h1.5v1.5h-1.5zM79.7,633.4h1.7v1.7h-1.7zM62.7,630.6h1.9v1.9h-1.9zM70.6,642.4h1.6v1.6h-1.6zM74.0,603.2h1.8v1.8h-1.8zM81.8,629.0h1.8v1.8h-1.8zM66.5,629.0h1.7v1.7h-1.7zM82.8,622.2h1.5v1.5h-1.5zM77.9,656.8h1.5v1.5h-1.5zM81.5,616.5h1.7v1.7h-1.7zM73.4,643.7h2.9v2.9h-2.9zM62.2,633.7h2.4v2.4h-2.4zM70.6,635.6h2.5v2.5h-2.5zM70.0,646.9h2.8v2.8h-2.8zM68.5,660.4h2.7v2.7h-2.7zM73.1,647.1h1.4v1.4h-1.4zM69.5,619.1h2.4v2.4h-2.4zM77.0,605.9h2.1v2.1h-2.1zM84.6,638.1h1.5v1.5h-1.5zM76.9,649.3h2.4v2.4h-2.4z" fill="#60b0a0" opacity="0.8"/><ellipse cx="69.60" cy="636.20" rx="5" ry="5.5" fill="#76788a"/><ellipse cx="73.10" cy="644.20" rx="3" ry="3" fill="#76788a"/><ellipse cx="75.10" cy="610.20" rx="3" ry="5" fill="#50b8a0" opacity="0.75"/><ellipse cx="73.10" cy="622.20" rx="7" ry="4" fill="#58c070" opacity="0.75"/><ellipse cx="76.10" cy="648.20" rx="6" ry="5" fill="#58c070" opacity="0.75"/><ellipse cx="74.10" cy="628.20" rx="8" ry="1.0" fill="#2838a8" opacity="0.75"/><ellipse cx="80.10" cy="630.20" rx="2" ry="2" fill="#d8a040" opacity="0.75"/></g><path d="M75.10,603.20 C76.02,603.37 77.77,604.03 78.60,605.20 C79.43,606.37 79.77,608.53 80.10,610.20 C80.43,611.87 80.18,613.70 80.60,615.20 C81.02,616.70 82.18,617.53 82.60,619.20 C83.02,620.87 83.18,623.53 83.10,625.20 C83.02,626.87 81.85,627.37 82.10,629.20 C82.35,631.03 84.10,634.03 84.60,636.20 C85.10,638.37 85.27,639.87 85.10,642.20 C84.93,644.53 84.43,647.87 83.60,650.20 C82.77,652.53 81.35,654.87 80.10,656.20 C78.85,657.53 77.35,657.53 76.10,658.20 C74.85,658.87 73.27,658.53 72.60,660.20 C71.93,661.87 72.35,666.87 72.10,668.20 C71.85,669.53 71.35,669.53 71.10,668.20 C70.85,666.87 71.27,662.03 70.60,660.20 C69.93,658.37 68.27,658.53 67.10,657.20 C65.93,655.87 64.40,654.37 63.60,652.20 C62.80,650.03 62.47,647.03 62.30,644.20 C62.13,641.37 62.30,637.70 62.60,635.20 C62.90,632.70 63.77,631.37 64.10,629.20 C64.43,627.03 64.10,624.03 64.60,622.20 C65.10,620.37 66.02,619.37 67.10,618.20 C68.18,617.03 70.35,616.70 71.10,615.20 C71.85,613.70 71.27,611.03 71.60,609.20 C71.93,607.37 72.52,605.20 73.10,604.20 C73.68,603.20 74.18,603.03 75.10,603.20 Z" fill="none" stroke="#3444c4" stroke-width="0.8"/><circle cx="74.10" cy="605.20" r="1.70" fill="#d8c040" opacity="0.85"/><circle cx="74.10" cy="605.20" r="0.72" fill="#e05038"/><circle cx="78.10" cy="606.20" r="1.70" fill="#d8c040" opacity="0.85"/><circle cx="78.10" cy="606.20" r="0.72" fill="#e05038"/><circle cx="66.10" cy="621.20" r="1.90" fill="#d8c040" opacity="0.85"/><circle cx="66.10" cy="621.20" r="0.88" fill="#e05038"/><circle cx="80.10" cy="622.20" r="1.90" fill="#d8c040" opacity="0.85"/><circle cx="80.10" cy="622.20" r="0.88" fill="#e05038"/><circle cx="76.10" cy="653.20" r="1.60" fill="#d8c040" opacity="0.85"/><circle cx="76.10" cy="653.20" r="0.64" fill="#e05038"/><circle cx="80.60" cy="652.20" r="1.60" fill="#d8c040" opacity="0.85"/><circle cx="80.60" cy="652.20" r="0.64" fill="#e05038"/><ellipse cx="82.40" cy="639.70" rx="3.00" ry="4.00" fill="#b0c848"/><ellipse cx="82.40" cy="639.70" rx="2.40" ry="3.40" fill="#d83050"/><ellipse cx="82.40" cy="639.70" rx="1.60" ry="2.60" fill="#bcb0bc"/><ellipse cx="66.10" cy="649.20" rx="3.00" ry="3.00" fill="#b0c848"/><ellipse cx="66.10" cy="649.20" rx="2.40" ry="2.40" fill="#d83050"/><ellipse cx="66.10" cy="649.20" rx="1.60" ry="1.60" fill="#bcb0bc"/><ellipse cx="70.60" cy="666.20" rx="1.1" ry="1.4" fill="#eeeeee"/><ellipse cx="66.10" cy="649.20" rx="0.8" ry="0.8" fill="#eeeeee"/></g><polygon points="80.10,651.20 83.30,649.70 82.90,653.10" fill="#fff"/><line x1="82.50" y1="651.80" x2="84.40" y2="657.20" stroke="#ddd" stroke-width="0.6"/></g></svg></g>
<g><rect x="92.20" y="600.20" width="25.60" height="73.10" fill="#000"/><svg x="92.20" y="600.20" width="25.60" height="73.10" overflow="hidden"><g transform="translate(-92.20,-600.20)"><defs><clipPath id="pc9"><path d="M104.20,603.20 C105.03,603.03 106.03,604.03 106.70,605.20 C107.37,606.37 107.87,608.53 108.20,610.20 C108.53,611.87 108.37,613.20 108.70,615.20 C109.03,617.20 109.87,620.03 110.20,622.20 C110.53,624.37 110.03,626.37 110.70,628.20 C111.37,630.03 113.37,631.20 114.20,633.20 C115.03,635.20 115.70,638.03 115.70,640.20 C115.70,642.37 114.95,644.53 114.20,646.20 C113.45,647.87 112.20,648.87 111.20,650.20 C110.20,651.53 109.37,653.03 108.20,654.20 C107.03,655.37 105.53,656.53 104.20,657.20 C102.87,657.87 101.53,658.37 100.20,658.20 C98.87,658.03 97.28,657.20 96.20,656.20 C95.12,655.20 94.20,654.03 93.70,652.20 C93.20,650.37 93.12,647.87 93.20,645.20 C93.28,642.53 93.70,639.03 94.20,636.20 C94.70,633.37 95.53,630.87 96.20,628.20 C96.87,625.53 97.53,622.70 98.20,620.20 C98.87,617.70 99.62,615.53 100.20,613.20 C100.78,610.87 101.03,607.87 101.70,606.20 C102.37,604.53 103.37,603.37 104.20,603.20 Z"/></clipPath></defs><path d="M97.32,606.30 V601.80 H112.68 V606.30 M99.32,606.30 V604.30 H102.82 M110.68,606.30 V604.30 H107.18" fill="none" stroke="#8a8a8a" stroke-width="0.9"/><g filter="url(#bl)"><g clip-path="url(#pc9)"><rect x="92.2" y="600.2" width="25.6" height="73.1" fill="#4a7aa8"/><path d="M100.0,662.6h2.2v2.2h-2.2zM97.8,636.1h2.1v2.1h-2.1zM103.3,649.9h1.8v1.8h-1.8zM92.5,647.3h2.4v2.4h-2.4zM110.3,636.6h2.2v2.2h-2.2zM106.0,659.0h2.7v2.7h-2.7zM107.0,603.0h1.5v1.5h-1.5zM112.4,614.7h2.7v2.7h-2.7zM106.4,616.2h1.9v1.9h-1.9zM103.5,651.8h1.6v1.6h-1.6zM94.6,649.9h2.7v2.7h-2.7zM106.3,658.4h2.6v2.6h-2.6zM100.3,641.2h1.6v1.6h-1.6zM108.8,629.0h2.2v2.2h-2.2zM113.7,625.9h2.3v2.3h-2.3zM112.1,642.8h2.6v2.6h-2.6zM106.2,625.0h1.4v1.4h-1.4zM104.5,619.9h2.7v2.7h-2.7zM103.2,601.6h1.9v1.9h-1.9zM95.2,639.6h2.2v2.2h-2.2zM107.6,655.8h1.5v1.5h-1.5zM105.1,660.1h2.7v2.7h-2.7zM100.8,624.7h2.1v2.1h-2.1zM101.9,604.8h1.3v1.3h-1.3zM104.4,602.5h1.7v1.7h-1.7zM112.1,641.5h1.3v1.3h-1.3zM104.6,646.7h2.2v2.2h-2.2z" fill="#6a6e80" opacity="0.8"/><path d="M112.9,653.1h2.7v2.7h-2.7zM97.6,605.2h2.0v2.0h-2.0zM110.3,616.3h2.0v2.0h-2.0zM101.2,621.2h2.6v2.6h-2.6zM102.3,631.8h2.9v2.9h-2.9zM109.0,631.6h2.3v2.3h-2.3zM107.7,660.5h1.4v1.4h-1.4zM93.8,621.9h2.6v2.6h-2.6zM95.5,649.5h2.0v2.0h-2.0zM107.8,619.2h1.5v1.5h-1.5zM108.2,601.7h1.9v1.9h-1.9zM100.9,644.0h2.0v2.0h-2.0zM104.4,617.0h2.6v2.6h-2.6zM112.6,620.3h2.9v2.9h-2.9zM106.4,635.4h2.2v2.2h-2.2zM105.6,659.5h2.9v2.9h-2.9zM93.8,642.1h2.5v2.5h-2.5zM113.6,643.4h2.1v2.1h-2.1zM109.5,616.4h2.2v2.2h-2.2zM100.2,638.7h2.4v2.4h-2.4zM109.1,628.6h2.6v2.6h-2.6zM104.0,601.8h2.0v2.0h-2.0zM95.0,611.6h1.6v1.6h-1.6zM111.1,612.1h2.1v2.1h-2.1zM109.7,648.0h2.4v2.4h-2.4zM91.4,637.3h2.3v2.3h-2.3zM110.6,613.5h1.3v1.3h-1.3zM100.7,656.5h2.0v2.0h-2.0z" fill="#707480" opacity="0.8"/><path d="M104.1,601.9h1.7v1.7h-1.7zM100.8,648.8h2.8v2.8h-2.8zM101.7,616.1h1.6v1.6h-1.6zM99.1,621.1h1.4v1.4h-1.4zM105.0,617.1h2.8v2.8h-2.8zM103.2,599.4h2.9v2.9h-2.9zM105.1,635.0h1.6v1.6h-1.6zM101.6,609.5h2.8v2.8h-2.8zM106.0,635.0h2.5v2.5h-2.5zM105.1,651.3h3.0v3.0h-3.0zM99.4,636.2h3.0v3.0h-3.0zM113.6,648.4h2.4v2.4h-2.4zM109.0,638.4h2.6v2.6h-2.6zM97.8,628.2h2.2v2.2h-2.2zM108.9,609.1h2.4v2.4h-2.4zM107.5,606.2h3.0v3.0h-3.0zM105.6,629.0h1.9v1.9h-1.9zM105.9,613.1h1.7v1.7h-1.7z" fill="#c89048" opacity="0.8"/><path d="M105.8,627.0h2.5v2.5h-2.5zM106.2,605.3h3.0v3.0h-3.0zM105.6,662.4h2.4v2.4h-2.4zM106.5,624.6h2.3v2.3h-2.3zM102.4,619.6h2.6v2.6h-2.6zM110.0,610.3h2.3v2.3h-2.3zM98.6,643.7h2.4v2.4h-2.4zM103.6,642.0h1.5v1.5h-1.5zM109.5,612.8h1.7v1.7h-1.7zM100.2,600.4h3.0v3.0h-3.0zM105.8,604.5h1.5v1.5h-1.5zM105.8,641.4h1.8v1.8h-1.8zM105.8,639.5h3.0v3.0h-3.0zM91.1,634.5h2.9v2.9h-2.9zM93.6,610.3h2.9v2.9h-2.9zM112.0,607.4h1.7v1.7h-1.7zM95.0,642.0h1.7v1.7h-1.7zM96.2,635.5h3.0v3.0h-3.0zM114.5,649.0h2.2v2.2h-2.2zM104.9,621.7h1.4v1.4h-1.4zM105.1,650.2h2.1v2.1h-2.1zM108.4,642.9h2.6v2.6h-2.6zM108.1,641.5h2.9v2.9h-2.9zM99.3,617.8h2.1v2.1h-2.1zM105.3,616.9h2.8v2.8h-2.8zM109.8,654.3h1.4v1.4h-1.4zM98.8,622.1h1.8v1.8h-1.8z" fill="#98c860" opacity="0.8"/><path d="M100.5,637.1h2.4v2.4h-2.4zM96.9,637.2h1.6v1.6h-1.6zM97.4,646.3h1.3v1.3h-1.3zM93.0,640.5h1.7v1.7h-1.7zM98.7,602.2h2.7v2.7h-2.7zM111.5,619.2h1.9v1.9h-1.9zM102.8,604.1h1.3v1.3h-1.3zM109.8,651.7h2.3v2.3h-2.3zM99.1,620.0h2.7v2.7h-2.7zM97.6,613.7h3.0v3.0h-3.0zM103.6,618.5h1.8v1.8h-1.8zM92.8,614.7h2.7v2.7h-2.7zM96.0,632.1h1.5v1.5h-1.5zM106.5,622.7h2.1v2.1h-2.1zM115.0,639.5h2.3v2.3h-2.3zM104.6,611.0h3.0v3.0h-3.0zM98.3,604.9h1.5v1.5h-1.5zM99.1,603.5h1.4v1.4h-1.4zM97.4,653.6h1.4v1.4h-1.4zM108.3,641.7h2.4v2.4h-2.4zM101.3,630.3h2.7v2.7h-2.7zM94.3,630.3h1.7v1.7h-1.7zM103.6,622.4h2.9v2.9h-2.9zM103.5,624.1h1.6v1.6h-1.6zM104.5,612.5h2.8v2.8h-2.8zM104.8,609.2h3.0v3.0h-3.0zM99.9,603.5h2.9v2.9h-2.9zM115.2,620.0h2.7v2.7h-2.7zM91.4,630.0h1.9v1.9h-1.9zM111.1,607.8h1.4v1.4h-1.4zM93.6,611.5h2.6v2.6h-2.6zM113.6,616.0h2.6v2.6h-2.6zM101.1,620.9h2.9v2.9h-2.9zM103.8,650.1h1.9v1.9h-1.9zM98.8,613.0h2.4v2.4h-2.4zM102.9,648.2h2.0v2.0h-2.0zM98.8,652.5h1.9v1.9h-1.9zM115.3,632.5h1.7v1.7h-1.7zM106.8,609.2h1.4v1.4h-1.4zM104.2,615.7h1.7v1.7h-1.7zM107.3,635.7h1.3v1.3h-1.3zM107.4,606.7h1.8v1.8h-1.8zM100.3,616.5h1.7v1.7h-1.7zM103.6,641.6h2.3v2.3h-2.3zM111.4,654.4h1.7v1.7h-1.7zM96.4,606.7h2.6v2.6h-2.6zM104.7,663.2h1.7v1.7h-1.7zM100.1,636.5h1.4v1.4h-1.4zM98.1,637.6h1.9v1.9h-1.9zM101.2,645.3h2.5v2.5h-2.5zM112.0,616.6h2.5v2.5h-2.5zM108.9,647.3h2.0v2.0h-2.0zM111.2,624.0h2.5v2.5h-2.5zM98.6,650.0h1.4v1.4h-1.4zM99.9,659.2h1.7v1.7h-1.7zM109.2,634.7h2.0v2.0h-2.0zM93.9,620.1h1.7v1.7h-1.7zM108.7,632.0h1.8v1.8h-1.8zM110.5,643.8h2.7v2.7h-2.7zM115.9,624.7h1.7v1.7h-1.7zM102.3,659.0h3.0v3.0h-3.0zM108.2,647.2h2.2v2.2h-2.2zM100.6,659.0h2.8v2.8h-2.8zM109.6,651.2h3.0v3.0h-3.0zM107.8,611.8h2.0v2.0h-2.0zM93.6,626.6h1.3v1.3h-1.3zM116.3,631.4h1.5v1.5h-1.5zM115.0,624.6h1.8v1.8h-1.8zM96.5,629.0h2.7v2.7h-2.7zM108.6,655.4h1.7v1.7h-1.7zM104.8,612.1h2.1v2.1h-2.1zM97.2,606.3h2.4v2.4h-2.4zM109.0,657.5h2.0v2.0h-2.0zM101.3,644.0h2.6v2.6h-2.6zM100.0,608.0h1.4v1.4h-1.4zM93.8,612.1h3.0v3.0h-3.0zM104.4,649.9h2.8v2.8h-2.8zM96.3,626.9h2.7v2.7h-2.7zM106.5,602.1h1.6v1.6h-1.6zM102.1,638.7h1.5v1.5h-1.5zM100.3,649.1h2.8v2.8h-2.8zM101.9,620.5h2.9v2.9h-2.9zM106.4,657.8h1.4v1.4h-1.4z" fill="#58b870" opacity="0.8"/><path d="M113.2,633.0h1.3v1.3h-1.3zM106.2,649.6h2.0v2.0h-2.0zM97.2,619.6h3.0v3.0h-3.0zM95.9,606.2h2.4v2.4h-2.4zM100.9,650.2h2.3v2.3h-2.3zM101.4,630.5h2.7v2.7h-2.7zM109.7,632.7h1.9v1.9h-1.9zM111.4,656.2h2.3v2.3h-2.3zM112.3,637.7h2.1v2.1h-2.1zM105.6,619.5h2.2v2.2h-2.2zM105.6,634.2h2.4v2.4h-2.4zM98.3,624.8h2.6v2.6h-2.6zM97.6,641.0h1.4v1.4h-1.4zM106.9,635.6h2.0v2.0h-2.0zM101.6,618.5h3.0v3.0h-3.0zM102.1,654.1h2.1v2.1h-2.1zM93.7,639.2h1.4v1.4h-1.4zM94.9,628.9h1.8v1.8h-1.8zM106.2,646.0h2.3v2.3h-2.3zM107.4,607.0h2.2v2.2h-2.2zM93.4,649.0h1.7v1.7h-1.7zM109.2,647.8h2.0v2.0h-2.0zM107.6,635.5h1.6v1.6h-1.6zM107.9,604.6h1.7v1.7h-1.7zM100.4,635.7h2.0v2.0h-2.0zM108.7,660.5h2.3v2.3h-2.3z" fill="#50b0a8" opacity="0.8"/><path d="M109.3,640.7h2.5v2.5h-2.5zM101.9,623.9h2.4v2.4h-2.4zM109.4,628.7h1.8v1.8h-1.8zM100.8,614.1h1.8v1.8h-1.8zM102.8,646.3h2.9v2.9h-2.9zM105.2,653.4h2.6v2.6h-2.6zM101.9,628.5h2.2v2.2h-2.2zM112.1,642.1h1.5v1.5h-1.5zM101.3,612.5h1.3v1.3h-1.3zM113.1,649.3h3.0v3.0h-3.0zM94.2,638.6h2.4v2.4h-2.4zM104.3,606.9h2.6v2.6h-2.6zM115.0,636.1h2.7v2.7h-2.7zM102.9,650.2h1.8v1.8h-1.8zM114.4,626.9h1.8v1.8h-1.8zM109.1,639.9h2.9v2.9h-2.9zM110.2,656.3h2.4v2.4h-2.4zM108.3,650.9h1.4v1.4h-1.4zM98.9,606.4h1.3v1.3h-1.3zM101.2,621.6h1.4v1.4h-1.4zM106.8,604.9h1.9v1.9h-1.9zM102.2,616.2h2.7v2.7h-2.7zM112.2,646.3h1.6v1.6h-1.6zM104.9,649.2h2.4v2.4h-2.4zM100.7,646.0h1.7v1.7h-1.7zM116.2,627.8h2.1v2.1h-2.1zM114.1,643.9h1.6v1.6h-1.6zM99.7,655.8h2.9v2.9h-2.9z" fill="#3848a8" opacity="0.8"/><path d="M96.2,645.4h1.7v1.7h-1.7zM102.4,625.5h2.7v2.7h-2.7zM98.5,644.4h1.5v1.5h-1.5zM116.0,634.0h1.4v1.4h-1.4zM98.7,644.7h2.2v2.2h-2.2zM101.0,632.1h2.2v2.2h-2.2zM108.8,607.5h2.9v2.9h-2.9zM96.6,645.7h1.9v1.9h-1.9zM96.5,617.4h2.4v2.4h-2.4zM115.5,625.8h2.4v2.4h-2.4zM98.3,637.2h2.5v2.5h-2.5zM101.1,650.2h1.4v1.4h-1.4zM105.9,609.8h2.7v2.7h-2.7zM105.9,648.3h1.3v1.3h-1.3zM110.4,616.6h2.4v2.4h-2.4zM108.5,654.7h2.8v2.8h-2.8zM103.3,605.7h1.7v1.7h-1.7zM105.1,626.3h1.3v1.3h-1.3zM104.9,601.5h1.4v1.4h-1.4zM93.6,639.0h2.3v2.3h-2.3zM93.8,629.0h1.4v1.4h-1.4zM109.2,660.8h2.1v2.1h-2.1zM99.6,602.2h1.4v1.4h-1.4zM109.6,615.0h1.8v1.8h-1.8zM115.5,637.9h1.7v1.7h-1.7zM104.9,633.1h2.8v2.8h-2.8zM110.8,624.2h2.2v2.2h-2.2zM108.7,654.7h2.8v2.8h-2.8zM101.8,651.4h2.6v2.6h-2.6zM113.4,639.9h2.8v2.8h-2.8zM113.4,652.2h2.2v2.2h-2.2zM92.8,641.6h1.8v1.8h-1.8zM107.7,616.7h1.8v1.8h-1.8zM91.4,629.6h2.1v2.1h-2.1zM99.2,621.0h2.8v2.8h-2.8zM94.2,621.7h1.5v1.5h-1.5zM97.7,625.4h2.0v2.0h-2.0zM105.3,615.8h2.3v2.3h-2.3zM106.3,626.7h2.6v2.6h-2.6zM107.2,601.8h3.0v3.0h-3.0zM108.5,657.0h1.7v1.7h-1.7zM102.7,624.2h2.5v2.5h-2.5zM97.4,655.7h3.0v3.0h-3.0zM97.4,647.9h1.9v1.9h-1.9zM97.2,653.7h2.0v2.0h-2.0zM107.6,606.3h2.5v2.5h-2.5zM110.7,606.9h2.3v2.3h-2.3zM103.8,641.0h1.3v1.3h-1.3zM109.6,640.6h1.6v1.6h-1.6zM107.8,633.7h1.4v1.4h-1.4zM106.0,634.3h3.0v3.0h-3.0zM106.2,635.8h2.2v2.2h-2.2zM107.0,640.4h1.4v1.4h-1.4zM108.0,608.8h2.0v2.0h-2.0zM104.5,611.6h1.6v1.6h-1.6zM104.2,603.0h2.3v2.3h-2.3zM108.4,608.2h1.4v1.4h-1.4zM100.1,651.4h1.8v1.8h-1.8zM108.2,623.8h1.8v1.8h-1.8zM94.9,638.3h1.3v1.3h-1.3zM106.1,649.3h1.9v1.9h-1.9zM93.2,633.9h1.3v1.3h-1.3zM97.2,619.2h2.8v2.8h-2.8zM108.6,616.9h2.9v2.9h-2.9zM91.3,630.6h2.8v2.8h-2.8zM91.4,629.7h2.3v2.3h-2.3zM109.1,650.2h1.3v1.3h-1.3zM108.1,602.7h1.6v1.6h-1.6z" fill="#4a5ab8" opacity="0.8"/><path d="M108.5,660.1h1.6v1.6h-1.6zM97.9,602.5h2.6v2.6h-2.6zM114.6,642.2h2.5v2.5h-2.5zM103.4,639.8h2.1v2.1h-2.1zM113.2,626.9h1.7v1.7h-1.7zM108.8,609.0h2.6v2.6h-2.6zM100.8,633.1h2.9v2.9h-2.9zM114.1,616.4h1.9v1.9h-1.9zM93.6,631.4h2.3v2.3h-2.3zM99.5,636.1h3.0v3.0h-3.0zM100.1,617.5h2.9v2.9h-2.9zM104.2,634.8h2.4v2.4h-2.4zM96.5,608.5h1.5v1.5h-1.5zM95.5,636.3h1.9v1.9h-1.9zM111.8,616.7h2.0v2.0h-2.0zM93.1,639.4h2.2v2.2h-2.2zM105.2,642.7h2.2v2.2h-2.2zM100.4,634.9h2.7v2.7h-2.7zM107.6,625.9h2.8v2.8h-2.8zM96.0,655.6h2.1v2.1h-2.1zM103.7,600.4h2.1v2.1h-2.1zM111.2,606.4h2.8v2.8h-2.8zM101.8,625.6h2.8v2.8h-2.8zM100.0,627.1h2.3v2.3h-2.3zM100.3,636.2h2.2v2.2h-2.2z" fill="#60b0a0" opacity="0.8"/><ellipse cx="101.20" cy="640.20" rx="5.5" ry="9" fill="#76788a"/><ellipse cx="103.20" cy="610.20" rx="2.5" ry="5" fill="#76788a"/><ellipse cx="104.20" cy="620.20" rx="3.5" ry="5" fill="#48b8a0" opacity="0.75"/><ellipse cx="104.20" cy="627.20" rx="6" ry="1.0" fill="#2838a8" opacity="0.75"/><ellipse cx="107.20" cy="650.20" rx="3" ry="3" fill="#40a8a8" opacity="0.75"/></g><path d="M104.20,603.20 C105.03,603.03 106.03,604.03 106.70,605.20 C107.37,606.37 107.87,608.53 108.20,610.20 C108.53,611.87 108.37,613.20 108.70,615.20 C109.03,617.20 109.87,620.03 110.20,622.20 C110.53,624.37 110.03,626.37 110.70,628.20 C111.37,630.03 113.37,631.20 114.20,633.20 C115.03,635.20 115.70,638.03 115.70,640.20 C115.70,642.37 114.95,644.53 114.20,646.20 C113.45,647.87 112.20,648.87 111.20,650.20 C110.20,651.53 109.37,653.03 108.20,654.20 C107.03,655.37 105.53,656.53 104.20,657.20 C102.87,657.87 101.53,658.37 100.20,658.20 C98.87,658.03 97.28,657.20 96.20,656.20 C95.12,655.20 94.20,654.03 93.70,652.20 C93.20,650.37 93.12,647.87 93.20,645.20 C93.28,642.53 93.70,639.03 94.20,636.20 C94.70,633.37 95.53,630.87 96.20,628.20 C96.87,625.53 97.53,622.70 98.20,620.20 C98.87,617.70 99.62,615.53 100.20,613.20 C100.78,610.87 101.03,607.87 101.70,606.20 C102.37,604.53 103.37,603.37 104.20,603.20 Z" fill="none" stroke="#3444c4" stroke-width="0.8"/><circle cx="102.20" cy="617.20" r="1.60" fill="#d8c040" opacity="0.85"/><circle cx="102.20" cy="617.20" r="0.64" fill="#e05038"/><circle cx="106.20" cy="619.20" r="1.60" fill="#d8c040" opacity="0.85"/><circle cx="106.20" cy="619.20" r="0.64" fill="#e05038"/><ellipse cx="111.70" cy="637.20" rx="3.60" ry="5.40" fill="#b0c848"/><ellipse cx="111.70" cy="637.20" rx="3.00" ry="4.80" fill="#d83050"/><ellipse cx="111.70" cy="637.20" rx="2.20" ry="4.00" fill="#bcb0bc"/><ellipse cx="95.00" cy="650.20" rx="2.70" ry="4.60" fill="#b0c848"/><ellipse cx="95.00" cy="650.20" rx="2.10" ry="4.00" fill="#d83050"/><ellipse cx="95.00" cy="650.20" rx="1.30" ry="3.20" fill="#bcb0bc"/><ellipse cx="105.70" cy="660.20" rx="0.9" ry="0.9" fill="#eeeeee"/><path d="M100.2,657.2 Q97.2,665.2 92.7,672.2" fill="none" stroke="#4050c8" stroke-width="0.9"/></g><polygon points="112.20,647.20 115.40,645.70 115.00,649.10" fill="#fff"/><line x1="114.60" y1="647.80" x2="116.50" y2="653.20" stroke="#ddd" stroke-width="0.6"/></g></svg></g>
<g><rect x="126.90" y="600.20" width="25.90" height="73.10" fill="#000"/><svg x="126.90" y="600.20" width="25.90" height="73.10" overflow="hidden"><g transform="translate(-126.90,-600.20)"><defs><clipPath id="pc10"><path d="M139.90,603.70 C140.90,603.37 142.07,604.28 142.90,605.20 C143.73,606.12 144.48,607.87 144.90,609.20 C145.32,610.53 144.90,612.20 145.40,613.20 C145.90,614.20 147.40,614.37 147.90,615.20 C148.40,616.03 148.57,617.37 148.40,618.20 C148.23,619.03 146.82,618.87 146.90,620.20 C146.98,621.53 148.23,623.87 148.90,626.20 C149.57,628.53 150.48,631.20 150.90,634.20 C151.32,637.20 151.57,641.20 151.40,644.20 C151.23,647.20 150.82,650.03 149.90,652.20 C148.98,654.37 147.40,656.03 145.90,657.20 C144.40,658.37 142.57,659.03 140.90,659.20 C139.23,659.37 137.23,658.87 135.90,658.20 C134.57,657.53 133.65,656.87 132.90,655.20 C132.15,653.53 131.65,651.03 131.40,648.20 C131.15,645.37 131.32,641.53 131.40,638.20 C131.48,634.87 131.57,631.20 131.90,628.20 C132.23,625.20 133.40,622.03 133.40,620.20 C133.40,618.37 131.82,618.20 131.90,617.20 C131.98,616.20 133.15,615.03 133.90,614.20 C134.65,613.37 135.90,613.37 136.40,612.20 C136.90,611.03 136.32,608.62 136.90,607.20 C137.48,605.78 138.90,604.03 139.90,603.70 Z"/></clipPath></defs><path d="M132.08,606.30 V601.80 H147.62 V606.30 M134.08,606.30 V604.30 H137.58 M145.62,606.30 V604.30 H142.12" fill="none" stroke="#8a8a8a" stroke-width="0.9"/><line x1="129.10" y1="600.20" x2="129.10" y2="673.30" stroke="#666" stroke-width="0.5"/><line x1="150.60" y1="600.20" x2="150.60" y2="673.30" stroke="#666" stroke-width="0.5"/><g filter="url(#bl)"><g clip-path="url(#pc10)"><rect x="126.9" y="600.2" width="25.9" height="73.1" fill="#4a7aa8"/><path d="M132.3,627.8h2.7v2.7h-2.7zM133.1,656.8h1.7v1.7h-1.7zM126.1,634.7h2.1v2.1h-2.1zM129.6,636.0h2.2v2.2h-2.2zM144.9,655.5h1.3v1.3h-1.3zM131.5,612.1h1.6v1.6h-1.6zM145.6,636.3h2.5v2.5h-2.5zM137.5,619.0h1.6v1.6h-1.6zM129.4,629.3h2.5v2.5h-2.5zM145.4,658.6h1.6v1.6h-1.6zM135.5,656.0h2.8v2.8h-2.8zM148.3,645.9h2.9v2.9h-2.9zM132.1,658.7h1.6v1.6h-1.6zM137.9,644.8h2.9v2.9h-2.9zM144.1,618.3h3.0v3.0h-3.0zM132.2,626.9h1.3v1.3h-1.3zM139.8,633.1h2.3v2.3h-2.3zM127.9,629.1h2.6v2.6h-2.6zM133.0,607.7h2.9v2.9h-2.9zM133.2,629.0h2.3v2.3h-2.3zM148.7,630.7h2.4v2.4h-2.4zM138.8,644.6h1.5v1.5h-1.5zM127.5,638.2h2.6v2.6h-2.6zM132.8,639.1h2.6v2.6h-2.6zM145.4,631.1h1.3v1.3h-1.3zM126.4,629.7h1.7v1.7h-1.7zM125.5,632.1h2.6v2.6h-2.6zM136.3,640.7h2.6v2.6h-2.6zM144.9,632.3h2.0v2.0h-2.0zM135.1,646.3h2.5v2.5h-2.5zM143.5,650.7h1.6v1.6h-1.6zM142.2,610.9h2.6v2.6h-2.6zM131.3,653.7h2.6v2.6h-2.6zM127.7,627.3h3.0v3.0h-3.0zM133.6,650.7h2.6v2.6h-2.6zM151.6,629.6h2.0v2.0h-2.0zM133.2,655.3h2.4v2.4h-2.4zM141.2,655.9h2.3v2.3h-2.3zM136.7,645.7h2.8v2.8h-2.8zM135.6,651.7h1.9v1.9h-1.9zM134.0,612.7h2.3v2.3h-2.3zM150.1,620.5h1.8v1.8h-1.8zM137.1,623.5h2.9v2.9h-2.9zM145.5,622.6h1.9v1.9h-1.9zM139.3,635.7h2.9v2.9h-2.9zM131.3,628.2h1.7v1.7h-1.7zM142.1,609.3h1.4v1.4h-1.4zM136.2,616.0h2.4v2.4h-2.4zM144.0,643.2h1.8v1.8h-1.8zM137.4,614.7h2.8v2.8h-2.8zM146.4,620.8h2.2v2.2h-2.2zM143.1,603.4h1.8v1.8h-1.8zM129.0,623.6h2.4v2.4h-2.4zM140.9,662.1h2.0v2.0h-2.0zM147.2,647.9h2.8v2.8h-2.8zM134.1,632.3h3.0v3.0h-3.0zM131.4,612.9h3.0v3.0h-3.0zM138.5,662.1h1.7v1.7h-1.7zM139.3,662.8h2.0v2.0h-2.0zM134.4,603.9h3.1v3.1h-3.1zM148.7,633.9h2.4v2.4h-2.4zM132.6,646.7h1.7v1.7h-1.7zM146.7,637.3h2.8v2.8h-2.8zM142.3,616.7h1.8v1.8h-1.8zM149.7,621.5h2.7v2.7h-2.7zM132.2,644.2h2.0v2.0h-2.0zM145.9,629.0h1.4v1.4h-1.4zM149.2,649.8h2.0v2.0h-2.0zM136.8,623.4h2.1v2.1h-2.1z" fill="#4a5ab8" opacity="0.8"/><path d="M129.1,613.3h1.6v1.6h-1.6zM137.9,621.2h2.1v2.1h-2.1zM142.3,652.8h2.1v2.1h-2.1zM142.9,640.8h1.6v1.6h-1.6zM150.5,623.5h2.9v2.9h-2.9zM141.3,603.4h2.7v2.7h-2.7zM138.9,606.6h2.9v2.9h-2.9zM128.3,631.1h1.3v1.3h-1.3zM150.8,620.5h2.0v2.0h-2.0zM131.9,632.2h1.9v1.9h-1.9zM135.5,658.4h2.5v2.5h-2.5zM142.7,630.6h1.8v1.8h-1.8zM135.5,609.9h1.9v1.9h-1.9zM138.1,641.8h2.9v2.9h-2.9zM132.2,650.9h3.0v3.0h-3.0zM146.3,639.7h1.3v1.3h-1.3zM143.8,642.9h2.2v2.2h-2.2zM145.7,649.0h2.2v2.2h-2.2zM136.1,655.0h2.5v2.5h-2.5zM128.6,624.2h2.7v2.7h-2.7zM149.6,614.5h1.3v1.3h-1.3zM131.2,636.6h2.1v2.1h-2.1zM128.5,623.5h1.4v1.4h-1.4zM139.6,639.3h1.6v1.6h-1.6zM140.7,600.7h2.5v2.5h-2.5zM128.7,628.6h2.8v2.8h-2.8zM132.0,622.0h3.0v3.0h-3.0zM128.5,648.4h1.8v1.8h-1.8zM138.1,605.5h2.0v2.0h-2.0zM145.7,618.1h1.9v1.9h-1.9zM136.4,620.4h1.5v1.5h-1.5zM142.5,633.3h2.5v2.5h-2.5z" fill="#c89048" opacity="0.8"/><path d="M136.7,614.9h2.8v2.8h-2.8zM144.0,649.1h2.4v2.4h-2.4zM132.9,613.8h2.8v2.8h-2.8zM130.8,655.6h1.9v1.9h-1.9zM134.1,631.4h1.3v1.3h-1.3zM138.0,629.5h2.7v2.7h-2.7zM140.9,613.7h2.3v2.3h-2.3zM138.4,661.2h1.6v1.6h-1.6zM131.6,609.1h2.4v2.4h-2.4zM132.1,632.8h1.9v1.9h-1.9zM145.5,631.1h2.9v2.9h-2.9zM131.8,629.7h2.9v2.9h-2.9zM138.8,652.3h1.3v1.3h-1.3zM147.5,644.4h2.3v2.3h-2.3zM138.8,641.3h2.9v2.9h-2.9zM129.3,635.7h2.1v2.1h-2.1zM133.1,614.4h1.4v1.4h-1.4zM132.8,632.7h1.5v1.5h-1.5zM148.8,631.2h2.7v2.7h-2.7zM136.2,618.4h2.5v2.5h-2.5zM130.5,653.2h2.8v2.8h-2.8zM129.5,627.3h2.8v2.8h-2.8z" fill="#60b0a0" opacity="0.8"/><path d="M150.6,642.3h2.1v2.1h-2.1zM137.2,644.7h1.7v1.7h-1.7zM140.1,613.3h2.9v2.9h-2.9zM139.3,639.9h1.7v1.7h-1.7zM147.3,623.5h2.9v2.9h-2.9zM138.6,601.5h2.0v2.0h-2.0zM141.6,631.4h1.4v1.4h-1.4zM131.1,657.1h1.6v1.6h-1.6zM131.5,632.7h2.9v2.9h-2.9zM139.6,621.7h1.8v1.8h-1.8zM139.6,626.4h2.1v2.1h-2.1zM140.8,662.6h2.4v2.4h-2.4zM144.0,623.5h1.6v1.6h-1.6zM148.9,643.7h3.0v3.0h-3.0zM140.5,647.5h2.7v2.7h-2.7zM136.5,639.5h2.6v2.6h-2.6zM142.2,650.5h2.9v2.9h-2.9zM146.4,636.6h2.8v2.8h-2.8zM147.7,617.4h1.7v1.7h-1.7zM142.8,659.1h1.9v1.9h-1.9zM134.1,628.2h1.4v1.4h-1.4zM137.7,636.6h1.9v1.9h-1.9zM142.6,647.1h1.8v1.8h-1.8zM134.9,618.3h2.3v2.3h-2.3zM136.9,618.8h2.5v2.5h-2.5zM144.2,608.0h2.0v2.0h-2.0zM127.0,642.4h2.4v2.4h-2.4zM134.0,615.8h2.1v2.1h-2.1zM140.9,626.8h1.7v1.7h-1.7zM146.2,623.4h1.8v1.8h-1.8zM149.2,613.0h2.2v2.2h-2.2zM142.0,606.0h1.6v1.6h-1.6zM131.5,646.3h2.0v2.0h-2.0zM145.7,620.0h2.6v2.6h-2.6zM141.3,613.2h2.7v2.7h-2.7zM143.9,633.4h1.7v1.7h-1.7zM142.4,609.4h2.3v2.3h-2.3zM143.7,655.7h1.8v1.8h-1.8zM142.1,633.9h2.5v2.5h-2.5z" fill="#50b0a8" opacity="0.8"/><path d="M146.9,608.9h2.3v2.3h-2.3zM140.5,662.4h1.9v1.9h-1.9zM147.9,643.7h3.0v3.0h-3.0zM147.8,648.7h1.9v1.9h-1.9zM127.6,630.2h2.5v2.5h-2.5zM143.5,628.1h1.9v1.9h-1.9zM146.2,614.8h1.9v1.9h-1.9zM127.3,633.8h1.3v1.3h-1.3zM144.3,654.9h2.3v2.3h-2.3zM144.5,604.6h2.2v2.2h-2.2zM128.8,631.4h2.3v2.3h-2.3zM133.2,630.8h2.5v2.5h-2.5zM137.1,654.9h2.2v2.2h-2.2zM143.3,635.3h1.9v1.9h-1.9zM144.3,635.5h1.4v1.4h-1.4zM148.5,653.9h1.7v1.7h-1.7zM140.7,602.1h2.2v2.2h-2.2zM128.3,634.1h2.9v2.9h-2.9zM143.1,626.3h2.6v2.6h-2.6zM131.9,649.7h1.7v1.7h-1.7zM140.8,605.2h2.7v2.7h-2.7zM136.4,661.1h2.9v2.9h-2.9zM133.8,655.4h2.8v2.8h-2.8zM143.6,622.2h2.3v2.3h-2.3zM138.0,621.2h3.0v3.0h-3.0zM138.0,639.8h1.5v1.5h-1.5zM142.8,656.0h2.2v2.2h-2.2zM143.6,635.3h3.0v3.0h-3.0zM137.6,634.2h2.0v2.0h-2.0z" fill="#98c860" opacity="0.8"/><path d="M145.2,652.0h1.5v1.5h-1.5zM130.1,612.2h2.1v2.1h-2.1zM134.5,649.6h2.4v2.4h-2.4zM141.8,659.6h1.5v1.5h-1.5zM147.2,629.2h2.0v2.0h-2.0zM135.6,614.5h2.6v2.6h-2.6zM131.6,618.1h2.8v2.8h-2.8zM131.2,655.9h2.8v2.8h-2.8zM129.8,636.7h2.6v2.6h-2.6zM129.6,635.1h1.6v1.6h-1.6zM134.8,614.5h2.3v2.3h-2.3zM147.9,651.0h1.5v1.5h-1.5zM140.5,639.1h2.2v2.2h-2.2zM138.6,646.9h3.0v3.0h-3.0zM132.5,654.4h1.9v1.9h-1.9zM146.0,657.5h1.4v1.4h-1.4zM141.2,602.5h2.2v2.2h-2.2zM130.1,643.2h1.3v1.3h-1.3zM132.9,647.8h2.2v2.2h-2.2zM146.6,646.4h1.5v1.5h-1.5zM144.4,611.0h2.3v2.3h-2.3zM147.5,608.1h2.1v2.1h-2.1zM138.2,631.5h1.4v1.4h-1.4zM144.9,604.2h1.7v1.7h-1.7zM138.5,602.2h1.7v1.7h-1.7zM138.4,651.6h1.5v1.5h-1.5zM132.5,628.0h2.7v2.7h-2.7zM143.9,630.5h1.8v1.8h-1.8zM135.0,616.1h2.7v2.7h-2.7zM144.1,651.4h2.0v2.0h-2.0zM147.3,644.4h2.5v2.5h-2.5zM146.4,654.6h2.0v2.0h-2.0zM148.5,642.5h2.3v2.3h-2.3zM136.9,656.8h1.8v1.8h-1.8zM148.3,611.0h3.0v3.0h-3.0zM135.6,600.5h2.8v2.8h-2.8z" fill="#707480" opacity="0.8"/><path d="M150.3,632.9h2.6v2.6h-2.6zM134.8,622.8h2.4v2.4h-2.4zM141.0,607.3h2.5v2.5h-2.5zM140.1,641.7h2.9v2.9h-2.9zM139.0,619.0h2.8v2.8h-2.8zM141.5,650.6h2.5v2.5h-2.5zM146.3,642.8h1.9v1.9h-1.9zM127.6,636.9h1.7v1.7h-1.7zM140.6,652.6h2.1v2.1h-2.1zM126.0,632.6h1.9v1.9h-1.9zM126.5,640.3h2.1v2.1h-2.1zM126.8,619.4h2.5v2.5h-2.5zM134.4,607.4h1.3v1.3h-1.3zM137.3,662.6h2.2v2.2h-2.2zM134.5,613.2h3.0v3.0h-3.0zM131.3,651.6h3.0v3.0h-3.0zM133.6,646.6h1.5v1.5h-1.5zM131.5,620.5h2.1v2.1h-2.1zM136.7,611.5h1.6v1.6h-1.6zM143.7,605.6h1.8v1.8h-1.8zM130.9,645.3h1.8v1.8h-1.8zM134.3,606.6h2.3v2.3h-2.3zM141.9,604.0h1.4v1.4h-1.4zM144.5,645.2h2.5v2.5h-2.5zM129.9,629.4h1.9v1.9h-1.9zM136.6,660.2h2.5v2.5h-2.5zM129.6,625.7h1.8v1.8h-1.8zM144.5,615.9h2.0v2.0h-2.0zM144.3,653.4h2.5v2.5h-2.5zM135.9,662.5h2.8v2.8h-2.8zM137.8,634.4h1.9v1.9h-1.9zM139.6,656.9h2.3v2.3h-2.3zM139.2,657.2h1.9v1.9h-1.9zM139.6,608.9h3.0v3.0h-3.0zM142.1,620.0h2.8v2.8h-2.8zM137.4,640.8h3.0v3.0h-3.0zM134.8,648.2h2.8v2.8h-2.8zM140.5,610.0h2.8v2.8h-2.8zM140.0,624.7h1.9v1.9h-1.9zM135.1,604.2h2.4v2.4h-2.4zM143.7,608.3h2.6v2.6h-2.6zM140.1,629.0h2.6v2.6h-2.6zM134.1,641.6h1.7v1.7h-1.7zM138.5,603.1h2.8v2.8h-2.8zM141.2,642.8h2.9v2.9h-2.9zM138.7,650.0h2.1v2.1h-2.1zM145.2,641.1h2.8v2.8h-2.8zM145.8,632.3h1.9v1.9h-1.9zM132.9,630.4h1.4v1.4h-1.4zM137.8,622.9h2.9v2.9h-2.9zM143.2,648.7h2.4v2.4h-2.4zM142.7,627.1h1.8v1.8h-1.8zM135.5,615.9h2.3v2.3h-2.3zM145.0,633.3h2.5v2.5h-2.5zM145.1,655.2h1.7v1.7h-1.7zM130.1,636.3h2.4v2.4h-2.4z" fill="#58b870" opacity="0.8"/><path d="M140.2,619.5h2.3v2.3h-2.3zM150.6,635.4h1.4v1.4h-1.4zM130.6,640.0h1.3v1.3h-1.3zM149.8,620.7h1.9v1.9h-1.9zM127.9,633.3h1.6v1.6h-1.6zM135.2,607.3h1.8v1.8h-1.8zM141.0,629.7h2.8v2.8h-2.8zM126.6,636.0h1.6v1.6h-1.6zM141.1,638.1h2.0v2.0h-2.0zM147.5,646.8h2.8v2.8h-2.8zM144.8,612.5h3.0v3.0h-3.0zM144.6,603.0h2.0v2.0h-2.0zM142.5,614.8h3.0v3.0h-3.0zM134.2,639.4h2.5v2.5h-2.5zM127.2,626.0h1.6v1.6h-1.6zM134.4,639.6h2.2v2.2h-2.2zM134.5,646.9h2.0v2.0h-2.0zM129.9,611.6h2.6v2.6h-2.6zM134.2,634.3h1.8v1.8h-1.8zM137.7,617.0h2.4v2.4h-2.4z" fill="#6a6e80" opacity="0.8"/><path d="M132.2,627.9h1.9v1.9h-1.9zM141.3,606.7h2.4v2.4h-2.4zM128.6,627.2h1.3v1.3h-1.3zM127.5,623.3h1.3v1.3h-1.3zM143.6,615.7h3.0v3.0h-3.0zM131.9,614.0h2.8v2.8h-2.8zM134.3,606.3h1.7v1.7h-1.7zM147.8,611.4h2.9v2.9h-2.9zM144.5,619.6h2.7v2.7h-2.7zM140.1,658.1h2.8v2.8h-2.8zM138.4,654.3h1.7v1.7h-1.7zM142.2,626.9h2.2v2.2h-2.2zM140.7,614.9h2.9v2.9h-2.9zM136.9,601.4h2.5v2.5h-2.5zM131.0,633.7h1.7v1.7h-1.7zM146.3,644.1h1.7v1.7h-1.7zM129.3,629.1h1.8v1.8h-1.8zM145.0,658.6h3.0v3.0h-3.0zM134.3,607.3h2.2v2.2h-2.2zM128.5,620.4h1.9v1.9h-1.9zM144.9,617.7h2.8v2.8h-2.8zM135.6,610.3h2.7v2.7h-2.7zM141.3,623.2h2.6v2.6h-2.6zM127.8,642.7h2.8v2.8h-2.8zM145.2,647.0h2.1v2.1h-2.1zM138.4,658.0h1.6v1.6h-1.6zM149.3,625.1h3.0v3.0h-3.0z" fill="#3848a8" opacity="0.8"/><ellipse cx="139.40" cy="636.20" rx="5" ry="3.2" fill="#76788a"/><ellipse cx="139.90" cy="610.20" rx="3" ry="5" fill="#40c0b0" opacity="0.75"/><ellipse cx="138.90" cy="630.20" rx="7" ry="3" fill="#50c070" opacity="0.75"/><ellipse cx="139.90" cy="645.20" rx="7" ry="4" fill="#50c070" opacity="0.75"/><ellipse cx="145.90" cy="628.20" rx="3" ry="3" fill="#40b8a8" opacity="0.75"/><ellipse cx="142.90" cy="622.20" rx="2" ry="2" fill="#d8a040" opacity="0.75"/></g><path d="M139.90,603.70 C140.90,603.37 142.07,604.28 142.90,605.20 C143.73,606.12 144.48,607.87 144.90,609.20 C145.32,610.53 144.90,612.20 145.40,613.20 C145.90,614.20 147.40,614.37 147.90,615.20 C148.40,616.03 148.57,617.37 148.40,618.20 C148.23,619.03 146.82,618.87 146.90,620.20 C146.98,621.53 148.23,623.87 148.90,626.20 C149.57,628.53 150.48,631.20 150.90,634.20 C151.32,637.20 151.57,641.20 151.40,644.20 C151.23,647.20 150.82,650.03 149.90,652.20 C148.98,654.37 147.40,656.03 145.90,657.20 C144.40,658.37 142.57,659.03 140.90,659.20 C139.23,659.37 137.23,658.87 135.90,658.20 C134.57,657.53 133.65,656.87 132.90,655.20 C132.15,653.53 131.65,651.03 131.40,648.20 C131.15,645.37 131.32,641.53 131.40,638.20 C131.48,634.87 131.57,631.20 131.90,628.20 C132.23,625.20 133.40,622.03 133.40,620.20 C133.40,618.37 131.82,618.20 131.90,617.20 C131.98,616.20 133.15,615.03 133.90,614.20 C134.65,613.37 135.90,613.37 136.40,612.20 C136.90,611.03 136.32,608.62 136.90,607.20 C137.48,605.78 138.90,604.03 139.90,603.70 Z" fill="none" stroke="#3444c4" stroke-width="0.8"/><circle cx="144.90" cy="620.20" r="1.70" fill="#d8c040" opacity="0.85"/><circle cx="144.90" cy="620.20" r="0.72" fill="#e05038"/><circle cx="134.90" cy="644.20" r="1.60" fill="#d8c040" opacity="0.85"/><circle cx="134.90" cy="644.20" r="0.64" fill="#e05038"/><ellipse cx="138.90" cy="652.20" rx="4.80" ry="4.80" fill="#b0c848"/><ellipse cx="138.90" cy="652.20" rx="4.20" ry="4.20" fill="#d83050"/><ellipse cx="138.90" cy="652.20" rx="3.40" ry="3.40" fill="#bcb0bc"/><ellipse cx="136.90" cy="625.20" rx="3.60" ry="3.80" fill="#b0c848"/><ellipse cx="136.90" cy="625.20" rx="3.00" ry="3.20" fill="#d83050"/><ellipse cx="136.90" cy="625.20" rx="2.20" ry="2.40" fill="#bcb0bc"/><ellipse cx="148.40" cy="644.20" rx="2.80" ry="4.20" fill="#b0c848"/><ellipse cx="148.40" cy="644.20" rx="2.20" ry="3.60" fill="#d83050"/><ellipse cx="148.40" cy="644.20" rx="1.40" ry="2.80" fill="#bcb0bc"/><ellipse cx="131.90" cy="661.20" rx="1.0" ry="0.8" fill="#eeeeee"/><ellipse cx="139.90" cy="663.20" rx="0.9" ry="0.9" fill="#eeeeee"/><ellipse cx="139.90" cy="670.20" rx="0.8" ry="1.3" fill="#eeeeee"/></g><polygon points="147.40,650.20 150.60,648.70 150.20,652.10" fill="#fff"/><line x1="149.80" y1="650.80" x2="151.70" y2="656.20" stroke="#ddd" stroke-width="0.6"/></g></svg></g>
<g><rect x="157.60" y="600.20" width="25.60" height="73.10" fill="#000"/><svg x="157.60" y="600.20" width="25.60" height="73.10" overflow="hidden"><g transform="translate(-157.60,-600.20)"><defs><clipPath id="pc11"><path d="M170.60,603.20 C171.35,603.20 172.43,604.03 173.10,605.20 C173.77,606.37 174.02,608.70 174.60,610.20 C175.18,611.70 175.93,613.20 176.60,614.20 C177.27,615.20 178.43,615.20 178.60,616.20 C178.77,617.20 177.60,618.20 177.60,620.20 C177.60,622.20 178.35,625.20 178.60,628.20 C178.85,631.20 179.10,634.87 179.10,638.20 C179.10,641.53 179.02,645.37 178.60,648.20 C178.18,651.03 177.60,653.37 176.60,655.20 C175.60,657.03 174.10,658.53 172.60,659.20 C171.10,659.87 169.10,659.70 167.60,659.20 C166.10,658.70 164.60,658.03 163.60,656.20 C162.60,654.37 161.93,651.20 161.60,648.20 C161.27,645.20 161.52,641.53 161.60,638.20 C161.68,634.87 161.85,631.20 162.10,628.20 C162.35,625.20 163.10,622.20 163.10,620.20 C163.10,618.20 161.85,617.20 162.10,616.20 C162.35,615.20 163.85,615.20 164.60,614.20 C165.35,613.20 165.93,611.70 166.60,610.20 C167.27,608.70 167.93,606.37 168.60,605.20 C169.27,604.03 169.85,603.20 170.60,603.20 Z"/></clipPath></defs><path d="M162.72,606.30 V601.80 H178.08 V606.30 M164.72,606.30 V604.30 H168.22 M176.08,606.30 V604.30 H172.58" fill="none" stroke="#8a8a8a" stroke-width="0.9"/><g filter="url(#bl)"><g clip-path="url(#pc11)"><rect x="157.6" y="600.2" width="25.6" height="73.1" fill="#4a7aa8"/><path d="M176.4,627.7h3.0v3.0h-3.0zM178.8,619.1h1.6v1.6h-1.6zM165.3,623.4h2.7v2.7h-2.7zM161.2,646.1h2.9v2.9h-2.9zM164.0,631.0h2.7v2.7h-2.7zM158.2,638.4h1.5v1.5h-1.5zM165.9,639.9h2.4v2.4h-2.4zM164.4,617.5h1.5v1.5h-1.5zM174.2,636.4h1.9v1.9h-1.9zM176.3,620.0h1.4v1.4h-1.4zM179.5,617.6h1.8v1.8h-1.8zM173.9,646.5h2.0v2.0h-2.0zM164.3,625.3h2.6v2.6h-2.6zM174.8,623.6h1.7v1.7h-1.7zM173.6,622.5h2.2v2.2h-2.2zM165.5,625.3h3.0v3.0h-3.0zM175.9,611.0h2.0v2.0h-2.0zM159.4,642.8h2.2v2.2h-2.2zM157.1,631.4h1.8v1.8h-1.8zM163.9,626.9h1.9v1.9h-1.9zM176.0,638.0h2.4v2.4h-2.4zM174.5,662.0h1.4v1.4h-1.4zM171.3,603.3h2.3v2.3h-2.3zM164.2,621.5h2.7v2.7h-2.7zM176.5,618.4h1.3v1.3h-1.3zM174.5,637.3h1.8v1.8h-1.8zM166.9,643.1h2.6v2.6h-2.6zM168.0,626.6h1.5v1.5h-1.5zM174.8,660.7h2.3v2.3h-2.3zM166.5,623.2h2.9v2.9h-2.9zM163.3,628.9h1.4v1.4h-1.4zM169.9,640.4h2.5v2.5h-2.5zM169.6,642.1h2.3v2.3h-2.3zM177.1,646.0h2.1v2.1h-2.1zM171.0,661.8h1.9v1.9h-1.9zM179.4,641.9h1.3v1.3h-1.3z" fill="#50b0a8" opacity="0.8"/><path d="M170.0,606.6h2.4v2.4h-2.4zM163.8,613.5h1.8v1.8h-1.8zM164.8,601.0h2.8v2.8h-2.8zM177.7,648.4h2.7v2.7h-2.7zM170.4,661.8h2.0v2.0h-2.0zM173.4,641.7h1.7v1.7h-1.7zM171.0,604.4h1.9v1.9h-1.9zM169.6,654.0h2.4v2.4h-2.4zM161.3,619.4h2.6v2.6h-2.6zM173.3,645.5h1.8v1.8h-1.8zM157.9,630.8h3.1v3.1h-3.1zM170.7,628.9h1.7v1.7h-1.7zM166.6,658.7h1.6v1.6h-1.6zM180.8,631.6h2.2v2.2h-2.2zM171.9,603.4h2.5v2.5h-2.5zM168.6,599.5h2.8v2.8h-2.8zM178.3,626.3h1.8v1.8h-1.8zM176.7,634.4h1.5v1.5h-1.5zM161.4,653.2h2.2v2.2h-2.2zM159.3,622.8h2.8v2.8h-2.8zM174.0,651.4h2.9v2.9h-2.9zM160.5,649.6h2.6v2.6h-2.6zM174.6,616.0h1.4v1.4h-1.4zM170.0,651.6h2.4v2.4h-2.4zM172.6,652.5h2.2v2.2h-2.2zM158.6,648.7h1.9v1.9h-1.9z" fill="#c89048" opacity="0.8"/><path d="M173.1,606.3h2.2v2.2h-2.2zM174.8,652.1h1.7v1.7h-1.7zM164.5,640.7h2.3v2.3h-2.3zM175.3,629.9h1.9v1.9h-1.9zM167.4,642.0h2.6v2.6h-2.6zM178.3,622.4h2.2v2.2h-2.2zM178.3,638.6h1.3v1.3h-1.3zM158.4,618.3h3.0v3.0h-3.0zM170.0,647.1h2.7v2.7h-2.7zM157.2,638.0h1.9v1.9h-1.9zM160.6,642.2h1.9v1.9h-1.9zM170.4,634.0h2.6v2.6h-2.6zM169.8,614.9h2.5v2.5h-2.5zM163.8,619.6h1.6v1.6h-1.6zM163.4,649.7h1.5v1.5h-1.5zM162.0,648.0h2.3v2.3h-2.3zM173.1,627.9h1.9v1.9h-1.9zM162.5,650.7h2.9v2.9h-2.9zM163.4,620.8h1.3v1.3h-1.3zM172.0,610.6h1.5v1.5h-1.5zM181.0,625.7h2.1v2.1h-2.1zM181.1,636.4h3.0v3.0h-3.0z" fill="#98c860" opacity="0.8"/><path d="M170.8,639.8h3.0v3.0h-3.0zM166.9,631.9h1.7v1.7h-1.7zM163.5,644.2h3.0v3.0h-3.0zM165.5,630.5h1.4v1.4h-1.4zM164.4,650.4h1.4v1.4h-1.4zM178.1,648.2h2.7v2.7h-2.7zM175.3,622.9h2.5v2.5h-2.5zM173.8,621.3h2.5v2.5h-2.5zM168.0,641.8h1.8v1.8h-1.8zM179.6,645.0h1.4v1.4h-1.4zM169.0,642.4h2.2v2.2h-2.2zM166.2,606.6h1.4v1.4h-1.4zM178.0,637.3h2.2v2.2h-2.2zM160.0,617.2h2.4v2.4h-2.4zM163.4,615.1h2.6v2.6h-2.6zM168.4,650.8h2.6v2.6h-2.6zM169.2,637.2h2.4v2.4h-2.4zM181.2,638.7h2.1v2.1h-2.1zM169.6,606.1h1.5v1.5h-1.5zM170.8,645.4h1.9v1.9h-1.9zM180.5,628.9h2.7v2.7h-2.7zM158.7,619.9h1.4v1.4h-1.4zM169.1,662.5h1.5v1.5h-1.5zM165.5,646.2h2.4v2.4h-2.4zM163.7,631.0h2.9v2.9h-2.9zM171.0,638.2h2.8v2.8h-2.8zM173.2,627.2h1.5v1.5h-1.5zM165.7,611.6h2.3v2.3h-2.3zM176.3,643.1h1.7v1.7h-1.7zM166.6,607.9h2.9v2.9h-2.9zM177.3,642.6h2.5v2.5h-2.5zM173.3,643.8h2.7v2.7h-2.7zM171.2,618.8h1.4v1.4h-1.4zM165.9,653.0h2.6v2.6h-2.6z" fill="#6a6e80" opacity="0.8"/><path d="M161.9,613.1h2.9v2.9h-2.9zM180.0,636.3h2.1v2.1h-2.1zM180.5,640.5h2.5v2.5h-2.5zM165.6,661.8h1.3v1.3h-1.3zM173.7,649.7h2.8v2.8h-2.8zM167.7,639.8h1.9v1.9h-1.9zM171.2,627.1h2.9v2.9h-2.9zM175.7,653.4h2.1v2.1h-2.1zM171.6,626.0h2.0v2.0h-2.0zM169.0,616.9h1.8v1.8h-1.8zM173.5,660.0h2.7v2.7h-2.7zM173.9,645.1h2.8v2.8h-2.8zM161.8,615.4h1.6v1.6h-1.6zM175.8,639.2h1.9v1.9h-1.9zM167.0,646.7h2.5v2.5h-2.5zM161.9,649.5h3.0v3.0h-3.0zM168.3,635.1h2.9v2.9h-2.9zM173.8,658.0h1.3v1.3h-1.3zM161.0,645.1h2.2v2.2h-2.2zM165.4,605.0h2.6v2.6h-2.6zM176.0,654.2h1.3v1.3h-1.3zM168.9,635.6h2.8v2.8h-2.8zM176.3,649.6h1.6v1.6h-1.6zM163.9,628.6h3.0v3.0h-3.0zM168.1,618.0h2.7v2.7h-2.7zM175.6,619.2h2.9v2.9h-2.9zM169.8,613.1h1.3v1.3h-1.3zM162.8,610.9h1.8v1.8h-1.8zM161.4,639.1h1.6v1.6h-1.6zM165.8,603.4h2.7v2.7h-2.7zM169.9,607.6h1.9v1.9h-1.9zM164.3,649.0h2.8v2.8h-2.8z" fill="#707480" opacity="0.8"/><path d="M162.1,623.8h2.9v2.9h-2.9zM160.7,639.1h2.6v2.6h-2.6zM181.4,621.7h2.1v2.1h-2.1zM163.9,654.1h2.0v2.0h-2.0zM171.5,611.2h1.7v1.7h-1.7zM170.8,630.8h1.8v1.8h-1.8zM168.4,603.6h3.0v3.0h-3.0zM169.5,655.6h2.0v2.0h-2.0zM173.1,635.3h2.8v2.8h-2.8zM164.8,623.2h2.4v2.4h-2.4zM173.4,621.5h1.8v1.8h-1.8zM165.6,638.7h2.1v2.1h-2.1zM175.0,616.9h2.1v2.1h-2.1zM177.3,610.9h3.0v3.0h-3.0zM161.7,608.3h2.0v2.0h-2.0zM159.6,627.0h1.4v1.4h-1.4zM161.9,649.3h1.8v1.8h-1.8zM157.7,642.1h2.7v2.7h-2.7zM179.5,647.1h2.3v2.3h-2.3zM170.0,616.7h2.1v2.1h-2.1zM168.6,617.6h1.8v1.8h-1.8zM163.0,653.6h3.0v3.0h-3.0zM174.1,646.9h2.4v2.4h-2.4zM171.7,608.1h2.1v2.1h-2.1zM172.4,623.2h1.7v1.7h-1.7zM172.6,654.6h2.4v2.4h-2.4zM165.7,612.3h2.6v2.6h-2.6zM172.5,629.2h2.5v2.5h-2.5zM179.1,622.5h1.7v1.7h-1.7zM165.3,626.0h2.0v2.0h-2.0zM159.1,631.8h2.8v2.8h-2.8zM175.6,631.3h1.3v1.3h-1.3zM160.2,615.9h1.6v1.6h-1.6zM168.6,610.6h1.5v1.5h-1.5zM164.2,632.6h1.5v1.5h-1.5zM165.4,636.1h1.6v1.6h-1.6zM170.1,650.9h2.3v2.3h-2.3zM162.7,659.4h3.0v3.0h-3.0zM162.0,644.9h2.0v2.0h-2.0zM164.7,643.9h1.5v1.5h-1.5zM168.7,641.8h2.8v2.8h-2.8zM158.2,639.3h1.9v1.9h-1.9zM168.3,622.0h1.8v1.8h-1.8zM162.9,653.8h2.0v2.0h-2.0zM173.6,638.8h3.0v3.0h-3.0zM159.4,640.8h2.8v2.8h-2.8zM166.7,602.9h1.9v1.9h-1.9zM171.2,624.3h1.5v1.5h-1.5zM165.0,649.6h1.8v1.8h-1.8zM164.7,655.4h2.2v2.2h-2.2zM170.1,633.7h1.9v1.9h-1.9zM160.3,650.0h3.0v3.0h-3.0zM157.2,625.1h1.7v1.7h-1.7zM173.5,619.9h2.7v2.7h-2.7zM168.3,636.3h1.8v1.8h-1.8zM159.3,619.0h1.4v1.4h-1.4zM173.6,623.1h1.3v1.3h-1.3zM171.5,634.7h2.0v2.0h-2.0zM181.9,629.1h1.5v1.5h-1.5zM173.9,661.9h1.6v1.6h-1.6zM168.7,611.9h2.8v2.8h-2.8z" fill="#58b870" opacity="0.8"/><path d="M168.8,649.2h2.0v2.0h-2.0zM168.9,658.2h1.4v1.4h-1.4zM170.1,606.3h1.9v1.9h-1.9zM172.4,606.5h2.0v2.0h-2.0zM178.6,619.7h1.8v1.8h-1.8zM160.8,616.9h2.0v2.0h-2.0zM166.6,645.4h2.7v2.7h-2.7zM175.3,625.0h2.6v2.6h-2.6zM177.4,621.4h1.9v1.9h-1.9zM158.0,637.4h1.8v1.8h-1.8zM162.4,608.6h2.2v2.2h-2.2zM177.3,645.4h2.8v2.8h-2.8zM162.3,621.1h1.7v1.7h-1.7zM179.7,619.0h2.9v2.9h-2.9zM181.3,640.0h1.8v1.8h-1.8zM165.4,634.5h2.9v2.9h-2.9zM178.0,621.5h2.2v2.2h-2.2zM162.1,628.5h2.5v2.5h-2.5zM162.9,650.7h1.7v1.7h-1.7zM172.3,600.3h2.9v2.9h-2.9zM163.6,605.5h2.0v2.0h-2.0zM169.0,633.1h1.4v1.4h-1.4zM180.6,620.1h2.6v2.6h-2.6z" fill="#60b0a0" opacity="0.8"/><path d="M168.9,658.7h2.9v2.9h-2.9zM170.5,646.3h2.5v2.5h-2.5zM165.1,621.3h3.0v3.0h-3.0zM169.2,609.0h1.4v1.4h-1.4zM175.7,608.3h2.3v2.3h-2.3zM168.9,630.4h2.1v2.1h-2.1zM169.4,615.3h2.9v2.9h-2.9zM171.3,616.8h1.9v1.9h-1.9zM171.5,662.8h2.7v2.7h-2.7zM157.3,627.4h3.0v3.0h-3.0zM176.3,643.7h1.6v1.6h-1.6zM166.6,603.5h2.2v2.2h-2.2zM167.8,655.7h2.2v2.2h-2.2zM167.1,633.5h3.1v3.1h-3.1zM163.9,610.7h2.4v2.4h-2.4zM172.3,645.5h1.4v1.4h-1.4zM164.5,619.6h2.1v2.1h-2.1zM180.4,621.2h2.6v2.6h-2.6zM166.7,615.0h2.5v2.5h-2.5zM173.1,617.4h2.1v2.1h-2.1zM175.7,634.0h2.9v2.9h-2.9zM170.0,648.5h1.7v1.7h-1.7zM163.7,650.5h2.5v2.5h-2.5zM164.0,650.5h2.2v2.2h-2.2zM178.9,624.4h2.2v2.2h-2.2zM165.5,610.7h3.0v3.0h-3.0zM172.2,619.8h1.6v1.6h-1.6zM177.3,656.5h2.6v2.6h-2.6zM165.0,638.4h2.6v2.6h-2.6zM174.5,650.2h2.7v2.7h-2.7zM178.8,649.4h2.2v2.2h-2.2zM170.4,648.0h1.3v1.3h-1.3zM176.0,611.8h2.9v2.9h-2.9zM180.1,615.5h2.0v2.0h-2.0zM171.9,600.7h2.6v2.6h-2.6zM177.2,646.8h2.0v2.0h-2.0zM169.1,657.3h1.8v1.8h-1.8zM172.4,644.7h1.5v1.5h-1.5zM174.8,660.2h1.9v1.9h-1.9zM173.6,610.2h1.8v1.8h-1.8zM167.2,623.2h1.3v1.3h-1.3zM172.5,624.4h1.6v1.6h-1.6zM175.2,654.2h1.8v1.8h-1.8zM170.8,628.9h1.4v1.4h-1.4zM174.3,660.4h2.2v2.2h-2.2zM172.3,629.2h1.3v1.3h-1.3zM169.6,600.3h1.9v1.9h-1.9zM162.3,645.7h1.8v1.8h-1.8zM171.4,629.1h2.0v2.0h-2.0zM161.5,658.1h3.0v3.0h-3.0zM175.8,604.4h1.7v1.7h-1.7zM176.2,608.3h2.1v2.1h-2.1zM163.6,656.0h2.7v2.7h-2.7zM157.1,639.8h1.8v1.8h-1.8zM166.0,648.4h2.1v2.1h-2.1zM169.1,605.1h1.9v1.9h-1.9zM178.9,631.3h1.9v1.9h-1.9zM159.3,641.8h2.8v2.8h-2.8z" fill="#4a5ab8" opacity="0.8"/><path d="M166.5,635.2h1.3v1.3h-1.3zM180.4,636.6h2.8v2.8h-2.8zM163.1,613.5h1.5v1.5h-1.5zM171.0,630.4h1.7v1.7h-1.7zM166.3,629.8h2.8v2.8h-2.8zM159.8,653.1h3.0v3.0h-3.0zM177.1,640.4h2.0v2.0h-2.0zM173.4,649.4h3.0v3.0h-3.0zM179.2,615.1h2.9v2.9h-2.9zM161.8,651.0h2.5v2.5h-2.5zM164.9,649.3h3.1v3.1h-3.1zM173.7,621.4h2.7v2.7h-2.7zM168.6,654.6h1.5v1.5h-1.5zM171.8,657.1h2.3v2.3h-2.3zM163.9,622.7h3.0v3.0h-3.0zM169.3,655.7h1.7v1.7h-1.7zM167.3,616.6h2.2v2.2h-2.2zM166.1,618.3h2.2v2.2h-2.2zM172.7,660.3h1.3v1.3h-1.3zM165.9,656.5h2.7v2.7h-2.7zM167.5,628.9h2.9v2.9h-2.9zM172.7,618.3h1.7v1.7h-1.7zM176.1,648.1h3.0v3.0h-3.0zM179.5,644.1h2.5v2.5h-2.5zM173.0,652.3h2.8v2.8h-2.8zM164.4,646.2h1.5v1.5h-1.5zM166.0,615.2h2.6v2.6h-2.6zM157.4,626.5h1.3v1.3h-1.3zM160.7,624.6h1.3v1.3h-1.3zM165.2,606.1h2.1v2.1h-2.1zM168.3,602.5h2.8v2.8h-2.8zM173.8,602.4h1.9v1.9h-1.9zM158.2,624.3h1.4v1.4h-1.4zM169.1,648.4h1.5v1.5h-1.5zM178.4,645.6h2.0v2.0h-2.0zM165.4,640.0h2.8v2.8h-2.8zM160.0,615.3h1.7v1.7h-1.7zM164.6,601.4h2.0v2.0h-2.0z" fill="#3848a8" opacity="0.8"/><ellipse cx="168.60" cy="636.20" rx="3.5" ry="2.2" fill="#76788a"/><ellipse cx="170.60" cy="612.20" rx="3.5" ry="6" fill="#58c078" opacity="0.75"/><ellipse cx="169.60" cy="626.20" rx="6" ry="3" fill="#58c070" opacity="0.75"/><ellipse cx="169.60" cy="644.20" rx="6" ry="7" fill="#60c070" opacity="0.75"/><ellipse cx="173.60" cy="617.20" rx="2" ry="4" fill="#d8a040" opacity="0.75"/><ellipse cx="165.60" cy="617.20" rx="2" ry="2" fill="#d8a040" opacity="0.75"/></g><path d="M170.60,603.20 C171.35,603.20 172.43,604.03 173.10,605.20 C173.77,606.37 174.02,608.70 174.60,610.20 C175.18,611.70 175.93,613.20 176.60,614.20 C177.27,615.20 178.43,615.20 178.60,616.20 C178.77,617.20 177.60,618.20 177.60,620.20 C177.60,622.20 178.35,625.20 178.60,628.20 C178.85,631.20 179.10,634.87 179.10,638.20 C179.10,641.53 179.02,645.37 178.60,648.20 C178.18,651.03 177.60,653.37 176.60,655.20 C175.60,657.03 174.10,658.53 172.60,659.20 C171.10,659.87 169.10,659.70 167.60,659.20 C166.10,658.70 164.60,658.03 163.60,656.20 C162.60,654.37 161.93,651.20 161.60,648.20 C161.27,645.20 161.52,641.53 161.60,638.20 C161.68,634.87 161.85,631.20 162.10,628.20 C162.35,625.20 163.10,622.20 163.10,620.20 C163.10,618.20 161.85,617.20 162.10,616.20 C162.35,615.20 163.85,615.20 164.60,614.20 C165.35,613.20 165.93,611.70 166.60,610.20 C167.27,608.70 167.93,606.37 168.60,605.20 C169.27,604.03 169.85,603.20 170.60,603.20 Z" fill="none" stroke="#3444c4" stroke-width="0.8"/><circle cx="171.60" cy="606.20" r="1.80" fill="#d8c040" opacity="0.85"/><circle cx="171.60" cy="606.20" r="0.80" fill="#e05038"/><circle cx="173.60" cy="615.20" r="1.80" fill="#d8c040" opacity="0.85"/><circle cx="173.60" cy="615.20" r="0.80" fill="#e05038"/><circle cx="165.60" cy="618.20" r="1.80" fill="#d8c040" opacity="0.85"/><circle cx="165.60" cy="618.20" r="0.80" fill="#e05038"/><circle cx="174.60" cy="647.20" r="1.70" fill="#d8c040" opacity="0.85"/><circle cx="174.60" cy="647.20" r="0.72" fill="#e05038"/><circle cx="164.60" cy="648.20" r="1.60" fill="#d8c040" opacity="0.85"/><circle cx="164.60" cy="648.20" r="0.64" fill="#e05038"/><circle cx="170.60" cy="654.20" r="1.60" fill="#d8c040" opacity="0.85"/><circle cx="170.60" cy="654.20" r="0.64" fill="#e05038"/><ellipse cx="166.60" cy="658.20" rx="0.9" ry="0.9" fill="#eeeeee"/><ellipse cx="173.60" cy="659.20" rx="0.9" ry="0.9" fill="#eeeeee"/><ellipse cx="169.60" cy="666.20" rx="0.9" ry="1.4" fill="#eeeeee"/></g><polygon points="176.60,649.20 179.80,647.70 179.40,651.10" fill="#fff"/><line x1="179.00" y1="649.80" x2="180.90" y2="655.20" stroke="#ddd" stroke-width="0.6"/></g></svg></g>
<g><rect x="188.30" y="600.20" width="25.30" height="73.10" fill="#000"/><svg x="188.30" y="600.20" width="25.30" height="73.10" overflow="hidden"><g transform="translate(-188.30,-600.20)"><defs><clipPath id="pc12"><path d="M200.70,603.70 C201.70,603.37 202.87,604.28 203.70,605.20 C204.53,606.12 205.28,607.87 205.70,609.20 C206.12,610.53 205.70,612.20 206.20,613.20 C206.70,614.20 208.20,614.37 208.70,615.20 C209.20,616.03 209.37,617.37 209.20,618.20 C209.03,619.03 207.62,618.87 207.70,620.20 C207.78,621.53 209.03,623.87 209.70,626.20 C210.37,628.53 211.28,631.20 211.70,634.20 C212.12,637.20 212.37,641.20 212.20,644.20 C212.03,647.20 211.62,650.03 210.70,652.20 C209.78,654.37 208.20,656.03 206.70,657.20 C205.20,658.37 203.37,659.03 201.70,659.20 C200.03,659.37 198.03,658.87 196.70,658.20 C195.37,657.53 194.45,656.87 193.70,655.20 C192.95,653.53 192.45,651.03 192.20,648.20 C191.95,645.37 192.12,641.53 192.20,638.20 C192.28,634.87 192.37,631.20 192.70,628.20 C193.03,625.20 194.20,622.03 194.20,620.20 C194.20,618.37 192.62,618.20 192.70,617.20 C192.78,616.20 193.95,615.03 194.70,614.20 C195.45,613.37 196.70,613.37 197.20,612.20 C197.70,611.03 197.12,608.62 197.70,607.20 C198.28,605.78 199.70,604.03 200.70,603.70 Z"/></clipPath></defs><path d="M193.36,606.30 V601.80 H208.54 V606.30 M195.36,606.30 V604.30 H198.86 M206.54,606.30 V604.30 H203.04" fill="none" stroke="#8a8a8a" stroke-width="0.9"/><line x1="190.50" y1="600.20" x2="190.50" y2="673.30" stroke="#666" stroke-width="0.5"/><line x1="211.40" y1="600.20" x2="211.40" y2="673.30" stroke="#666" stroke-width="0.5"/><g filter="url(#bl)"><g clip-path="url(#pc12)"><rect x="188.3" y="600.2" width="25.3" height="73.1" fill="#4a7aa8"/><path d="M209.0,617.8h2.5v2.5h-2.5zM204.4,611.4h1.7v1.7h-1.7zM203.0,629.5h2.6v2.6h-2.6zM202.4,649.6h1.3v1.3h-1.3zM195.3,649.7h2.6v2.6h-2.6zM190.0,627.2h2.0v2.0h-2.0zM188.6,638.6h1.7v1.7h-1.7zM212.0,631.7h2.7v2.7h-2.7zM204.2,644.7h1.8v1.8h-1.8zM193.9,635.5h2.7v2.7h-2.7zM205.1,632.3h2.2v2.2h-2.2zM206.2,653.9h1.5v1.5h-1.5zM187.7,633.5h1.6v1.6h-1.6zM197.5,654.3h1.4v1.4h-1.4zM197.3,625.2h1.9v1.9h-1.9zM191.0,614.0h1.5v1.5h-1.5zM204.9,623.3h1.9v1.9h-1.9zM208.7,652.9h1.9v1.9h-1.9zM207.3,607.1h1.5v1.5h-1.5zM190.9,648.4h2.6v2.6h-2.6zM197.0,627.4h2.8v2.8h-2.8zM204.7,628.9h1.3v1.3h-1.3zM205.8,627.5h2.1v2.1h-2.1zM201.3,608.8h1.5v1.5h-1.5zM203.4,627.0h1.5v1.5h-1.5zM192.8,626.4h1.7v1.7h-1.7zM194.3,654.7h1.4v1.4h-1.4zM196.5,601.3h2.8v2.8h-2.8zM205.8,622.9h2.2v2.2h-2.2zM198.4,661.7h2.2v2.2h-2.2zM204.5,605.5h3.0v3.0h-3.0zM207.8,631.4h1.4v1.4h-1.4zM198.2,655.4h2.1v2.1h-2.1zM196.5,634.8h2.9v2.9h-2.9zM201.6,625.4h2.2v2.2h-2.2zM199.6,615.7h2.8v2.8h-2.8zM211.1,622.1h1.3v1.3h-1.3zM193.7,617.1h2.0v2.0h-2.0zM191.5,630.9h2.8v2.8h-2.8zM194.4,624.2h2.5v2.5h-2.5zM206.3,609.4h2.6v2.6h-2.6zM206.3,627.7h2.2v2.2h-2.2zM200.9,640.2h1.6v1.6h-1.6zM189.9,627.1h1.6v1.6h-1.6zM191.9,656.2h1.3v1.3h-1.3zM200.2,637.5h2.6v2.6h-2.6zM201.8,647.5h2.5v2.5h-2.5zM202.2,620.2h2.9v2.9h-2.9zM194.8,636.4h2.2v2.2h-2.2zM205.2,621.0h1.8v1.8h-1.8zM194.1,614.1h1.3v1.3h-1.3zM199.4,654.3h2.5v2.5h-2.5zM203.3,610.4h2.9v2.9h-2.9z" fill="#4a5ab8" opacity="0.8"/><path d="M195.1,624.7h2.8v2.8h-2.8zM204.3,652.4h2.4v2.4h-2.4zM198.8,644.1h2.8v2.8h-2.8zM187.7,635.4h2.3v2.3h-2.3zM189.8,617.8h2.3v2.3h-2.3zM210.8,646.3h2.6v2.6h-2.6zM188.0,623.9h3.0v3.0h-3.0zM202.3,636.8h1.7v1.7h-1.7zM191.7,618.9h1.3v1.3h-1.3zM203.6,648.4h2.7v2.7h-2.7zM203.3,659.6h3.1v3.1h-3.1zM200.9,609.7h1.4v1.4h-1.4zM208.1,654.9h2.4v2.4h-2.4zM196.1,636.4h1.5v1.5h-1.5zM204.5,637.9h1.4v1.4h-1.4zM198.2,607.1h1.7v1.7h-1.7zM188.5,622.8h2.7v2.7h-2.7zM192.2,634.0h2.4v2.4h-2.4zM204.0,636.0h2.9v2.9h-2.9zM193.6,610.2h3.0v3.0h-3.0zM206.4,625.7h2.7v2.7h-2.7zM204.5,621.7h1.5v1.5h-1.5zM203.5,627.8h1.5v1.5h-1.5zM210.3,633.7h2.6v2.6h-2.6zM209.7,647.7h2.2v2.2h-2.2zM198.2,630.4h2.9v2.9h-2.9zM196.3,610.1h2.3v2.3h-2.3zM208.4,644.1h1.5v1.5h-1.5zM197.3,642.2h2.7v2.7h-2.7zM210.3,639.4h2.8v2.8h-2.8z" fill="#6a6e80" opacity="0.8"/><path d="M190.2,637.1h2.6v2.6h-2.6zM198.4,651.9h2.8v2.8h-2.8zM205.5,645.3h1.3v1.3h-1.3zM187.6,640.7h2.1v2.1h-2.1zM192.1,651.8h2.3v2.3h-2.3zM198.9,625.5h2.2v2.2h-2.2zM199.2,625.9h2.2v2.2h-2.2zM189.3,639.5h1.5v1.5h-1.5zM196.2,643.4h2.4v2.4h-2.4zM194.3,659.8h2.7v2.7h-2.7zM206.0,620.9h1.3v1.3h-1.3zM203.6,657.0h1.4v1.4h-1.4zM194.1,616.0h2.1v2.1h-2.1zM205.9,609.8h3.0v3.0h-3.0zM192.3,640.4h2.0v2.0h-2.0zM205.0,616.9h1.9v1.9h-1.9zM209.1,629.1h1.9v1.9h-1.9zM187.8,637.4h2.0v2.0h-2.0zM202.2,628.5h2.5v2.5h-2.5zM193.6,648.9h2.3v2.3h-2.3zM196.9,630.2h3.0v3.0h-3.0zM195.5,635.4h2.7v2.7h-2.7zM204.7,604.8h1.5v1.5h-1.5zM199.9,641.8h1.3v1.3h-1.3zM189.3,636.5h1.4v1.4h-1.4zM210.5,645.0h1.7v1.7h-1.7zM193.4,647.4h3.0v3.0h-3.0zM196.4,636.3h2.7v2.7h-2.7zM200.3,607.4h1.4v1.4h-1.4zM204.7,661.5h2.6v2.6h-2.6zM204.7,645.5h2.9v2.9h-2.9z" fill="#60b0a0" opacity="0.8"/><path d="M192.7,635.0h2.9v2.9h-2.9zM210.7,644.9h2.9v2.9h-2.9zM205.6,661.2h2.0v2.0h-2.0zM205.9,642.8h1.5v1.5h-1.5zM202.0,624.4h2.5v2.5h-2.5zM201.0,635.3h2.1v2.1h-2.1zM206.5,632.4h1.7v1.7h-1.7zM209.9,645.5h1.6v1.6h-1.6zM202.0,639.3h1.9v1.9h-1.9zM191.2,622.0h1.4v1.4h-1.4zM200.3,657.1h2.2v2.2h-2.2zM189.2,625.1h2.4v2.4h-2.4zM192.4,628.4h1.5v1.5h-1.5zM207.9,627.2h2.3v2.3h-2.3zM193.3,611.8h2.8v2.8h-2.8zM195.1,617.8h2.9v2.9h-2.9zM198.1,608.5h1.8v1.8h-1.8zM190.8,630.4h2.6v2.6h-2.6zM197.3,629.6h1.9v1.9h-1.9zM199.6,661.2h2.2v2.2h-2.2zM211.5,642.6h2.0v2.0h-2.0zM188.6,640.8h2.3v2.3h-2.3zM196.8,642.0h2.8v2.8h-2.8zM188.2,643.4h2.4v2.4h-2.4zM198.5,641.0h2.1v2.1h-2.1zM188.8,623.7h1.4v1.4h-1.4zM199.3,647.2h2.5v2.5h-2.5zM209.4,635.4h2.5v2.5h-2.5zM198.6,655.6h1.4v1.4h-1.4zM200.6,612.3h1.8v1.8h-1.8zM196.6,650.2h2.7v2.7h-2.7zM203.8,657.7h2.2v2.2h-2.2zM191.0,630.2h1.5v1.5h-1.5zM197.7,639.5h3.0v3.0h-3.0zM202.4,601.2h1.6v1.6h-1.6zM197.8,658.4h2.0v2.0h-2.0zM199.0,601.7h2.1v2.1h-2.1zM202.3,657.4h2.3v2.3h-2.3zM201.5,645.6h1.8v1.8h-1.8zM192.9,617.6h1.5v1.5h-1.5zM210.3,619.2h1.3v1.3h-1.3zM209.7,619.4h2.2v2.2h-2.2zM201.0,654.2h2.5v2.5h-2.5zM197.5,639.4h2.1v2.1h-2.1zM191.7,622.7h1.6v1.6h-1.6zM207.6,651.6h1.9v1.9h-1.9zM194.7,657.5h2.3v2.3h-2.3zM201.0,646.7h2.9v2.9h-2.9zM195.8,657.7h2.8v2.8h-2.8zM196.0,610.8h2.9v2.9h-2.9zM210.1,625.1h1.6v1.6h-1.6zM205.6,604.7h2.6v2.6h-2.6zM201.8,607.3h2.5v2.5h-2.5zM208.1,655.4h1.5v1.5h-1.5zM211.3,624.8h1.8v1.8h-1.8z" fill="#58b870" opacity="0.8"/><path d="M187.9,627.0h2.7v2.7h-2.7zM193.9,654.0h2.2v2.2h-2.2zM192.0,626.4h2.7v2.7h-2.7zM211.0,635.3h2.6v2.6h-2.6zM194.8,609.7h1.4v1.4h-1.4zM190.1,650.7h2.0v2.0h-2.0zM201.6,615.7h2.5v2.5h-2.5zM195.2,646.6h2.6v2.6h-2.6zM202.7,654.7h1.7v1.7h-1.7zM205.1,649.3h3.0v3.0h-3.0zM207.5,652.3h2.6v2.6h-2.6zM204.0,654.9h1.8v1.8h-1.8zM195.6,655.0h2.7v2.7h-2.7zM190.8,630.7h1.7v1.7h-1.7zM191.0,636.7h1.8v1.8h-1.8zM203.1,649.5h1.5v1.5h-1.5zM209.8,640.0h2.4v2.4h-2.4zM191.3,621.9h2.5v2.5h-2.5zM197.8,655.7h1.5v1.5h-1.5zM191.0,635.2h1.4v1.4h-1.4zM203.8,645.3h2.0v2.0h-2.0zM200.3,622.8h1.4v1.4h-1.4zM190.7,642.9h2.4v2.4h-2.4zM195.8,609.8h3.0v3.0h-3.0zM194.9,637.4h2.0v2.0h-2.0zM208.6,608.4h1.6v1.6h-1.6zM201.8,628.2h1.3v1.3h-1.3zM208.3,624.4h2.2v2.2h-2.2zM201.6,644.7h2.5v2.5h-2.5zM203.9,657.6h2.7v2.7h-2.7zM206.3,657.7h2.5v2.5h-2.5zM204.8,607.9h3.0v3.0h-3.0zM201.1,661.9h2.7v2.7h-2.7zM195.7,627.5h1.7v1.7h-1.7zM196.6,625.0h2.0v2.0h-2.0z" fill="#3848a8" opacity="0.8"/><path d="M203.6,604.4h2.7v2.7h-2.7zM201.4,663.5h2.0v2.0h-2.0zM206.1,648.0h2.3v2.3h-2.3zM193.0,613.3h1.9v1.9h-1.9zM198.9,646.4h2.0v2.0h-2.0zM197.0,617.9h1.9v1.9h-1.9zM198.1,654.2h3.0v3.0h-3.0zM189.5,631.2h1.7v1.7h-1.7zM204.9,650.4h2.1v2.1h-2.1zM199.3,644.6h2.7v2.7h-2.7zM210.0,634.2h1.4v1.4h-1.4zM189.2,646.8h1.7v1.7h-1.7zM200.6,639.4h1.4v1.4h-1.4zM201.5,599.9h2.2v2.2h-2.2zM200.5,604.3h3.0v3.0h-3.0zM206.4,629.3h1.7v1.7h-1.7zM197.1,632.4h2.9v2.9h-2.9zM210.0,613.8h1.7v1.7h-1.7zM188.0,623.4h2.1v2.1h-2.1zM204.4,650.9h2.4v2.4h-2.4zM201.5,617.6h2.3v2.3h-2.3zM198.4,621.0h1.8v1.8h-1.8zM197.8,636.6h3.1v3.1h-3.1zM199.7,653.1h1.9v1.9h-1.9zM194.0,611.0h1.4v1.4h-1.4zM201.8,607.8h2.8v2.8h-2.8zM204.8,624.4h2.2v2.2h-2.2zM195.4,614.7h1.4v1.4h-1.4zM202.4,638.0h2.0v2.0h-2.0zM201.2,631.3h2.8v2.8h-2.8zM205.0,608.9h1.3v1.3h-1.3zM201.3,658.4h1.3v1.3h-1.3zM194.1,621.6h2.9v2.9h-2.9zM203.6,656.9h2.7v2.7h-2.7zM210.3,644.5h1.7v1.7h-1.7zM192.8,606.1h3.0v3.0h-3.0zM202.1,603.5h2.5v2.5h-2.5zM212.4,627.7h1.8v1.8h-1.8z" fill="#50b0a8" opacity="0.8"/><path d="M189.9,646.3h2.7v2.7h-2.7zM195.3,659.9h2.6v2.6h-2.6zM202.4,658.5h2.7v2.7h-2.7zM197.9,624.1h1.7v1.7h-1.7zM201.1,629.8h2.5v2.5h-2.5zM210.9,626.9h1.6v1.6h-1.6zM196.2,606.3h1.5v1.5h-1.5zM197.9,617.9h2.2v2.2h-2.2zM208.3,617.9h2.4v2.4h-2.4zM200.6,643.4h2.4v2.4h-2.4zM206.1,642.8h1.7v1.7h-1.7zM199.5,637.6h2.4v2.4h-2.4zM201.4,634.7h2.5v2.5h-2.5zM202.9,632.2h2.3v2.3h-2.3zM209.3,616.1h1.4v1.4h-1.4zM197.5,653.3h2.3v2.3h-2.3zM203.9,612.4h2.5v2.5h-2.5zM210.7,638.1h1.6v1.6h-1.6zM203.3,637.3h2.7v2.7h-2.7zM197.3,652.4h2.8v2.8h-2.8zM192.8,650.3h2.2v2.2h-2.2zM205.4,650.0h1.6v1.6h-1.6zM204.5,662.3h2.3v2.3h-2.3zM208.1,649.5h1.3v1.3h-1.3zM207.9,645.0h1.8v1.8h-1.8zM211.4,628.6h3.0v3.0h-3.0zM196.1,615.9h2.9v2.9h-2.9zM195.3,635.7h1.8v1.8h-1.8zM202.5,618.7h3.0v3.0h-3.0zM202.4,638.9h2.7v2.7h-2.7z" fill="#c89048" opacity="0.8"/><path d="M196.6,619.6h2.3v2.3h-2.3zM191.9,643.1h1.6v1.6h-1.6zM208.3,635.5h2.2v2.2h-2.2zM188.2,644.0h2.1v2.1h-2.1zM188.0,637.4h2.1v2.1h-2.1zM189.5,630.1h2.8v2.8h-2.8zM200.7,638.3h2.6v2.6h-2.6zM204.3,632.5h2.8v2.8h-2.8zM200.6,651.1h1.5v1.5h-1.5zM196.9,656.7h1.7v1.7h-1.7zM199.1,619.5h2.2v2.2h-2.2zM194.2,608.3h2.1v2.1h-2.1zM196.5,620.8h2.8v2.8h-2.8zM194.1,658.7h2.7v2.7h-2.7zM210.0,638.7h1.9v1.9h-1.9zM202.7,650.9h1.8v1.8h-1.8zM195.7,612.1h1.6v1.6h-1.6zM206.0,613.4h2.8v2.8h-2.8zM207.0,615.2h1.9v1.9h-1.9zM189.1,629.4h2.1v2.1h-2.1zM198.9,655.5h1.6v1.6h-1.6zM189.3,621.2h2.6v2.6h-2.6zM198.4,607.5h1.5v1.5h-1.5zM199.3,629.4h3.0v3.0h-3.0zM193.0,615.9h2.2v2.2h-2.2zM194.9,632.4h1.9v1.9h-1.9zM202.5,653.9h1.4v1.4h-1.4zM199.4,635.1h1.4v1.4h-1.4zM190.5,653.3h1.7v1.7h-1.7z" fill="#707480" opacity="0.8"/><path d="M206.4,647.9h3.0v3.0h-3.0zM201.7,659.2h2.1v2.1h-2.1zM194.4,641.0h1.8v1.8h-1.8zM188.9,619.8h1.8v1.8h-1.8zM207.6,624.2h2.8v2.8h-2.8zM211.3,617.0h1.4v1.4h-1.4zM203.5,648.1h1.8v1.8h-1.8zM201.2,618.3h1.8v1.8h-1.8zM206.2,642.8h1.4v1.4h-1.4zM202.6,619.9h1.6v1.6h-1.6zM189.2,619.9h1.9v1.9h-1.9zM192.0,636.4h2.3v2.3h-2.3zM190.8,633.3h2.5v2.5h-2.5zM208.2,647.8h1.3v1.3h-1.3zM212.1,624.5h1.7v1.7h-1.7zM200.8,607.4h1.7v1.7h-1.7zM209.6,624.0h2.0v2.0h-2.0zM202.7,655.3h1.4v1.4h-1.4zM209.9,638.2h2.3v2.3h-2.3zM209.9,621.1h2.4v2.4h-2.4zM193.4,646.8h1.4v1.4h-1.4zM206.1,626.2h2.5v2.5h-2.5zM189.7,634.1h2.3v2.3h-2.3zM204.5,612.0h1.3v1.3h-1.3zM204.4,658.2h2.2v2.2h-2.2zM189.9,619.2h2.5v2.5h-2.5zM187.9,628.4h1.8v1.8h-1.8zM203.5,602.9h1.7v1.7h-1.7zM209.0,650.9h2.3v2.3h-2.3z" fill="#98c860" opacity="0.8"/><ellipse cx="200.30" cy="635.20" rx="5" ry="3.2" fill="#76788a"/><ellipse cx="200.30" cy="610.20" rx="3" ry="5" fill="#40c0b0" opacity="0.75"/><ellipse cx="199.30" cy="629.20" rx="7" ry="3" fill="#50c070" opacity="0.75"/><ellipse cx="200.30" cy="644.20" rx="7" ry="4" fill="#50c070" opacity="0.75"/><ellipse cx="206.30" cy="628.20" rx="3" ry="3" fill="#40b8a8" opacity="0.75"/><ellipse cx="203.30" cy="622.20" rx="2" ry="2" fill="#d8a040" opacity="0.75"/></g><path d="M200.70,603.70 C201.70,603.37 202.87,604.28 203.70,605.20 C204.53,606.12 205.28,607.87 205.70,609.20 C206.12,610.53 205.70,612.20 206.20,613.20 C206.70,614.20 208.20,614.37 208.70,615.20 C209.20,616.03 209.37,617.37 209.20,618.20 C209.03,619.03 207.62,618.87 207.70,620.20 C207.78,621.53 209.03,623.87 209.70,626.20 C210.37,628.53 211.28,631.20 211.70,634.20 C212.12,637.20 212.37,641.20 212.20,644.20 C212.03,647.20 211.62,650.03 210.70,652.20 C209.78,654.37 208.20,656.03 206.70,657.20 C205.20,658.37 203.37,659.03 201.70,659.20 C200.03,659.37 198.03,658.87 196.70,658.20 C195.37,657.53 194.45,656.87 193.70,655.20 C192.95,653.53 192.45,651.03 192.20,648.20 C191.95,645.37 192.12,641.53 192.20,638.20 C192.28,634.87 192.37,631.20 192.70,628.20 C193.03,625.20 194.20,622.03 194.20,620.20 C194.20,618.37 192.62,618.20 192.70,617.20 C192.78,616.20 193.95,615.03 194.70,614.20 C195.45,613.37 196.70,613.37 197.20,612.20 C197.70,611.03 197.12,608.62 197.70,607.20 C198.28,605.78 199.70,604.03 200.70,603.70 Z" fill="none" stroke="#3444c4" stroke-width="0.8"/><circle cx="205.30" cy="620.20" r="1.70" fill="#d8c040" opacity="0.85"/><circle cx="205.30" cy="620.20" r="0.72" fill="#e05038"/><ellipse cx="199.80" cy="651.20" rx="4.80" ry="4.70" fill="#b0c848"/><ellipse cx="199.80" cy="651.20" rx="4.20" ry="4.10" fill="#d83050"/><ellipse cx="199.80" cy="651.20" rx="3.40" ry="3.30" fill="#bcb0bc"/><ellipse cx="197.30" cy="624.20" rx="3.60" ry="3.80" fill="#b0c848"/><ellipse cx="197.30" cy="624.20" rx="3.00" ry="3.20" fill="#d83050"/><ellipse cx="197.30" cy="624.20" rx="2.20" ry="2.40" fill="#bcb0bc"/><ellipse cx="208.80" cy="641.20" rx="2.80" ry="4.20" fill="#b0c848"/><ellipse cx="208.80" cy="641.20" rx="2.20" ry="3.60" fill="#d83050"/><ellipse cx="208.80" cy="641.20" rx="1.40" ry="2.80" fill="#bcb0bc"/><ellipse cx="193.30" cy="660.20" rx="1.0" ry="0.8" fill="#eeeeee"/><ellipse cx="201.30" cy="662.20" rx="0.9" ry="0.9" fill="#eeeeee"/><ellipse cx="201.30" cy="669.20" rx="0.8" ry="1.3" fill="#eeeeee"/></g><polygon points="208.30,649.20 211.50,647.70 211.10,651.10" fill="#fff"/><line x1="210.70" y1="649.80" x2="212.60" y2="655.20" stroke="#ddd" stroke-width="0.6"/></g></svg></g>
<rect x="23.80" y="609.70" width="4.50" height="43.80" fill="url(#jet)"/>
<text x="28.50" y="605.20" font-size="7.3" text-anchor="middle" font-weight="bold" fill="#222" stroke="#222" stroke-width="0.22" transform="rotate(-90 28.50 605.20)">5</text>
<text x="28.50" y="658.90" font-size="7.3" text-anchor="middle" font-weight="bold" fill="#222" stroke="#222" stroke-width="0.22" transform="rotate(-90 28.50 658.90)">0</text>
<text x="15.00" y="631.70" font-size="7.5" text-anchor="middle" font-weight="bold" stroke="#1a1a1a" stroke-width="0.22" transform="rotate(-90 15.00 631.70)" textLength="36.70" lengthAdjust="spacing">SUV value</text>
<path d="M45.6,674.4 L45.6,677.3 L102.3,677.3 L102.3,674.4" fill="none" stroke="#888" stroke-width="0.8"/>
<path d="M141.8,674.4 L141.8,677.3 L198.5,677.3 L198.5,674.4" fill="none" stroke="#888" stroke-width="0.8"/>
<text x="73.80" y="686.60" font-size="7.5" text-anchor="middle" font-weight="bold" fill="#222" stroke="#222" stroke-width="0.22">NC</text>
<text x="168.10" y="686.60" font-size="7.5" text-anchor="middle" font-weight="bold" fill="#222" stroke="#222" stroke-width="0.22" textLength="35.80" lengthAdjust="spacing">EPAS1-OE</text>
<line x1="245.00" y1="585.60" x2="245.00" y2="672.30" stroke="#aaa" stroke-width="1.0"/>
<line x1="244.50" y1="671.80" x2="332.70" y2="671.80" stroke="#aaa" stroke-width="1.0"/>
<line x1="242.50" y1="671.80" x2="245.00" y2="671.80" stroke="#aaa" stroke-width="0.9"/>
<text x="238.00" y="674.40" font-size="7.3" text-anchor="middle" fill="#222" stroke="#222" stroke-width="0.22">0</text>
<line x1="242.50" y1="652.82" x2="245.00" y2="652.82" stroke="#aaa" stroke-width="0.9"/>
<text x="238.00" y="655.42" font-size="7.3" text-anchor="middle" fill="#222" stroke="#222" stroke-width="0.22">1</text>
<line x1="242.50" y1="633.85" x2="245.00" y2="633.85" stroke="#aaa" stroke-width="0.9"/>
<text x="238.00" y="636.45" font-size="7.3" text-anchor="middle" fill="#222" stroke="#222" stroke-width="0.22">2</text>
<line x1="242.50" y1="614.88" x2="245.00" y2="614.88" stroke="#aaa" stroke-width="0.9"/>
<text x="238.00" y="617.48" font-size="7.3" text-anchor="middle" fill="#222" stroke="#222" stroke-width="0.22">3</text>
<line x1="242.50" y1="595.90" x2="245.00" y2="595.90" stroke="#aaa" stroke-width="0.9"/>
<text x="238.00" y="598.50" font-size="7.3" text-anchor="middle" fill="#222" stroke="#222" stroke-width="0.22">4</text>
<line x1="267.40" y1="671.80" x2="267.40" y2="674.30" stroke="#aaa" stroke-width="0.9"/>
<line x1="310.80" y1="671.80" x2="310.80" y2="674.30" stroke="#aaa" stroke-width="0.9"/>
<text x="268.60" y="686.60" font-size="7.3" text-anchor="middle" font-weight="bold" fill="#222" stroke="#222" stroke-width="0.22">NC</text>
<text x="310.30" y="686.60" font-size="7.3" text-anchor="middle" font-weight="bold" fill="#222" stroke="#222" stroke-width="0.22" textLength="37.60" lengthAdjust="spacing">EPAS1-OE</text>
<text x="229.30" y="629.00" font-size="7.5" text-anchor="middle" font-weight="bold" stroke="#1a1a1a" stroke-width="0.22" transform="rotate(-90 229.30 629.00)" textLength="61.80" lengthAdjust="spacing">SUVmax of tumor</text>
<line x1="253.10" y1="597.80" x2="281.70" y2="597.80" stroke="#a0a0a0" stroke-width="1.0"/>
<circle cx="267.40" cy="588.31" r="1.6" fill="#2e9a3a"/>
<circle cx="272.40" cy="597.80" r="1.6" fill="#2e9a3a"/>
<circle cx="267.40" cy="601.59" r="1.6" fill="#2e9a3a"/>
<rect x="309.10" y="613.38" width="3.40" height="3.00" fill="#ff2020"/>
<rect x="309.10" y="622.86" width="3.40" height="3.00" fill="#ff2020"/>
<rect x="309.10" y="630.45" width="3.40" height="3.00" fill="#ff2020"/>
<line x1="296.50" y1="624.36" x2="325.50" y2="624.36" stroke="#333" stroke-width="0.9"/>
<line x1="266.90" y1="582.90" x2="312.60" y2="582.90" stroke="#222" stroke-width="1.5"/>
<text x="289.70" y="582.10" font-size="7.5" text-anchor="middle" fill="#222" stroke="#222" stroke-width="0.3">*</text>
</svg></body></html>
